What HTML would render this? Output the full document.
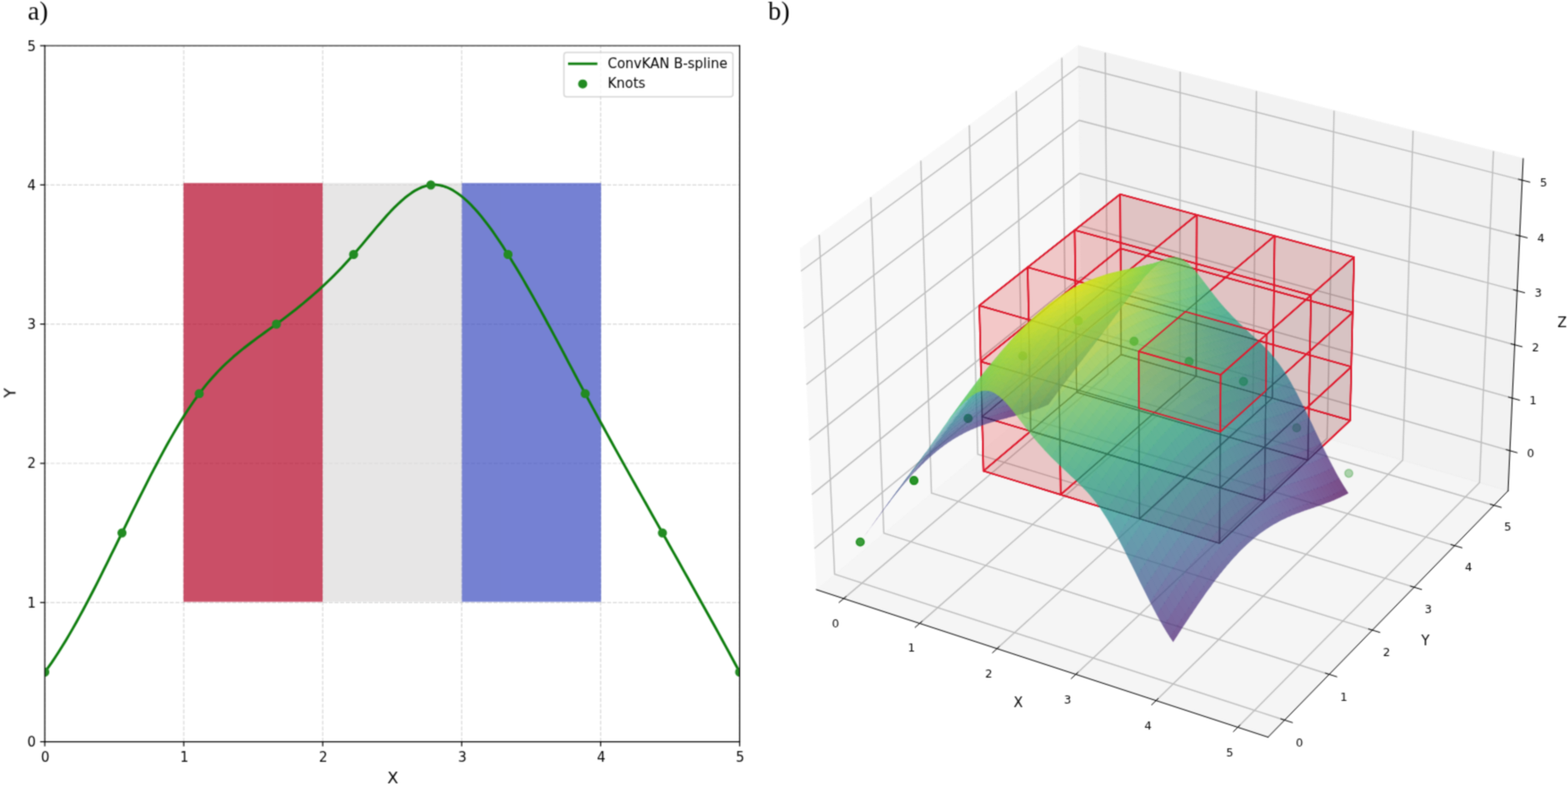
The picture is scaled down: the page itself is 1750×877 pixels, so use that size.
<!DOCTYPE html>
<html lang="en">
<head>
<meta charset="utf-8">
<title>ConvKAN B-spline</title>
<style>
html,body{margin:0;padding:0;background:#fff;}
body{width:1750px;height:877px;overflow:hidden;position:relative;font-family:"DejaVu Sans","Liberation Sans",sans-serif;}
svg{position:absolute;left:0;top:0;display:block;}
.sf path{opacity:0.7}
</style>
</head>
<body>
<svg width="1750" height="877" viewBox="0 0 1750 877">
<defs><clipPath id="c0"><rect x="50" y="51" width="775.5" height="776.6"/></clipPath><clipPath id="c1"><rect x="843.29" y="-18.34" width="897.52" height="897.52"/></clipPath><clipPath id="outs"><path clip-rule="evenodd" d="M-10 -10H1760V887H-10ZM998 552.2L960.1 604.8L976.1 582.7L992.4 560.7L1001.7 548.9L1010.4 538.5L1021.2 526.3L1029.8 517.5L1040.6 507.5L1049.2 500.4L1057.8 494.1L1066.4 488.6L1075 483.8L1085.6 478.7L1094.1 475.3L1104.6 471.7L1115.1 468.6L1134.4 463.5L1151.1 485.3L1162.2 498.2L1169.5 506.1L1176.8 513.6L1202.5 537.8L1209.9 545.2L1217.2 553.3L1220.9 557.8L1228.3 567.7L1235.7 579.1L1246.8 598.5L1257.9 619.9L1280 664.5L1291 685.7L1301.9 705L1309.3 716.3L1326.2 690.5L1338.7 671.9L1349 657.2L1359.3 643.5L1369.6 630.8L1379.7 619.4L1387.8 611.2L1397.8 602L1405.8 595.6L1413.7 590L1421.6 585.1L1431.3 579.9L1439.1 576.3L1448.7 572.4L1477 562.5L1486.4 559L1495.6 555L1504.8 550.2L1498.1 539.6L1487.9 521.4L1477.8 501.3L1454.1 452.4L1443.9 432.7L1437.1 420.7L1433.7 415.2L1426.8 405.2L1419.9 396.5L1413 388.9L1406.1 382L1381.9 359.4L1368.2 345L1357.8 332.9L1337.2 306.1L1330.3 298.2L1326.8 294.8L1323.4 291.9L1319.9 289.6L1316.5 287.9L1313 287L1309.5 286.8L1306.1 287.2L1302.7 288.2L1292.7 292L1280.9 295.5L1269.6 298.2L1267.9 298.4L1265.6 299L1263.8 299.2L1261.5 299.9L1259.7 300.1L1257.3 300.8L1251.4 301.9L1239 305.1L1225 309.3L1214.5 313.4L1206.7 316.9L1198.2 321.2L1184 329.8L1169.8 340.1L1155.6 352.1L1141.2 365.9L1129.1 378.7L1121.3 387.5L1111.3 399.3L1097 417.1L1087 430.1L1072.6 449.5L1048.2 483.4L1032.9 505.4Z"/></clipPath><filter id="soft" x="0" y="0" width="1750" height="877" filterUnits="userSpaceOnUse" color-interpolation-filters="sRGB"><feConvolveMatrix order="3" kernelMatrix="0.04 0.12 0.04 0.12 0.36 0.12 0.04 0.12 0.04" divisor="1" edgeMode="duplicate" preserveAlpha="false"/></filter></defs>
<g filter="url(#soft)">
<g>
<path d="M50 827.6L825.5 827.6L825.5 51L50 51Z" fill="#ffffff"/>
</g>
<g clip-path="url(#c0)" stroke="#b0b0b0" stroke-width="1.197" stroke-opacity="0.5" stroke-dasharray="4.43,1.91" stroke-linejoin="round">
<path d="M50 827.6L50 51" fill="none"/>
</g>
<g stroke="#000000" stroke-width="1.197" stroke-linejoin="round">
<path d="M50 827.6L50 832.8" fill="#000000"/>
</g>
<text x="45.85" y="849.57" font-family="'DejaVu Sans', 'Liberation Sans', sans-serif" font-size="14.96" fill="#000000">0</text>
<g clip-path="url(#c0)" stroke="#b0b0b0" stroke-width="1.197" stroke-opacity="0.5" stroke-dasharray="4.43,1.91" stroke-linejoin="round">
<path d="M205.1 827.6L205.1 51" fill="none"/>
</g>
<g stroke="#000000" stroke-width="1.197" stroke-linejoin="round">
<path d="M205.1 827.6L205.1 832.8" fill="#000000"/>
</g>
<text x="200.95" y="849.57" font-family="'DejaVu Sans', 'Liberation Sans', sans-serif" font-size="14.96" fill="#000000">1</text>
<g clip-path="url(#c0)" stroke="#b0b0b0" stroke-width="1.197" stroke-opacity="0.5" stroke-dasharray="4.43,1.91" stroke-linejoin="round">
<path d="M360.2 827.6L360.2 51" fill="none"/>
</g>
<g stroke="#000000" stroke-width="1.197" stroke-linejoin="round">
<path d="M360.2 827.6L360.2 832.8" fill="#000000"/>
</g>
<text x="355.99" y="849.57" font-family="'DejaVu Sans', 'Liberation Sans', sans-serif" font-size="14.96" fill="#000000">2</text>
<g clip-path="url(#c0)" stroke="#b0b0b0" stroke-width="1.197" stroke-opacity="0.5" stroke-dasharray="4.43,1.91" stroke-linejoin="round">
<path d="M515.3 827.6L515.3 51" fill="none"/>
</g>
<g stroke="#000000" stroke-width="1.197" stroke-linejoin="round">
<path d="M515.3 827.6L515.3 832.8" fill="#000000"/>
</g>
<text x="511.15" y="849.57" font-family="'DejaVu Sans', 'Liberation Sans', sans-serif" font-size="14.96" fill="#000000">3</text>
<g clip-path="url(#c0)" stroke="#b0b0b0" stroke-width="1.197" stroke-opacity="0.5" stroke-dasharray="4.43,1.91" stroke-linejoin="round">
<path d="M670.4 827.6L670.4 51" fill="none"/>
</g>
<g stroke="#000000" stroke-width="1.197" stroke-linejoin="round">
<path d="M670.4 827.6L670.4 832.8" fill="#000000"/>
</g>
<text x="666.25" y="849.57" font-family="'DejaVu Sans', 'Liberation Sans', sans-serif" font-size="14.96" fill="#000000">4</text>
<g clip-path="url(#c0)" stroke="#b0b0b0" stroke-width="1.197" stroke-opacity="0.5" stroke-dasharray="4.43,1.91" stroke-linejoin="round">
<path d="M825.5 827.6L825.5 51" fill="none"/>
</g>
<g stroke="#000000" stroke-width="1.197" stroke-linejoin="round">
<path d="M825.5 827.6L825.5 832.8" fill="#000000"/>
</g>
<text x="821.35" y="849.57" font-family="'DejaVu Sans', 'Liberation Sans', sans-serif" font-size="14.96" fill="#000000">5</text>
<text x="432.36" y="873.55" font-family="'DejaVu Sans', 'Liberation Sans', sans-serif" font-size="17.95" fill="#000000">X</text>
<g clip-path="url(#c0)" stroke="#b0b0b0" stroke-width="1.197" stroke-opacity="0.5" stroke-dasharray="4.43,1.91" stroke-linejoin="round">
<path d="M50 827.6L825.5 827.6" fill="none"/>
</g>
<g stroke="#000000" stroke-width="1.197" stroke-linejoin="round">
<path d="M50 827.6L44.8 827.6" fill="#000000"/>
</g>
<text x="30.53" y="833.1" font-family="'DejaVu Sans', 'Liberation Sans', sans-serif" font-size="14.96" fill="#000000">0</text>
<g clip-path="url(#c0)" stroke="#b0b0b0" stroke-width="1.197" stroke-opacity="0.5" stroke-dasharray="4.43,1.91" stroke-linejoin="round">
<path d="M50 672.3L825.5 672.3" fill="none"/>
</g>
<g stroke="#000000" stroke-width="1.197" stroke-linejoin="round">
<path d="M50 672.3L44.8 672.3" fill="#000000"/>
</g>
<text x="30.53" y="677.78" font-family="'DejaVu Sans', 'Liberation Sans', sans-serif" font-size="14.96" fill="#000000">1</text>
<g clip-path="url(#c0)" stroke="#b0b0b0" stroke-width="1.197" stroke-opacity="0.5" stroke-dasharray="4.43,1.91" stroke-linejoin="round">
<path d="M50 517L825.5 517" fill="none"/>
</g>
<g stroke="#000000" stroke-width="1.197" stroke-linejoin="round">
<path d="M50 517L44.8 517" fill="#000000"/>
</g>
<text x="30.4" y="522.46" font-family="'DejaVu Sans', 'Liberation Sans', sans-serif" font-size="14.96" fill="#000000">2</text>
<g clip-path="url(#c0)" stroke="#b0b0b0" stroke-width="1.197" stroke-opacity="0.5" stroke-dasharray="4.43,1.91" stroke-linejoin="round">
<path d="M50 361.6L825.5 361.6" fill="none"/>
</g>
<g stroke="#000000" stroke-width="1.197" stroke-linejoin="round">
<path d="M50 361.6L44.8 361.6" fill="#000000"/>
</g>
<text x="30.53" y="367.14" font-family="'DejaVu Sans', 'Liberation Sans', sans-serif" font-size="14.96" fill="#000000">3</text>
<g clip-path="url(#c0)" stroke="#b0b0b0" stroke-width="1.197" stroke-opacity="0.5" stroke-dasharray="4.43,1.91" stroke-linejoin="round">
<path d="M50 206.3L825.5 206.3" fill="none"/>
</g>
<g stroke="#000000" stroke-width="1.197" stroke-linejoin="round">
<path d="M50 206.3L44.8 206.3" fill="#000000"/>
</g>
<text x="30.53" y="211.82" font-family="'DejaVu Sans', 'Liberation Sans', sans-serif" font-size="14.96" fill="#000000">4</text>
<g clip-path="url(#c0)" stroke="#b0b0b0" stroke-width="1.197" stroke-opacity="0.5" stroke-dasharray="4.43,1.91" stroke-linejoin="round">
<path d="M50 51L825.5 51" fill="none"/>
</g>
<g stroke="#000000" stroke-width="1.197" stroke-linejoin="round">
<path d="M50 51L44.8 51" fill="#000000"/>
</g>
<text x="30.53" y="56.5" font-family="'DejaVu Sans', 'Liberation Sans', sans-serif" font-size="14.96" fill="#000000">5</text>
<text x="17.22" y="443.9" transform="rotate(-90 17.22 443.9)" font-family="'DejaVu Sans', 'Liberation Sans', sans-serif" font-size="17.95" fill="#000000">Y</text>
<g clip-path="url(#c0)" opacity="0.7">
<path d="M204.8 671.6L360.3 671.6L360.3 204.3L204.8 204.3Z" fill="#b40426"/>
<path d="M360.3 671.6L515.5 671.6L515.5 204.3L360.3 204.3Z" fill="#dddcdc"/>
<path d="M515.5 671.6L670.8 671.6L670.8 204.3L515.5 204.3Z" fill="#3b4cc0"/>
</g>
<g clip-path="url(#c0)" stroke="#0c7c0c" stroke-width="2.842" stroke-linejoin="round" stroke-linecap="square">
<path d="M50 749.9L53.9 744.6L57.8 739.1L61.7 733.3L65.6 727.3L69.5 721.1L73.4 714.7L77.3 708.1L81.2 701.4L85.1 694.5L89 687.4L92.9 680.2L96.8 672.9L100.7 665.5L104.6 658L108.5 650.4L112.4 642.7L116.2 634.9L120.1 627.1L124 619.2L127.9 611.4L131.8 603.4L135.7 595.5L139.6 587.6L143.5 579.6L147.4 571.7L151.3 563.9L155.2 556L159.1 548.3L163 540.6L166.9 532.9L170.8 525.4L174.7 518L178.6 510.6L182.5 503.4L186.4 496.3L190.3 489.4L194.2 482.6L198.1 476L202 469.6L205.9 463.3L209.8 457.3L213.7 451.5L217.6 445.8L221.5 440.5L225.4 435.3L229.3 430.4L233.2 425.7L237.1 421.3L241 417L244.8 412.9L248.7 409L252.6 405.3L256.5 401.7L260.4 398.2L264.3 394.9L268.2 391.7L272.1 388.5L276 385.5L279.9 382.5L283.8 379.6L287.7 376.7L291.6 373.9L295.5 371L299.4 368.2L303.3 365.4L307.2 362.6L311.1 359.7L315 356.8L318.9 353.9L322.8 350.9L326.7 347.9L330.6 344.8L334.5 341.7L338.4 338.5L342.3 335.2L346.2 331.9L350.1 328.5L354 325.1L357.9 321.6L361.8 318L365.7 314.3L369.6 310.5L373.4 306.7L377.3 302.7L381.2 298.7L385.1 294.5L389 290.3L392.9 285.9L396.8 281.5L400.7 276.9L404.6 272.3L408.5 267.7L412.4 263L416.3 258.3L420.2 253.7L424.1 249.2L428 244.7L431.9 240.3L435.8 236.1L439.7 232.1L443.6 228.2L447.5 224.6L451.4 221.2L455.3 218.1L459.2 215.3L463.1 212.8L467 210.7L470.9 208.9L474.8 207.6L478.7 206.6L482.6 206.2L486.5 206.2L490.4 206.6L494.3 207.5L498.2 208.8L502.1 210.5L505.9 212.6L509.8 215.1L513.7 217.9L517.6 221L521.5 224.5L525.4 228.3L529.3 232.4L533.2 236.8L537.1 241.4L541 246.3L544.9 251.4L548.8 256.7L552.7 262.2L556.6 268L560.5 273.8L564.4 279.9L568.3 286.1L572.2 292.4L576.1 298.8L580 305.3L583.9 311.9L587.8 318.7L591.7 325.5L595.6 332.4L599.5 339.4L603.4 346.4L607.3 353.5L611.2 360.7L615.1 367.9L619 375.1L622.9 382.4L626.8 389.7L630.7 397L634.5 404.4L638.4 411.7L642.3 419L646.2 426.3L650.1 433.6L654 440.9L657.9 448.2L661.8 455.4L665.7 462.5L669.6 469.7L673.5 476.8L677.4 483.9L681.3 491L685.2 498.1L689.1 505.1L693 512.1L696.9 519.1L700.8 526.1L704.7 533.1L708.6 540L712.5 547L716.4 553.9L720.3 560.8L724.2 567.7L728.1 574.7L732 581.6L735.9 588.5L739.8 595.4L743.7 602.3L747.6 609.2L751.5 616.1L755.4 623L759.3 630L763.1 636.9L767 643.8L770.9 650.8L774.8 657.7L778.7 664.7L782.6 671.7L786.5 678.7L790.4 685.7L794.3 692.8L798.2 699.8L802.1 706.9L806 714L809.9 721.1L813.8 728.3L817.7 735.5L821.6 742.7L825.5 749.9" fill="none"/>
</g>
<g clip-path="url(#c0)" stroke="#228b22" stroke-width="1.496" stroke-linejoin="round">
<path d="M50 754.3C51.2 754.3 52.3 753.8 53.1 753C53.9 752.2 54.3 751.1 54.3 749.9C54.3 748.8 53.9 747.7 53.1 746.9C52.3 746.1 51.2 745.6 50 745.6C48.8 745.6 47.7 746.1 46.9 746.9C46.1 747.7 45.7 748.8 45.7 749.9C45.7 751.1 46.1 752.2 46.9 753C47.7 753.8 48.8 754.3 50 754.3Z" fill="#228b22"/>
<path d="M136.2 599C137.3 599 138.4 598.5 139.2 597.7C140 596.9 140.5 595.8 140.5 594.6C140.5 593.5 140 592.4 139.2 591.6C138.4 590.7 137.3 590.3 136.2 590.3C135 590.3 133.9 590.7 133.1 591.6C132.3 592.4 131.8 593.5 131.8 594.6C131.8 595.8 132.3 596.9 133.1 597.7C133.9 598.5 135 599 136.2 599Z" fill="#228b22"/>
<path d="M222.3 443.6C223.5 443.6 224.6 443.2 225.4 442.4C226.2 441.6 226.7 440.5 226.7 439.3C226.7 438.1 226.2 437 225.4 436.2C224.6 435.4 223.5 435 222.3 435C221.2 435 220.1 435.4 219.3 436.2C218.5 437 218 438.1 218 439.3C218 440.5 218.5 441.6 219.3 442.4C220.1 443.2 221.2 443.6 222.3 443.6Z" fill="#228b22"/>
<path d="M308.5 366C309.7 366 310.8 365.5 311.6 364.7C312.4 363.9 312.8 362.8 312.8 361.6C312.8 360.5 312.4 359.4 311.6 358.6C310.8 357.8 309.7 357.3 308.5 357.3C307.3 357.3 306.2 357.8 305.4 358.6C304.6 359.4 304.2 360.5 304.2 361.6C304.2 362.8 304.6 363.9 305.4 364.7C306.2 365.5 307.3 366 308.5 366Z" fill="#228b22"/>
<path d="M394.7 288.3C395.8 288.3 396.9 287.9 397.7 287C398.5 286.2 399 285.1 399 284C399 282.8 398.5 281.7 397.7 280.9C396.9 280.1 395.8 279.6 394.7 279.6C393.5 279.6 392.4 280.1 391.6 280.9C390.8 281.7 390.3 282.8 390.3 284C390.3 285.1 390.8 286.2 391.6 287C392.4 287.9 393.5 288.3 394.7 288.3Z" fill="#228b22"/>
<path d="M480.8 210.7C482 210.7 483.1 210.2 483.9 209.4C484.7 208.6 485.2 207.5 485.2 206.3C485.2 205.2 484.7 204.1 483.9 203.3C483.1 202.4 482 202 480.8 202C479.7 202 478.6 202.4 477.8 203.3C477 204.1 476.5 205.2 476.5 206.3C476.5 207.5 477 208.6 477.8 209.4C478.6 210.2 479.7 210.7 480.8 210.7Z" fill="#228b22"/>
<path d="M567 288.3C568.2 288.3 569.3 287.9 570.1 287C570.9 286.2 571.3 285.1 571.3 284C571.3 282.8 570.9 281.7 570.1 280.9C569.3 280.1 568.2 279.6 567 279.6C565.8 279.6 564.7 280.1 563.9 280.9C563.1 281.7 562.7 282.8 562.7 284C562.7 285.1 563.1 286.2 563.9 287C564.7 287.9 565.8 288.3 567 288.3Z" fill="#228b22"/>
<path d="M653.2 443.6C654.3 443.6 655.4 443.2 656.2 442.4C657 441.6 657.5 440.5 657.5 439.3C657.5 438.1 657 437 656.2 436.2C655.4 435.4 654.3 435 653.2 435C652 435 650.9 435.4 650.1 436.2C649.3 437 648.8 438.1 648.8 439.3C648.8 440.5 649.3 441.6 650.1 442.4C650.9 443.2 652 443.6 653.2 443.6Z" fill="#228b22"/>
<path d="M739.3 599C740.5 599 741.6 598.5 742.4 597.7C743.2 596.9 743.7 595.8 743.7 594.6C743.7 593.5 743.2 592.4 742.4 591.6C741.6 590.7 740.5 590.3 739.3 590.3C738.2 590.3 737.1 590.7 736.3 591.6C735.5 592.4 735 593.5 735 594.6C735 595.8 735.5 596.9 736.3 597.7C737.1 598.5 738.2 599 739.3 599Z" fill="#228b22"/>
<path d="M825.5 754.3C826.7 754.3 827.8 753.8 828.6 753C829.4 752.2 829.8 751.1 829.8 749.9C829.8 748.8 829.4 747.7 828.6 746.9C827.8 746.1 826.7 745.6 825.5 745.6C824.3 745.6 823.2 746.1 822.4 746.9C821.6 747.7 821.2 748.8 821.2 749.9C821.2 751.1 821.6 752.2 822.4 753C823.2 753.8 824.3 754.3 825.5 754.3Z" fill="#228b22"/>
</g>
<g stroke="#000000" stroke-width="1.197" stroke-linecap="square">
<path d="M50 827.6L50 51" fill="none"/>
<path d="M825.5 827.6L825.5 51" fill="none"/>
<path d="M50 827.6L825.5 827.6" fill="none"/>
<path d="M50 51L825.5 51" fill="none"/>
</g>
<g opacity="0.8" stroke="#cccccc" stroke-width="1.496">
<path d="M632.4 107.9L815 107.9Q818 107.9 818 104.9L818 61.5Q818 58.5 815 58.5L632.4 58.5Q629.4 58.5 629.4 61.5L629.4 104.9Q629.4 107.9 632.4 107.9Z" fill="#ffffff"/>
</g>
<g stroke="#0c7c0c" stroke-width="2.842" stroke-linejoin="round" stroke-linecap="square">
<path d="M635.4 71.2L650.4 71.2L665.3 71.2" fill="none"/>
</g>
<text x="678.29" y="75.66" font-family="'DejaVu Sans', 'Liberation Sans', sans-serif" font-size="14.96" fill="#000000">ConvKAN B-spline</text>
<g stroke="#228b22" stroke-width="1.496" stroke-linejoin="round">
<path d="M650.4 98C651.5 98 652.6 97.6 653.4 96.8C654.2 96 654.7 94.9 654.7 93.7C654.7 92.6 654.2 91.5 653.4 90.6C652.6 89.8 651.5 89.4 650.4 89.4C649.2 89.4 648.1 89.8 647.3 90.6C646.5 91.5 646 92.6 646 93.7C646 94.9 646.5 96 647.3 96.8C648.1 97.6 649.2 98 650.4 98Z" fill="#228b22"/>
</g>
<text x="678.29" y="98.14" font-family="'DejaVu Sans', 'Liberation Sans', sans-serif" font-size="14.96" fill="#000000">Knots</text>
<g opacity="0.5" stroke="#f2f2f2" stroke-width="1.264">
<path d="M911.1 657.9L1207.5 409.4L1203.3 51.1L892.8 277.8" fill="#f2f2f2"/>
</g>
<g opacity="0.5" stroke="#e6e6e6" stroke-width="1.264">
<path d="M1207.5 409.4L1683.1 547.7L1700 177L1203.3 51.1" fill="#e6e6e6"/>
</g>
<g opacity="0.5" stroke="#ececec" stroke-width="1.264">
<path d="M911.1 657.9L1415.2 822.5L1683.1 547.7L1207.5 409.4" fill="#ececec"/>
</g>
<g stroke="#bcbcbc" stroke-width="1.4" stroke-linejoin="round">
<path d="M941.7 667.9L1236.4 417.9L1233.5 58.8" fill="none"/>
<path d="M1026.4 695.6L1316.7 441.2L1317.2 80" fill="none"/>
<path d="M1112.7 723.7L1398.2 464.9L1402.3 101.6" fill="none"/>
<path d="M1200.7 752.5L1481.2 489L1488.9 123.5" fill="none"/>
<path d="M1290.2 781.7L1565.5 513.5L1577.1 145.9" fill="none"/>
<path d="M1381.4 811.5L1651.3 538.5L1666.8 168.6" fill="none"/>
<path d="M914.3 262.1L931.5 640.7L1433.8 803.5" fill="none"/>
<path d="M971.9 220L986.4 594.8L1483.5 752.5" fill="none"/>
<path d="M1027.7 179.3L1039.6 550.2L1531.6 703.1" fill="none"/>
<path d="M1081.8 139.8L1091.2 506.9L1578.3 655.2" fill="none"/>
<path d="M1134.2 101.6L1141.3 464.9L1623.5 608.8" fill="none"/>
<path d="M1185.1 64.4L1190 424.1L1667.4 563.8" fill="none"/>
<path d="M1685.1 502.8L1207 366L908.9 612" fill="none"/>
<path d="M1687.8 444.2L1206.3 309.2L906 551.9" fill="none"/>
<path d="M1690.5 384.7L1205.6 251.7L903 490.9" fill="none"/>
<path d="M1693.3 324.4L1205 193.4L900 429" fill="none"/>
<path d="M1696.1 263.2L1204.3 134.3L897 366.2" fill="none"/>
<path d="M1698.9 201.1L1203.6 74.3L893.9 302.5" fill="none"/>
</g>
<g stroke="#000000" stroke-width="1" stroke-linejoin="round" stroke-linecap="square">
<path d="M911.1 657.9L1415.2 822.5" fill="none"/>
<path d="M944.2 665.7L936.5 672.2" fill="none"/>
</g>
<text x="928.47" y="699.58" font-family="'DejaVu Sans', 'Liberation Sans', sans-serif" font-size="12.64" fill="#000000">0</text>
<g stroke="#000000" stroke-width="1" stroke-linejoin="round" stroke-linecap="square">
<path d="M1029 693.3L1021.4 700" fill="none"/>
</g>
<text x="1013.27" y="727.49" font-family="'DejaVu Sans', 'Liberation Sans', sans-serif" font-size="12.64" fill="#000000">1</text>
<g stroke="#000000" stroke-width="1" stroke-linejoin="round" stroke-linecap="square">
<path d="M1115.2 721.5L1107.8 728.3" fill="none"/>
</g>
<text x="1099.62" y="755.9" font-family="'DejaVu Sans', 'Liberation Sans', sans-serif" font-size="12.64" fill="#000000">2</text>
<g stroke="#000000" stroke-width="1" stroke-linejoin="round" stroke-linecap="square">
<path d="M1203.1 750.2L1195.7 757.1" fill="none"/>
</g>
<text x="1187.57" y="784.84" font-family="'DejaVu Sans', 'Liberation Sans', sans-serif" font-size="12.64" fill="#000000">3</text>
<g stroke="#000000" stroke-width="1" stroke-linejoin="round" stroke-linecap="square">
<path d="M1292.6 779.4L1285.4 786.4" fill="none"/>
</g>
<text x="1277.16" y="814.32" font-family="'DejaVu Sans', 'Liberation Sans', sans-serif" font-size="12.64" fill="#000000">4</text>
<g stroke="#000000" stroke-width="1" stroke-linejoin="round" stroke-linecap="square">
<path d="M1383.8 809.1L1376.7 816.3" fill="none"/>
</g>
<text x="1368.44" y="844.36" font-family="'DejaVu Sans', 'Liberation Sans', sans-serif" font-size="12.64" fill="#000000">5</text>
<text x="1131.33" y="789.09" font-family="'DejaVu Sans', 'Liberation Sans', sans-serif" font-size="15.17" fill="#000000">X</text>
<g stroke="#000000" stroke-width="1" stroke-linejoin="round" stroke-linecap="square">
<path d="M1683.1 547.7L1415.2 822.5" fill="none"/>
<path d="M1429.6 802.1L1442.3 806.2" fill="none"/>
</g>
<text x="1446.27" y="832.84" font-family="'DejaVu Sans', 'Liberation Sans', sans-serif" font-size="12.64" fill="#000000">0</text>
<g stroke="#000000" stroke-width="1" stroke-linejoin="round" stroke-linecap="square">
<path d="M1479.3 751.1L1491.9 755.1" fill="none"/>
</g>
<text x="1495.72" y="781.55" font-family="'DejaVu Sans', 'Liberation Sans', sans-serif" font-size="12.64" fill="#000000">1</text>
<g stroke="#000000" stroke-width="1" stroke-linejoin="round" stroke-linecap="square">
<path d="M1527.5 701.8L1539.9 705.6" fill="none"/>
</g>
<text x="1543.62" y="731.87" font-family="'DejaVu Sans', 'Liberation Sans', sans-serif" font-size="12.64" fill="#000000">2</text>
<g stroke="#000000" stroke-width="1" stroke-linejoin="round" stroke-linecap="square">
<path d="M1574.2 654L1586.5 657.7" fill="none"/>
</g>
<text x="1590.02" y="683.74" font-family="'DejaVu Sans', 'Liberation Sans', sans-serif" font-size="12.64" fill="#000000">3</text>
<g stroke="#000000" stroke-width="1" stroke-linejoin="round" stroke-linecap="square">
<path d="M1619.4 607.6L1631.6 611.2" fill="none"/>
</g>
<text x="1635.01" y="637.08" font-family="'DejaVu Sans', 'Liberation Sans', sans-serif" font-size="12.64" fill="#000000">4</text>
<g stroke="#000000" stroke-width="1" stroke-linejoin="round" stroke-linecap="square">
<path d="M1663.3 562.6L1675.4 566.1" fill="none"/>
</g>
<text x="1678.65" y="591.82" font-family="'DejaVu Sans', 'Liberation Sans', sans-serif" font-size="12.64" fill="#000000">5</text>
<text x="1586.13" y="720.13" font-family="'DejaVu Sans', 'Liberation Sans', sans-serif" font-size="15.17" fill="#000000">Y</text>
<g stroke="#000000" stroke-width="1" stroke-linejoin="round" stroke-linecap="square">
<path d="M1683.1 547.7L1700 177" fill="none"/>
<path d="M1681.1 501.7L1693.1 505.1" fill="none"/>
</g>
<text x="1704.14" y="509.68" font-family="'DejaVu Sans', 'Liberation Sans', sans-serif" font-size="12.64" fill="#000000">0</text>
<g stroke="#000000" stroke-width="1" stroke-linejoin="round" stroke-linecap="square">
<path d="M1683.7 443.1L1695.9 446.5" fill="none"/>
</g>
<text x="1706.98" y="451.07" font-family="'DejaVu Sans', 'Liberation Sans', sans-serif" font-size="12.64" fill="#000000">1</text>
<g stroke="#000000" stroke-width="1" stroke-linejoin="round" stroke-linecap="square">
<path d="M1686.4 383.6L1698.7 386.9" fill="none"/>
</g>
<text x="1709.87" y="391.63" font-family="'DejaVu Sans', 'Liberation Sans', sans-serif" font-size="12.64" fill="#000000">2</text>
<g stroke="#000000" stroke-width="1" stroke-linejoin="round" stroke-linecap="square">
<path d="M1689.2 323.3L1701.5 326.6" fill="none"/>
</g>
<text x="1712.8" y="331.34" font-family="'DejaVu Sans', 'Liberation Sans', sans-serif" font-size="12.64" fill="#000000">3</text>
<g stroke="#000000" stroke-width="1" stroke-linejoin="round" stroke-linecap="square">
<path d="M1691.9 262.1L1704.4 265.3" fill="none"/>
</g>
<text x="1715.77" y="270.18" font-family="'DejaVu Sans', 'Liberation Sans', sans-serif" font-size="12.64" fill="#000000">4</text>
<g stroke="#000000" stroke-width="1" stroke-linejoin="round" stroke-linecap="square">
<path d="M1694.8 200L1707.3 203.2" fill="none"/>
</g>
<text x="1718.78" y="208.14" font-family="'DejaVu Sans', 'Liberation Sans', sans-serif" font-size="12.64" fill="#000000">5</text>
<text x="1738.17" y="364.95" font-family="'DejaVu Sans', 'Liberation Sans', sans-serif" font-size="15.17" fill="#000000">Z</text>
<g clip-path="url(#c1)" fill-opacity="0.1" stroke="#3a0008" stroke-width="1.1" stroke-linejoin="round">
<path d="M1251.3 395.6L1250.9 336.8L1335.2 360.5L1335 419.7Z" fill="#6a0000"/>
<path d="M1200.9 378.2L1250.9 336.8L1251.3 395.6L1201.6 437.6Z" fill="#e10000"/>
<path d="M1251.3 395.6L1335 419.7L1286.1 462.4L1201.6 437.6Z" fill="#880000"/>
<path d="M1250.9 336.8L1250.6 277.2L1335.4 300.6L1335.2 360.5Z" fill="#6a0000"/>
<path d="M1200.2 317.9L1250.6 277.2L1250.9 336.8L1200.9 378.2Z" fill="#e10000"/>
<path d="M1335.2 360.5L1335.4 300.6L1421.8 324.4L1420.9 384.7Z" fill="#6a0000"/>
<path d="M1335 419.7L1335.2 360.5L1420.9 384.7L1420.1 444.2Z" fill="#6a0000"/>
<path d="M1335 419.7L1420.1 444.2L1372.1 487.7L1286.1 462.4Z" fill="#880000"/>
<path d="M1149.3 420.9L1200.9 378.2L1201.6 437.6L1150.4 480.9Z" fill="#e10000"/>
<path d="M1201.6 437.6L1286.1 462.4L1235.8 506.5L1150.4 480.9Z" fill="#880000"/>
<path d="M1148.2 360L1200.2 317.9L1200.9 378.2L1149.3 420.9Z" fill="#e10000"/>
<path d="M1250.6 277.2L1250.2 216.7L1335.6 239.7L1335.4 300.6Z" fill="#6a0000"/>
<path d="M1199.4 256.8L1250.2 216.7L1250.6 277.2L1200.2 317.9Z" fill="#e10000"/>
<path d="M1199.4 256.8L1285.7 280.6L1335.6 239.7L1250.2 216.7Z" fill="#c30000"/>
<path d="M1286.1 462.4L1372.1 487.7L1322.7 532.5L1235.8 506.5Z" fill="#880000"/>
<path d="M1420.1 444.2L1420.9 384.7L1508.2 409.3L1506.8 469.1Z" fill="#6a0000"/>
<path d="M1420.1 444.2L1506.8 469.1L1459.7 513.4L1372.1 487.7Z" fill="#880000"/>
<path d="M1459.7 513.4L1506.8 469.1L1508.2 409.3L1460.8 452.9Z" fill="#6a0000"/>
<path d="M1335.4 300.6L1335.6 239.7L1422.6 263.2L1421.8 324.4Z" fill="#6a0000"/>
<path d="M1285.7 280.6L1373.6 304.7L1422.6 263.2L1335.6 239.7Z" fill="#c30000"/>
<path d="M1420.9 384.7L1421.8 324.4L1509.7 348.6L1508.2 409.3Z" fill="#6a0000"/>
<path d="M1460.8 452.9L1508.2 409.3L1509.7 348.6L1462 391.6Z" fill="#6a0000"/>
</g>
<g clip-path="url(#c1)" fill-opacity="0.3" stroke="#008000" stroke-width="1.264" stroke-opacity="0.3" stroke-linejoin="round">
<path d="M1505.3 532.6C1506.5 532.6 1507.7 532.1 1508.5 531.3C1509.3 530.4 1509.8 529.3 1509.8 528.1C1509.8 526.9 1509.3 525.8 1508.5 525C1507.7 524.1 1506.5 523.7 1505.3 523.7C1504.1 523.7 1503 524.1 1502.2 525C1501.3 525.8 1500.9 526.9 1500.9 528.1C1500.9 529.3 1501.3 530.4 1502.2 531.3C1503 532.1 1504.1 532.6 1505.3 532.6Z" fill="#008000"/>
</g>
<g clip-path="url(#c1)" fill-opacity="0.473" stroke="#008000" stroke-width="1.264" stroke-opacity="0.473" stroke-linejoin="round">
<path d="M1447.1 481.8C1448.3 481.8 1449.5 481.3 1450.3 480.5C1451.1 479.7 1451.6 478.5 1451.6 477.3C1451.6 476.2 1451.1 475 1450.3 474.2C1449.5 473.3 1448.3 472.9 1447.1 472.9C1446 472.9 1444.8 473.3 1444 474.2C1443.2 475 1442.7 476.2 1442.7 477.3C1442.7 478.5 1443.2 479.7 1444 480.5C1444.8 481.3 1446 481.8 1447.1 481.8Z" fill="#008000"/>
</g>
<g clip-path="url(#c1)" fill-opacity="0.649" stroke="#008000" stroke-width="1.264" stroke-opacity="0.649" stroke-linejoin="round">
<path d="M1387.8 430C1389 430 1390.1 429.5 1390.9 428.7C1391.8 427.9 1392.3 426.7 1392.3 425.5C1392.3 424.3 1391.8 423.2 1390.9 422.4C1390.1 421.5 1389 421.1 1387.8 421.1C1386.6 421.1 1385.5 421.5 1384.6 422.4C1383.8 423.2 1383.3 424.3 1383.3 425.5C1383.3 426.7 1383.8 427.9 1384.6 428.7C1385.5 429.5 1386.6 430 1387.8 430Z" fill="#008000"/>
</g>
<g clip-path="url(#c1)" fill-opacity="0.755" stroke="#008000" stroke-width="1.264" stroke-opacity="0.755" stroke-linejoin="round">
<path d="M960.1 609.2C961.3 609.2 962.4 608.8 963.3 607.9C964.1 607.1 964.6 606 964.6 604.8C964.6 603.6 964.1 602.4 963.3 601.6C962.4 600.8 961.3 600.3 960.1 600.3C958.9 600.3 957.8 600.8 956.9 601.6C956.1 602.4 955.6 603.6 955.6 604.8C955.6 606 956.1 607.1 956.9 607.9C957.8 608.8 958.9 609.2 960.1 609.2Z" fill="#008000"/>
</g>
<g clip-path="url(#c1)" fill-opacity="0.765" stroke="#008000" stroke-width="1.264" stroke-opacity="0.765" stroke-linejoin="round">
<path d="M1327.1 407.8C1328.3 407.8 1329.5 407.3 1330.3 406.5C1331.1 405.6 1331.6 404.5 1331.6 403.3C1331.6 402.1 1331.1 401 1330.3 400.1C1329.5 399.3 1328.3 398.8 1327.1 398.8C1325.9 398.8 1324.8 399.3 1324 400.1C1323.1 401 1322.7 402.1 1322.7 403.3C1322.7 404.5 1323.1 405.6 1324 406.5C1324.8 407.3 1325.9 407.8 1327.1 407.8Z" fill="#008000"/>
</g>
<g clip-path="url(#c1)" fill-opacity="0.831" stroke="#008000" stroke-width="1.264" stroke-opacity="0.831" stroke-linejoin="round">
<path d="M1020 540.6C1021.2 540.6 1022.4 540.2 1023.2 539.3C1024 538.5 1024.5 537.4 1024.5 536.2C1024.5 535 1024 533.8 1023.2 533C1022.4 532.2 1021.2 531.7 1020 531.7C1018.9 531.7 1017.7 532.2 1016.9 533C1016 533.8 1015.6 535 1015.6 536.2C1015.6 537.4 1016 538.5 1016.9 539.3C1017.7 540.2 1018.9 540.6 1020 540.6Z" fill="#008000"/>
</g>
<g clip-path="url(#c1)" fill-opacity="0.882" stroke="#008000" stroke-width="1.264" stroke-opacity="0.882" stroke-linejoin="round">
<path d="M1265.7 385.3C1266.9 385.3 1268 384.8 1268.8 383.9C1269.7 383.1 1270.1 382 1270.1 380.8C1270.1 379.6 1269.7 378.5 1268.8 377.6C1268 376.8 1266.9 376.3 1265.7 376.3C1264.5 376.3 1263.4 376.8 1262.5 377.6C1261.7 378.5 1261.2 379.6 1261.2 380.8C1261.2 382 1261.7 383.1 1262.5 383.9C1263.4 384.8 1264.5 385.3 1265.7 385.3Z" fill="#008000"/>
</g>
<g clip-path="url(#c1)" fill-opacity="0.909" stroke="#008000" stroke-width="1.264" stroke-opacity="0.909" stroke-linejoin="round">
<path d="M1080.5 471.4C1081.7 471.4 1082.8 471 1083.7 470.1C1084.5 469.3 1085 468.2 1085 467C1085 465.8 1084.5 464.6 1083.7 463.8C1082.8 463 1081.7 462.5 1080.5 462.5C1079.3 462.5 1078.2 463 1077.4 463.8C1076.5 464.6 1076 465.8 1076 467C1076 468.2 1076.5 469.3 1077.4 470.1C1078.2 471 1079.3 471.4 1080.5 471.4Z" fill="#008000"/>
</g>
<g clip-path="url(#c1)" fill-opacity="0.987" stroke="#008000" stroke-width="1.264" stroke-opacity="0.987" stroke-linejoin="round">
<path d="M1141.5 401.6C1142.7 401.6 1143.8 401.2 1144.7 400.3C1145.5 399.5 1146 398.4 1146 397.2C1146 396 1145.5 394.8 1144.7 394C1143.8 393.2 1142.7 392.7 1141.5 392.7C1140.3 392.7 1139.2 393.2 1138.3 394C1137.5 394.8 1137 396 1137 397.2C1137 398.4 1137.5 399.5 1138.3 400.3C1139.2 401.2 1140.3 401.6 1141.5 401.6Z" fill="#008000"/>
</g>
<g clip-path="url(#c1)" stroke="#008000" stroke-width="1.264" stroke-linejoin="round">
<path d="M1203.4 362.4C1204.6 362.4 1205.7 362 1206.6 361.1C1207.4 360.3 1207.9 359.2 1207.9 358C1207.9 356.8 1207.4 355.6 1206.6 354.8C1205.7 354 1204.6 353.5 1203.4 353.5C1202.2 353.5 1201.1 354 1200.2 354.8C1199.4 355.6 1198.9 356.8 1198.9 358C1198.9 359.2 1199.4 360.3 1200.2 361.1C1201.1 362 1202.2 362.4 1203.4 362.4Z" fill="#008000"/>
</g>
<g clip-path="url(#c1)" fill-opacity="0.1" stroke="#3a0008" stroke-width="1.1" stroke-linejoin="round">
<path d="M1147 298.2L1199.4 256.8L1200.2 317.9L1148.2 360Z" fill="#e10000"/>
<path d="M1147 298.2L1234.3 322.7L1285.7 280.6L1199.4 256.8Z" fill="#c30000"/>
<path d="M1096.1 464.9L1149.3 420.9L1150.4 480.9L1097.6 525.5Z" fill="#e10000"/>
<path d="M1150.4 480.9L1235.8 506.5L1183.8 551.9L1097.6 525.5Z" fill="#880000"/>
<path d="M1183.8 551.9L1182.9 490.9L1096.1 464.9L1097.6 525.5Z" fill="#e10000"/>
<path d="M1421.8 324.4L1422.6 263.2L1511.2 287L1509.7 348.6Z" fill="#6a0000"/>
<path d="M1373.6 304.7L1463.2 329.4L1511.2 287L1422.6 263.2Z" fill="#c30000"/>
<path d="M1462 391.6L1509.7 348.6L1511.2 287L1463.2 329.4Z" fill="#6a0000"/>
<path d="M1372.1 487.7L1459.7 513.4L1411.2 559.1L1322.7 532.5Z" fill="#880000"/>
<path d="M1411.2 559.1L1459.7 513.4L1460.8 452.9L1412 498Z" fill="#6a0000"/>
<path d="M1094.6 403.4L1148.2 360L1149.3 420.9L1096.1 464.9Z" fill="#e10000"/>
<path d="M1182.9 490.9L1182 429L1094.6 403.4L1096.1 464.9Z" fill="#e10000"/>
<path d="M1234.3 322.7L1323.1 347.7L1373.6 304.7L1285.7 280.6Z" fill="#c30000"/>
<path d="M1235.8 506.5L1322.7 532.5L1271.6 578.8L1183.8 551.9Z" fill="#880000"/>
<path d="M1271.6 578.8L1271.4 517.4L1182.9 490.9L1183.8 551.9Z" fill="#e10000"/>
<path d="M1412 498L1460.8 452.9L1462 391.6L1412.8 436Z" fill="#6a0000"/>
<path d="M1093 340.9L1147 298.2L1148.2 360L1094.6 403.4Z" fill="#e10000"/>
<path d="M1093 340.9L1181.1 366.2L1234.3 322.7L1147 298.2Z" fill="#c30000"/>
<path d="M1182 429L1181.1 366.2L1093 340.9L1094.6 403.4Z" fill="#e10000"/>
<path d="M1271.4 517.4L1271.2 455.2L1182 429L1182.9 490.9Z" fill="#e10000"/>
<path d="M1323.1 347.7L1413.6 373.1L1463.2 329.4L1373.6 304.7Z" fill="#c30000"/>
<path d="M1412.8 436L1462 391.6L1463.2 329.4L1413.6 373.1Z" fill="#6a0000"/>
<path d="M1322.7 532.5L1411.2 559.1L1361.1 606.2L1271.6 578.8Z" fill="#880000"/>
<path d="M1361.1 606.2L1411.2 559.1L1412 498L1361.5 544.5Z" fill="#6a0000"/>
<path d="M1361.1 606.2L1361.5 544.5L1271.4 517.4L1271.6 578.8Z" fill="#e10000"/>
<path d="M1181.1 366.2L1270.9 392L1323.1 347.7L1234.3 322.7Z" fill="#c30000"/>
<path d="M1271.2 455.2L1270.9 392L1181.1 366.2L1182 429Z" fill="#e10000"/>
<path d="M1361.5 544.5L1412 498L1412.8 436L1361.9 481.8Z" fill="#6a0000"/>
<path d="M1361.5 544.5L1361.9 481.8L1271.2 455.2L1271.4 517.4Z" fill="#e10000"/>
</g>
<g clip-path="url(#outs)" stroke="#e4182c" stroke-width="1.6" stroke-linejoin="round">
<path d="M1251.3 395.6L1250.9 336.8L1335.2 360.5L1335 419.7Z" fill="none"/>
<path d="M1200.9 378.2L1250.9 336.8L1251.3 395.6L1201.6 437.6Z" fill="none"/>
<path d="M1251.3 395.6L1335 419.7L1286.1 462.4L1201.6 437.6Z" fill="none"/>
<path d="M1250.9 336.8L1250.6 277.2L1335.4 300.6L1335.2 360.5Z" fill="none"/>
<path d="M1200.2 317.9L1250.6 277.2L1250.9 336.8L1200.9 378.2Z" fill="none"/>
<path d="M1335.2 360.5L1335.4 300.6L1421.8 324.4L1420.9 384.7Z" fill="none"/>
<path d="M1335 419.7L1335.2 360.5L1420.9 384.7L1420.1 444.2Z" fill="none"/>
<path d="M1335 419.7L1420.1 444.2L1372.1 487.7L1286.1 462.4Z" fill="none"/>
<path d="M1149.3 420.9L1200.9 378.2L1201.6 437.6L1150.4 480.9Z" fill="none"/>
<path d="M1201.6 437.6L1286.1 462.4L1235.8 506.5L1150.4 480.9Z" fill="none"/>
<path d="M1148.2 360L1200.2 317.9L1200.9 378.2L1149.3 420.9Z" fill="none"/>
<path d="M1250.6 277.2L1250.2 216.7L1335.6 239.7L1335.4 300.6Z" fill="none"/>
<path d="M1199.4 256.8L1250.2 216.7L1250.6 277.2L1200.2 317.9Z" fill="none"/>
<path d="M1199.4 256.8L1285.7 280.6L1335.6 239.7L1250.2 216.7Z" fill="none"/>
<path d="M1286.1 462.4L1372.1 487.7L1322.7 532.5L1235.8 506.5Z" fill="none"/>
<path d="M1420.1 444.2L1420.9 384.7L1508.2 409.3L1506.8 469.1Z" fill="none"/>
<path d="M1420.1 444.2L1506.8 469.1L1459.7 513.4L1372.1 487.7Z" fill="none"/>
<path d="M1459.7 513.4L1506.8 469.1L1508.2 409.3L1460.8 452.9Z" fill="none"/>
<path d="M1335.4 300.6L1335.6 239.7L1422.6 263.2L1421.8 324.4Z" fill="none"/>
<path d="M1285.7 280.6L1373.6 304.7L1422.6 263.2L1335.6 239.7Z" fill="none"/>
<path d="M1420.9 384.7L1421.8 324.4L1509.7 348.6L1508.2 409.3Z" fill="none"/>
<path d="M1460.8 452.9L1508.2 409.3L1509.7 348.6L1462 391.6Z" fill="none"/>
<path d="M1147 298.2L1199.4 256.8L1200.2 317.9L1148.2 360Z" fill="none"/>
<path d="M1147 298.2L1234.3 322.7L1285.7 280.6L1199.4 256.8Z" fill="none"/>
<path d="M1096.1 464.9L1149.3 420.9L1150.4 480.9L1097.6 525.5Z" fill="none"/>
<path d="M1150.4 480.9L1235.8 506.5L1183.8 551.9L1097.6 525.5Z" fill="none"/>
<path d="M1183.8 551.9L1182.9 490.9L1096.1 464.9L1097.6 525.5Z" fill="none"/>
<path d="M1421.8 324.4L1422.6 263.2L1511.2 287L1509.7 348.6Z" fill="none"/>
<path d="M1373.6 304.7L1463.2 329.4L1511.2 287L1422.6 263.2Z" fill="none"/>
<path d="M1462 391.6L1509.7 348.6L1511.2 287L1463.2 329.4Z" fill="none"/>
<path d="M1372.1 487.7L1459.7 513.4L1411.2 559.1L1322.7 532.5Z" fill="none"/>
<path d="M1411.2 559.1L1459.7 513.4L1460.8 452.9L1412 498Z" fill="none"/>
<path d="M1094.6 403.4L1148.2 360L1149.3 420.9L1096.1 464.9Z" fill="none"/>
<path d="M1182.9 490.9L1182 429L1094.6 403.4L1096.1 464.9Z" fill="none"/>
<path d="M1234.3 322.7L1323.1 347.7L1373.6 304.7L1285.7 280.6Z" fill="none"/>
<path d="M1235.8 506.5L1322.7 532.5L1271.6 578.8L1183.8 551.9Z" fill="none"/>
<path d="M1271.6 578.8L1271.4 517.4L1182.9 490.9L1183.8 551.9Z" fill="none"/>
<path d="M1412 498L1460.8 452.9L1462 391.6L1412.8 436Z" fill="none"/>
<path d="M1093 340.9L1147 298.2L1148.2 360L1094.6 403.4Z" fill="none"/>
<path d="M1093 340.9L1181.1 366.2L1234.3 322.7L1147 298.2Z" fill="none"/>
<path d="M1182 429L1181.1 366.2L1093 340.9L1094.6 403.4Z" fill="none"/>
<path d="M1271.4 517.4L1271.2 455.2L1182 429L1182.9 490.9Z" fill="none"/>
<path d="M1323.1 347.7L1413.6 373.1L1463.2 329.4L1373.6 304.7Z" fill="none"/>
<path d="M1412.8 436L1462 391.6L1463.2 329.4L1413.6 373.1Z" fill="none"/>
<path d="M1322.7 532.5L1411.2 559.1L1361.1 606.2L1271.6 578.8Z" fill="none"/>
<path d="M1361.1 606.2L1411.2 559.1L1412 498L1361.5 544.5Z" fill="none"/>
<path d="M1361.1 606.2L1361.5 544.5L1271.4 517.4L1271.6 578.8Z" fill="none"/>
<path d="M1181.1 366.2L1270.9 392L1323.1 347.7L1234.3 322.7Z" fill="none"/>
<path d="M1271.2 455.2L1270.9 392L1181.1 366.2L1182 429Z" fill="none"/>
<path d="M1361.5 544.5L1412 498L1412.8 436L1361.9 481.8Z" fill="none"/>
<path d="M1361.5 544.5L1361.9 481.8L1271.2 455.2L1271.4 517.4Z" fill="none"/>
</g>
<g clip-path="url(#c1)" class="sf" stroke="currentColor" stroke-width="0.3" stroke-linejoin="round" fill="currentColor">
<path d="M1168.3 452.1L1171.5 447.7L1174.7 443.4L1176.7 442.5L1173.5 446.8L1170.3 451.2Z" color="#450559"/>
<path d="M1164.3 453.8L1167.5 449.4L1170.7 445.1L1172.7 444.2L1174.7 443.4L1171.5 447.7L1168.3 452.1L1166.3 452.9Z" color="#46075a"/>
<path d="M1174.7 443.4L1177.9 439.1L1181.1 434.8L1183.1 433.9L1179.9 438.2L1176.7 442.5Z" color="#481467"/>
<path d="M1160.3 455.4L1163.4 451L1166.6 446.7L1168.7 445.9L1170.7 445.1L1167.5 449.4L1164.3 453.8L1162.3 454.6Z" color="#460a5d"/>
<path d="M1170.7 445.1L1173.9 440.8L1177.1 436.5L1179.1 435.7L1181.1 434.8L1177.9 439.1L1174.7 443.4L1172.7 444.2Z" color="#481769"/>
<path d="M1156.2 456.9L1159.4 452.5L1162.6 448.1L1164.6 447.4L1166.6 446.7L1163.4 451L1160.3 455.4L1158.2 456.1Z" color="#470d60"/>
<path d="M1181.1 434.8L1184.3 430.5L1187.5 426.3L1189.5 425.4L1186.3 429.6L1183.1 433.9Z" color="#482374"/>
<path d="M1166.6 446.7L1169.8 442.3L1173 438.1L1175.1 437.3L1177.1 436.5L1173.9 440.8L1170.7 445.1L1168.7 445.9Z" color="#48186a"/>
<path d="M1177.1 436.5L1180.3 432.2L1183.5 428L1185.5 427.2L1187.5 426.3L1184.3 430.5L1181.1 434.8L1179.1 435.7Z" color="#482475"/>
<path d="M1152.2 458.3L1155.3 453.9L1158.5 449.5L1160.6 448.8L1162.6 448.1L1159.4 452.5L1156.2 456.9L1154.2 457.6Z" color="#470e61"/>
<path d="M1162.6 448.1L1165.8 443.8L1169 439.5L1171 438.8L1173 438.1L1169.8 442.3L1166.6 446.7L1164.6 447.4Z" color="#481b6d"/>
<path d="M1187.5 426.3L1190.7 422.1L1194 417.9L1196 417L1192.7 421.2L1189.5 425.4Z" color="#472f7d"/>
<path d="M1173 438.1L1176.3 433.8L1179.5 429.5L1181.5 428.8L1183.5 428L1180.3 432.2L1177.1 436.5L1175.1 437.3Z" color="#482677"/>
<path d="M1148.1 459.6L1151.3 455.2L1154.5 450.8L1156.5 450.2L1158.5 449.5L1155.3 453.9L1152.2 458.3L1150.1 458.9Z" color="#471365"/>
<path d="M1183.5 428L1186.7 423.8L1190 419.5L1192 418.7L1194 417.9L1190.7 422.1L1187.5 426.3L1185.5 427.2Z" color="#46307e"/>
<path d="M1158.5 449.5L1161.7 445.2L1164.9 440.9L1167 440.2L1169 439.5L1165.8 443.8L1162.6 448.1L1160.6 448.8Z" color="#481d6f"/>
<path d="M1169 439.5L1172.2 435.3L1175.4 431L1177.5 430.3L1179.5 429.5L1176.3 433.8L1173 438.1L1171 438.8Z" color="#482979"/>
<path d="M1194 417.9L1197.2 413.6L1200.4 409.4L1202.4 408.6L1199.2 412.8L1196 417Z" color="#443b84"/>
<path d="M1144 460.8L1147.2 456.4L1150.4 452L1152.4 451.4L1154.5 450.8L1151.3 455.2L1148.1 459.6L1146.1 460.2Z" color="#481668"/>
<path d="M1179.5 429.5L1182.7 425.3L1185.9 421.1L1187.9 420.3L1190 419.5L1186.7 423.8L1183.5 428L1181.5 428.8Z" color="#46337f"/>
<path d="M1154.5 450.8L1157.7 446.5L1160.9 442.2L1162.9 441.5L1164.9 440.9L1161.7 445.2L1158.5 449.5L1156.5 450.2Z" color="#482071"/>
<path d="M1190 419.5L1193.2 415.3L1196.4 411.1L1198.4 410.3L1200.4 409.4L1197.2 413.6L1194 417.9L1192 418.7Z" color="#433e85"/>
<path d="M1164.9 440.9L1168.2 436.6L1171.4 432.4L1173.4 431.7L1175.4 431L1172.2 435.3L1169 439.5L1167 440.2Z" color="#472a7a"/>
<path d="M1139.9 462L1143.1 457.6L1146.3 453.2L1148.3 452.6L1150.4 452L1147.2 456.4L1144 460.8L1142 461.4Z" color="#48186a"/>
<path d="M1200.4 409.4L1203.7 405.2L1206.9 401L1208.9 400.1L1205.7 404.3L1202.4 408.6Z" color="#3f4889"/>
<path d="M1175.4 431L1178.7 426.8L1181.9 422.5L1183.9 421.8L1185.9 421.1L1182.7 425.3L1179.5 429.5L1177.5 430.3Z" color="#453581"/>
<path d="M1150.4 452L1153.6 447.7L1156.8 443.4L1158.8 442.8L1160.9 442.2L1157.7 446.5L1154.5 450.8L1152.4 451.4Z" color="#482374"/>
<path d="M1185.9 421.1L1189.2 416.9L1192.4 412.7L1194.4 411.9L1196.4 411.1L1193.2 415.3L1190 419.5L1187.9 420.3Z" color="#423f85"/>
<path d="M1160.9 442.2L1164.1 437.9L1167.3 433.6L1169.3 433L1171.4 432.4L1168.2 436.6L1164.9 440.9L1162.9 441.5Z" color="#472d7b"/>
<path d="M1196.4 411.1L1199.7 406.9L1202.9 402.7L1204.9 401.8L1206.9 401L1203.7 405.2L1200.4 409.4L1198.4 410.3Z" color="#3e4989"/>
<path d="M1135.8 463.1L1139 458.7L1142.2 454.3L1144.2 453.7L1146.3 453.2L1143.1 457.6L1139.9 462L1137.9 462.5Z" color="#481b6d"/>
<path d="M1171.4 432.4L1174.6 428.1L1177.8 423.9L1179.9 423.2L1181.9 422.5L1178.7 426.8L1175.4 431L1173.4 431.7Z" color="#453882"/>
<path d="M1146.3 453.2L1149.5 448.8L1152.7 444.5L1154.7 444L1156.8 443.4L1153.6 447.7L1150.4 452L1148.3 452.6Z" color="#482576"/>
<path d="M1206.9 401L1210.2 396.8L1213.5 392.5L1215.5 391.6L1212.2 395.9L1208.9 400.1Z" color="#3a538b"/>
<path d="M1181.9 422.5L1185.1 418.3L1188.4 414.1L1190.4 413.4L1192.4 412.7L1189.2 416.9L1185.9 421.1L1183.9 421.8Z" color="#424186"/>
<path d="M1156.8 443.4L1160 439.1L1163.2 434.8L1165.3 434.2L1167.3 433.6L1164.1 437.9L1160.9 442.2L1158.8 442.8Z" color="#46307e"/>
<path d="M1192.4 412.7L1195.7 408.4L1198.9 404.2L1200.9 403.4L1202.9 402.7L1199.7 406.9L1196.4 411.1L1194.4 411.9Z" color="#3e4a89"/>
<path d="M1131.7 464.2L1134.9 459.8L1138.1 455.4L1140.1 454.8L1142.2 454.3L1139 458.7L1135.8 463.1L1133.7 463.6Z" color="#481d6f"/>
<path d="M1167.3 433.6L1170.5 429.4L1173.8 425.1L1175.8 424.5L1177.8 423.9L1174.6 428.1L1171.4 432.4L1169.3 433Z" color="#443a83"/>
<path d="M1202.9 402.7L1206.2 398.4L1209.5 394.2L1211.5 393.4L1213.5 392.5L1210.2 396.8L1206.9 401L1204.9 401.8Z" color="#3a548c"/>
<path d="M1177.8 423.9L1181.1 419.7L1184.3 415.4L1186.3 414.8L1188.4 414.1L1185.1 418.3L1181.9 422.5L1179.9 423.2Z" color="#414487"/>
<path d="M1142.2 454.3L1145.4 450L1148.6 445.6L1150.6 445.1L1152.7 444.5L1149.5 448.8L1146.3 453.2L1144.2 453.7Z" color="#482979"/>
<path d="M1213.5 392.5L1216.7 388.2L1220 383.9L1222 383.1L1218.7 387.4L1215.5 391.6Z" color="#355e8d"/>
<path d="M1152.7 444.5L1155.9 440.2L1159.1 436L1161.2 435.4L1163.2 434.8L1160 439.1L1156.8 443.4L1154.7 444Z" color="#46337f"/>
<path d="M1188.4 414.1L1191.6 409.9L1194.9 405.6L1196.9 404.9L1198.9 404.2L1195.7 408.4L1192.4 412.7L1190.4 413.4Z" color="#3d4d8a"/>
<path d="M1163.2 434.8L1166.5 430.6L1169.7 426.3L1171.7 425.8L1173.8 425.1L1170.5 429.4L1167.3 433.6L1165.3 434.2Z" color="#433d84"/>
<path d="M1127.5 465.3L1130.7 460.8L1133.9 456.5L1136 455.9L1138.1 455.4L1134.9 459.8L1131.7 464.2L1129.6 464.7Z" color="#482173"/>
<path d="M1198.9 404.2L1202.2 400L1205.4 395.7L1207.5 395L1209.5 394.2L1206.2 398.4L1202.9 402.7L1200.9 403.4Z" color="#39568c"/>
<path d="M1173.8 425.1L1177 420.9L1180.3 416.7L1182.3 416.1L1184.3 415.4L1181.1 419.7L1177.8 423.9L1175.8 424.5Z" color="#404688"/>
<path d="M1138.1 455.4L1141.3 451L1144.5 446.7L1146.5 446.2L1148.6 445.6L1145.4 450L1142.2 454.3L1140.1 454.8Z" color="#472c7a"/>
<path d="M1209.5 394.2L1212.7 389.9L1216 385.6L1218 384.8L1220 383.9L1216.7 388.2L1213.5 392.5L1211.5 393.4Z" color="#355f8d"/>
<path d="M1184.3 415.4L1187.6 411.2L1190.8 407L1192.9 406.3L1194.9 405.6L1191.6 409.9L1188.4 414.1L1186.3 414.8Z" color="#3c4f8a"/>
<path d="M1148.6 445.6L1151.8 441.3L1155 437.1L1157.1 436.5L1159.1 436L1155.9 440.2L1152.7 444.5L1150.6 445.1Z" color="#453581"/>
<path d="M1194.9 405.6L1198.1 401.4L1201.4 397.1L1203.4 396.4L1205.4 395.7L1202.2 400L1198.9 404.2L1196.9 404.9Z" color="#38588c"/>
<path d="M1220 383.9L1223.3 379.6L1226.6 375.3L1228.6 374.4L1225.3 378.7L1222 383.1Z" color="#31688e"/>
<path d="M1159.1 436L1162.4 431.7L1165.6 427.5L1167.6 426.9L1169.7 426.3L1166.5 430.6L1163.2 434.8L1161.2 435.4Z" color="#423f85"/>
<path d="M1123.4 466.4L1126.6 461.9L1129.8 457.5L1131.9 457L1133.9 456.5L1130.7 460.8L1127.5 465.3L1125.5 465.8Z" color="#482475"/>
<path d="M1169.7 426.3L1172.9 422.1L1176.2 417.9L1178.2 417.3L1180.3 416.7L1177 420.9L1173.8 425.1L1171.7 425.8Z" color="#3f4889"/>
<path d="M1205.4 395.7L1208.7 391.4L1212 387.1L1214 386.4L1216 385.6L1212.7 389.9L1209.5 394.2L1207.5 395Z" color="#34618d"/>
<path d="M1133.9 456.5L1137.1 452.1L1140.3 447.8L1142.4 447.3L1144.5 446.7L1141.3 451L1138.1 455.4L1136 455.9Z" color="#472e7c"/>
<path d="M1180.3 416.7L1183.5 412.4L1186.8 408.2L1188.8 407.6L1190.8 407L1187.6 411.2L1184.3 415.4L1182.3 416.1Z" color="#3b518b"/>
<path d="M1144.5 446.7L1147.7 442.4L1150.9 438.1L1153 437.6L1155 437.1L1151.8 441.3L1148.6 445.6L1146.5 446.2Z" color="#453882"/>
<path d="M1216 385.6L1219.3 381.3L1222.6 376.9L1224.6 376.1L1226.6 375.3L1223.3 379.6L1220 383.9L1218 384.8Z" color="#306a8e"/>
<path d="M1190.8 407L1194.1 402.7L1197.4 398.4L1199.4 397.8L1201.4 397.1L1198.1 401.4L1194.9 405.6L1192.9 406.3Z" color="#375a8c"/>
<path d="M1155 437.1L1158.3 432.8L1161.5 428.6L1163.5 428L1165.6 427.5L1162.4 431.7L1159.1 436L1157.1 436.5Z" color="#424186"/>
<path d="M1119.2 467.5L1122.4 463L1125.6 458.6L1127.7 458.1L1129.8 457.5L1126.6 461.9L1123.4 466.4L1121.3 466.9Z" color="#482677"/>
<path d="M1201.4 397.1L1204.7 392.8L1208 388.5L1210 387.8L1212 387.1L1208.7 391.4L1205.4 395.7L1203.4 396.4Z" color="#33638d"/>
<path d="M1165.6 427.5L1168.8 423.2L1172.1 419L1174.1 418.4L1176.2 417.9L1172.9 422.1L1169.7 426.3L1167.6 426.9Z" color="#3e4a89"/>
<path d="M1226.6 375.3L1229.9 370.9L1233.2 366.4L1235.2 365.5L1231.9 370L1228.6 374.4Z" color="#2c728e"/>
<path d="M1129.8 457.5L1133 453.2L1136.2 448.8L1138.3 448.3L1140.3 447.8L1137.1 452.1L1133.9 456.5L1131.9 457Z" color="#46307e"/>
<path d="M1176.2 417.9L1179.4 413.6L1182.7 409.4L1184.7 408.8L1186.8 408.2L1183.5 412.4L1180.3 416.7L1178.2 417.3Z" color="#3a538b"/>
<path d="M1212 387.1L1215.3 382.8L1218.6 378.4L1220.6 377.7L1222.6 376.9L1219.3 381.3L1216 385.6L1214 386.4Z" color="#2f6b8e"/>
<path d="M1140.3 447.8L1143.6 443.5L1146.8 439.2L1148.8 438.7L1150.9 438.1L1147.7 442.4L1144.5 446.7L1142.4 447.3Z" color="#443b84"/>
<path d="M1186.8 408.2L1190 403.9L1193.3 399.7L1195.3 399.1L1197.4 398.4L1194.1 402.7L1190.8 407L1188.8 407.6Z" color="#365c8d"/>
<path d="M1150.9 438.1L1154.1 433.9L1157.4 429.6L1159.4 429.1L1161.5 428.6L1158.3 432.8L1155 437.1L1153 437.6Z" color="#404588"/>
<path d="M1115.1 468.6L1118.3 464.2L1121.5 459.8L1123.5 459.2L1125.6 458.6L1122.4 463L1119.2 467.5L1117.2 468Z" color="#482979"/>
<path d="M1222.6 376.9L1225.9 372.5L1229.2 368L1231.2 367.2L1233.2 366.4L1229.9 370.9L1226.6 375.3L1224.6 376.1Z" color="#2c738e"/>
<path d="M1197.4 398.4L1200.6 394.1L1203.9 389.8L1205.9 389.2L1208 388.5L1204.7 392.8L1201.4 397.1L1199.4 397.8Z" color="#32658e"/>
<path d="M1161.5 428.6L1164.7 424.3L1168 420.1L1170 419.5L1172.1 419L1168.8 423.2L1165.6 427.5L1163.5 428Z" color="#3d4e8a"/>
<path d="M1125.6 458.6L1128.8 454.3L1132 449.9L1134.1 449.4L1136.2 448.8L1133 453.2L1129.8 457.5L1127.7 458.1Z" color="#463480"/>
<path d="M1172.1 419L1175.3 414.7L1178.6 410.5L1180.6 409.9L1182.7 409.4L1179.4 413.6L1176.2 417.9L1174.1 418.4Z" color="#39568c"/>
<path d="M1208 388.5L1211.2 384.2L1214.5 379.8L1216.6 379.1L1218.6 378.4L1215.3 382.8L1212 387.1L1210 387.8Z" color="#2e6d8e"/>
<path d="M1233.2 366.4L1236.5 361.9L1239.8 357.4L1241.8 356.5L1238.5 361L1235.2 365.5Z" color="#287c8e"/>
<path d="M1136.2 448.8L1139.4 444.5L1142.6 440.2L1144.7 439.7L1146.8 439.2L1143.6 443.5L1140.3 447.8L1138.3 448.3Z" color="#433e85"/>
<path d="M1182.7 409.4L1186 405.1L1189.2 400.8L1191.3 400.3L1193.3 399.7L1190 403.9L1186.8 408.2L1184.7 408.8Z" color="#355f8d"/>
<path d="M1218.6 378.4L1221.9 374L1225.2 369.5L1227.2 368.8L1229.2 368L1225.9 372.5L1222.6 376.9L1220.6 377.7Z" color="#2b758e"/>
<path d="M1146.8 439.2L1150 434.9L1153.2 430.7L1155.3 430.1L1157.4 429.6L1154.1 433.9L1150.9 438.1L1148.8 438.7Z" color="#3f4788"/>
<path d="M1110.9 469.8L1114.1 465.3L1117.3 460.9L1119.4 460.3L1121.5 459.8L1118.3 464.2L1115.1 468.6L1113 469.2Z" color="#472d7b"/>
<path d="M1193.3 399.7L1196.6 395.4L1199.9 391.1L1201.9 390.5L1203.9 389.8L1200.6 394.1L1197.4 398.4L1195.3 399.1Z" color="#31678e"/>
<path d="M1157.4 429.6L1160.6 425.4L1163.9 421.1L1165.9 420.6L1168 420.1L1164.7 424.3L1161.5 428.6L1159.4 429.1Z" color="#3c508b"/>
<path d="M1121.5 459.8L1124.7 455.4L1127.9 451L1130 450.5L1132 449.9L1128.8 454.3L1125.6 458.6L1123.5 459.2Z" color="#453781"/>
<path d="M1229.2 368L1232.5 363.5L1235.8 359L1237.8 358.2L1239.8 357.4L1236.5 361.9L1233.2 366.4L1231.2 367.2Z" color="#287d8e"/>
<path d="M1203.9 389.8L1207.2 385.5L1210.5 381.1L1212.5 380.5L1214.5 379.8L1211.2 384.2L1208 388.5L1205.9 389.2Z" color="#2e6f8e"/>
<path d="M1168 420.1L1171.2 415.8L1174.5 411.5L1176.5 411L1178.6 410.5L1175.3 414.7L1172.1 419L1170 419.5Z" color="#38598c"/>
<path d="M1132 449.9L1135.3 445.6L1138.5 441.3L1140.6 440.8L1142.6 440.2L1139.4 444.5L1136.2 448.8L1134.1 449.4Z" color="#424086"/>
<path d="M1178.6 410.5L1181.9 406.2L1185.1 401.9L1187.2 401.4L1189.2 400.8L1186 405.1L1182.7 409.4L1180.6 409.9Z" color="#34618d"/>
<path d="M1214.5 379.8L1217.8 375.4L1221.1 370.9L1223.2 370.2L1225.2 369.5L1221.9 374L1218.6 378.4L1216.6 379.1Z" color="#2a768e"/>
<path d="M1142.6 440.2L1145.9 436L1149.1 431.7L1151.2 431.2L1153.2 430.7L1150 434.9L1146.8 439.2L1144.7 439.7Z" color="#3e4989"/>
<path d="M1239.8 357.4L1243.1 352.8L1246.5 348.1L1248.5 347.3L1245.1 351.9L1241.8 356.5Z" color="#24868e"/>
<path d="M1106.7 471L1109.9 466.6L1113.1 462.2L1115.2 461.5L1117.3 460.9L1114.1 465.3L1110.9 469.8L1108.8 470.4Z" color="#472f7d"/>
<path d="M1189.2 400.8L1192.5 396.5L1195.8 392.2L1197.8 391.6L1199.9 391.1L1196.6 395.4L1193.3 399.7L1191.3 400.3Z" color="#30698e"/>
<path d="M1153.2 430.7L1156.5 426.4L1159.7 422.1L1161.8 421.6L1163.9 421.1L1160.6 425.4L1157.4 429.6L1155.3 430.1Z" color="#3b528b"/>
<path d="M1225.2 369.5L1228.5 365L1231.8 360.5L1233.8 359.7L1235.8 359L1232.5 363.5L1229.2 368L1227.2 368.8Z" color="#277f8e"/>
<path d="M1117.3 460.9L1120.5 456.6L1123.7 452.2L1125.8 451.6L1127.9 451L1124.7 455.4L1121.5 459.8L1119.4 460.3Z" color="#443983"/>
<path d="M1199.9 391.1L1203.1 386.7L1206.4 382.3L1208.5 381.7L1210.5 381.1L1207.2 385.5L1203.9 389.8L1201.9 390.5Z" color="#2d718e"/>
<path d="M1163.9 421.1L1167.1 416.8L1170.4 412.6L1172.4 412.1L1174.5 411.5L1171.2 415.8L1168 420.1L1165.9 420.6Z" color="#375b8d"/>
<path d="M1127.9 451L1131.1 446.7L1134.3 442.4L1136.4 441.9L1138.5 441.3L1135.3 445.6L1132 449.9L1130 450.5Z" color="#414287"/>
<path d="M1235.8 359L1239.1 354.4L1242.5 349.7L1244.5 348.9L1246.5 348.1L1243.1 352.8L1239.8 357.4L1237.8 358.2Z" color="#24878e"/>
<path d="M1210.5 381.1L1213.8 376.7L1217.1 372.2L1219.1 371.6L1221.1 370.9L1217.8 375.4L1214.5 379.8L1212.5 380.5Z" color="#2a788e"/>
<path d="M1174.5 411.5L1177.8 407.3L1181 403L1183.1 402.5L1185.1 401.9L1181.9 406.2L1178.6 410.5L1176.5 411Z" color="#33638d"/>
<path d="M1138.5 441.3L1141.7 437L1145 432.8L1147 432.2L1149.1 431.7L1145.9 436L1142.6 440.2L1140.6 440.8Z" color="#3e4c8a"/>
<path d="M1102.5 472.3L1105.7 467.9L1108.9 463.5L1111 462.8L1113.1 462.2L1109.9 466.6L1106.7 471L1104.6 471.7Z" color="#46327e"/>
<path d="M1185.1 401.9L1188.4 397.6L1191.7 393.3L1193.7 392.8L1195.8 392.2L1192.5 396.5L1189.2 400.8L1187.2 401.4Z" color="#2f6b8e"/>
<path d="M1221.1 370.9L1224.5 366.4L1227.8 361.8L1229.8 361.2L1231.8 360.5L1228.5 365L1225.2 369.5L1223.2 370.2Z" color="#26818e"/>
<path d="M1149.1 431.7L1152.3 427.4L1155.6 423.2L1157.7 422.7L1159.7 422.1L1156.5 426.4L1153.2 430.7L1151.2 431.2Z" color="#3a548c"/>
<path d="M1113.1 462.2L1116.3 457.8L1119.5 453.4L1121.6 452.8L1123.7 452.2L1120.5 456.6L1117.3 460.9L1115.2 461.5Z" color="#443b84"/>
<path d="M1246.5 348.1L1249.8 343.5L1253.2 338.8L1255.2 338L1251.8 342.6L1248.5 347.3Z" color="#21918c"/>
<path d="M1195.8 392.2L1199.1 387.8L1202.4 383.5L1204.4 382.9L1206.4 382.3L1203.1 386.7L1199.9 391.1L1197.8 391.6Z" color="#2c728e"/>
<path d="M1159.7 422.1L1163 417.9L1166.3 413.6L1168.3 413.1L1170.4 412.6L1167.1 416.8L1163.9 421.1L1161.8 421.6Z" color="#365d8d"/>
<path d="M1231.8 360.5L1235.1 355.9L1238.5 351.2L1240.5 350.5L1242.5 349.7L1239.1 354.4L1235.8 359L1233.8 359.7Z" color="#23898e"/>
<path d="M1123.7 452.2L1126.9 447.9L1130.1 443.6L1132.2 443L1134.3 442.4L1131.1 446.7L1127.9 451L1125.8 451.6Z" color="#404688"/>
<path d="M1206.4 382.3L1209.7 377.9L1213 373.4L1215.1 372.8L1217.1 372.2L1213.8 376.7L1210.5 381.1L1208.5 381.7Z" color="#297a8e"/>
<path d="M1170.4 412.6L1173.7 408.3L1176.9 404L1179 403.5L1181 403L1177.8 407.3L1174.5 411.5L1172.4 412.1Z" color="#32658e"/>
<path d="M1098.3 473.8L1101.5 469.3L1104.7 464.9L1106.8 464.2L1108.9 463.5L1105.7 467.9L1102.5 472.3L1100.4 473Z" color="#463480"/>
<path d="M1134.3 442.4L1137.5 438.1L1140.8 433.9L1142.9 433.3L1145 432.8L1141.7 437L1138.5 441.3L1136.4 441.9Z" color="#3c4f8a"/>
<path d="M1242.5 349.7L1245.8 345.1L1249.2 340.4L1251.2 339.6L1253.2 338.8L1249.8 343.5L1246.5 348.1L1244.5 348.9Z" color="#20928c"/>
<path d="M1181 403L1184.3 398.7L1187.6 394.3L1189.7 393.8L1191.7 393.3L1188.4 397.6L1185.1 401.9L1183.1 402.5Z" color="#2e6d8e"/>
<path d="M1217.1 372.2L1220.4 367.7L1223.7 363.1L1225.8 362.5L1227.8 361.8L1224.5 366.4L1221.1 370.9L1219.1 371.6Z" color="#26828e"/>
<path d="M1145 432.8L1148.2 428.5L1151.4 424.2L1153.5 423.7L1155.6 423.2L1152.3 427.4L1149.1 431.7L1147 432.2Z" color="#38588c"/>
<path d="M1108.9 463.5L1112.1 459.1L1115.3 454.7L1117.4 454.1L1119.5 453.4L1116.3 457.8L1113.1 462.2L1111 462.8Z" color="#423f85"/>
<path d="M1191.7 393.3L1195 388.9L1198.3 384.5L1200.3 384L1202.4 383.5L1199.1 387.8L1195.8 392.2L1193.7 392.8Z" color="#2b748e"/>
<path d="M1155.6 423.2L1158.9 418.9L1162.1 414.6L1164.2 414.1L1166.3 413.6L1163 417.9L1159.7 422.1L1157.7 422.7Z" color="#34608d"/>
<path d="M1227.8 361.8L1231.1 357.2L1234.4 352.6L1236.4 351.9L1238.5 351.2L1235.1 355.9L1231.8 360.5L1229.8 361.2Z" color="#228b8d"/>
<path d="M1119.5 453.4L1122.7 449.1L1125.9 444.8L1128 444.2L1130.1 443.6L1126.9 447.9L1123.7 452.2L1121.6 452.8Z" color="#3f4889"/>
<path d="M1253.2 338.8L1256.5 334.2L1259.9 329.6L1261.9 328.8L1258.5 333.4L1255.2 338Z" color="#1e9b8a"/>
<path d="M1202.4 383.5L1205.7 379L1209 374.5L1211 374L1213 373.4L1209.7 377.9L1206.4 382.3L1204.4 382.9Z" color="#287d8e"/>
<path d="M1166.3 413.6L1169.5 409.3L1172.8 405L1174.9 404.5L1176.9 404L1173.7 408.3L1170.4 412.6L1168.3 413.1Z" color="#31688e"/>
<path d="M1094 475.3L1097.2 470.8L1100.4 466.4L1102.6 465.6L1104.7 464.9L1101.5 469.3L1098.3 473.8L1096.2 474.5Z" color="#453781"/>
<path d="M1130.1 443.6L1133.4 439.3L1136.6 435L1138.7 434.4L1140.8 433.9L1137.5 438.1L1134.3 442.4L1132.2 443Z" color="#3b518b"/>
<path d="M1238.5 351.2L1241.8 346.5L1245.1 341.9L1247.2 341.2L1249.2 340.4L1245.8 345.1L1242.5 349.7L1240.5 350.5Z" color="#20938c"/>
<path d="M1176.9 404L1180.2 399.7L1183.5 395.3L1185.5 394.8L1187.6 394.3L1184.3 398.7L1181 403L1179 403.5Z" color="#2e6f8e"/>
<path d="M1213 373.4L1216.4 368.9L1219.7 364.3L1221.7 363.7L1223.7 363.1L1220.4 367.7L1217.1 372.2L1215.1 372.8Z" color="#25848e"/>
<path d="M1140.8 433.9L1144 429.6L1147.3 425.3L1149.4 424.8L1151.4 424.2L1148.2 428.5L1145 432.8L1142.9 433.3Z" color="#375a8c"/>
<path d="M1104.7 464.9L1107.9 460.5L1111.1 456.1L1113.2 455.4L1115.3 454.7L1112.1 459.1L1108.9 463.5L1106.8 464.2Z" color="#424186"/>
<path d="M1249.2 340.4L1252.5 335.8L1255.9 331.2L1257.9 330.5L1259.9 329.6L1256.5 334.2L1253.2 338.8L1251.2 339.6Z" color="#1e9c89"/>
<path d="M1187.6 394.3L1190.9 390L1194.2 385.6L1196.2 385.1L1198.3 384.5L1195 388.9L1191.7 393.3L1189.7 393.8Z" color="#2a778e"/>
<path d="M1223.7 363.1L1227.1 358.5L1230.4 353.8L1232.4 353.2L1234.4 352.6L1231.1 357.2L1227.8 361.8L1225.8 362.5Z" color="#228d8d"/>
<path d="M1151.4 424.2L1154.7 419.9L1158 415.7L1160 415.1L1162.1 414.6L1158.9 418.9L1155.6 423.2L1153.5 423.7Z" color="#33628d"/>
<path d="M1115.3 454.7L1118.5 450.4L1121.7 446.1L1123.8 445.4L1125.9 444.8L1122.7 449.1L1119.5 453.4L1117.4 454.1Z" color="#3e4a89"/>
<path d="M1198.3 384.5L1201.6 380.1L1204.9 375.6L1206.9 375.1L1209 374.5L1205.7 379L1202.4 383.5L1200.3 384Z" color="#277f8e"/>
<path d="M1089.8 476.9L1093 472.4L1096.2 468L1098.3 467.2L1100.4 466.4L1097.2 470.8L1094 475.3L1091.9 476.1Z" color="#443983"/>
<path d="M1162.1 414.6L1165.4 410.3L1168.7 406L1170.7 405.5L1172.8 405L1169.5 409.3L1166.3 413.6L1164.2 414.1Z" color="#306a8e"/>
<path d="M1234.4 352.6L1237.8 347.9L1241.1 343.2L1243.1 342.6L1245.1 341.9L1241.8 346.5L1238.5 351.2L1236.4 351.9Z" color="#1f958b"/>
<path d="M1125.9 444.8L1129.2 440.5L1132.4 436.2L1134.5 435.6L1136.6 435L1133.4 439.3L1130.1 443.6L1128 444.2Z" color="#3a538b"/>
<path d="M1259.9 329.6L1263.2 325.2L1266.6 320.8L1268.6 319.9L1265.2 324.3L1261.9 328.8Z" color="#20a486"/>
<path d="M1209 374.5L1212.3 370L1215.6 365.4L1217.7 364.9L1219.7 364.3L1216.4 368.9L1213 373.4L1211 374Z" color="#24868e"/>
<path d="M1172.8 405L1176.1 400.7L1179.4 396.3L1181.4 395.9L1183.5 395.3L1180.2 399.7L1176.9 404L1174.9 404.5Z" color="#2c718e"/>
<path d="M1100.4 466.4L1103.6 462L1106.9 457.6L1109 456.9L1111.1 456.1L1107.9 460.5L1104.7 464.9L1102.6 465.6Z" color="#414487"/>
<path d="M1136.6 435L1139.9 430.7L1143.1 426.4L1145.2 425.9L1147.3 425.3L1144 429.6L1140.8 433.9L1138.7 434.4Z" color="#365c8d"/>
<path d="M1245.1 341.9L1248.5 337.3L1251.9 332.7L1253.9 332L1255.9 331.2L1252.5 335.8L1249.2 340.4L1247.2 341.2Z" color="#1e9d89"/>
<path d="M1183.5 395.3L1186.8 391L1190.1 386.6L1192.1 386.1L1194.2 385.6L1190.9 390L1187.6 394.3L1185.5 394.8Z" color="#29798e"/>
<path d="M1219.7 364.3L1223 359.7L1226.3 355L1228.4 354.4L1230.4 353.8L1227.1 358.5L1223.7 363.1L1221.7 363.7Z" color="#218f8d"/>
<path d="M1147.3 425.3L1150.5 421L1153.8 416.7L1155.9 416.2L1158 415.7L1154.7 419.9L1151.4 424.2L1149.4 424.8Z" color="#32648e"/>
<path d="M1111.1 456.1L1114.3 451.8L1117.5 447.5L1119.6 446.8L1121.7 446.1L1118.5 450.4L1115.3 454.7L1113.2 455.4Z" color="#3d4d8a"/>
<path d="M1255.9 331.2L1259.2 326.7L1262.6 322.4L1264.6 321.6L1266.6 320.8L1263.2 325.2L1259.9 329.6L1257.9 330.5Z" color="#21a585"/>
<path d="M1194.2 385.6L1197.5 381.1L1200.8 376.6L1202.9 376.1L1204.9 375.6L1201.6 380.1L1198.3 384.5L1196.2 385.1Z" color="#26818e"/>
<path d="M1085.6 478.7L1088.8 474.2L1092 469.8L1094.1 468.9L1096.2 468L1093 472.4L1089.8 476.9L1087.7 477.8Z" color="#443b84"/>
<path d="M1158 415.7L1161.2 411.4L1164.5 407.1L1166.6 406.5L1168.7 406L1165.4 410.3L1162.1 414.6L1160 415.1Z" color="#2f6c8e"/>
<path d="M1230.4 353.8L1233.7 349.2L1237.1 344.5L1239.1 343.9L1241.1 343.2L1237.8 347.9L1234.4 352.6L1232.4 353.2Z" color="#1f968b"/>
<path d="M1121.7 446.1L1125 441.8L1128.2 437.5L1130.3 436.8L1132.4 436.2L1129.2 440.5L1125.9 444.8L1123.8 445.4Z" color="#39558c"/>
<path d="M1204.9 375.6L1208.2 371.1L1211.5 366.5L1213.6 366L1215.6 365.4L1212.3 370L1209 374.5L1206.9 375.1Z" color="#23888e"/>
<path d="M1168.7 406L1171.9 401.7L1175.2 397.4L1177.3 396.8L1179.4 396.3L1176.1 400.7L1172.8 405L1170.7 405.5Z" color="#2c738e"/>
<path d="M1096.2 468L1099.4 463.6L1102.6 459.2L1104.7 458.4L1106.9 457.6L1103.6 462L1100.4 466.4L1098.3 467.2Z" color="#404588"/>
<path d="M1132.4 436.2L1135.7 431.9L1138.9 427.6L1141 427L1143.1 426.4L1139.9 430.7L1136.6 435L1134.5 435.6Z" color="#355e8d"/>
<path d="M1241.1 343.2L1244.5 338.6L1247.8 334L1249.8 333.4L1251.9 332.7L1248.5 337.3L1245.1 341.9L1243.1 342.6Z" color="#1f9f88"/>
<path d="M1266.6 320.8L1270 316.5L1273.4 312.4L1275.4 311.6L1272 315.7L1268.6 319.9Z" color="#27ad81"/>
<path d="M1179.4 396.3L1182.7 392L1186 387.6L1188 387.1L1190.1 386.6L1186.8 391L1183.5 395.3L1181.4 395.9Z" color="#297b8e"/>
<path d="M1215.6 365.4L1218.9 360.8L1222.3 356.1L1224.3 355.6L1226.3 355L1223 359.7L1219.7 364.3L1217.7 364.9Z" color="#21918c"/>
<path d="M1143.1 426.4L1146.4 422.1L1149.6 417.9L1151.7 417.3L1153.8 416.7L1150.5 421L1147.3 425.3L1145.2 425.9Z" color="#31668e"/>
<path d="M1106.9 457.6L1110.1 453.3L1113.3 448.9L1115.4 448.2L1117.5 447.5L1114.3 451.8L1111.1 456.1L1109 456.9Z" color="#3c4f8a"/>
<path d="M1251.9 332.7L1255.2 328.2L1258.6 323.8L1260.6 323.1L1262.6 322.4L1259.2 326.7L1255.9 331.2L1253.9 332Z" color="#22a785"/>
<path d="M1081.3 480.6L1084.5 476.1L1087.7 471.7L1089.8 470.7L1092 469.8L1088.8 474.2L1085.6 478.7L1083.4 479.6Z" color="#433d84"/>
<path d="M1190.1 386.6L1193.4 382.1L1196.7 377.6L1198.8 377.1L1200.8 376.6L1197.5 381.1L1194.2 385.6L1192.1 386.1Z" color="#26828e"/>
<path d="M1153.8 416.7L1157.1 412.4L1160.4 408.1L1162.4 407.6L1164.5 407.1L1161.2 411.4L1158 415.7L1155.9 416.2Z" color="#2e6e8e"/>
<path d="M1226.3 355L1229.7 350.3L1233 345.7L1235.1 345.1L1237.1 344.5L1233.7 349.2L1230.4 353.8L1228.4 354.4Z" color="#1f998a"/>
<path d="M1117.5 447.5L1120.8 443.1L1124 438.8L1126.1 438.1L1128.2 437.5L1125 441.8L1121.7 446.1L1119.6 446.8Z" color="#38588c"/>
<path d="M1262.6 322.4L1266 318.1L1269.4 314L1271.4 313.2L1273.4 312.4L1270 316.5L1266.6 320.8L1264.6 321.6Z" color="#28ae80"/>
<path d="M1200.8 376.6L1204.1 372.1L1207.4 367.5L1209.5 367L1211.5 366.5L1208.2 371.1L1204.9 375.6L1202.9 376.1Z" color="#238a8d"/>
<path d="M1092 469.8L1095.2 465.4L1098.4 461L1100.5 460.1L1102.6 459.2L1099.4 463.6L1096.2 468L1094.1 468.9Z" color="#3f4788"/>
<path d="M1164.5 407.1L1167.8 402.7L1171.1 398.4L1173.2 397.9L1175.2 397.4L1171.9 401.7L1168.7 406L1166.6 406.5Z" color="#2b758e"/>
<path d="M1128.2 437.5L1131.5 433.2L1134.7 428.9L1136.8 428.3L1138.9 427.6L1135.7 431.9L1132.4 436.2L1130.3 436.8Z" color="#34618d"/>
<path d="M1237.1 344.5L1240.4 339.9L1243.8 335.3L1245.8 334.7L1247.8 334L1244.5 338.6L1241.1 343.2L1239.1 343.9Z" color="#1fa188"/>
<path d="M1175.2 397.4L1178.5 393L1181.8 388.5L1183.9 388L1186 387.6L1182.7 392L1179.4 396.3L1177.3 396.8Z" color="#287d8e"/>
<path d="M1211.5 366.5L1214.9 361.8L1218.2 357.2L1220.2 356.7L1222.3 356.1L1218.9 360.8L1215.6 365.4L1213.6 366Z" color="#20928c"/>
<path d="M1102.6 459.2L1105.9 454.9L1109.1 450.6L1111.2 449.7L1113.3 448.9L1110.1 453.3L1106.9 457.6L1104.7 458.4Z" color="#3b518b"/>
<path d="M1273.4 312.4L1276.8 308.5L1280.2 304.7L1282.1 303.9L1278.7 307.6L1275.4 311.6Z" color="#34b679"/>
<path d="M1138.9 427.6L1142.2 423.3L1145.4 419L1147.5 418.4L1149.6 417.9L1146.4 422.1L1143.1 426.4L1141 427Z" color="#30698e"/>
<path d="M1247.8 334L1251.2 329.5L1254.6 325.1L1256.6 324.5L1258.6 323.8L1255.2 328.2L1251.9 332.7L1249.8 333.4Z" color="#23a983"/>
<path d="M1077.1 482.6L1080.3 478.2L1083.5 473.7L1085.6 472.7L1087.7 471.7L1084.5 476.1L1081.3 480.6L1079.2 481.6Z" color="#423f85"/>
<path d="M1186 387.6L1189.3 383.1L1192.6 378.6L1194.6 378.1L1196.7 377.6L1193.4 382.1L1190.1 386.6L1188 387.1Z" color="#25858e"/>
<path d="M1149.6 417.9L1152.9 413.6L1156.2 409.2L1158.3 408.7L1160.4 408.1L1157.1 412.4L1153.8 416.7L1151.7 417.3Z" color="#2d718e"/>
<path d="M1222.3 356.1L1225.6 351.4L1229 346.8L1231 346.2L1233 345.7L1229.7 350.3L1226.3 355L1224.3 355.6Z" color="#1e9b8a"/>
<path d="M1113.3 448.9L1116.5 444.6L1119.8 440.3L1121.9 439.6L1124 438.8L1120.8 443.1L1117.5 447.5L1115.4 448.2Z" color="#375a8c"/>
<path d="M1258.6 323.8L1262 319.5L1265.4 315.4L1267.4 314.7L1269.4 314L1266 318.1L1262.6 322.4L1260.6 323.1Z" color="#2ab07f"/>
<path d="M1087.7 471.7L1090.9 467.3L1094.1 462.9L1096.3 461.9L1098.4 461L1095.2 465.4L1092 469.8L1089.8 470.7Z" color="#3e4989"/>
<path d="M1196.7 377.6L1200 373.1L1203.3 368.5L1205.4 368L1207.4 367.5L1204.1 372.1L1200.8 376.6L1198.8 377.1Z" color="#228d8d"/>
<path d="M1160.4 408.1L1163.6 403.8L1166.9 399.4L1169 398.9L1171.1 398.4L1167.8 402.7L1164.5 407.1L1162.4 407.6Z" color="#2a788e"/>
<path d="M1124 438.8L1127.3 434.6L1130.5 430.3L1132.6 429.6L1134.7 428.9L1131.5 433.2L1128.2 437.5L1126.1 438.1Z" color="#33638d"/>
<path d="M1233 345.7L1236.4 341L1239.7 336.4L1241.8 335.9L1243.8 335.3L1240.4 339.9L1237.1 344.5L1235.1 345.1Z" color="#1fa287"/>
<path d="M1269.4 314L1272.8 310L1276.2 306.3L1278.2 305.5L1280.2 304.7L1276.8 308.5L1273.4 312.4L1271.4 313.2Z" color="#35b779"/>
<path d="M1098.4 461L1101.6 456.6L1104.8 452.3L1107 451.4L1109.1 450.6L1105.9 454.9L1102.6 459.2L1100.5 460.1Z" color="#3a538b"/>
<path d="M1171.1 398.4L1174.4 394L1177.7 389.6L1179.8 389L1181.8 388.5L1178.5 393L1175.2 397.4L1173.2 397.9Z" color="#27808e"/>
<path d="M1207.4 367.5L1210.8 362.8L1214.1 358.2L1216.2 357.7L1218.2 357.2L1214.9 361.8L1211.5 366.5L1209.5 367Z" color="#1f948c"/>
<path d="M1134.7 428.9L1138 424.6L1141.2 420.3L1143.3 419.7L1145.4 419L1142.2 423.3L1138.9 427.6L1136.8 428.3Z" color="#2f6b8e"/>
<path d="M1243.8 335.3L1247.2 330.8L1250.5 326.4L1252.6 325.8L1254.6 325.1L1251.2 329.5L1247.8 334L1245.8 334.7Z" color="#25ab82"/>
<path d="M1072.8 484.9L1076 480.4L1079.2 475.9L1081.3 474.8L1083.5 473.7L1080.3 478.2L1077.1 482.6L1074.9 483.7Z" color="#424086"/>
<path d="M1280.2 304.7L1283.6 301.2L1287 298L1289 297.2L1285.6 300.4L1282.1 303.9Z" color="#40bd72"/>
<path d="M1181.8 388.5L1185.1 384.1L1188.4 379.6L1190.5 379.1L1192.6 378.6L1189.3 383.1L1186 387.6L1183.9 388Z" color="#24878e"/>
<path d="M1109.1 450.6L1112.3 446.2L1115.6 441.9L1117.7 441.1L1119.8 440.3L1116.5 444.6L1113.3 448.9L1111.2 449.7Z" color="#365c8d"/>
<path d="M1145.4 419L1148.7 414.7L1152 410.4L1154.1 409.8L1156.2 409.2L1152.9 413.6L1149.6 417.9L1147.5 418.4Z" color="#2c728e"/>
<path d="M1218.2 357.2L1221.5 352.5L1224.9 347.8L1226.9 347.3L1229 346.8L1225.6 351.4L1222.3 356.1L1220.2 356.7Z" color="#1e9d89"/>
<path d="M1254.6 325.1L1257.9 320.9L1261.3 316.7L1263.3 316.1L1265.4 315.4L1262 319.5L1258.6 323.8L1256.6 324.5Z" color="#2db27d"/>
<path d="M1499.6 546.1L1503 551.2L1504.8 550.2L1501.4 545.1Z" color="#440154"/>
<path d="M1083.5 473.7L1086.7 469.3L1089.9 464.9L1092 463.9L1094.1 462.9L1090.9 467.3L1087.7 471.7L1085.6 472.7Z" color="#3e4a89"/>
<path d="M1192.6 378.6L1195.9 374L1199.2 369.4L1201.3 369L1203.3 368.5L1200 373.1L1196.7 377.6L1194.6 378.1Z" color="#218f8d"/>
<path d="M1156.2 409.2L1159.5 404.9L1162.8 400.5L1164.8 400L1166.9 399.4L1163.6 403.8L1160.4 408.1L1158.3 408.7Z" color="#297a8e"/>
<path d="M1119.8 440.3L1123 436L1126.3 431.7L1128.4 431L1130.5 430.3L1127.3 434.6L1124 438.8L1121.9 439.6Z" color="#32658e"/>
<path d="M1265.4 315.4L1268.8 311.5L1272.2 307.7L1274.2 307L1276.2 306.3L1272.8 310L1269.4 314L1267.4 314.7Z" color="#38b977"/>
<path d="M1492.8 534.8L1496.2 540.6L1499.6 546.1L1501.4 545.1L1498 539.6L1494.6 533.8Z" color="#460a5d"/>
<path d="M1229 346.8L1232.3 342.1L1235.7 337.5L1237.7 337L1239.7 336.4L1236.4 341L1233 345.7L1231 346.2Z" color="#20a486"/>
<path d="M1276.2 306.3L1279.6 302.8L1283 299.5L1285 298.8L1287 298L1283.6 301.2L1280.2 304.7L1278.2 305.5Z" color="#42be71"/>
<path d="M1094.1 462.9L1097.4 458.5L1100.6 454.2L1102.7 453.2L1104.8 452.3L1101.6 456.6L1098.4 461L1096.3 461.9Z" color="#3a548c"/>
<path d="M1166.9 399.4L1170.2 395L1173.5 390.6L1175.6 390.1L1177.7 389.6L1174.4 394L1171.1 398.4L1169 398.9Z" color="#26828e"/>
<path d="M1203.3 368.5L1206.7 363.8L1210 359.1L1212.1 358.7L1214.1 358.2L1210.8 362.8L1207.4 367.5L1205.4 368Z" color="#1f968b"/>
<path d="M1486 522.4L1489.4 528.7L1492.8 534.8L1494.6 533.8L1491.2 527.7L1487.9 521.4Z" color="#48186a"/>
<path d="M1130.5 430.3L1133.8 426L1137 421.7L1139.1 421L1141.2 420.3L1138 424.6L1134.7 428.9L1132.6 429.6Z" color="#2e6d8e"/>
<path d="M1068.5 487.3L1071.7 482.8L1074.9 478.3L1077.1 477.1L1079.2 475.9L1076 480.4L1072.8 484.9L1070.7 486Z" color="#424186"/>
<path d="M1239.7 336.4L1243.1 331.9L1246.5 327.5L1248.5 327L1250.5 326.4L1247.2 330.8L1243.8 335.3L1241.8 335.9Z" color="#26ad81"/>
<path d="M1495.9 548L1499.3 553.1L1501.1 552.2L1503 551.2L1499.6 546.1L1497.7 547.1Z" color="#440256"/>
<path d="M1104.8 452.3L1108.1 448L1111.3 443.7L1113.4 442.8L1115.6 441.9L1112.3 446.2L1109.1 450.6L1107 451.4Z" color="#355e8d"/>
<path d="M1287 298L1290.4 295.1L1293.8 292.6L1295.8 291.8L1292.4 294.3L1289 297.2Z" color="#50c46a" stroke="none"/>
<path d="M1177.7 389.6L1181 385.1L1184.3 380.6L1186.4 380.1L1188.4 379.6L1185.1 384.1L1181.8 388.5L1179.8 389Z" color="#23898e"/>
<path d="M1141.2 420.3L1144.5 416L1147.8 411.7L1149.9 411L1152 410.4L1148.7 414.7L1145.4 419L1143.3 419.7Z" color="#2b748e"/>
<path d="M1214.1 358.2L1217.5 353.5L1220.8 348.8L1222.8 348.3L1224.9 347.8L1221.5 352.5L1218.2 357.2L1216.2 357.7Z" color="#1f9f88"/>
<path d="M1250.5 326.4L1253.9 322.1L1257.3 318L1259.3 317.4L1261.3 316.7L1257.9 320.9L1254.6 325.1L1252.6 325.8Z" color="#2fb47c"/>
<path d="M1479.3 509.2L1482.6 515.9L1486 522.4L1487.9 521.4L1484.5 514.9L1481.1 508.2Z" color="#482576"/>
<path d="M1489.1 536.7L1492.5 542.5L1495.9 548L1497.7 547.1L1499.6 546.1L1496.2 540.6L1492.8 534.8L1490.9 535.8Z" color="#460b5e"/>
<path d="M1079.2 475.9L1082.4 471.5L1085.6 467.1L1087.7 466L1089.9 464.9L1086.7 469.3L1083.5 473.7L1081.3 474.8Z" color="#3d4d8a"/>
<path d="M1115.6 441.9L1118.8 437.6L1122.1 433.3L1124.2 432.5L1126.3 431.7L1123 436L1119.8 440.3L1117.7 441.1Z" color="#31668e"/>
<path d="M1188.4 379.6L1191.8 375L1195.1 370.4L1197.2 369.9L1199.2 369.4L1195.9 374L1192.6 378.6L1190.5 379.1Z" color="#21918c"/>
<path d="M1261.3 316.7L1264.7 312.8L1268.1 309L1270.1 308.4L1272.2 307.7L1268.8 311.5L1265.4 315.4L1263.3 316.1Z" color="#3aba76"/>
<path d="M1152 410.4L1155.3 406.1L1158.6 401.7L1160.7 401.1L1162.8 400.5L1159.5 404.9L1156.2 409.2L1154.1 409.8Z" color="#287c8e"/>
<path d="M1224.9 347.8L1228.2 343.1L1231.6 338.5L1233.6 338L1235.7 337.5L1232.3 342.1L1229 346.8L1226.9 347.3Z" color="#22a785"/>
<path d="M1482.3 524.3L1485.7 530.6L1489.1 536.7L1490.9 535.8L1492.8 534.8L1489.4 528.7L1486 522.4L1484.2 523.4Z" color="#481a6c"/>
<path d="M1472.5 495.4L1475.9 502.3L1479.3 509.2L1481.1 508.2L1477.7 501.4L1474.4 494.4Z" color="#46337f"/>
<path d="M1089.9 464.9L1093.1 460.5L1096.3 456.2L1098.5 455.2L1100.6 454.2L1097.4 458.5L1094.1 462.9L1092 463.9Z" color="#39568c"/>
<path d="M1272.2 307.7L1275.6 304.2L1279 301L1281 300.3L1283 299.5L1279.6 302.8L1276.2 306.3L1274.2 307Z" color="#46c06f"/>
<path d="M1064.2 489.8L1067.4 485.3L1070.6 480.9L1072.8 479.6L1074.9 478.3L1071.7 482.8L1068.5 487.3L1066.4 488.5Z" color="#414287"/>
<path d="M1162.8 400.5L1166.1 396.1L1169.4 391.7L1171.4 391.1L1173.5 390.6L1170.2 395L1166.9 399.4L1164.8 400Z" color="#25838e"/>
<path d="M1126.3 431.7L1129.6 427.4L1132.8 423.1L1134.9 422.4L1137 421.7L1133.8 426L1130.5 430.3L1128.4 431Z" color="#2e6f8e"/>
<path d="M1199.2 369.4L1202.6 364.8L1205.9 360.1L1207.9 359.6L1210 359.1L1206.7 363.8L1203.3 368.5L1201.3 369Z" color="#1f998a"/>
<path d="M1283 299.5L1286.4 296.7L1289.8 294.2L1291.8 293.4L1293.8 292.6L1290.4 295.1L1287 298L1285 298.8Z" color="#52c569"/>
<path d="M1235.7 337.5L1239.1 333L1242.4 328.6L1244.5 328.1L1246.5 327.5L1243.1 331.9L1239.7 336.4L1237.7 337Z" color="#28ae80"/>
<path d="M1475.5 511L1478.9 517.8L1482.3 524.3L1484.2 523.4L1486 522.4L1482.6 515.9L1479.3 509.2L1477.4 510.1Z" color="#482677"/>
<path d="M1492.2 549.8L1495.6 554.9L1497.4 554.1L1499.3 553.1L1495.9 548L1494 548.9Z" color="#450457"/>
<path d="M1100.6 454.2L1103.8 449.8L1107.1 445.5L1109.2 444.6L1111.3 443.7L1108.1 448L1104.8 452.3L1102.7 453.2Z" color="#34608d"/>
<path d="M1293.8 292.6L1297.2 290.6L1300.7 289.1L1302.7 288.2L1299.2 289.8L1295.8 291.8Z" color="#5cc863" stroke="none"/>
<path d="M1173.5 390.6L1176.8 386.1L1180.1 381.6L1182.2 381.1L1184.3 380.6L1181 385.1L1177.7 389.6L1175.6 390.1Z" color="#228b8d"/>
<path d="M1137 421.7L1140.3 417.3L1143.6 413L1145.7 412.3L1147.8 411.7L1144.5 416L1141.2 420.3L1139.1 421Z" color="#2a768e"/>
<path d="M1465.8 481.3L1469.1 488.4L1472.5 495.4L1474.4 494.4L1471 487.4L1467.6 480.4Z" color="#424186"/>
<path d="M1210 359.1L1213.3 354.4L1216.7 349.7L1218.8 349.3L1220.8 348.8L1217.5 353.5L1214.1 358.2L1212.1 358.7Z" color="#1fa188"/>
<path d="M1246.5 327.5L1249.9 323.2L1253.3 319.1L1255.3 318.5L1257.3 318L1253.9 322.1L1250.5 326.4L1248.5 327Z" color="#32b67a"/>
<path d="M1074.9 478.3L1078.1 473.9L1081.3 469.5L1083.5 468.3L1085.6 467.1L1082.4 471.5L1079.2 475.9L1077.1 477.1Z" color="#3d4e8a"/>
<path d="M1485.4 538.5L1488.8 544.3L1492.2 549.8L1494 548.9L1495.9 548L1492.5 542.5L1489.1 536.7L1487.2 537.6Z" color="#470e61"/>
<path d="M1468.8 497.2L1472.2 504.2L1475.5 511L1477.4 510.1L1479.3 509.2L1475.9 502.3L1472.5 495.4L1470.6 496.3Z" color="#463480"/>
<path d="M1111.3 443.7L1114.6 439.3L1117.8 435L1119.9 434.2L1122.1 433.3L1118.8 437.6L1115.6 441.9L1113.4 442.8Z" color="#31688e"/>
<path d="M1257.3 318L1260.7 314L1264.1 310.2L1266.1 309.6L1268.1 309L1264.7 312.8L1261.3 316.7L1259.3 317.4Z" color="#3dbc74"/>
<path d="M1184.3 380.6L1187.6 376L1191 371.4L1193 370.9L1195.1 370.4L1191.8 375L1188.4 379.6L1186.4 380.1Z" color="#20938c"/>
<path d="M1147.8 411.7L1151.1 407.3L1154.4 402.9L1156.5 402.3L1158.6 401.7L1155.3 406.1L1152 410.4L1149.9 411Z" color="#277e8e"/>
<path d="M1478.6 526L1482 532.4L1485.4 538.5L1487.2 537.6L1489.1 536.7L1485.7 530.6L1482.3 524.3L1480.4 525.2Z" color="#481b6d"/>
<path d="M1220.8 348.8L1224.2 344.1L1227.5 339.5L1229.6 339L1231.6 338.5L1228.2 343.1L1224.9 347.8L1222.8 348.3Z" color="#23a983"/>
<path d="M1085.6 467.1L1088.8 462.8L1092.1 458.4L1094.2 457.3L1096.3 456.2L1093.1 460.5L1089.9 464.9L1087.7 466Z" color="#38588c"/>
<path d="M1060 492.6L1063.1 488.1L1066.3 483.6L1068.5 482.2L1070.6 480.9L1067.4 485.3L1064.2 489.8L1062.1 491.2Z" color="#414487"/>
<path d="M1459 467.2L1462.4 474.2L1465.8 481.3L1467.6 480.4L1464.3 473.3L1460.9 466.3Z" color="#3d4e8a"/>
<path d="M1268.1 309L1271.5 305.5L1275 302.3L1277 301.6L1279 301L1275.6 304.2L1272.2 307.7L1270.1 308.4Z" color="#4ac16d"/>
<path d="M1122.1 433.3L1125.3 429L1128.6 424.7L1130.7 423.9L1132.8 423.1L1129.6 427.4L1126.3 431.7L1124.2 432.5Z" color="#2d718e"/>
<path d="M1279 301L1282.4 298.1L1285.8 295.6L1287.8 294.9L1289.8 294.2L1286.4 296.7L1283 299.5L1281 300.3Z" color="#56c667"/>
<path d="M1289.8 294.2L1293.3 292.1L1296.7 290.6L1298.7 289.8L1300.7 289.1L1297.2 290.6L1293.8 292.6L1291.8 293.4Z" color="#5ec962" stroke="none"/>
<path d="M1158.6 401.7L1161.9 397.3L1165.2 392.8L1167.3 392.2L1169.4 391.7L1166.1 396.1L1162.8 400.5L1160.7 401.1Z" color="#25858e"/>
<path d="M1195.1 370.4L1198.4 365.7L1201.8 361L1203.8 360.6L1205.9 360.1L1202.6 364.8L1199.2 369.4L1197.2 369.9Z" color="#1e9b8a"/>
<path d="M1231.6 338.5L1235 334L1238.4 329.6L1240.4 329.1L1242.4 328.6L1239.1 333L1235.7 337.5L1233.6 338Z" color="#2ab07f"/>
<path d="M1462 483.1L1465.4 490.2L1468.8 497.2L1470.6 496.3L1472.5 495.4L1469.1 488.4L1465.8 481.3L1463.9 482.2Z" color="#414287"/>
<path d="M1471.8 512.8L1475.2 519.5L1478.6 526L1480.4 525.2L1482.3 524.3L1478.9 517.8L1475.5 511L1473.7 511.9Z" color="#482979"/>
<path d="M1300.7 289.1L1304.1 288L1307.6 287.6L1309.5 286.8L1306.1 287.2L1302.7 288.2Z" color="#65cb5e" stroke="none"/>
<path d="M1488.5 551.5L1491.9 556.6L1493.7 555.8L1495.6 554.9L1492.2 549.8L1490.3 550.6Z" color="#46075a"/>
<path d="M1096.3 456.2L1099.6 451.9L1102.8 447.5L1104.9 446.5L1107.1 445.5L1103.8 449.8L1100.6 454.2L1098.5 455.2Z" color="#34618d"/>
<path d="M1070.6 480.9L1073.8 476.5L1077.1 472.1L1079.2 470.8L1081.3 469.5L1078.1 473.9L1074.9 478.3L1072.8 479.6Z" color="#3c4f8a"/>
<path d="M1132.8 423.1L1136.1 418.8L1139.4 414.4L1141.5 413.7L1143.6 413L1140.3 417.3L1137 421.7L1134.9 422.4Z" color="#2a788e"/>
<path d="M1452.2 453.4L1455.6 460.2L1459 467.2L1460.9 466.3L1457.5 459.3L1454.1 452.4Z" color="#375b8d"/>
<path d="M1169.4 391.7L1172.7 387.2L1176 382.7L1178.1 382.1L1180.1 381.6L1176.8 386.1L1173.5 390.6L1171.4 391.1Z" color="#218e8d"/>
<path d="M1481.7 540.1L1485.1 545.9L1488.5 551.5L1490.3 550.6L1492.2 549.8L1488.8 544.3L1485.4 538.5L1483.5 539.3Z" color="#471164"/>
<path d="M1242.4 328.6L1245.8 324.3L1249.2 320.2L1251.2 319.6L1253.3 319.1L1249.9 323.2L1246.5 327.5L1244.5 328.1Z" color="#35b779"/>
<path d="M1205.9 360.1L1209.2 355.4L1212.6 350.7L1214.6 350.2L1216.7 349.7L1213.3 354.4L1210 359.1L1207.9 359.6Z" color="#20a386"/>
<path d="M1465 499L1468.4 505.9L1471.8 512.8L1473.7 511.9L1475.5 511L1472.2 504.2L1468.8 497.2L1466.9 498.1Z" color="#453781"/>
<path d="M1455.2 469L1458.6 476.1L1462 483.1L1463.9 482.2L1465.8 481.3L1462.4 474.2L1459 467.2L1457.1 468.1Z" color="#3c508b"/>
<path d="M1107.1 445.5L1110.3 441.2L1113.6 436.9L1115.7 435.9L1117.8 435L1114.6 439.3L1111.3 443.7L1109.2 444.6Z" color="#306a8e"/>
<path d="M1253.3 319.1L1256.7 315.1L1260.1 311.4L1262.1 310.8L1264.1 310.2L1260.7 314L1257.3 318L1255.3 318.5Z" color="#40bd72"/>
<path d="M1143.6 413L1146.9 408.6L1150.2 404.2L1152.3 403.6L1154.4 402.9L1151.1 407.3L1147.8 411.7L1145.7 412.3Z" color="#27808e"/>
<path d="M1474.9 527.7L1478.3 534L1481.7 540.1L1483.5 539.3L1485.4 538.5L1482 532.4L1478.6 526L1476.7 526.9Z" color="#481d6f"/>
<path d="M1180.1 381.6L1183.5 377L1186.8 372.4L1188.9 371.9L1191 371.4L1187.6 376L1184.3 380.6L1182.2 381.1Z" color="#1f958b"/>
<path d="M1055.7 495.5L1058.9 491L1062.1 486.6L1064.2 485.1L1066.3 483.6L1063.1 488.1L1060 492.6L1057.8 494Z" color="#404588"/>
<path d="M1081.3 469.5L1084.6 465.1L1087.8 460.8L1089.9 459.6L1092.1 458.4L1088.8 462.8L1085.6 467.1L1083.5 468.3Z" color="#38598c"/>
<path d="M1216.7 349.7L1220.1 345.1L1223.4 340.5L1225.5 340L1227.5 339.5L1224.2 344.1L1220.8 348.8L1218.8 349.3Z" color="#25ab82"/>
<path d="M1307.6 287.6L1311 287.9L1314.5 288.8L1316.4 288L1313 287.1L1309.5 286.8Z" color="#69cd5b"/>
<path d="M1445.4 440L1448.8 446.6L1452.2 453.4L1454.1 452.4L1450.7 445.7L1447.3 439.1Z" color="#31668e"/>
<path d="M1296.7 290.6L1300.1 289.6L1303.6 289.2L1305.6 288.4L1307.6 287.6L1304.1 288L1300.7 289.1L1298.7 289.8Z" color="#67cc5c" stroke="none"/>
<path d="M1264.1 310.2L1267.5 306.7L1270.9 303.5L1273 302.9L1275 302.3L1271.5 305.5L1268.1 309L1266.1 309.6Z" color="#4ec36b"/>
<path d="M1117.8 435L1121.1 430.7L1124.4 426.4L1126.5 425.5L1128.6 424.7L1125.3 429L1122.1 433.3L1119.9 434.2Z" color="#2c718e"/>
<path d="M1275 302.3L1278.4 299.4L1281.8 296.9L1283.8 296.3L1285.8 295.6L1282.4 298.1L1279 301L1277 301.6Z" color="#5ac864"/>
<path d="M1285.8 295.6L1289.3 293.6L1292.7 292L1294.7 291.3L1296.7 290.6L1293.3 292.1L1289.8 294.2L1287.8 294.9Z" color="#63cb5f" stroke="none"/>
<path d="M1154.4 402.9L1157.7 398.5L1161 394.1L1163.1 393.4L1165.2 392.8L1161.9 397.3L1158.6 401.7L1156.5 402.3Z" color="#23888e"/>
<path d="M1458.3 484.8L1461.7 491.9L1465 499L1466.9 498.1L1468.8 497.2L1465.4 490.2L1462 483.1L1460.1 484Z" color="#404588"/>
<path d="M1191 371.4L1194.3 366.7L1197.6 362L1199.7 361.5L1201.8 361L1198.4 365.7L1195.1 370.4L1193 370.9Z" color="#1e9d89"/>
<path d="M1448.4 455.1L1451.8 462L1455.2 469L1457.1 468.1L1459 467.2L1455.6 460.2L1452.2 453.4L1450.3 454.3Z" color="#365c8d"/>
<path d="M1468.1 514.4L1471.5 521.1L1474.9 527.7L1476.7 526.9L1478.6 526L1475.2 519.5L1471.8 512.8L1469.9 513.6Z" color="#472c7a"/>
<path d="M1227.5 339.5L1230.9 335L1234.3 330.6L1236.3 330.1L1238.4 329.6L1235 334L1231.6 338.5L1229.6 339Z" color="#2db27d"/>
<path d="M1092.1 458.4L1095.3 454.1L1098.5 449.7L1100.7 448.6L1102.8 447.5L1099.6 451.9L1096.3 456.2L1094.2 457.3Z" color="#33628d"/>
<path d="M1484.8 553L1488.2 558.2L1490 557.4L1491.9 556.6L1488.5 551.5L1486.6 552.3Z" color="#460a5d"/>
<path d="M1314.5 288.8L1317.9 290.5L1321.4 292.8L1323.3 291.9L1319.9 289.6L1316.4 288Z" color="#67cc5c"/>
<path d="M1438.6 427.5L1442 433.7L1445.4 440L1447.3 439.1L1443.9 432.7L1440.5 426.6Z" color="#2d718e"/>
<path d="M1066.3 483.6L1069.6 479.2L1072.8 474.8L1074.9 473.4L1077.1 472.1L1073.8 476.5L1070.6 480.9L1068.5 482.2Z" color="#3c508b"/>
<path d="M1355.8 333.8L1359.3 338L1362.7 342L1364.7 341.2L1361.2 337.2L1357.8 333Z" color="#2ab07f"/>
<path d="M1362.7 342L1366.2 345.9L1369.6 349.7L1371.6 348.8L1368.1 345.1L1364.7 341.2Z" color="#25ac82"/>
<path d="M1348.9 325L1352.4 329.5L1355.8 333.8L1357.8 333L1354.3 328.6L1350.9 324.1Z" color="#34b679"/>
<path d="M1369.6 349.7L1373.1 353.3L1376.5 356.9L1378.5 356L1375 352.5L1371.6 348.8Z" color="#22a785"/>
<path d="M1128.6 424.7L1131.9 420.4L1135.2 416L1137.3 415.2L1139.4 414.4L1136.1 418.8L1132.8 423.1L1130.7 423.9Z" color="#297a8e"/>
<path d="M1376.5 356.9L1380 360.3L1383.4 363.7L1385.4 362.8L1381.9 359.5L1378.5 356Z" color="#1fa287"/>
<path d="M1342.1 315.8L1345.5 320.4L1348.9 325L1350.9 324.1L1347.5 319.6L1344 315Z" color="#3dbc74"/>
<path d="M1477.9 541.7L1481.4 547.5L1484.8 553L1486.6 552.3L1488.5 551.5L1485.1 545.9L1481.7 540.1L1479.8 540.9Z" color="#481467"/>
<path d="M1165.2 392.8L1168.5 388.3L1171.8 383.8L1173.9 383.2L1176 382.7L1172.7 387.2L1169.4 391.7L1167.3 392.2Z" color="#21908d"/>
<path d="M1238.4 329.6L1241.7 325.3L1245.1 321.2L1247.2 320.7L1249.2 320.2L1245.8 324.3L1242.4 328.6L1240.4 329.1Z" color="#38b977"/>
<path d="M1321.4 292.8L1324.8 295.6L1328.3 299L1330.2 298.2L1326.8 294.8L1323.3 291.9Z" color="#60ca60"/>
<path d="M1201.8 361L1205.1 356.3L1208.5 351.6L1210.5 351.1L1212.6 350.7L1209.2 355.4L1205.9 360.1L1203.8 360.6Z" color="#21a585"/>
<path d="M1335.2 306.9L1338.6 311.3L1342.1 315.8L1344 315L1340.6 310.4L1337.1 306.1Z" color="#4ac16d"/>
<path d="M1383.4 363.7L1386.9 367L1390.3 370.2L1392.3 369.3L1388.8 366.1L1385.4 362.8Z" color="#1f9e89"/>
<path d="M1328.3 299L1331.7 302.8L1335.2 306.9L1337.1 306.1L1333.7 302L1330.2 298.2Z" color="#56c667"/>
<path d="M1303.6 289.2L1307 289.4L1310.5 290.4L1312.5 289.6L1314.5 288.8L1311 287.9L1307.6 287.6L1305.6 288.4Z" color="#6ccd5a"/>
<path d="M1431.8 416.1L1435.2 421.7L1438.6 427.5L1440.5 426.6L1437.1 420.8L1433.7 415.2Z" color="#29798e"/>
<path d="M1441.6 441.8L1445 448.4L1448.4 455.1L1450.3 454.3L1452.2 453.4L1448.8 446.6L1445.4 440L1443.5 440.9Z" color="#31678e"/>
<path d="M1461.3 500.6L1464.7 507.5L1468.1 514.4L1469.9 513.6L1471.8 512.8L1468.4 505.9L1465 499L1463.2 499.8Z" color="#443983"/>
<path d="M1102.8 447.5L1106.1 443.2L1109.3 438.9L1111.5 437.9L1113.6 436.9L1110.3 441.2L1107.1 445.5L1104.9 446.5Z" color="#2f6b8e"/>
<path d="M1451.5 470.7L1454.9 477.7L1458.3 484.8L1460.1 484L1462 483.1L1458.6 476.1L1455.2 469L1453.4 469.9Z" color="#3b518b"/>
<path d="M1390.3 370.2L1393.8 373.4L1397.3 376.5L1399.2 375.6L1395.7 372.5L1392.3 369.3Z" color="#1f9a8a"/>
<path d="M1051.4 498.7L1054.6 494.2L1057.8 489.7L1059.9 488.1L1062.1 486.6L1058.9 491L1055.7 495.5L1053.5 497.1Z" color="#404588"/>
<path d="M1077.1 472.1L1080.3 467.7L1083.5 463.3L1085.7 462L1087.8 460.8L1084.6 465.1L1081.3 469.5L1079.2 470.8Z" color="#375a8c"/>
<path d="M1249.2 320.2L1252.6 316.2L1256 312.4L1258 311.9L1260.1 311.4L1256.7 315.1L1253.3 319.1L1251.2 319.6Z" color="#44bf70"/>
<path d="M1139.4 414.4L1142.7 410.1L1146 405.7L1148.1 405L1150.2 404.2L1146.9 408.6L1143.6 413L1141.5 413.7Z" color="#26828e"/>
<path d="M1471.1 529.2L1474.5 535.6L1477.9 541.7L1479.8 540.9L1481.7 540.1L1478.3 534L1474.9 527.7L1473 528.5Z" color="#482071"/>
<path d="M1397.3 376.5L1400.7 379.7L1404.2 383L1406.1 382.1L1402.6 378.8L1399.2 375.6Z" color="#1f968b"/>
<path d="M1176 382.7L1179.3 378.1L1182.6 373.5L1184.7 372.9L1186.8 372.4L1183.5 377L1180.1 381.6L1178.1 382.1Z" color="#1f978b"/>
<path d="M1424.9 406.1L1428.3 410.9L1431.8 416.1L1433.7 415.2L1430.2 410L1426.8 405.2Z" color="#26818e"/>
<path d="M1212.6 350.7L1215.9 346L1219.3 341.4L1221.4 340.9L1223.4 340.5L1220.1 345.1L1216.7 349.7L1214.6 350.2Z" color="#26ad81"/>
<path d="M1404.2 383L1407.6 386.3L1411.1 389.8L1413 388.9L1409.5 385.4L1406.1 382.1Z" color="#20928c"/>
<path d="M1292.7 292L1296.1 291L1299.6 290.6L1301.6 289.9L1303.6 289.2L1300.1 289.6L1296.7 290.6L1294.7 291.3Z" color="#6ccd5a" stroke="none"/>
<path d="M1418 397.5L1421.4 401.6L1424.9 406.1L1426.8 405.2L1423.3 400.7L1419.9 396.5Z" color="#23888e"/>
<path d="M1260.1 311.4L1263.5 307.8L1266.9 304.6L1268.9 304.1L1270.9 303.5L1267.5 306.7L1264.1 310.2L1262.1 310.8Z" color="#52c569"/>
<path d="M1411.1 389.8L1414.5 393.5L1418 397.5L1419.9 396.5L1416.5 392.6L1413 388.9Z" color="#228d8d"/>
<path d="M1310.5 290.4L1313.9 292L1317.4 294.3L1319.4 293.6L1321.4 292.8L1317.9 290.5L1314.5 288.8L1312.5 289.6Z" color="#6ccd5a"/>
<path d="M1434.8 429.3L1438.2 435.4L1441.6 441.8L1443.5 440.9L1445.4 440L1442 433.7L1438.6 427.5L1436.7 428.4Z" color="#2c718e"/>
<path d="M1113.6 436.9L1116.8 432.6L1120.1 428.3L1122.2 427.3L1124.4 426.4L1121.1 430.7L1117.8 435L1115.7 435.9Z" color="#2c738e"/>
<path d="M1351.9 335.4L1355.4 339.6L1358.8 343.7L1360.8 342.9L1362.7 342L1359.3 338L1355.8 333.8L1353.9 334.7Z" color="#2db27d"/>
<path d="M1358.8 343.7L1362.3 347.6L1365.7 351.3L1367.7 350.5L1369.6 349.7L1366.2 345.9L1362.7 342L1360.8 342.9Z" color="#26ad81"/>
<path d="M1281.8 296.9L1285.3 294.9L1288.7 293.3L1290.7 292.7L1292.7 292L1289.3 293.6L1285.8 295.6L1283.8 296.3Z" color="#67cc5c" stroke="none"/>
<path d="M1270.9 303.5L1274.4 300.6L1277.8 298.1L1279.8 297.5L1281.8 296.9L1278.4 299.4L1275 302.3L1273 302.9Z" color="#5cc863"/>
<path d="M1345 326.6L1348.5 331.1L1351.9 335.4L1353.9 334.7L1355.8 333.8L1352.4 329.5L1348.9 325L1347 325.8Z" color="#35b779"/>
<path d="M1365.7 351.3L1369.2 355L1372.6 358.5L1374.6 357.7L1376.5 356.9L1373.1 353.3L1369.6 349.7L1367.7 350.5Z" color="#22a884"/>
<path d="M1150.2 404.2L1153.5 399.8L1156.8 395.4L1158.9 394.7L1161 394.1L1157.7 398.5L1154.4 402.9L1152.3 403.6Z" color="#238a8d"/>
<path d="M1454.5 486.4L1457.9 493.5L1461.3 500.6L1463.2 499.8L1465 499L1461.7 491.9L1458.3 484.8L1456.4 485.6Z" color="#404688"/>
<path d="M1444.7 456.8L1448.1 463.7L1451.5 470.7L1453.4 469.9L1455.2 469L1451.8 462L1448.4 455.1L1446.6 456Z" color="#355e8d"/>
<path d="M1372.6 358.5L1376.1 362L1379.6 365.4L1381.5 364.5L1383.4 363.7L1380 360.3L1376.5 356.9L1374.6 357.7Z" color="#20a386"/>
<path d="M1338.1 317.4L1341.6 322L1345 326.6L1347 325.8L1348.9 325L1345.5 320.4L1342.1 315.8L1340.1 316.6Z" color="#40bd72"/>
<path d="M1186.8 372.4L1190.1 367.7L1193.5 363L1195.5 362.5L1197.6 362L1194.3 366.7L1191 371.4L1188.9 371.9Z" color="#1fa088"/>
<path d="M1087.8 460.8L1091 456.4L1094.3 452.1L1096.4 450.9L1098.5 449.7L1095.3 454.1L1092.1 458.4L1089.9 459.6Z" color="#33638d"/>
<path d="M1464.3 515.9L1467.7 522.7L1471.1 529.2L1473 528.5L1474.9 527.7L1471.5 521.1L1468.1 514.4L1466.2 515.2Z" color="#472e7c"/>
<path d="M1062.1 486.6L1065.3 482.1L1068.5 477.7L1070.6 476.3L1072.8 474.8L1069.6 479.2L1066.3 483.6L1064.2 485.1Z" color="#3c508b"/>
<path d="M1223.4 340.5L1226.8 335.9L1230.2 331.5L1232.2 331L1234.3 330.6L1230.9 335L1227.5 339.5L1225.5 340Z" color="#31b57b"/>
<path d="M1317.4 294.3L1320.9 297.2L1324.3 300.6L1326.3 299.8L1328.3 299L1324.8 295.6L1321.4 292.8L1319.4 293.6Z" color="#63cb5f"/>
<path d="M1331.2 308.5L1334.7 312.9L1338.1 317.4L1340.1 316.6L1342.1 315.8L1338.6 311.3L1335.2 306.9L1333.2 307.7Z" color="#4cc26c"/>
<path d="M1379.6 365.4L1383 368.6L1386.5 371.9L1388.4 371.1L1390.3 370.2L1386.9 367L1383.4 363.7L1381.5 364.5Z" color="#1fa088"/>
<path d="M1481 554.5L1484.5 559.7L1486.3 559L1488.2 558.2L1484.8 553L1482.9 553.8Z" color="#470d60"/>
<path d="M1324.3 300.6L1327.8 304.4L1331.2 308.5L1333.2 307.7L1335.2 306.9L1331.7 302.8L1328.3 299L1326.3 299.8Z" color="#5ac864"/>
<path d="M1427.9 417.9L1431.4 423.4L1434.8 429.3L1436.7 428.4L1438.6 427.5L1435.2 421.7L1431.8 416.1L1429.9 417Z" color="#297a8e"/>
<path d="M1386.5 371.9L1389.9 375L1393.4 378.2L1395.3 377.4L1397.3 376.5L1393.8 373.4L1390.3 370.2L1388.4 371.1Z" color="#1e9b8a"/>
<path d="M1124.4 426.4L1127.6 422.1L1130.9 417.7L1133 416.8L1135.2 416L1131.9 420.4L1128.6 424.7L1126.5 425.5Z" color="#287c8e"/>
<path d="M1474.2 543.2L1477.6 549L1481 554.5L1482.9 553.8L1484.8 553L1481.4 547.5L1477.9 541.7L1476.1 542.4Z" color="#481769"/>
<path d="M1161 394.1L1164.3 389.6L1167.6 385L1169.7 384.4L1171.8 383.8L1168.5 388.3L1165.2 392.8L1163.1 393.4Z" color="#20928c"/>
<path d="M1234.3 330.6L1237.7 326.3L1241.1 322.1L1243.1 321.6L1245.1 321.2L1241.7 325.3L1238.4 329.6L1236.3 330.1Z" color="#3bbb75"/>
<path d="M1393.4 378.2L1396.9 381.4L1400.3 384.7L1402.3 383.8L1404.2 383L1400.7 379.7L1397.3 376.5L1395.3 377.4Z" color="#1f978b"/>
<path d="M1197.6 362L1201 357.3L1204.3 352.6L1206.4 352.1L1208.5 351.6L1205.1 356.3L1201.8 361L1199.7 361.5Z" color="#22a785"/>
<path d="M1047.1 502L1050.3 497.5L1053.5 493.1L1055.6 491.4L1057.8 489.7L1054.6 494.2L1051.4 498.7L1049.2 500.3Z" color="#404588"/>
<path d="M1299.6 290.6L1303.1 290.8L1306.5 291.8L1308.5 291.1L1310.5 290.4L1307 289.4L1303.6 289.2L1301.6 289.9Z" color="#70cf57"/>
<path d="M1421.1 407.8L1424.5 412.7L1427.9 417.9L1429.9 417L1431.8 416.1L1428.3 410.9L1424.9 406.1L1423 407Z" color="#26828e"/>
<path d="M1098.5 449.7L1101.8 445.4L1105.1 441.1L1107.2 440L1109.3 438.9L1106.1 443.2L1102.8 447.5L1100.7 448.6Z" color="#2e6d8e"/>
<path d="M1437.8 443.4L1441.3 450L1444.7 456.8L1446.6 456L1448.4 455.1L1445 448.4L1441.6 441.8L1439.7 442.6Z" color="#30698e"/>
<path d="M1400.3 384.7L1403.8 388L1407.3 391.5L1409.2 390.7L1411.1 389.8L1407.6 386.3L1404.2 383L1402.3 383.8Z" color="#20938c"/>
<path d="M1447.7 472.2L1451.1 479.3L1454.5 486.4L1456.4 485.6L1458.3 484.8L1454.9 477.7L1451.5 470.7L1449.6 471.5Z" color="#3a538b"/>
<path d="M1457.5 502.1L1460.9 509L1464.3 515.9L1466.2 515.2L1468.1 514.4L1464.7 507.5L1461.3 500.6L1459.4 501.3Z" color="#443b84"/>
<path d="M1072.8 474.8L1076 470.4L1079.2 466.1L1081.4 464.7L1083.5 463.3L1080.3 467.7L1077.1 472.1L1074.9 473.4Z" color="#375b8d"/>
<path d="M1414.2 399.2L1417.6 403.3L1421.1 407.8L1423 407L1424.9 406.1L1421.4 401.6L1418 397.5L1416.1 398.3Z" color="#23898e"/>
<path d="M1407.3 391.5L1410.7 395.2L1414.2 399.2L1416.1 398.3L1418 397.5L1414.5 393.5L1411.1 389.8L1409.2 390.7Z" color="#218f8d"/>
<path d="M1135.2 416L1138.4 411.6L1141.7 407.2L1143.8 406.4L1146 405.7L1142.7 410.1L1139.4 414.4L1137.3 415.2Z" color="#25838e"/>
<path d="M1245.1 321.2L1248.5 317.2L1251.9 313.4L1254 312.9L1256 312.4L1252.6 316.2L1249.2 320.2L1247.2 320.7Z" color="#4ac16d"/>
<path d="M1467.4 530.7L1470.8 537L1474.2 543.2L1476.1 542.4L1477.9 541.7L1474.5 535.6L1471.1 529.2L1469.3 530Z" color="#482374"/>
<path d="M1171.8 383.8L1175.1 379.2L1178.5 374.6L1180.5 374L1182.6 373.5L1179.3 378.1L1176 382.7L1173.9 383.2Z" color="#1f998a"/>
<path d="M1288.7 293.3L1292.1 292.3L1295.6 291.9L1297.6 291.3L1299.6 290.6L1296.1 291L1292.7 292L1290.7 292.7Z" color="#70cf57" stroke="none"/>
<path d="M1208.5 351.6L1211.8 346.9L1215.2 342.3L1217.2 341.8L1219.3 341.4L1215.9 346L1212.6 350.7L1210.5 351.1Z" color="#29af7f"/>
<path d="M1256 312.4L1259.4 308.9L1262.8 305.6L1264.9 305.1L1266.9 304.6L1263.5 307.8L1260.1 311.4L1258 311.9Z" color="#56c667"/>
<path d="M1306.5 291.8L1310 293.4L1313.4 295.7L1315.4 295L1317.4 294.3L1313.9 292L1310.5 290.4L1308.5 291.1Z" color="#6ece58"/>
<path d="M1109.3 438.9L1112.6 434.6L1115.9 430.3L1118 429.2L1120.1 428.3L1116.8 432.6L1113.6 436.9L1111.5 437.9Z" color="#2b748e"/>
<path d="M1431 430.9L1434.4 437.1L1437.8 443.4L1439.7 442.6L1441.6 441.8L1438.2 435.4L1434.8 429.3L1432.9 430.1Z" color="#2c728e"/>
<path d="M1348 336.9L1351.5 341.1L1354.9 345.2L1356.9 344.4L1358.8 343.7L1355.4 339.6L1351.9 335.4L1350 336.2Z" color="#2eb37c"/>
<path d="M1354.9 345.2L1358.4 349.1L1361.8 352.8L1363.8 352.1L1365.7 351.3L1362.3 347.6L1358.8 343.7L1356.9 344.4Z" color="#28ae80"/>
<path d="M1057.8 489.7L1061 485.3L1064.2 480.9L1066.3 479.3L1068.5 477.7L1065.3 482.1L1062.1 486.6L1059.9 488.1Z" color="#3b518b"/>
<path d="M1277.8 298.1L1281.2 296.1L1284.7 294.5L1286.7 293.9L1288.7 293.3L1285.3 294.9L1281.8 296.9L1279.8 297.5Z" color="#6ccd5a" stroke="none"/>
<path d="M1341.1 328.1L1344.5 332.6L1348 336.9L1350 336.2L1351.9 335.4L1348.5 331.1L1345 326.6L1343.1 327.3Z" color="#38b977"/>
<path d="M1361.8 352.8L1365.3 356.5L1368.7 360.1L1370.7 359.3L1372.6 358.5L1369.2 355L1365.7 351.3L1363.8 352.1Z" color="#23a983"/>
<path d="M1266.9 304.6L1270.3 301.7L1273.8 299.2L1275.8 298.7L1277.8 298.1L1274.4 300.6L1270.9 303.5L1268.9 304.1Z" color="#63cb5f"/>
<path d="M1083.5 463.3L1086.8 459L1090 454.7L1092.1 453.4L1094.3 452.1L1091 456.4L1087.8 460.8L1085.7 462Z" color="#32648e"/>
<path d="M1146 405.7L1149.3 401.3L1152.6 396.8L1154.7 396.1L1156.8 395.4L1153.5 399.8L1150.2 404.2L1148.1 405Z" color="#228c8d"/>
<path d="M1440.9 458.3L1444.3 465.2L1447.7 472.2L1449.6 471.5L1451.5 470.7L1448.1 463.7L1444.7 456.8L1442.8 457.6Z" color="#34608d"/>
<path d="M1450.7 487.9L1454.1 495L1457.5 502.1L1459.4 501.3L1461.3 500.6L1457.9 493.5L1454.5 486.4L1452.6 487.2Z" color="#3f4889"/>
<path d="M1368.7 360.1L1372.2 363.5L1375.7 366.9L1377.6 366.1L1379.6 365.4L1376.1 362L1372.6 358.5L1370.7 359.3Z" color="#21a585"/>
<path d="M1334.2 318.9L1337.6 323.5L1341.1 328.1L1343.1 327.3L1345 326.6L1341.6 322L1338.1 317.4L1336.1 318.1Z" color="#42be71"/>
<path d="M1460.6 517.4L1464 524.1L1467.4 530.7L1469.3 530L1471.1 529.2L1467.7 522.7L1464.3 515.9L1462.5 516.7Z" color="#46307e"/>
<path d="M1182.6 373.5L1186 368.8L1189.3 364.1L1191.4 363.5L1193.5 363L1190.1 367.7L1186.8 372.4L1184.7 372.9Z" color="#1fa187"/>
<path d="M1313.4 295.7L1316.9 298.6L1320.3 302L1322.3 301.3L1324.3 300.6L1320.9 297.2L1317.4 294.3L1315.4 295Z" color="#67cc5c"/>
<path d="M1327.3 310L1330.7 314.3L1334.2 318.9L1336.1 318.1L1338.1 317.4L1334.7 312.9L1331.2 308.5L1329.2 309.2Z" color="#50c46a"/>
<path d="M1219.3 341.4L1222.7 336.8L1226.1 332.4L1228.1 332L1230.2 331.5L1226.8 335.9L1223.4 340.5L1221.4 340.9Z" color="#34b679"/>
<path d="M1375.7 366.9L1379.1 370.2L1382.6 373.4L1384.5 372.7L1386.5 371.9L1383 368.6L1379.6 365.4L1377.6 366.1Z" color="#1fa188"/>
<path d="M1320.3 302L1323.8 305.8L1327.3 310L1329.2 309.2L1331.2 308.5L1327.8 304.4L1324.3 300.6L1322.3 301.3Z" color="#5cc863"/>
<path d="M1477.3 555.9L1480.8 561.1L1482.6 560.4L1484.5 559.7L1481 554.5L1479.2 555.2Z" color="#471063"/>
<path d="M1424.1 419.5L1427.6 425L1431 430.9L1432.9 430.1L1434.8 429.3L1431.4 423.4L1427.9 417.9L1426 418.7Z" color="#287c8e"/>
<path d="M1382.6 373.4L1386.1 376.6L1389.5 379.8L1391.5 379L1393.4 378.2L1389.9 375L1386.5 371.9L1384.5 372.7Z" color="#1e9d89"/>
<path d="M1120.1 428.3L1123.4 423.9L1126.7 419.6L1128.8 418.6L1130.9 417.7L1127.6 422.1L1124.4 426.4L1122.2 427.3Z" color="#287d8e"/>
<path d="M1042.8 505.6L1045.9 501.1L1049.1 496.6L1051.3 494.8L1053.5 493.1L1050.3 497.5L1047.1 502L1044.9 503.8Z" color="#404688"/>
<path d="M1470.5 544.6L1473.9 550.4L1477.3 555.9L1479.2 555.2L1481 554.5L1477.6 549L1474.2 543.2L1472.3 543.9Z" color="#481a6c"/>
<path d="M1156.8 395.4L1160.1 390.9L1163.4 386.3L1165.5 385.7L1167.6 385L1164.3 389.6L1161 394.1L1158.9 394.7Z" color="#20938c"/>
<path d="M1389.5 379.8L1393 383L1396.5 386.2L1398.4 385.5L1400.3 384.7L1396.9 381.4L1393.4 378.2L1391.5 379Z" color="#1f998a"/>
<path d="M1094.3 452.1L1097.5 447.8L1100.8 443.5L1102.9 442.3L1105.1 441.1L1101.8 445.4L1098.5 449.7L1096.4 450.9Z" color="#2e6e8e"/>
<path d="M1295.6 291.9L1299.1 292.1L1302.5 293.1L1304.5 292.4L1306.5 291.8L1303.1 290.8L1299.6 290.6L1297.6 291.3Z" color="#75d054"/>
<path d="M1417.2 409.4L1420.7 414.3L1424.1 419.5L1426 418.7L1427.9 417.9L1424.5 412.7L1421.1 407.8L1419.2 408.6Z" color="#25838e"/>
<path d="M1230.2 331.5L1233.6 327.2L1237 323L1239 322.6L1241.1 322.1L1237.7 326.3L1234.3 330.6L1232.2 331Z" color="#40bd72"/>
<path d="M1068.5 477.7L1071.7 473.4L1074.9 469L1077.1 467.5L1079.2 466.1L1076 470.4L1072.8 474.8L1070.6 476.3Z" color="#365c8d"/>
<path d="M1193.5 363L1196.8 358.3L1200.2 353.6L1202.2 353.1L1204.3 352.6L1201 357.3L1197.6 362L1195.5 362.5Z" color="#23a983"/>
<path d="M1434 445L1437.5 451.6L1440.9 458.3L1442.8 457.6L1444.7 456.8L1441.3 450L1437.8 443.4L1435.9 444.2Z" color="#2f6b8e"/>
<path d="M1396.5 386.2L1399.9 389.6L1403.4 393.1L1405.3 392.3L1407.3 391.5L1403.8 388L1400.3 384.7L1398.4 385.5Z" color="#1f948c"/>
<path d="M1443.9 473.7L1447.3 480.8L1450.7 487.9L1452.6 487.2L1454.5 486.4L1451.1 479.3L1447.7 472.2L1445.8 473Z" color="#39558c"/>
<path d="M1453.8 503.5L1457.2 510.5L1460.6 517.4L1462.5 516.7L1464.3 515.9L1460.9 509L1457.5 502.1L1455.6 502.8Z" color="#433e85"/>
<path d="M1410.3 400.7L1413.8 404.9L1417.2 409.4L1419.2 408.6L1421.1 407.8L1417.6 403.3L1414.2 399.2L1412.2 400Z" color="#238a8d"/>
<path d="M1403.4 393.1L1406.9 396.8L1410.3 400.7L1412.2 400L1414.2 399.2L1410.7 395.2L1407.3 391.5L1405.3 392.3Z" color="#21908d"/>
<path d="M1130.9 417.7L1134.2 413.3L1137.5 408.9L1139.6 408.1L1141.7 407.2L1138.4 411.6L1135.2 416L1133 416.8Z" color="#25858e"/>
<path d="M1241.1 322.1L1244.5 318.1L1247.9 314.3L1249.9 313.9L1251.9 313.4L1248.5 317.2L1245.1 321.2L1243.1 321.6Z" color="#4ec36b"/>
<path d="M1463.6 532.1L1467.1 538.4L1470.5 544.6L1472.3 543.9L1474.2 543.2L1470.8 537L1467.4 530.7L1465.5 531.4Z" color="#482576"/>
<path d="M1167.6 385L1170.9 380.4L1174.3 375.8L1176.4 375.2L1178.5 374.6L1175.1 379.2L1171.8 383.8L1169.7 384.4Z" color="#1e9b8a"/>
<path d="M1284.7 294.5L1288.1 293.5L1291.6 293.1L1293.6 292.5L1295.6 291.9L1292.1 292.3L1288.7 293.3L1286.7 293.9Z" color="#75d054" stroke="none"/>
<path d="M1053.5 493.1L1056.7 488.6L1059.9 484.2L1062 482.5L1064.2 480.9L1061 485.3L1057.8 489.7L1055.6 491.4Z" color="#3b518b"/>
<path d="M1204.3 352.6L1207.7 347.9L1211 343.3L1213.1 342.8L1215.2 342.3L1211.8 346.9L1208.5 351.6L1206.4 352.1Z" color="#2cb17e"/>
<path d="M1105.1 441.1L1108.3 436.8L1111.6 432.4L1113.7 431.3L1115.9 430.3L1112.6 434.6L1109.3 438.9L1107.2 440Z" color="#2a768e"/>
<path d="M1302.5 293.1L1306 294.7L1309.4 297.1L1311.4 296.4L1313.4 295.7L1310 293.4L1306.5 291.8L1304.5 292.4Z" color="#73d056"/>
<path d="M1427.2 432.4L1430.6 438.6L1434 445L1435.9 444.2L1437.8 443.4L1434.4 437.1L1431 430.9L1429.1 431.7Z" color="#2b748e"/>
<path d="M1251.9 313.4L1255.4 309.9L1258.8 306.6L1260.8 306.1L1262.8 305.6L1259.4 308.9L1256 312.4L1254 312.9Z" color="#5ac864"/>
<path d="M1079.2 466.1L1082.5 461.7L1085.7 457.4L1087.9 456L1090 454.7L1086.8 459L1083.5 463.3L1081.4 464.7Z" color="#32658e"/>
<path d="M1344.1 338.3L1347.5 342.5L1351 346.6L1352.9 345.9L1354.9 345.2L1351.5 341.1L1348 336.9L1346 337.6Z" color="#31b57b"/>
<path d="M1351 346.6L1354.4 350.5L1357.9 354.2L1359.9 353.6L1361.8 352.8L1358.4 349.1L1354.9 345.2L1352.9 345.9Z" color="#2ab07f"/>
<path d="M1337.1 329.4L1340.6 333.9L1344.1 338.3L1346 337.6L1348 336.9L1344.5 332.6L1341.1 328.1L1339.1 328.8Z" color="#3aba76"/>
<path d="M1357.9 354.2L1361.4 357.9L1364.8 361.5L1366.8 360.8L1368.7 360.1L1365.3 356.5L1361.8 352.8L1359.9 353.6Z" color="#25ab82"/>
<path d="M1273.8 299.2L1277.2 297.2L1280.6 295.6L1282.7 295.1L1284.7 294.5L1281.2 296.1L1277.8 298.1L1275.8 298.7Z" color="#70cf57"/>
<path d="M1262.8 305.6L1266.3 302.7L1269.7 300.3L1271.7 299.7L1273.8 299.2L1270.3 301.7L1266.9 304.6L1264.9 305.1Z" color="#67cc5c"/>
<path d="M1141.7 407.2L1145 402.8L1148.3 398.4L1150.5 397.6L1152.6 396.8L1149.3 401.3L1146 405.7L1143.8 406.4Z" color="#228d8d"/>
<path d="M1437.1 459.8L1440.5 466.7L1443.9 473.7L1445.8 473L1447.7 472.2L1444.3 465.2L1440.9 458.3L1439 459.1Z" color="#33628d"/>
<path d="M1364.8 361.5L1368.3 364.9L1371.8 368.3L1373.7 367.6L1375.7 366.9L1372.2 363.5L1368.7 360.1L1366.8 360.8Z" color="#22a785"/>
<path d="M1446.9 489.3L1450.4 496.4L1453.8 503.5L1455.6 502.8L1457.5 502.1L1454.1 495L1450.7 487.9L1448.8 488.6Z" color="#3e4a89"/>
<path d="M1330.2 320.2L1333.7 324.8L1337.1 329.4L1339.1 328.8L1341.1 328.1L1337.6 323.5L1334.2 318.9L1332.2 319.5Z" color="#46c06f"/>
<path d="M1309.4 297.1L1312.9 300L1316.4 303.3L1318.4 302.7L1320.3 302L1316.9 298.6L1313.4 295.7L1311.4 296.4Z" color="#6ccd5a"/>
<path d="M1456.8 518.7L1460.2 525.5L1463.6 532.1L1465.5 531.4L1467.4 530.7L1464 524.1L1460.6 517.4L1458.7 518.1Z" color="#46337f"/>
<path d="M1038.4 509.3L1041.6 504.8L1044.8 500.3L1047 498.5L1049.1 496.6L1045.9 501.1L1042.8 505.6L1040.6 507.4Z" color="#404588"/>
<path d="M1178.5 374.6L1181.8 369.9L1185.1 365.2L1187.2 364.6L1189.3 364.1L1186 368.8L1182.6 373.5L1180.5 374Z" color="#20a386"/>
<path d="M1323.3 311.3L1326.8 315.7L1330.2 320.2L1332.2 319.5L1334.2 318.9L1330.7 314.3L1327.3 310L1325.3 310.6Z" color="#54c568"/>
<path d="M1371.8 368.3L1375.2 371.6L1378.7 374.8L1380.7 374.1L1382.6 373.4L1379.1 370.2L1375.7 366.9L1373.7 367.6Z" color="#1fa287"/>
<path d="M1316.4 303.3L1319.8 307.2L1323.3 311.3L1325.3 310.6L1327.3 310L1323.8 305.8L1320.3 302L1318.4 302.7Z" color="#60ca60"/>
<path d="M1215.2 342.3L1218.6 337.8L1221.9 333.3L1224 332.9L1226.1 332.4L1222.7 336.8L1219.3 341.4L1217.2 341.8Z" color="#37b878"/>
<path d="M1420.3 421L1423.8 426.5L1427.2 432.4L1429.1 431.7L1431 430.9L1427.6 425L1424.1 419.5L1422.2 420.2Z" color="#277e8e"/>
<path d="M1473.6 557.3L1477 562.5L1478.9 561.8L1480.8 561.1L1477.3 555.9L1475.5 556.6Z" color="#471365"/>
<path d="M1115.9 430.3L1119.1 425.9L1122.4 421.6L1124.5 420.5L1126.7 419.6L1123.4 423.9L1120.1 428.3L1118 429.2Z" color="#277f8e"/>
<path d="M1378.7 374.8L1382.2 378L1385.7 381.2L1387.6 380.5L1389.5 379.8L1386.1 376.6L1382.6 373.4L1380.7 374.1Z" color="#1f9f88"/>
<path d="M1064.2 480.9L1067.4 476.5L1070.6 472.1L1072.8 470.5L1074.9 469L1071.7 473.4L1068.5 477.7L1066.3 479.3Z" color="#365c8d"/>
<path d="M1090 454.7L1093.2 450.3L1096.5 446L1098.6 444.7L1100.8 443.5L1097.5 447.8L1094.3 452.1L1092.1 453.4Z" color="#2e6f8e"/>
<path d="M1152.6 396.8L1155.9 392.3L1159.2 387.8L1161.3 387L1163.4 386.3L1160.1 390.9L1156.8 395.4L1154.7 396.1Z" color="#1f958b"/>
<path d="M1385.7 381.2L1389.1 384.4L1392.6 387.7L1394.5 387L1396.5 386.2L1393 383L1389.5 379.8L1387.6 380.5Z" color="#1e9b8a"/>
<path d="M1466.7 545.9L1470.1 551.7L1473.6 557.3L1475.5 556.6L1477.3 555.9L1473.9 550.4L1470.5 544.6L1468.6 545.2Z" color="#481c6e"/>
<path d="M1413.4 410.9L1416.9 415.8L1420.3 421L1422.2 420.2L1424.1 419.5L1420.7 414.3L1417.2 409.4L1415.3 410.2Z" color="#25858e"/>
<path d="M1291.6 293.1L1295 293.3L1298.5 294.3L1300.5 293.7L1302.5 293.1L1299.1 292.1L1295.6 291.9L1293.6 292.5Z" color="#7ad151"/>
<path d="M1226.1 332.4L1229.5 328.1L1232.8 323.9L1234.9 323.5L1237 323L1233.6 327.2L1230.2 331.5L1228.1 332Z" color="#44bf70"/>
<path d="M1430.2 446.4L1433.7 453L1437.1 459.8L1439 459.1L1440.9 458.3L1437.5 451.6L1434 445L1432.1 445.7Z" color="#2e6d8e"/>
<path d="M1392.6 387.7L1396.1 391L1399.5 394.6L1401.5 393.8L1403.4 393.1L1399.9 389.6L1396.5 386.2L1394.5 387Z" color="#1f968b"/>
<path d="M1189.3 364.1L1192.6 359.3L1196 354.6L1198.1 354.1L1200.2 353.6L1196.8 358.3L1193.5 363L1191.4 363.5Z" color="#25ac82"/>
<path d="M1440.1 475.1L1443.5 482.2L1446.9 489.3L1448.8 488.6L1450.7 487.9L1447.3 480.8L1443.9 473.7L1442 474.4Z" color="#38588c"/>
<path d="M1406.5 402.2L1409.9 406.4L1413.4 410.9L1415.3 410.2L1417.2 409.4L1413.8 404.9L1410.3 400.7L1408.4 401.5Z" color="#228c8d"/>
<path d="M1399.5 394.6L1403 398.3L1406.5 402.2L1408.4 401.5L1410.3 400.7L1406.9 396.8L1403.4 393.1L1401.5 393.8Z" color="#20928c"/>
<path d="M1450 504.8L1453.4 511.8L1456.8 518.7L1458.7 518.1L1460.6 517.4L1457.2 510.5L1453.8 503.5L1451.9 504.2Z" color="#424086"/>
<path d="M1126.7 419.6L1130 415.2L1133.3 410.8L1135.4 409.8L1137.5 408.9L1134.2 413.3L1130.9 417.7L1128.8 418.6Z" color="#24868e"/>
<path d="M1049.1 496.6L1052.4 492.2L1055.6 487.8L1057.7 486L1059.9 484.2L1056.7 488.6L1053.5 493.1L1051.3 494.8Z" color="#3b518b"/>
<path d="M1459.9 533.4L1463.3 539.8L1466.7 545.9L1468.6 545.2L1470.5 544.6L1467.1 538.4L1463.6 532.1L1461.8 532.7Z" color="#482979"/>
<path d="M1237 323L1240.4 319L1243.8 315.2L1245.8 314.8L1247.9 314.3L1244.5 318.1L1241.1 322.1L1239 322.6Z" color="#52c569"/>
<path d="M1163.4 386.3L1166.7 381.7L1170.1 377.1L1172.2 376.4L1174.3 375.8L1170.9 380.4L1167.6 385L1165.5 385.7Z" color="#1f9e89"/>
<path d="M1100.8 443.5L1104 439.1L1107.3 434.8L1109.5 433.6L1111.6 432.4L1108.3 436.8L1105.1 441.1L1102.9 442.3Z" color="#2a778e"/>
<path d="M1074.9 469L1078.2 464.7L1081.4 460.3L1083.6 458.8L1085.7 457.4L1082.5 461.7L1079.2 466.1L1077.1 467.5Z" color="#31668e"/>
<path d="M1280.6 295.6L1284.1 294.6L1287.6 294.2L1289.6 293.7L1291.6 293.1L1288.1 293.5L1284.7 294.5L1282.7 295.1Z" color="#7ad151" stroke="none"/>
<path d="M1200.2 353.6L1203.5 348.9L1206.9 344.2L1209 343.7L1211 343.3L1207.7 347.9L1204.3 352.6L1202.2 353.1Z" color="#2eb37c"/>
<path d="M1298.5 294.3L1302 295.9L1305.4 298.3L1307.4 297.7L1309.4 297.1L1306 294.7L1302.5 293.1L1300.5 293.7Z" color="#77d153"/>
<path d="M1423.4 433.8L1426.8 440L1430.2 446.4L1432.1 445.7L1434 445L1430.6 438.6L1427.2 432.4L1425.3 433.1Z" color="#2a768e"/>
<path d="M1340.1 339.6L1343.6 343.8L1347.1 347.8L1349 347.2L1351 346.6L1347.5 342.5L1344.1 338.3L1342.1 338.9Z" color="#34b679"/>
<path d="M1347.1 347.8L1350.5 351.7L1354 355.5L1356 354.9L1357.9 354.2L1354.4 350.5L1351 346.6L1349 347.2Z" color="#2cb17e"/>
<path d="M1247.9 314.3L1251.3 310.8L1254.7 307.6L1256.7 307.1L1258.8 306.6L1255.4 309.9L1251.9 313.4L1249.9 313.9Z" color="#5ec962"/>
<path d="M1034.1 513.3L1037.3 508.8L1040.5 504.3L1042.7 502.3L1044.8 500.3L1041.6 504.8L1038.4 509.3L1036.3 511.3Z" color="#404588"/>
<path d="M1333.2 330.7L1336.7 335.2L1340.1 339.6L1342.1 338.9L1344.1 338.3L1340.6 333.9L1337.1 329.4L1335.2 330.1Z" color="#3dbc74"/>
<path d="M1354 355.5L1357.5 359.2L1360.9 362.8L1362.9 362.1L1364.8 361.5L1361.4 357.9L1357.9 354.2L1356 354.9Z" color="#26ad81"/>
<path d="M1269.7 300.3L1273.2 298.2L1276.6 296.7L1278.6 296.1L1280.6 295.6L1277.2 297.2L1273.8 299.2L1271.7 299.7Z" color="#75d054"/>
<path d="M1137.5 408.9L1140.8 404.5L1144.1 400L1146.2 399.2L1148.3 398.4L1145 402.8L1141.7 407.2L1139.6 408.1Z" color="#218f8d"/>
<path d="M1258.8 306.6L1262.2 303.7L1265.7 301.2L1267.7 300.7L1269.7 300.3L1266.3 302.7L1262.8 305.6L1260.8 306.1Z" color="#6ccd5a"/>
<path d="M1360.9 362.8L1364.4 366.2L1367.9 369.6L1369.8 369L1371.8 368.3L1368.3 364.9L1364.8 361.5L1362.9 362.1Z" color="#22a884"/>
<path d="M1433.3 461.1L1436.7 468.1L1440.1 475.1L1442 474.4L1443.9 473.7L1440.5 466.7L1437.1 459.8L1435.2 460.5Z" color="#32648e"/>
<path d="M1326.3 321.4L1329.7 326.1L1333.2 330.7L1335.2 330.1L1337.1 329.4L1333.7 324.8L1330.2 320.2L1328.2 320.8Z" color="#4ac16d"/>
<path d="M1443.2 490.6L1446.6 497.7L1450 504.8L1451.9 504.2L1453.8 503.5L1450.4 496.4L1446.9 489.3L1445.1 490Z" color="#3d4e8a"/>
<path d="M1305.4 298.3L1308.9 301.2L1312.4 304.6L1314.4 304L1316.4 303.3L1312.9 300L1309.4 297.1L1307.4 297.7Z" color="#70cf57"/>
<path d="M1453 520L1456.5 526.8L1459.9 533.4L1461.8 532.7L1463.6 532.1L1460.2 525.5L1456.8 518.7L1454.9 519.4Z" color="#453581"/>
<path d="M1319.3 312.5L1322.8 316.9L1326.3 321.4L1328.2 320.8L1330.2 320.2L1326.8 315.7L1323.3 311.3L1321.3 311.9Z" color="#58c765"/>
<path d="M1367.9 369.6L1371.3 372.9L1374.8 376.2L1376.8 375.5L1378.7 374.8L1375.2 371.6L1371.8 368.3L1369.8 369Z" color="#20a486"/>
<path d="M1174.3 375.8L1177.6 371.1L1180.9 366.4L1183 365.8L1185.1 365.2L1181.8 369.9L1178.5 374.6L1176.4 375.2Z" color="#21a585"/>
<path d="M1312.4 304.6L1315.8 308.4L1319.3 312.5L1321.3 311.9L1323.3 311.3L1319.8 307.2L1316.4 303.3L1314.4 304Z" color="#65cb5e"/>
<path d="M1111.6 432.4L1114.9 428.1L1118.2 423.7L1120.3 422.6L1122.4 421.6L1119.1 425.9L1115.9 430.3L1113.7 431.3Z" color="#27808e"/>
<path d="M1059.9 484.2L1063.1 479.8L1066.3 475.5L1068.5 473.8L1070.6 472.1L1067.4 476.5L1064.2 480.9L1062 482.5Z" color="#365c8d"/>
<path d="M1211 343.3L1214.4 338.7L1217.8 334.3L1219.9 333.8L1221.9 333.3L1218.6 337.8L1215.2 342.3L1213.1 342.8Z" color="#3aba76"/>
<path d="M1416.5 422.4L1419.9 427.9L1423.4 433.8L1425.3 433.1L1427.2 432.4L1423.8 426.5L1420.3 421L1418.4 421.7Z" color="#27808e"/>
<path d="M1469.8 558.6L1473.3 563.8L1475.2 563.2L1477 562.5L1473.6 557.3L1471.7 558Z" color="#481769"/>
<path d="M1085.7 457.4L1089 453.1L1092.2 448.7L1094.4 447.3L1096.5 446L1093.2 450.3L1090 454.7L1087.9 456Z" color="#2d708e"/>
<path d="M1374.8 376.2L1378.3 379.3L1381.8 382.5L1383.7 381.9L1385.7 381.2L1382.2 378L1378.7 374.8L1376.8 375.5Z" color="#1fa188"/>
<path d="M1148.3 398.4L1151.7 393.8L1155 389.3L1157.1 388.5L1159.2 387.8L1155.9 392.3L1152.6 396.8L1150.5 397.6Z" color="#1f978b"/>
<path d="M1381.8 382.5L1385.3 385.7L1388.7 389L1390.7 388.3L1392.6 387.7L1389.1 384.4L1385.7 381.2L1383.7 381.9Z" color="#1e9d89"/>
<path d="M1463 547.2L1466.4 553.1L1469.8 558.6L1471.7 558L1473.6 557.3L1470.1 551.7L1466.7 545.9L1464.8 546.5Z" color="#481f70"/>
<path d="M1409.6 412.3L1413 417.1L1416.5 422.4L1418.4 421.7L1420.3 421L1416.9 415.8L1413.4 410.9L1411.5 411.6Z" color="#24878e"/>
<path d="M1287.6 294.2L1291 294.4L1294.5 295.4L1296.5 294.8L1298.5 294.3L1295 293.3L1291.6 293.1L1289.6 293.7Z" color="#7fd34e"/>
<path d="M1426.4 447.7L1429.8 454.4L1433.3 461.1L1435.2 460.5L1437.1 459.8L1433.7 453L1430.2 446.4L1428.3 447.1Z" color="#2e6f8e"/>
<path d="M1044.8 500.3L1048 495.9L1051.3 491.5L1053.4 489.6L1055.6 487.8L1052.4 492.2L1049.1 496.6L1047 498.5Z" color="#3b518b"/>
<path d="M1388.7 389L1392.2 392.4L1395.7 395.9L1397.6 395.3L1399.5 394.6L1396.1 391L1392.6 387.7L1390.7 388.3Z" color="#1f988b"/>
<path d="M1221.9 333.3L1225.3 329L1228.7 324.8L1230.8 324.4L1232.8 323.9L1229.5 328.1L1226.1 332.4L1224 332.9Z" color="#48c16e"/>
<path d="M1185.1 365.2L1188.5 360.4L1191.8 355.7L1193.9 355.1L1196 354.6L1192.6 359.3L1189.3 364.1L1187.2 364.6Z" color="#27ad81"/>
<path d="M1402.6 403.6L1406.1 407.8L1409.6 412.3L1411.5 411.6L1413.4 410.9L1409.9 406.4L1406.5 402.2L1404.6 402.9Z" color="#218e8d"/>
<path d="M1395.7 395.9L1399.2 399.6L1402.6 403.6L1404.6 402.9L1406.5 402.2L1403 398.3L1399.5 394.6L1397.6 395.3Z" color="#20938c"/>
<path d="M1436.3 476.4L1439.7 483.5L1443.2 490.6L1445.1 490L1446.9 489.3L1443.5 482.2L1440.1 475.1L1438.2 475.7Z" color="#375a8c"/>
<path d="M1122.4 421.6L1125.7 417.2L1129 412.8L1131.1 411.8L1133.3 410.8L1130 415.2L1126.7 419.6L1124.5 420.5Z" color="#23888e"/>
<path d="M1446.2 506.1L1449.6 513.1L1453 520L1454.9 519.4L1456.8 518.7L1453.4 511.8L1450 504.8L1448.1 505.5Z" color="#414287"/>
<path d="M1070.6 472.1L1073.9 467.8L1077.1 463.4L1079.3 461.9L1081.4 460.3L1078.2 464.7L1074.9 469L1072.8 470.5Z" color="#31668e"/>
<path d="M1096.5 446L1099.8 441.7L1103 437.3L1105.2 436L1107.3 434.8L1104 439.1L1100.8 443.5L1098.6 444.7Z" color="#2a788e"/>
<path d="M1029.8 517.4L1033 512.9L1036.2 508.4L1038.4 506.3L1040.5 504.3L1037.3 508.8L1034.1 513.3L1032 515.3Z" color="#404588"/>
<path d="M1456.1 534.7L1459.5 541L1463 547.2L1464.8 546.5L1466.7 545.9L1463.3 539.8L1459.9 533.4L1458 534Z" color="#472c7a"/>
<path d="M1232.8 323.9L1236.3 319.9L1239.7 316.1L1241.7 315.7L1243.8 315.2L1240.4 319L1237 323L1234.9 323.5Z" color="#56c667"/>
<path d="M1159.2 387.8L1162.5 383.2L1165.8 378.5L1168 377.8L1170.1 377.1L1166.7 381.7L1163.4 386.3L1161.3 387Z" color="#1fa088"/>
<path d="M1276.6 296.7L1280.1 295.6L1283.5 295.2L1285.5 294.7L1287.6 294.2L1284.1 294.6L1280.6 295.6L1278.6 296.1Z" color="#7fd34e" stroke="none"/>
<path d="M1294.5 295.4L1298 297L1301.4 299.4L1303.4 298.8L1305.4 298.3L1302 295.9L1298.5 294.3L1296.5 294.8Z" color="#7cd250"/>
<path d="M1196 354.6L1199.4 349.9L1202.7 345.3L1204.8 344.7L1206.9 344.2L1203.5 348.9L1200.2 353.6L1198.1 354.1Z" color="#31b57b"/>
<path d="M1419.5 435.1L1423 441.3L1426.4 447.7L1428.3 447.1L1430.2 446.4L1426.8 440L1423.4 433.8L1421.5 434.5Z" color="#2a788e"/>
<path d="M1336.2 340.7L1339.6 345L1343.1 349L1345.1 348.4L1347.1 347.8L1343.6 343.8L1340.1 339.6L1338.1 340.2Z" color="#37b878"/>
<path d="M1343.1 349L1346.6 352.9L1350.1 356.7L1352 356.1L1354 355.5L1350.5 351.7L1347.1 347.8L1345.1 348.4Z" color="#2eb37c"/>
<path d="M1243.8 315.2L1247.2 311.7L1250.6 308.5L1252.7 308L1254.7 307.6L1251.3 310.8L1247.9 314.3L1245.8 314.8Z" color="#65cb5e"/>
<path d="M1329.2 331.8L1332.7 336.4L1336.2 340.7L1338.1 340.2L1340.1 339.6L1336.7 335.2L1333.2 330.7L1331.2 331.3Z" color="#40bd72"/>
<path d="M1350.1 356.7L1353.5 360.4L1357 364L1359 363.4L1360.9 362.8L1357.5 359.2L1354 355.5L1352 356.1Z" color="#28ae80"/>
<path d="M1133.3 410.8L1136.6 406.3L1139.9 401.9L1142 400.9L1144.1 400L1140.8 404.5L1137.5 408.9L1135.4 409.8Z" color="#21918c"/>
<path d="M1265.7 301.2L1269.1 299.2L1272.6 297.6L1274.6 297.1L1276.6 296.7L1273.2 298.2L1269.7 300.3L1267.7 300.7Z" color="#7ad151"/>
<path d="M1055.6 487.8L1058.8 483.4L1062 479L1064.2 477.2L1066.3 475.5L1063.1 479.8L1059.9 484.2L1057.7 486Z" color="#365d8d"/>
<path d="M1254.7 307.6L1258.1 304.7L1261.6 302.2L1263.6 301.7L1265.7 301.2L1262.2 303.7L1258.8 306.6L1256.7 307.1Z" color="#70cf57"/>
<path d="M1357 364L1360.5 367.4L1364 370.8L1365.9 370.2L1367.9 369.6L1364.4 366.2L1360.9 362.8L1359 363.4Z" color="#24aa83"/>
<path d="M1322.3 322.6L1325.7 327.2L1329.2 331.8L1331.2 331.3L1333.2 330.7L1329.7 326.1L1326.3 321.4L1324.3 322Z" color="#4ec36b"/>
<path d="M1429.5 462.4L1432.9 469.4L1436.3 476.4L1438.2 475.7L1440.1 475.1L1436.7 468.1L1433.3 461.1L1431.4 461.8Z" color="#31668e"/>
<path d="M1439.4 491.9L1442.8 499L1446.2 506.1L1448.1 505.5L1450 504.8L1446.6 497.7L1443.2 490.6L1441.3 491.3Z" color="#3c508b"/>
<path d="M1301.4 299.4L1304.9 302.3L1308.4 305.7L1310.4 305.1L1312.4 304.6L1308.9 301.2L1305.4 298.3L1303.4 298.8Z" color="#75d054"/>
<path d="M1107.3 434.8L1110.6 430.4L1113.9 426.1L1116 424.9L1118.2 423.7L1114.9 428.1L1111.6 432.4L1109.5 433.6Z" color="#26818e"/>
<path d="M1315.3 313.7L1318.8 318L1322.3 322.6L1324.3 322L1326.3 321.4L1322.8 316.9L1319.3 312.5L1317.3 313.1Z" color="#5cc863"/>
<path d="M1364 370.8L1367.4 374.1L1370.9 377.4L1372.9 376.8L1374.8 376.2L1371.3 372.9L1367.9 369.6L1365.9 370.2Z" color="#21a685"/>
<path d="M1081.4 460.3L1084.7 456L1087.9 451.6L1090.1 450.2L1092.2 448.7L1089 453.1L1085.7 457.4L1083.6 458.8Z" color="#2d708e"/>
<path d="M1449.2 521.3L1452.7 528.1L1456.1 534.7L1458 534L1459.9 533.4L1456.5 526.8L1453 520L1451.1 520.7Z" color="#453882"/>
<path d="M1170.1 377.1L1173.4 372.4L1176.7 367.7L1178.8 367L1180.9 366.4L1177.6 371.1L1174.3 375.8L1172.2 376.4Z" color="#22a785"/>
<path d="M1308.4 305.7L1311.9 309.5L1315.3 313.7L1317.3 313.1L1319.3 312.5L1315.8 308.4L1312.4 304.6L1310.4 305.1Z" color="#69cd5b"/>
<path d="M1412.6 423.7L1416.1 429.3L1419.5 435.1L1421.5 434.5L1423.4 433.8L1419.9 427.9L1416.5 422.4L1414.6 423Z" color="#26828e"/>
<path d="M1206.9 344.2L1210.3 339.7L1213.7 335.2L1215.7 334.7L1217.8 334.3L1214.4 338.7L1211 343.3L1209 343.7Z" color="#3fbc73"/>
<path d="M1466.1 559.9L1469.5 565.1L1471.4 564.5L1473.3 563.8L1469.8 558.6L1468 559.3Z" color="#481a6c"/>
<path d="M1370.9 377.4L1374.4 380.6L1377.9 383.8L1379.8 383.2L1381.8 382.5L1378.3 379.3L1374.8 376.2L1372.9 376.8Z" color="#1fa287"/>
<path d="M1040.5 504.3L1043.7 499.9L1046.9 495.4L1049.1 493.4L1051.3 491.5L1048 495.9L1044.8 500.3L1042.7 502.3Z" color="#3b518b"/>
<path d="M1144.1 400L1147.4 395.5L1150.7 391L1152.9 390.1L1155 389.3L1151.7 393.8L1148.3 398.4L1146.2 399.2Z" color="#1f998a"/>
<path d="M1377.9 383.8L1381.4 387L1384.8 390.3L1386.8 389.6L1388.7 389L1385.3 385.7L1381.8 382.5L1379.8 383.2Z" color="#1f9f88"/>
<path d="M1405.7 413.6L1409.2 418.4L1412.6 423.7L1414.6 423L1416.5 422.4L1413 417.1L1409.6 412.3L1407.6 412.9Z" color="#23898e"/>
<path d="M1459.2 548.5L1462.6 554.3L1466.1 559.9L1468 559.3L1469.8 558.6L1466.4 553.1L1463 547.2L1461.1 547.8Z" color="#482173"/>
<path d="M1283.5 295.2L1287 295.5L1290.5 296.4L1292.5 295.9L1294.5 295.4L1291 294.4L1287.6 294.2L1285.5 294.7Z" color="#84d44b"/>
<path d="M1384.8 390.3L1388.3 393.6L1391.8 397.2L1393.7 396.6L1395.7 395.9L1392.2 392.4L1388.7 389L1386.8 389.6Z" color="#1f9a8a"/>
<path d="M1422.6 449L1426 455.6L1429.5 462.4L1431.4 461.8L1433.3 461.1L1429.8 454.4L1426.4 447.7L1424.5 448.4Z" color="#2d718e"/>
<path d="M1025.5 521.8L1028.7 517.3L1031.9 512.8L1034 510.6L1036.2 508.4L1033 512.9L1029.8 517.4L1027.6 519.6Z" color="#414487"/>
<path d="M1118.2 423.7L1121.4 419.3L1124.7 414.9L1126.9 413.8L1129 412.8L1125.7 417.2L1122.4 421.6L1120.3 422.6Z" color="#23898e"/>
<path d="M1217.8 334.3L1221.2 329.9L1224.6 325.8L1226.7 325.3L1228.7 324.8L1225.3 329L1221.9 333.3L1219.9 333.8Z" color="#4cc26c"/>
<path d="M1180.9 366.4L1184.3 361.6L1187.6 356.9L1189.7 356.3L1191.8 355.7L1188.5 360.4L1185.1 365.2L1183 365.8Z" color="#29af7f"/>
<path d="M1066.3 475.5L1069.6 471.1L1072.8 466.8L1075 465.1L1077.1 463.4L1073.9 467.8L1070.6 472.1L1068.5 473.8Z" color="#31678e"/>
<path d="M1398.8 404.8L1402.2 409.1L1405.7 413.6L1407.6 412.9L1409.6 412.3L1406.1 407.8L1402.6 403.6L1400.7 404.2Z" color="#21908d"/>
<path d="M1391.8 397.2L1395.3 400.9L1398.8 404.8L1400.7 404.2L1402.6 403.6L1399.2 399.6L1395.7 395.9L1393.7 396.6Z" color="#1f958b"/>
<path d="M1432.5 477.6L1435.9 484.7L1439.4 491.9L1441.3 491.3L1443.2 490.6L1439.7 483.5L1436.3 476.4L1434.4 477Z" color="#365c8d"/>
<path d="M1092.2 448.7L1095.5 444.4L1098.8 440L1100.9 438.7L1103 437.3L1099.8 441.7L1096.5 446L1094.4 447.3Z" color="#29798e"/>
<path d="M1442.4 507.3L1445.8 514.4L1449.2 521.3L1451.1 520.7L1453 520L1449.6 513.1L1446.2 506.1L1444.3 506.7Z" color="#404588"/>
<path d="M1155 389.3L1158.3 384.7L1161.6 380L1163.7 379.3L1165.8 378.5L1162.5 383.2L1159.2 387.8L1157.1 388.5Z" color="#1fa188"/>
<path d="M1452.3 535.9L1455.8 542.3L1459.2 548.5L1461.1 547.8L1463 547.2L1459.5 541L1456.1 534.7L1454.2 535.3Z" color="#472e7c"/>
<path d="M1228.7 324.8L1232.1 320.8L1235.5 317L1237.6 316.6L1239.7 316.1L1236.3 319.9L1232.8 323.9L1230.8 324.4Z" color="#5cc863"/>
<path d="M1272.6 297.6L1276 296.6L1279.5 296.2L1281.5 295.7L1283.5 295.2L1280.1 295.6L1276.6 296.7L1274.6 297.1Z" color="#84d44b" stroke="none"/>
<path d="M1051.3 491.5L1054.5 487.1L1057.7 482.7L1059.9 480.8L1062 479L1058.8 483.4L1055.6 487.8L1053.4 489.6Z" color="#365c8d"/>
<path d="M1290.5 296.4L1293.9 298.1L1297.4 300.4L1299.4 299.9L1301.4 299.4L1298 297L1294.5 295.4L1292.5 295.9Z" color="#81d34d"/>
<path d="M1191.8 355.7L1195.2 351L1198.6 346.4L1200.6 345.8L1202.7 345.3L1199.4 349.9L1196 354.6L1193.9 355.1Z" color="#35b779"/>
<path d="M1415.7 436.4L1419.1 442.6L1422.6 449L1424.5 448.4L1426.4 447.7L1423 441.3L1419.5 435.1L1417.6 435.8Z" color="#297a8e"/>
<path d="M1332.2 341.8L1335.7 346.1L1339.1 350.1L1341.1 349.6L1343.1 349L1339.6 345L1336.2 340.7L1334.2 341.3Z" color="#3aba76"/>
<path d="M1339.1 350.1L1342.6 354.1L1346.1 357.9L1348.1 357.3L1350.1 356.7L1346.6 352.9L1343.1 349L1341.1 349.6Z" color="#32b67a"/>
<path d="M1129 412.8L1132.3 408.3L1135.6 403.8L1137.7 402.8L1139.9 401.9L1136.6 406.3L1133.3 410.8L1131.1 411.8Z" color="#20928c"/>
<path d="M1239.7 316.1L1243.1 312.6L1246.5 309.3L1248.6 308.9L1250.6 308.5L1247.2 311.7L1243.8 315.2L1241.7 315.7Z" color="#69cd5b"/>
<path d="M1325.2 332.9L1328.7 337.5L1332.2 341.8L1334.2 341.3L1336.2 340.7L1332.7 336.4L1329.2 331.8L1327.2 332.4Z" color="#46c06f"/>
<path d="M1346.1 357.9L1349.6 361.5L1353.1 365.1L1355 364.6L1357 364L1353.5 360.4L1350.1 356.7L1348.1 357.3Z" color="#2ab07f"/>
<path d="M1077.1 463.4L1080.4 459.1L1083.6 454.8L1085.8 453.2L1087.9 451.6L1084.7 456L1081.4 460.3L1079.3 461.9Z" color="#2d718e"/>
<path d="M1261.6 302.2L1265 300.1L1268.5 298.5L1270.5 298.1L1272.6 297.6L1269.1 299.2L1265.7 301.2L1263.6 301.7Z" color="#7fd34e"/>
<path d="M1103 437.3L1106.3 433L1109.6 428.6L1111.7 427.3L1113.9 426.1L1110.6 430.4L1107.3 434.8L1105.2 436Z" color="#26828e"/>
<path d="M1353.1 365.1L1356.5 368.6L1360 372L1362 371.4L1364 370.8L1360.5 367.4L1357 364L1355 364.6Z" color="#26ad81"/>
<path d="M1318.3 323.7L1321.8 328.3L1325.2 332.9L1327.2 332.4L1329.2 331.8L1325.7 327.2L1322.3 322.6L1320.3 323.1Z" color="#52c569"/>
<path d="M1250.6 308.5L1254.1 305.6L1257.5 303L1259.5 302.6L1261.6 302.2L1258.1 304.7L1254.7 307.6L1252.7 308Z" color="#75d054"/>
<path d="M1425.6 463.6L1429.1 470.6L1432.5 477.6L1434.4 477L1436.3 476.4L1432.9 469.4L1429.5 462.4L1427.5 463Z" color="#31688e"/>
<path d="M1435.5 493.1L1439 500.2L1442.4 507.3L1444.3 506.7L1446.2 506.1L1442.8 499L1439.4 491.9L1437.4 492.5Z" color="#3b528b"/>
<path d="M1036.2 508.4L1039.4 504L1042.6 499.6L1044.8 497.5L1046.9 495.4L1043.7 499.9L1040.5 504.3L1038.4 506.3Z" color="#3c508b"/>
<path d="M1297.4 300.4L1300.9 303.3L1304.4 306.7L1306.4 306.2L1308.4 305.7L1304.9 302.3L1301.4 299.4L1299.4 299.9Z" color="#7ad151"/>
<path d="M1311.3 314.7L1314.8 319.1L1318.3 323.7L1320.3 323.1L1322.3 322.6L1318.8 318L1315.3 313.7L1313.3 314.2Z" color="#60ca60"/>
<path d="M1165.8 378.5L1169.2 373.8L1172.5 369.1L1174.6 368.3L1176.7 367.7L1173.4 372.4L1170.1 377.1L1168 377.8Z" color="#23a983"/>
<path d="M1360 372L1363.5 375.3L1367 378.5L1369 378L1370.9 377.4L1367.4 374.1L1364 370.8L1362 371.4Z" color="#22a884"/>
<path d="M1445.5 522.5L1448.9 529.3L1452.3 535.9L1454.2 535.3L1456.1 534.7L1452.7 528.1L1449.2 521.3L1447.4 521.9Z" color="#443a83"/>
<path d="M1304.4 306.7L1307.8 310.6L1311.3 314.7L1313.3 314.2L1315.3 313.7L1311.9 309.5L1308.4 305.7L1306.4 306.2Z" color="#6ece58"/>
<path d="M1408.8 424.9L1412.2 430.5L1415.7 436.4L1417.6 435.8L1419.5 435.1L1416.1 429.3L1412.6 423.7L1410.7 424.3Z" color="#25838e"/>
<path d="M1202.7 345.3L1206.1 340.7L1209.5 336.2L1211.6 335.7L1213.7 335.2L1210.3 339.7L1206.9 344.2L1204.8 344.7Z" color="#42be71"/>
<path d="M1021.2 526.3L1024.3 521.8L1027.5 517.3L1029.7 515L1031.9 512.8L1028.7 517.3L1025.5 521.8L1023.3 524Z" color="#414287"/>
<path d="M1367 378.5L1370.5 381.7L1374 384.9L1375.9 384.4L1377.9 383.8L1374.4 380.6L1370.9 377.4L1369 378Z" color="#20a486"/>
<path d="M1462.3 561.2L1465.8 566.4L1467.6 565.7L1469.5 565.1L1466.1 559.9L1464.2 560.5Z" color="#481c6e"/>
<path d="M1139.9 401.9L1143.2 397.3L1146.5 392.8L1148.6 391.9L1150.7 391L1147.4 395.5L1144.1 400L1142 400.9Z" color="#1f9a8a"/>
<path d="M1062 479L1065.3 474.6L1068.5 470.3L1070.7 468.5L1072.8 466.8L1069.6 471.1L1066.3 475.5L1064.2 477.2Z" color="#31678e"/>
<path d="M1374 384.9L1377.5 388.2L1380.9 391.4L1382.9 390.9L1384.8 390.3L1381.4 387L1377.9 383.8L1375.9 384.4Z" color="#1fa188"/>
<path d="M1401.8 414.8L1405.3 419.7L1408.8 424.9L1410.7 424.3L1412.6 423.7L1409.2 418.4L1405.7 413.6L1403.8 414.2Z" color="#228b8d"/>
<path d="M1113.9 426.1L1117.2 421.7L1120.5 417.3L1122.6 416.1L1124.7 414.9L1121.4 419.3L1118.2 423.7L1116 424.9Z" color="#238a8d"/>
<path d="M1455.4 549.7L1458.9 555.6L1462.3 561.2L1464.2 560.5L1466.1 559.9L1462.6 554.3L1459.2 548.5L1457.3 549.1Z" color="#482576"/>
<path d="M1279.5 296.2L1282.9 296.4L1286.4 297.4L1288.4 296.9L1290.5 296.4L1287 295.5L1283.5 295.2L1281.5 295.7Z" color="#89d548"/>
<path d="M1087.9 451.6L1091.2 447.3L1094.5 443L1096.6 441.5L1098.8 440L1095.5 444.4L1092.2 448.7L1090.1 450.2Z" color="#29798e"/>
<path d="M1380.9 391.4L1384.4 394.8L1387.9 398.4L1389.9 397.8L1391.8 397.2L1388.3 393.6L1384.8 390.3L1382.9 390.9Z" color="#1e9c89"/>
<path d="M1418.7 450.2L1422.2 456.8L1425.6 463.6L1427.5 463L1429.5 462.4L1426 455.6L1422.6 449L1420.7 449.6Z" color="#2c728e"/>
<path d="M1176.7 367.7L1180.1 362.9L1183.4 358.2L1185.5 357.5L1187.6 356.9L1184.3 361.6L1180.9 366.4L1178.8 367Z" color="#2cb17e"/>
<path d="M1213.7 335.2L1217 330.9L1220.4 326.7L1222.5 326.2L1224.6 325.8L1221.2 329.9L1217.8 334.3L1215.7 334.7Z" color="#52c569"/>
<path d="M1394.9 406L1398.4 410.3L1401.8 414.8L1403.8 414.2L1405.7 413.6L1402.2 409.1L1398.8 404.8L1396.8 405.5Z" color="#20928c"/>
<path d="M1387.9 398.4L1391.4 402.1L1394.9 406L1396.8 405.5L1398.8 404.8L1395.3 400.9L1391.8 397.2L1389.9 397.8Z" color="#1f978b"/>
<path d="M1428.7 478.8L1432.1 485.9L1435.5 493.1L1437.4 492.5L1439.4 491.9L1435.9 484.7L1432.5 477.6L1430.6 478.2Z" color="#355f8d"/>
<path d="M1438.6 508.5L1442 515.6L1445.5 522.5L1447.4 521.9L1449.2 521.3L1445.8 514.4L1442.4 507.3L1440.5 507.9Z" color="#3f4889"/>
<path d="M1046.9 495.4L1050.2 491.1L1053.4 486.7L1055.5 484.7L1057.7 482.7L1054.5 487.1L1051.3 491.5L1049.1 493.4Z" color="#365c8d"/>
<path d="M1150.7 391L1154.1 386.4L1157.4 381.7L1159.5 380.9L1161.6 380L1158.3 384.7L1155 389.3L1152.9 390.1Z" color="#1fa287"/>
<path d="M1448.5 537.1L1452 543.6L1455.4 549.7L1457.3 549.1L1459.2 548.5L1455.8 542.3L1452.3 535.9L1450.4 536.5Z" color="#46307e"/>
<path d="M1224.6 325.8L1228 321.8L1231.4 318L1233.5 317.5L1235.5 317L1232.1 320.8L1228.7 324.8L1226.7 325.3Z" color="#60ca60"/>
<path d="M1268.5 298.5L1271.9 297.5L1275.4 297.1L1277.4 296.7L1279.5 296.2L1276 296.6L1272.6 297.6L1270.5 298.1Z" color="#89d548" stroke="none"/>
<path d="M1124.7 414.9L1128 410.5L1131.3 406L1133.5 404.9L1135.6 403.8L1132.3 408.3L1129 412.8L1126.9 413.8Z" color="#20938c"/>
<path d="M1072.8 466.8L1076.1 462.4L1079.3 458.1L1081.5 456.4L1083.6 454.8L1080.4 459.1L1077.1 463.4L1075 465.1Z" color="#2d718e"/>
<path d="M1031.9 512.8L1035.1 508.3L1038.3 503.9L1040.5 501.7L1042.6 499.6L1039.4 504L1036.2 508.4L1034 510.6Z" color="#3c508b"/>
<path d="M1286.4 297.4L1289.9 299.1L1293.4 301.4L1295.4 300.9L1297.4 300.4L1293.9 298.1L1290.5 296.4L1288.4 296.9Z" color="#86d549"/>
<path d="M1187.6 356.9L1191 352.2L1194.4 347.5L1196.5 346.9L1198.6 346.4L1195.2 351L1191.8 355.7L1189.7 356.3Z" color="#38b977"/>
<path d="M1411.8 437.6L1415.3 443.8L1418.7 450.2L1420.7 449.6L1422.6 449L1419.1 442.6L1415.7 436.4L1413.8 437Z" color="#287d8e"/>
<path d="M1098.8 440L1102 435.7L1105.3 431.3L1107.5 429.9L1109.6 428.6L1106.3 433L1103 437.3L1100.9 438.7Z" color="#26828e"/>
<path d="M1328.2 342.9L1331.7 347.1L1335.2 351.2L1337.2 350.7L1339.1 350.1L1335.7 346.1L1332.2 341.8L1330.2 342.4Z" color="#3dbc74"/>
<path d="M1335.2 351.2L1338.7 355.1L1342.1 358.9L1344.1 358.4L1346.1 357.9L1342.6 354.1L1339.1 350.1L1337.2 350.7Z" color="#35b779"/>
<path d="M1321.2 334L1324.7 338.5L1328.2 342.9L1330.2 342.4L1332.2 341.8L1328.7 337.5L1325.2 332.9L1323.2 333.4Z" color="#4ac16d"/>
<path d="M1342.1 358.9L1345.6 362.6L1349.1 366.2L1351.1 365.7L1353.1 365.1L1349.6 361.5L1346.1 357.9L1344.1 358.4Z" color="#2eb37c"/>
<path d="M1235.5 317L1239 313.5L1242.4 310.2L1244.5 309.8L1246.5 309.3L1243.1 312.6L1239.7 316.1L1237.6 316.6Z" color="#6ece58"/>
<path d="M1016.8 531L1020 526.5L1023.2 522L1025.4 519.7L1027.5 517.3L1024.3 521.8L1021.2 526.3L1019 528.6Z" color="#424186" stroke="none"/>
<path d="M1257.5 303L1260.9 301L1264.4 299.4L1266.4 299L1268.5 298.5L1265 300.1L1261.6 302.2L1259.5 302.6Z" color="#84d44b"/>
<path d="M1349.1 366.2L1352.6 369.7L1356.1 373.1L1358.1 372.5L1360 372L1356.5 368.6L1353.1 365.1L1351.1 365.7Z" color="#28ae80"/>
<path d="M1314.3 324.7L1317.8 329.3L1321.2 334L1323.2 333.4L1325.2 332.9L1321.8 328.3L1318.3 323.7L1316.3 324.2Z" color="#56c667"/>
<path d="M1246.5 309.3L1250 306.4L1253.4 303.9L1255.4 303.5L1257.5 303L1254.1 305.6L1250.6 308.5L1248.6 308.9Z" color="#7cd250"/>
<path d="M1421.8 464.8L1425.2 471.8L1428.7 478.8L1430.6 478.2L1432.5 477.6L1429.1 470.6L1425.6 463.6L1423.7 464.2Z" color="#306a8e"/>
<path d="M1431.7 494.3L1435.2 501.4L1438.6 508.5L1440.5 507.9L1442.4 507.3L1439 500.2L1435.5 493.1L1433.6 493.7Z" color="#3a548c"/>
<path d="M1293.4 301.4L1296.9 304.3L1300.3 307.7L1302.4 307.2L1304.4 306.7L1300.9 303.3L1297.4 300.4L1295.4 300.9Z" color="#7fd34e"/>
<path d="M1161.6 380L1165 375.3L1168.3 370.6L1170.4 369.8L1172.5 369.1L1169.2 373.8L1165.8 378.5L1163.7 379.3Z" color="#25ab82"/>
<path d="M1307.3 315.7L1310.8 320.1L1314.3 324.7L1316.3 324.2L1318.3 323.7L1314.8 319.1L1311.3 314.7L1309.3 315.2Z" color="#65cb5e"/>
<path d="M1356.1 373.1L1359.6 376.4L1363.1 379.6L1365 379.1L1367 378.5L1363.5 375.3L1360 372L1358.1 372.5Z" color="#24aa83"/>
<path d="M1300.3 307.7L1303.8 311.6L1307.3 315.7L1309.3 315.2L1311.3 314.7L1307.8 310.6L1304.4 306.7L1302.4 307.2Z" color="#73d056"/>
<path d="M1441.6 523.7L1445.1 530.5L1448.5 537.1L1450.4 536.5L1452.3 535.9L1448.9 529.3L1445.5 522.5L1443.5 523.1Z" color="#433e85"/>
<path d="M1057.7 482.7L1060.9 478.4L1064.2 474L1066.3 472.1L1068.5 470.3L1065.3 474.6L1062 479L1059.9 480.8Z" color="#31678e"/>
<path d="M1404.9 426.1L1408.4 431.7L1411.8 437.6L1413.8 437L1415.7 436.4L1412.2 430.5L1408.8 424.9L1406.8 425.5Z" color="#25858e"/>
<path d="M1198.6 346.4L1201.9 341.8L1205.3 337.3L1207.4 336.8L1209.5 336.2L1206.1 340.7L1202.7 345.3L1200.6 345.8Z" color="#46c06f"/>
<path d="M1135.6 403.8L1138.9 399.3L1142.2 394.8L1144.4 393.8L1146.5 392.8L1143.2 397.3L1139.9 401.9L1137.7 402.8Z" color="#1e9c89"/>
<path d="M1363.1 379.6L1366.6 382.8L1370.1 386L1372 385.5L1374 384.9L1370.5 381.7L1367 378.5L1365 379.1Z" color="#21a685"/>
<path d="M1458.5 562.4L1462 567.7L1463.9 567L1465.8 566.4L1462.3 561.2L1460.4 561.8Z" color="#482071"/>
<path d="M1083.6 454.8L1086.9 450.4L1090.2 446.1L1092.3 444.5L1094.5 443L1091.2 447.3L1087.9 451.6L1085.8 453.2Z" color="#297a8e"/>
<path d="M1109.6 428.6L1112.9 424.2L1116.2 419.8L1118.3 418.5L1120.5 417.3L1117.2 421.7L1113.9 426.1L1111.7 427.3Z" color="#228b8d"/>
<path d="M1370.1 386L1373.5 389.3L1377 392.6L1379 392L1380.9 391.4L1377.5 388.2L1374 384.9L1372 385.5Z" color="#1fa287"/>
<path d="M1042.6 499.6L1045.8 495.2L1049.1 490.8L1051.2 488.7L1053.4 486.7L1050.2 491.1L1046.9 495.4L1044.8 497.5Z" color="#365c8d"/>
<path d="M1398 415.9L1401.4 420.8L1404.9 426.1L1406.8 425.5L1408.8 424.9L1405.3 419.7L1401.8 414.8L1399.9 415.4Z" color="#228d8d"/>
<path d="M1275.4 297.1L1278.9 297.4L1282.4 298.3L1284.4 297.9L1286.4 297.4L1282.9 296.4L1279.5 296.2L1277.4 296.7Z" color="#8ed645"/>
<path d="M1451.6 551L1455.1 556.9L1458.5 562.4L1460.4 561.8L1462.3 561.2L1458.9 555.6L1455.4 549.7L1453.5 550.3Z" color="#482878"/>
<path d="M1377 392.6L1380.5 395.9L1384 399.5L1386 398.9L1387.9 398.4L1384.4 394.8L1380.9 391.4L1379 392Z" color="#1f9e89"/>
<path d="M1172.5 369.1L1175.9 364.3L1179.2 359.6L1181.3 358.8L1183.4 358.2L1180.1 362.9L1176.7 367.7L1174.6 368.3Z" color="#2eb37c"/>
<path d="M1414.9 451.4L1418.3 458L1421.8 464.8L1423.7 464.2L1425.6 463.6L1422.2 456.8L1418.7 450.2L1416.8 450.8Z" color="#2b748e"/>
<path d="M1391 407.2L1394.5 411.4L1398 415.9L1399.9 415.4L1401.8 414.8L1398.4 410.3L1394.9 406L1392.9 406.6Z" color="#20938c"/>
<path d="M1209.5 336.2L1212.9 331.9L1216.3 327.7L1218.4 327.2L1220.4 326.7L1217 330.9L1213.7 335.2L1211.6 335.7Z" color="#56c667"/>
<path d="M1384 399.5L1387.5 403.2L1391 407.2L1392.9 406.6L1394.9 406L1391.4 402.1L1387.9 398.4L1386 398.9Z" color="#1f998a"/>
<path d="M1424.8 480L1428.3 487.1L1431.7 494.3L1433.6 493.7L1435.5 493.1L1432.1 485.9L1428.7 478.8L1426.8 479.4Z" color="#34618d"/>
<path d="M1027.5 517.3L1030.7 512.9L1034 508.5L1036.1 506.2L1038.3 503.9L1035.1 508.3L1031.9 512.8L1029.7 515Z" color="#3c4f8a" stroke="none"/>
<path d="M1434.8 509.7L1438.2 516.8L1441.6 523.7L1443.5 523.1L1445.5 522.5L1442 515.6L1438.6 508.5L1436.7 509.1Z" color="#3e4a89"/>
<path d="M1146.5 392.8L1149.8 388.2L1153.2 383.5L1155.3 382.6L1157.4 381.7L1154.1 386.4L1150.7 391L1148.6 391.9Z" color="#20a486"/>
<path d="M1068.5 470.3L1071.8 466L1075 461.6L1077.2 459.8L1079.3 458.1L1076.1 462.4L1072.8 466.8L1070.7 468.5Z" color="#2d718e"/>
<path d="M1012.5 535.9L1015.7 531.4L1018.9 526.9L1021 524.5L1023.2 522L1020 526.5L1016.8 531L1014.7 533.4Z" color="#424086" stroke="none"/>
<path d="M1120.5 417.3L1123.8 412.8L1127.1 408.3L1129.2 407.1L1131.3 406L1128 410.5L1124.7 414.9L1122.6 416.1Z" color="#1f948c"/>
<path d="M1444.7 538.4L1448.2 544.8L1451.6 551L1453.5 550.3L1455.4 549.7L1452 543.6L1448.5 537.1L1446.6 537.8Z" color="#463480"/>
<path d="M1094.5 443L1097.7 438.6L1101 434.2L1103.2 432.7L1105.3 431.3L1102 435.7L1098.8 440L1096.6 441.5Z" color="#25838e"/>
<path d="M1220.4 326.7L1223.9 322.7L1227.3 318.9L1229.3 318.4L1231.4 318L1228 321.8L1224.6 325.8L1222.5 326.2Z" color="#65cb5e"/>
<path d="M1264.4 299.4L1267.9 298.4L1271.3 298L1273.4 297.6L1275.4 297.1L1271.9 297.5L1268.5 298.5L1266.4 299Z" color="#8ed645" stroke="none"/>
<path d="M1183.4 358.2L1186.8 353.5L1190.2 348.8L1192.3 348.1L1194.4 347.5L1191 352.2L1187.6 356.9L1185.5 357.5Z" color="#3bbb75"/>
<path d="M1282.4 298.3L1285.8 300L1289.3 302.3L1291.4 301.9L1293.4 301.4L1289.9 299.1L1286.4 297.4L1284.4 297.9Z" color="#8ed645"/>
<path d="M1408 438.7L1411.4 444.9L1414.9 451.4L1416.8 450.8L1418.7 450.2L1415.3 443.8L1411.8 437.6L1409.9 438.1Z" color="#277f8e"/>
<path d="M1324.2 343.9L1327.7 348.1L1331.2 352.2L1333.2 351.7L1335.2 351.2L1331.7 347.1L1328.2 342.9L1326.2 343.4Z" color="#42be71"/>
<path d="M1331.2 352.2L1334.7 356.1L1338.2 359.9L1340.2 359.4L1342.1 358.9L1338.7 355.1L1335.2 351.2L1333.2 351.7Z" color="#38b977"/>
<path d="M1317.2 334.9L1320.7 339.5L1324.2 343.9L1326.2 343.4L1328.2 342.9L1324.7 338.5L1321.2 334L1319.2 334.4Z" color="#4ec36b"/>
<path d="M1338.2 359.9L1341.7 363.6L1345.2 367.2L1347.1 366.7L1349.1 366.2L1345.6 362.6L1342.1 358.9L1340.2 359.4Z" color="#31b57b"/>
<path d="M1053.4 486.7L1056.6 482.3L1059.9 478L1062 476L1064.2 474L1060.9 478.4L1057.7 482.7L1055.5 484.7Z" color="#31668e"/>
<path d="M1231.4 318L1234.8 314.4L1238.3 311.1L1240.3 310.7L1242.4 310.2L1239 313.5L1235.5 317L1233.5 317.5Z" color="#75d054"/>
<path d="M1253.4 303.9L1256.9 301.9L1260.3 300.3L1262.4 299.9L1264.4 299.4L1260.9 301L1257.5 303L1255.4 303.5Z" color="#8bd646"/>
<path d="M1345.2 367.2L1348.7 370.7L1352.1 374.1L1354.1 373.6L1356.1 373.1L1352.6 369.7L1349.1 366.2L1347.1 366.7Z" color="#2ab07f"/>
<path d="M1310.3 325.6L1313.8 330.3L1317.2 334.9L1319.2 334.4L1321.2 334L1317.8 329.3L1314.3 324.7L1312.3 325.2Z" color="#5cc863"/>
<path d="M1417.9 466L1421.4 472.9L1424.8 480L1426.8 479.4L1428.7 478.8L1425.2 471.8L1421.8 464.8L1419.9 465.4Z" color="#2f6c8e"/>
<path d="M1242.4 310.2L1245.8 307.3L1249.3 304.8L1251.3 304.4L1253.4 303.9L1250 306.4L1246.5 309.3L1244.5 309.8Z" color="#81d34d"/>
<path d="M1157.4 381.7L1160.7 377L1164.1 372.2L1166.2 371.4L1168.3 370.6L1165 375.3L1161.6 380L1159.5 380.9Z" color="#26ad81"/>
<path d="M1427.9 495.5L1431.3 502.6L1434.8 509.7L1436.7 509.1L1438.6 508.5L1435.2 501.4L1431.7 494.3L1429.8 494.9Z" color="#39568c"/>
<path d="M1289.3 302.3L1292.8 305.2L1296.3 308.7L1298.3 308.2L1300.3 307.7L1296.9 304.3L1293.4 301.4L1291.4 301.9Z" color="#84d44b"/>
<path d="M1303.3 316.7L1306.8 321.1L1310.3 325.6L1312.3 325.2L1314.3 324.7L1310.8 320.1L1307.3 315.7L1305.3 316.2Z" color="#69cd5b"/>
<path d="M1352.1 374.1L1355.6 377.4L1359.1 380.7L1361.1 380.2L1363.1 379.6L1359.6 376.4L1356.1 373.1L1354.1 373.6Z" color="#26ad81"/>
<path d="M1079.3 458.1L1082.6 453.7L1085.9 449.4L1088 447.7L1090.2 446.1L1086.9 450.4L1083.6 454.8L1081.5 456.4Z" color="#297a8e"/>
<path d="M1296.3 308.7L1299.8 312.5L1303.3 316.7L1305.3 316.2L1307.3 315.7L1303.8 311.6L1300.3 307.7L1298.3 308.2Z" color="#7ad151"/>
<path d="M1437.8 525L1441.3 531.8L1444.7 538.4L1446.6 537.8L1448.5 537.1L1445.1 530.5L1441.6 523.7L1439.7 524.3Z" color="#424086"/>
<path d="M1131.3 406L1134.7 401.5L1138 396.9L1140.1 395.8L1142.2 394.8L1138.9 399.3L1135.6 403.8L1133.5 404.9Z" color="#1e9d89"/>
<path d="M1038.3 503.9L1041.5 499.5L1044.7 495.2L1046.9 493L1049.1 490.8L1045.8 495.2L1042.6 499.6L1040.5 501.7Z" color="#375b8d"/>
<path d="M1401 427.2L1404.5 432.8L1408 438.7L1409.9 438.1L1411.8 437.6L1408.4 431.7L1404.9 426.1L1403 426.6Z" color="#24878e"/>
<path d="M1105.3 431.3L1108.6 426.9L1111.9 422.5L1114 421.1L1116.2 419.8L1112.9 424.2L1109.6 428.6L1107.5 429.9Z" color="#228c8d"/>
<path d="M1194.4 347.5L1197.8 343L1201.1 338.5L1203.2 337.9L1205.3 337.3L1201.9 341.8L1198.6 346.4L1196.5 346.9Z" color="#4ac16d"/>
<path d="M1359.1 380.7L1362.6 383.9L1366.1 387.1L1368.1 386.6L1370.1 386L1366.6 382.8L1363.1 379.6L1361.1 380.2Z" color="#22a884"/>
<path d="M1454.7 563.7L1458.2 569L1460.1 568.3L1462 567.7L1458.5 562.4L1456.6 563.1Z" color="#482374"/>
<path d="M1023.2 522L1026.4 517.6L1029.6 513.2L1031.8 510.8L1034 508.5L1030.7 512.9L1027.5 517.3L1025.4 519.7Z" color="#3d4e8a" stroke="none"/>
<path d="M1366.1 387.1L1369.6 390.3L1373.1 393.6L1375.1 393.1L1377 392.6L1373.5 389.3L1370.1 386L1368.1 386.6Z" color="#20a486"/>
<path d="M1394.1 417L1397.6 421.9L1401 427.2L1403 426.6L1404.9 426.1L1401.4 420.8L1398 415.9L1396 416.5Z" color="#21908d"/>
<path d="M1008.2 541L1011.3 536.5L1014.5 532L1016.7 529.5L1018.9 526.9L1015.7 531.4L1012.5 535.9L1010.3 538.4Z" color="#423f85" stroke="none"/>
<path d="M1271.3 298L1274.8 298.3L1278.3 299.2L1280.3 298.8L1282.4 298.3L1278.9 297.4L1275.4 297.1L1273.4 297.6Z" color="#93d741"/>
<path d="M1168.3 370.6L1171.7 365.8L1175 361.1L1177.1 360.3L1179.2 359.6L1175.9 364.3L1172.5 369.1L1170.4 369.8Z" color="#31b57b"/>
<path d="M1447.8 552.2L1451.3 558.1L1454.7 563.7L1456.6 563.1L1458.5 562.4L1455.1 556.9L1451.6 551L1449.7 551.6Z" color="#472a7a"/>
<path d="M1064.2 474L1067.4 469.7L1070.7 465.4L1072.9 463.5L1075 461.6L1071.8 466L1068.5 470.3L1066.3 472.1Z" color="#2d718e"/>
<path d="M1373.1 393.6L1376.6 397L1380.1 400.6L1382.1 400L1384 399.5L1380.5 395.9L1377 392.6L1375.1 393.1Z" color="#1fa188"/>
<path d="M1411 452.5L1414.5 459.1L1417.9 466L1419.9 465.4L1421.8 464.8L1418.3 458L1414.9 451.4L1413 451.9Z" color="#2a778e"/>
<path d="M1205.3 337.3L1208.7 333L1212.1 328.8L1214.2 328.2L1216.3 327.7L1212.9 331.9L1209.5 336.2L1207.4 336.8Z" color="#5ac864"/>
<path d="M1387.1 408.3L1390.6 412.5L1394.1 417L1396 416.5L1398 415.9L1394.5 411.4L1391 407.2L1389 407.7Z" color="#1f968b"/>
<path d="M1380.1 400.6L1383.6 404.3L1387.1 408.3L1389 407.7L1391 407.2L1387.5 403.2L1384 399.5L1382.1 400Z" color="#1e9c89"/>
<path d="M1421 481.2L1424.4 488.3L1427.9 495.5L1429.8 494.9L1431.7 494.3L1428.3 487.1L1424.8 480L1422.9 480.6Z" color="#33638d"/>
<path d="M1142.2 394.8L1145.6 390.1L1148.9 385.5L1151 384.5L1153.2 383.5L1149.8 388.2L1146.5 392.8L1144.4 393.8Z" color="#21a585"/>
<path d="M1430.9 510.9L1434.4 518L1437.8 525L1439.7 524.3L1441.6 523.7L1438.2 516.8L1434.8 509.7L1432.8 510.3Z" color="#3d4d8a"/>
<path d="M1090.2 446.1L1093.4 441.7L1096.7 437.3L1098.9 435.8L1101 434.2L1097.7 438.6L1094.5 443L1092.3 444.5Z" color="#25838e"/>
<path d="M1116.2 419.8L1119.5 415.3L1122.8 410.8L1124.9 409.6L1127.1 408.3L1123.8 412.8L1120.5 417.3L1118.3 418.5Z" color="#1f958b"/>
<path d="M1049.1 490.8L1052.3 486.5L1055.5 482.1L1057.7 480L1059.9 478L1056.6 482.3L1053.4 486.7L1051.2 488.7Z" color="#31668e"/>
<path d="M1440.9 539.6L1444.3 546.1L1447.8 552.2L1449.7 551.6L1451.6 551L1448.2 544.8L1444.7 538.4L1442.8 539Z" color="#453781"/>
<path d="M1216.3 327.7L1219.7 323.7L1223.1 319.9L1225.2 319.4L1227.3 318.9L1223.9 322.7L1220.4 326.7L1218.4 327.2Z" color="#69cd5b"/>
<path d="M1260.3 300.3L1263.8 299.3L1267.3 298.9L1269.3 298.5L1271.3 298L1267.9 298.4L1264.4 299.4L1262.4 299.9Z" color="#95d840" stroke="none"/>
<path d="M1179.2 359.6L1182.6 354.8L1186 350.2L1188.1 349.5L1190.2 348.8L1186.8 353.5L1183.4 358.2L1181.3 358.8Z" color="#3fbc73"/>
<path d="M1278.3 299.2L1281.8 300.9L1285.3 303.2L1287.3 302.8L1289.3 302.3L1285.8 300L1282.4 298.3L1280.3 298.8Z" color="#93d741"/>
<path d="M1404.1 439.8L1407.6 446L1411 452.5L1413 451.9L1414.9 451.4L1411.4 444.9L1408 438.7L1406 439.3Z" color="#26818e"/>
<path d="M1320.2 344.8L1323.7 349.1L1327.2 353.2L1329.2 352.7L1331.2 352.2L1327.7 348.1L1324.2 343.9L1322.2 344.4Z" color="#46c06f"/>
<path d="M1327.2 353.2L1330.7 357.1L1334.2 360.9L1336.2 360.4L1338.2 359.9L1334.7 356.1L1331.2 352.2L1329.2 352.7Z" color="#3bbb75"/>
<path d="M1034 508.5L1037.2 504.1L1040.4 499.7L1042.6 497.4L1044.7 495.2L1041.5 499.5L1038.3 503.9L1036.1 506.2Z" color="#375a8c" stroke="none"/>
<path d="M1313.2 335.9L1316.7 340.4L1320.2 344.8L1322.2 344.4L1324.2 343.9L1320.7 339.5L1317.2 334.9L1315.2 335.4Z" color="#52c569"/>
<path d="M1334.2 360.9L1337.7 364.6L1341.2 368.2L1343.2 367.7L1345.2 367.2L1341.7 363.6L1338.2 359.9L1336.2 360.4Z" color="#34b679"/>
<path d="M1227.3 318.9L1230.7 315.3L1234.1 312.1L1236.2 311.6L1238.3 311.1L1234.8 314.4L1231.4 318L1229.3 318.4Z" color="#7ad151"/>
<path d="M1075 461.6L1078.3 457.3L1081.5 452.9L1083.7 451.1L1085.9 449.4L1082.6 453.7L1079.3 458.1L1077.2 459.8Z" color="#297a8e"/>
<path d="M1153.2 383.5L1156.5 378.8L1159.8 374L1162 373.1L1164.1 372.2L1160.7 377L1157.4 381.7L1155.3 382.6Z" color="#27ad81"/>
<path d="M1249.3 304.8L1252.7 302.7L1256.2 301.2L1258.3 300.7L1260.3 300.3L1256.9 301.9L1253.4 303.9L1251.3 304.4Z" color="#90d743"/>
<path d="M1341.2 368.2L1344.7 371.7L1348.2 375.1L1350.2 374.6L1352.1 374.1L1348.7 370.7L1345.2 367.2L1343.2 367.7Z" color="#2db27d"/>
<path d="M1306.2 326.6L1309.7 331.2L1313.2 335.9L1315.2 335.4L1317.2 334.9L1313.8 330.3L1310.3 325.6L1308.3 326.1Z" color="#60ca60"/>
<path d="M1018.9 526.9L1022.1 522.5L1025.3 518.1L1027.5 515.6L1029.6 513.2L1026.4 517.6L1023.2 522L1021 524.5Z" color="#3d4d8a" stroke="none"/>
<path d="M1414.1 467.1L1417.5 474.1L1421 481.2L1422.9 480.6L1424.8 480L1421.4 472.9L1417.9 466L1416 466.5Z" color="#2e6f8e"/>
<path d="M1238.3 311.1L1241.7 308.2L1245.2 305.7L1247.2 305.3L1249.3 304.8L1245.8 307.3L1242.4 310.2L1240.3 310.7Z" color="#86d549"/>
<path d="M1127.1 408.3L1130.4 403.8L1133.7 399.2L1135.8 398L1138 396.9L1134.7 401.5L1131.3 406L1129.2 407.1Z" color="#1f9e89"/>
<path d="M1101 434.2L1104.3 429.8L1107.6 425.4L1109.8 423.9L1111.9 422.5L1108.6 426.9L1105.3 431.3L1103.2 432.7Z" color="#228d8d"/>
<path d="M1424 496.6L1427.5 503.8L1430.9 510.9L1432.8 510.3L1434.8 509.7L1431.3 502.6L1427.9 495.5L1426 496Z" color="#375a8c"/>
<path d="M1285.3 303.2L1288.8 306.1L1292.3 309.6L1294.3 309.1L1296.3 308.7L1292.8 305.2L1289.3 302.3L1287.3 302.8Z" color="#8bd646"/>
<path d="M1003.8 546.2L1007 541.7L1010.2 537.2L1012.4 534.6L1014.5 532L1011.3 536.5L1008.2 541L1006 543.6Z" color="#433d84" stroke="none"/>
<path d="M1299.3 317.6L1302.7 322L1306.2 326.6L1308.3 326.1L1310.3 325.6L1306.8 321.1L1303.3 316.7L1301.3 317.1Z" color="#70cf57"/>
<path d="M1348.2 375.1L1351.7 378.4L1355.2 381.7L1357.2 381.2L1359.1 380.7L1355.6 377.4L1352.1 374.1L1350.2 374.6Z" color="#28ae80"/>
<path d="M1292.3 309.6L1295.8 313.4L1299.3 317.6L1301.3 317.1L1303.3 316.7L1299.8 312.5L1296.3 308.7L1294.3 309.1Z" color="#7fd34e"/>
<path d="M1434 526.2L1437.4 533L1440.9 539.6L1442.8 539L1444.7 538.4L1441.3 531.8L1437.8 525L1435.9 525.6Z" color="#414287"/>
<path d="M1190.2 348.8L1193.6 344.2L1196.9 339.7L1199 339.1L1201.1 338.5L1197.8 343L1194.4 347.5L1192.3 348.1Z" color="#4ec36b"/>
<path d="M1397.1 428.3L1400.6 433.9L1404.1 439.8L1406 439.3L1408 438.7L1404.5 432.8L1401 427.2L1399.1 427.7Z" color="#238a8d"/>
<path d="M1355.2 381.7L1358.7 384.9L1362.2 388.1L1364.2 387.6L1366.1 387.1L1362.6 383.9L1359.1 380.7L1357.2 381.2Z" color="#25ab82"/>
<path d="M1059.9 478L1063.1 473.6L1066.4 469.3L1068.5 467.3L1070.7 465.4L1067.4 469.7L1064.2 474L1062 476Z" color="#2d718e"/>
<path d="M1450.9 565L1454.4 570.3L1456.3 569.6L1458.2 569L1454.7 563.7L1452.8 564.4Z" color="#482576"/>
<path d="M1362.2 388.1L1365.7 391.4L1369.2 394.7L1371.2 394.1L1373.1 393.6L1369.6 390.3L1366.1 387.1L1364.2 387.6Z" color="#21a685"/>
<path d="M1164.1 372.2L1167.4 367.5L1170.8 362.7L1172.9 361.9L1175 361.1L1171.7 365.8L1168.3 370.6L1166.2 371.4Z" color="#34b679"/>
<path d="M1390.2 418.1L1393.7 423L1397.1 428.3L1399.1 427.7L1401 427.2L1397.6 421.9L1394.1 417L1392.1 417.6Z" color="#20928c"/>
<path d="M1267.3 298.9L1270.7 299.1L1274.2 300.1L1276.3 299.6L1278.3 299.2L1274.8 298.3L1271.3 298L1269.3 298.5Z" color="#9bd93c"/>
<path d="M1444 553.5L1447.5 559.5L1450.9 565L1452.8 564.4L1454.7 563.7L1451.3 558.1L1447.8 552.2L1445.9 552.9Z" color="#472e7c"/>
<path d="M1085.9 449.4L1089.1 445L1092.4 440.7L1094.6 439L1096.7 437.3L1093.4 441.7L1090.2 446.1L1088 447.7Z" color="#25838e"/>
<path d="M1369.2 394.7L1372.7 398.1L1376.2 401.6L1378.2 401.1L1380.1 400.6L1376.6 397L1373.1 393.6L1371.2 394.1Z" color="#1fa287"/>
<path d="M1044.7 495.2L1048 490.8L1051.2 486.5L1053.4 484.3L1055.5 482.1L1052.3 486.5L1049.1 490.8L1046.9 493Z" color="#32658e"/>
<path d="M1407.2 453.6L1410.6 460.3L1414.1 467.1L1416 466.5L1417.9 466L1414.5 459.1L1411 452.5L1409.1 453Z" color="#29798e"/>
<path d="M1138 396.9L1141.3 392.3L1144.6 387.6L1146.8 386.5L1148.9 385.5L1145.6 390.1L1142.2 394.8L1140.1 395.8Z" color="#21a685"/>
<path d="M1201.1 338.5L1204.5 334.1L1207.9 329.9L1210 329.4L1212.1 328.8L1208.7 333L1205.3 337.3L1203.2 337.9Z" color="#5ec962"/>
<path d="M1383.2 409.3L1386.7 413.6L1390.2 418.1L1392.1 417.6L1394.1 417L1390.6 412.5L1387.1 408.3L1385.1 408.8Z" color="#1f988b"/>
<path d="M1111.9 422.5L1115.2 418L1118.5 413.5L1120.7 412.2L1122.8 410.8L1119.5 415.3L1116.2 419.8L1114 421.1Z" color="#1f968b"/>
<path d="M1376.2 401.6L1379.7 405.4L1383.2 409.3L1385.1 408.8L1387.1 408.3L1383.6 404.3L1380.1 400.6L1378.2 401.1Z" color="#1f9e89"/>
<path d="M1417.1 482.3L1420.6 489.5L1424 496.6L1426 496L1427.9 495.5L1424.4 488.3L1421 481.2L1419.1 481.7Z" color="#32658e"/>
<path d="M1427.1 512.2L1430.5 519.2L1434 526.2L1435.9 525.6L1437.8 525L1434.4 518L1430.9 510.9L1429 511.5Z" color="#3c508b"/>
<path d="M1029.6 513.2L1032.8 508.8L1036.1 504.4L1038.2 502L1040.4 499.7L1037.2 504.1L1034 508.5L1031.8 510.8Z" color="#38598c" stroke="none"/>
<path d="M1014.5 532L1017.7 527.6L1020.9 523.2L1023.1 520.6L1025.3 518.1L1022.1 522.5L1018.9 526.9L1016.7 529.5Z" color="#3e4a89" stroke="none"/>
<path d="M1437.1 540.9L1440.5 547.4L1444 553.5L1445.9 552.9L1447.8 552.2L1444.3 546.1L1440.9 539.6L1439 540.3Z" color="#443983"/>
<path d="M1212.1 328.8L1215.5 324.8L1219 321L1221 320.4L1223.1 319.9L1219.7 323.7L1216.3 327.7L1214.2 328.2Z" color="#70cf57"/>
<path d="M1070.7 465.4L1074 461L1077.2 456.7L1079.4 454.8L1081.5 452.9L1078.3 457.3L1075 461.6L1072.9 463.5Z" color="#297a8e"/>
<path d="M999.5 551.6L1002.6 547.1L1005.8 542.6L1008 539.9L1010.2 537.2L1007 541.7L1003.8 546.2L1001.6 548.9Z" color="#443b84" stroke="none"/>
<path d="M1175 361.1L1178.4 356.3L1181.8 351.7L1183.9 350.9L1186 350.2L1182.6 354.8L1179.2 359.6L1177.1 360.3Z" color="#42be71"/>
<path d="M1256.2 301.2L1259.7 300.2L1263.2 299.8L1265.2 299.3L1267.3 298.9L1263.8 299.3L1260.3 300.3L1258.3 300.7Z" color="#9bd93c" stroke="none"/>
<path d="M1274.2 300.1L1277.7 301.8L1281.2 304.1L1283.2 303.7L1285.3 303.2L1281.8 300.9L1278.3 299.2L1276.3 299.6Z" color="#98d83e"/>
<path d="M1400.2 440.9L1403.7 447.1L1407.2 453.6L1409.1 453L1411 452.5L1407.6 446L1404.1 439.8L1402.2 440.4Z" color="#26828e"/>
<path d="M1316.2 345.8L1319.7 350L1323.2 354.1L1325.2 353.6L1327.2 353.2L1323.7 349.1L1320.2 344.8L1318.2 345.3Z" color="#4ac16d"/>
<path d="M1323.2 354.1L1326.7 358.1L1330.2 361.9L1332.2 361.4L1334.2 360.9L1330.7 357.1L1327.2 353.2L1325.2 353.6Z" color="#40bd72"/>
<path d="M1148.9 385.5L1152.2 380.8L1155.6 376L1157.7 375L1159.8 374L1156.5 378.8L1153.2 383.5L1151 384.5Z" color="#29af7f"/>
<path d="M1096.7 437.3L1100 432.9L1103.3 428.5L1105.5 426.9L1107.6 425.4L1104.3 429.8L1101 434.2L1098.9 435.8Z" color="#228d8d"/>
<path d="M1309.2 336.8L1312.7 341.4L1316.2 345.8L1318.2 345.3L1320.2 344.8L1316.7 340.4L1313.2 335.9L1311.2 336.3Z" color="#58c765"/>
<path d="M1330.2 361.9L1333.7 365.6L1337.2 369.2L1339.2 368.7L1341.2 368.2L1337.7 364.6L1334.2 360.9L1332.2 361.4Z" color="#37b878"/>
<path d="M1223.1 319.9L1226.5 316.3L1230 313.1L1232.1 312.6L1234.1 312.1L1230.7 315.3L1227.3 318.9L1225.2 319.4Z" color="#7fd34e"/>
<path d="M1122.8 410.8L1126.1 406.3L1129.4 401.7L1131.6 400.5L1133.7 399.2L1130.4 403.8L1127.1 408.3L1124.9 409.6Z" color="#1f9f88"/>
<path d="M1245.2 305.7L1248.6 303.6L1252.1 302.1L1254.1 301.6L1256.2 301.2L1252.7 302.7L1249.3 304.8L1247.2 305.3Z" color="#95d840"/>
<path d="M1337.2 369.2L1340.7 372.7L1344.2 376.1L1346.2 375.6L1348.2 375.1L1344.7 371.7L1341.2 368.2L1339.2 368.7Z" color="#31b57b"/>
<path d="M1302.2 327.5L1305.7 332.2L1309.2 336.8L1311.2 336.3L1313.2 335.9L1309.7 331.2L1306.2 326.6L1304.2 327Z" color="#65cb5e"/>
<path d="M1055.5 482.1L1058.8 477.8L1062 473.4L1064.2 471.3L1066.4 469.3L1063.1 473.6L1059.9 478L1057.7 480Z" color="#2d708e"/>
<path d="M1234.1 312.1L1237.6 309.2L1241 306.6L1243.1 306.2L1245.2 305.7L1241.7 308.2L1238.3 311.1L1236.2 311.6Z" color="#8bd646"/>
<path d="M1410.2 468.2L1413.7 475.2L1417.1 482.3L1419.1 481.7L1421 481.2L1417.5 474.1L1414.1 467.1L1412.1 467.7Z" color="#2d718e"/>
<path d="M1420.2 497.8L1423.6 505L1427.1 512.2L1429 511.5L1430.9 510.9L1427.5 503.8L1424 496.6L1422.1 497.2Z" color="#365c8d"/>
<path d="M1281.2 304.1L1284.7 307L1288.2 310.5L1290.2 310L1292.3 309.6L1288.8 306.1L1285.3 303.2L1283.2 303.7Z" color="#90d743"/>
<path d="M1295.2 318.5L1298.7 322.9L1302.2 327.5L1304.2 327L1306.2 326.6L1302.7 322L1299.3 317.6L1297.2 318Z" color="#75d054"/>
<path d="M1344.2 376.1L1347.7 379.4L1351.2 382.7L1353.2 382.2L1355.2 381.7L1351.7 378.4L1348.2 375.1L1346.2 375.6Z" color="#2ab07f"/>
<path d="M1288.2 310.5L1291.7 314.3L1295.2 318.5L1297.2 318L1299.3 317.6L1295.8 313.4L1292.3 309.6L1290.2 310Z" color="#84d44b"/>
<path d="M1430.1 527.5L1433.6 534.3L1437.1 540.9L1439 540.3L1440.9 539.6L1437.4 533L1434 526.2L1432.1 526.8Z" color="#404688"/>
<path d="M1186 350.2L1189.4 345.6L1192.7 341.1L1194.8 340.4L1196.9 339.7L1193.6 344.2L1190.2 348.8L1188.1 349.5Z" color="#52c569"/>
<path d="M1393.2 429.4L1396.7 435L1400.2 440.9L1402.2 440.4L1404.1 439.8L1400.6 433.9L1397.1 428.3L1395.2 428.8Z" color="#228c8d"/>
<path d="M1040.4 499.7L1043.6 495.3L1046.9 491L1049 488.7L1051.2 486.5L1048 490.8L1044.7 495.2L1042.6 497.4Z" color="#32658e" stroke="none"/>
<path d="M1351.2 382.7L1354.7 385.9L1358.2 389.1L1360.2 388.6L1362.2 388.1L1358.7 384.9L1355.2 381.7L1353.2 382.2Z" color="#26ad81"/>
<path d="M1447.1 566.4L1450.6 571.7L1452.5 571L1454.4 570.3L1450.9 565L1449 565.7Z" color="#482878"/>
<path d="M1081.5 452.9L1084.8 448.6L1088.1 444.2L1090.3 442.4L1092.4 440.7L1089.1 445L1085.9 449.4L1083.7 451.1Z" color="#25838e"/>
<path d="M1159.8 374L1163.2 369.3L1166.5 364.5L1168.7 363.6L1170.8 362.7L1167.4 367.5L1164.1 372.2L1162 373.1Z" color="#35b779"/>
<path d="M1025.3 518.1L1028.5 513.7L1031.7 509.3L1033.9 506.8L1036.1 504.4L1032.8 508.8L1029.6 513.2L1027.5 515.6Z" color="#38588c" stroke="none"/>
<path d="M1358.2 389.1L1361.7 392.4L1365.2 395.7L1367.2 395.2L1369.2 394.7L1365.7 391.4L1362.2 388.1L1360.2 388.6Z" color="#23a983"/>
<path d="M1107.6 425.4L1110.9 420.9L1114.2 416.4L1116.4 415L1118.5 413.5L1115.2 418L1111.9 422.5L1109.8 423.9Z" color="#1f968b"/>
<path d="M1133.7 399.2L1137 394.6L1140.4 389.9L1142.5 388.7L1144.6 387.6L1141.3 392.3L1138 396.9L1135.8 398Z" color="#22a884"/>
<path d="M1386.3 419.2L1389.8 424.1L1393.2 429.4L1395.2 428.8L1397.1 428.3L1393.7 423L1390.2 418.1L1388.2 418.6Z" color="#20938c"/>
<path d="M1010.2 537.2L1013.4 532.8L1016.6 528.4L1018.8 525.7L1020.9 523.2L1017.7 527.6L1014.5 532L1012.4 534.6Z" color="#3e4989" stroke="none"/>
<path d="M1263.2 299.8L1266.6 300L1270.1 301L1272.2 300.5L1274.2 300.1L1270.7 299.1L1267.3 298.9L1265.2 299.3Z" color="#a0da39"/>
<path d="M1440.2 554.9L1443.6 560.8L1447.1 566.4L1449 565.7L1450.9 565L1447.5 559.5L1444 553.5L1442.1 554.2Z" color="#46307e"/>
<path d="M995.1 557.1L998.3 552.6L1001.5 548.1L1003.7 545.4L1005.8 542.6L1002.6 547.1L999.5 551.6L997.3 554.3Z" color="#443983" stroke="none"/>
<path d="M1365.2 395.7L1368.7 399.1L1372.3 402.7L1374.2 402.1L1376.2 401.6L1372.7 398.1L1369.2 394.7L1367.2 395.2Z" color="#20a486"/>
<path d="M1196.9 339.7L1200.3 335.4L1203.7 331.2L1205.8 330.5L1207.9 329.9L1204.5 334.1L1201.1 338.5L1199 339.1Z" color="#63cb5f"/>
<path d="M1403.3 454.7L1406.7 461.4L1410.2 468.2L1412.1 467.7L1414.1 467.1L1410.6 460.3L1407.2 453.6L1405.2 454.1Z" color="#297b8e"/>
<path d="M1379.3 410.4L1382.8 414.6L1386.3 419.2L1388.2 418.6L1390.2 418.1L1386.7 413.6L1383.2 409.3L1381.2 409.9Z" color="#1f9a8a"/>
<path d="M1372.3 402.7L1375.8 406.4L1379.3 410.4L1381.2 409.9L1383.2 409.3L1379.7 405.4L1376.2 401.6L1374.2 402.1Z" color="#1fa088"/>
<path d="M1066.4 469.3L1069.6 464.9L1072.9 460.6L1075.1 458.6L1077.2 456.7L1074 461L1070.7 465.4L1068.5 467.3Z" color="#297a8e"/>
<path d="M1413.3 483.5L1416.7 490.6L1420.2 497.8L1422.1 497.2L1424 496.6L1420.6 489.5L1417.1 482.3L1415.2 482.9Z" color="#31688e"/>
<path d="M1423.2 513.4L1426.7 520.5L1430.1 527.5L1432.1 526.8L1434 526.2L1430.5 519.2L1427.1 512.2L1425.2 512.8Z" color="#3b528b"/>
<path d="M1207.9 329.9L1211.4 325.9L1214.8 322.1L1216.9 321.5L1219 321L1215.5 324.8L1212.1 328.8L1210 329.4Z" color="#75d054"/>
<path d="M1170.8 362.7L1174.1 358L1177.5 353.3L1179.6 352.5L1181.8 351.7L1178.4 356.3L1175 361.1L1172.9 361.9Z" color="#44bf70"/>
<path d="M1433.2 542.3L1436.7 548.7L1440.2 554.9L1442.1 554.2L1444 553.5L1440.5 547.4L1437.1 540.9L1435.1 541.6Z" color="#443b84"/>
<path d="M1092.4 440.7L1095.7 436.2L1099 431.8L1101.2 430.1L1103.3 428.5L1100 432.9L1096.7 437.3L1094.6 439Z" color="#218e8d"/>
<path d="M1051.2 486.5L1054.5 482.1L1057.7 477.8L1059.9 475.6L1062 473.4L1058.8 477.8L1055.5 482.1L1053.4 484.3Z" color="#2d708e"/>
<path d="M1252.1 302.1L1255.6 301.1L1259 300.7L1261.1 300.2L1263.2 299.8L1259.7 300.2L1256.2 301.2L1254.1 301.6Z" color="#a0da39" stroke="none"/>
<path d="M1144.6 387.6L1148 382.9L1151.3 378.1L1153.5 377L1155.6 376L1152.2 380.8L1148.9 385.5L1146.8 386.5Z" color="#2ab07f"/>
<path d="M1118.5 413.5L1121.8 409L1125.1 404.4L1127.3 403.1L1129.4 401.7L1126.1 406.3L1122.8 410.8L1120.7 412.2Z" color="#1fa088"/>
<path d="M1270.1 301L1273.6 302.6L1277.1 305L1279.2 304.5L1281.2 304.1L1277.7 301.8L1274.2 300.1L1272.2 300.5Z" color="#9dd93b"/>
<path d="M1396.3 442L1399.8 448.2L1403.3 454.7L1405.2 454.1L1407.2 453.6L1403.7 447.1L1400.2 440.9L1398.3 441.5Z" color="#25858e"/>
<path d="M1312.2 346.7L1315.7 351L1319.2 355.1L1321.2 354.6L1323.2 354.1L1319.7 350L1316.2 345.8L1314.2 346.3Z" color="#50c46a"/>
<path d="M1319.2 355.1L1322.7 359L1326.2 362.9L1328.2 362.4L1330.2 361.9L1326.7 358.1L1323.2 354.1L1321.2 354.6Z" color="#44bf70"/>
<path d="M1219 321L1222.4 317.4L1225.8 314.1L1227.9 313.6L1230 313.1L1226.5 316.3L1223.1 319.9L1221 320.4Z" color="#84d44b"/>
<path d="M1305.2 337.7L1308.7 342.3L1312.2 346.7L1314.2 346.3L1316.2 345.8L1312.7 341.4L1309.2 336.8L1307.2 337.3Z" color="#5cc863"/>
<path d="M1326.2 362.9L1329.7 366.6L1333.2 370.2L1335.2 369.7L1337.2 369.2L1333.7 365.6L1330.2 361.9L1328.2 362.4Z" color="#3bbb75"/>
<path d="M1036.1 504.4L1039.3 500.1L1042.5 495.7L1044.7 493.3L1046.9 491L1043.6 495.3L1040.4 499.7L1038.2 502Z" color="#32648e" stroke="none"/>
<path d="M1241 306.6L1244.5 304.6L1248 303L1250 302.5L1252.1 302.1L1248.6 303.6L1245.2 305.7L1243.1 306.2Z" color="#9dd93b"/>
<path d="M1333.2 370.2L1336.7 373.7L1340.2 377.1L1342.2 376.6L1344.2 376.1L1340.7 372.7L1337.2 369.2L1335.2 369.7Z" color="#34b679"/>
<path d="M1298.2 328.4L1301.7 333.1L1305.2 337.7L1307.2 337.3L1309.2 336.8L1305.7 332.2L1302.2 327.5L1300.2 328Z" color="#6ccd5a"/>
<path d="M1230 313.1L1233.4 310.1L1236.9 307.6L1239 307.1L1241 306.6L1237.6 309.2L1234.1 312.1L1232.1 312.6Z" color="#93d741"/>
<path d="M1406.3 469.4L1409.8 476.4L1413.3 483.5L1415.2 482.9L1417.1 482.3L1413.7 475.2L1410.2 468.2L1408.3 468.8Z" color="#2c728e"/>
<path d="M1020.9 523.2L1024.2 518.8L1027.4 514.4L1029.6 511.8L1031.7 509.3L1028.5 513.7L1025.3 518.1L1023.1 520.6Z" color="#39568c" stroke="none"/>
<path d="M1416.3 499.1L1419.8 506.2L1423.2 513.4L1425.2 512.8L1427.1 512.2L1423.6 505L1420.2 497.8L1418.2 498.4Z" color="#355e8d"/>
<path d="M1077.2 456.7L1080.5 452.3L1083.8 447.9L1085.9 446L1088.1 444.2L1084.8 448.6L1081.5 452.9L1079.4 454.8Z" color="#25838e"/>
<path d="M1277.1 305L1280.6 307.9L1284.1 311.4L1286.2 310.9L1288.2 310.5L1284.7 307L1281.2 304.1L1279.2 304.5Z" color="#95d840"/>
<path d="M1291.1 319.4L1294.6 323.8L1298.2 328.4L1300.2 328L1302.2 327.5L1298.7 322.9L1295.2 318.5L1293.2 318.9Z" color="#7ad151"/>
<path d="M990.8 562.8L993.9 558.3L997.1 553.8L999.3 551L1001.5 548.1L998.3 552.6L995.1 557.1L992.9 559.9Z" color="#453781" stroke="none"/>
<path d="M1005.8 542.6L1009 538.2L1012.2 533.8L1014.4 531.1L1016.6 528.4L1013.4 532.8L1010.2 537.2L1008 539.9Z" color="#3f4788" stroke="none"/>
<path d="M1340.2 377.1L1343.7 380.4L1347.2 383.7L1349.2 383.2L1351.2 382.7L1347.7 379.4L1344.2 376.1L1342.2 376.6Z" color="#2db27d"/>
<path d="M1181.8 351.7L1185.1 347.1L1188.5 342.6L1190.6 341.8L1192.7 341.1L1189.4 345.6L1186 350.2L1183.9 350.9Z" color="#56c667"/>
<path d="M1284.1 311.4L1287.6 315.2L1291.1 319.4L1293.2 318.9L1295.2 318.5L1291.7 314.3L1288.2 310.5L1286.2 310.9Z" color="#89d548"/>
<path d="M1426.3 528.8L1429.8 535.6L1433.2 542.3L1435.1 541.6L1437.1 540.9L1433.6 534.3L1430.1 527.5L1428.2 528.1Z" color="#3f4889"/>
<path d="M1389.3 430.4L1392.8 436.1L1396.3 442L1398.3 441.5L1400.2 440.9L1396.7 435L1393.2 429.4L1391.3 429.9Z" color="#218e8d"/>
<path d="M1103.3 428.5L1106.6 424L1109.9 419.5L1112.1 418L1114.2 416.4L1110.9 420.9L1107.6 425.4L1105.5 426.9Z" color="#1f978b"/>
<path d="M1347.2 383.7L1350.8 386.9L1354.3 390.2L1356.2 389.7L1358.2 389.1L1354.7 385.9L1351.2 382.7L1349.2 383.2Z" color="#28ae80"/>
<path d="M1443.3 567.9L1446.8 573.1L1448.7 572.4L1450.6 571.7L1447.1 566.4L1445.2 567.1Z" color="#472c7a"/>
<path d="M1155.6 376L1158.9 371.2L1162.3 366.4L1164.4 365.4L1166.5 364.5L1163.2 369.3L1159.8 374L1157.7 375Z" color="#38b977"/>
<path d="M1129.4 401.7L1132.8 397.1L1136.1 392.4L1138.2 391.1L1140.4 389.9L1137 394.6L1133.7 399.2L1131.6 400.5Z" color="#23a983"/>
<path d="M1062 473.4L1065.3 469.1L1068.6 464.7L1070.7 462.6L1072.9 460.6L1069.6 464.9L1066.4 469.3L1064.2 471.3Z" color="#29798e"/>
<path d="M1354.3 390.2L1357.8 393.4L1361.3 396.7L1363.3 396.2L1365.2 395.7L1361.7 392.4L1358.2 389.1L1356.2 389.7Z" color="#25ab82"/>
<path d="M1382.3 420.2L1385.8 425.1L1389.3 430.4L1391.3 429.9L1393.2 429.4L1389.8 424.1L1386.3 419.2L1384.3 419.7Z" color="#1f968b"/>
<path d="M1436.3 556.3L1439.8 562.2L1443.3 567.9L1445.2 567.1L1447.1 566.4L1443.6 560.8L1440.2 554.9L1438.2 555.6Z" color="#46337f"/>
<path d="M1259 300.7L1262.5 300.9L1266 301.9L1268.1 301.4L1270.1 301L1266.6 300L1263.2 299.8L1261.1 300.2Z" color="#a5db36"/>
<path d="M1192.7 341.1L1196.1 336.7L1199.5 332.5L1201.6 331.8L1203.7 331.2L1200.3 335.4L1196.9 339.7L1194.8 340.4Z" color="#67cc5c"/>
<path d="M1361.3 396.7L1364.8 400.1L1368.3 403.7L1370.3 403.2L1372.3 402.7L1368.7 399.1L1365.2 395.7L1363.3 396.2Z" color="#21a685"/>
<path d="M1399.4 455.8L1402.8 462.5L1406.3 469.4L1408.3 468.8L1410.2 468.2L1406.7 461.4L1403.3 454.7L1401.3 455.3Z" color="#287d8e"/>
<path d="M1375.3 411.4L1378.8 415.7L1382.3 420.2L1384.3 419.7L1386.3 419.2L1382.8 414.6L1379.3 410.4L1377.3 410.9Z" color="#1e9d89"/>
<path d="M1368.3 403.7L1371.8 407.4L1375.3 411.4L1377.3 410.9L1379.3 410.4L1375.8 406.4L1372.3 402.7L1370.3 403.2Z" color="#1fa187"/>
<path d="M1046.9 491L1050.1 486.6L1053.4 482.3L1055.5 480L1057.7 477.8L1054.5 482.1L1051.2 486.5L1049 488.7Z" color="#2e6f8e" stroke="none"/>
<path d="M1409.4 484.7L1412.8 491.9L1416.3 499.1L1418.2 498.4L1420.2 497.8L1416.7 490.6L1413.3 483.5L1411.3 484.1Z" color="#306a8e"/>
<path d="M1088.1 444.2L1091.4 439.8L1094.7 435.3L1096.8 433.5L1099 431.8L1095.7 436.2L1092.4 440.7L1090.3 442.4Z" color="#218e8d"/>
<path d="M1419.4 514.7L1422.8 521.8L1426.3 528.8L1428.2 528.1L1430.1 527.5L1426.7 520.5L1423.2 513.4L1421.3 514Z" color="#3a548c"/>
<path d="M1031.7 509.3L1035 505L1038.2 500.6L1040.4 498.1L1042.5 495.7L1039.3 500.1L1036.1 504.4L1033.9 506.8Z" color="#33628d" stroke="none"/>
<path d="M1166.5 364.5L1169.9 359.8L1173.3 355.1L1175.4 354.2L1177.5 353.3L1174.1 358L1170.8 362.7L1168.7 363.6Z" color="#48c16e"/>
<path d="M1114.2 416.4L1117.5 411.9L1120.9 407.3L1123 405.9L1125.1 404.4L1121.8 409L1118.5 413.5L1116.4 415Z" color="#1fa188"/>
<path d="M1203.7 331.2L1207.2 327.2L1210.6 323.3L1212.7 322.7L1214.8 322.1L1211.4 325.9L1207.9 329.9L1205.8 330.5Z" color="#7ad151"/>
<path d="M1429.4 543.7L1432.8 550.1L1436.3 556.3L1438.2 555.6L1440.2 554.9L1436.7 548.7L1433.2 542.3L1431.3 543Z" color="#423f85"/>
<path d="M1140.4 389.9L1143.7 385.2L1147.1 380.4L1149.2 379.2L1151.3 378.1L1148 382.9L1144.6 387.6L1142.5 388.7Z" color="#2cb17e"/>
<path d="M1016.6 528.4L1019.8 524L1023 519.6L1025.2 517L1027.4 514.4L1024.2 518.8L1020.9 523.2L1018.8 525.7Z" color="#3a548c" stroke="none"/>
<path d="M986.4 568.5L989.6 564L992.8 559.6L994.9 556.7L997.1 553.8L993.9 558.3L990.8 562.8L988.6 565.6Z" color="#463480" stroke="none"/>
<path d="M1001.5 548.1L1004.7 543.7L1007.9 539.3L1010.1 536.5L1012.2 533.8L1009 538.2L1005.8 542.6L1003.7 545.4Z" color="#404688" stroke="none"/>
<path d="M1248 303L1251.4 302L1254.9 301.6L1257 301.1L1259 300.7L1255.6 301.1L1252.1 302.1L1250 302.5Z" color="#a8db34" stroke="none"/>
<path d="M1266 301.9L1269.5 303.5L1273 305.9L1275.1 305.4L1277.1 305L1273.6 302.6L1270.1 301L1268.1 301.4Z" color="#a5db36"/>
<path d="M1072.9 460.6L1076.2 456.2L1079.5 451.8L1081.6 449.8L1083.8 447.9L1080.5 452.3L1077.2 456.7L1075.1 458.6Z" color="#25838e"/>
<path d="M1392.4 443.1L1395.9 449.4L1399.4 455.8L1401.3 455.3L1403.3 454.7L1399.8 448.2L1396.3 442L1394.4 442.6Z" color="#24878e"/>
<path d="M1308.1 347.7L1311.6 352L1315.2 356.1L1317.2 355.6L1319.2 355.1L1315.7 351L1312.2 346.7L1310.2 347.2Z" color="#54c568"/>
<path d="M1315.2 356.1L1318.7 360L1322.2 363.9L1324.2 363.4L1326.2 362.9L1322.7 359L1319.2 355.1L1317.2 355.6Z" color="#48c16e"/>
<path d="M1214.8 322.1L1218.2 318.5L1221.6 315.2L1223.7 314.7L1225.8 314.1L1222.4 317.4L1219 321L1216.9 321.5Z" color="#89d548"/>
<path d="M1301.1 338.7L1304.6 343.3L1308.1 347.7L1310.2 347.2L1312.2 346.7L1308.7 342.3L1305.2 337.7L1303.1 338.2Z" color="#60ca60"/>
<path d="M1322.2 363.9L1325.7 367.6L1329.2 371.2L1331.2 370.7L1333.2 370.2L1329.7 366.6L1326.2 362.9L1324.2 363.4Z" color="#3fbc73"/>
<path d="M1236.9 307.6L1240.3 305.5L1243.8 304L1245.9 303.5L1248 303L1244.5 304.6L1241 306.6L1239 307.1Z" color="#a2da37"/>
<path d="M1329.2 371.2L1332.7 374.7L1336.2 378.1L1338.2 377.6L1340.2 377.1L1336.7 373.7L1333.2 370.2L1331.2 370.7Z" color="#37b878"/>
<path d="M1294.1 329.4L1297.6 334L1301.1 338.7L1303.1 338.2L1305.2 337.7L1301.7 333.1L1298.2 328.4L1296.1 328.9Z" color="#70cf57"/>
<path d="M1225.8 314.1L1229.3 311.2L1232.7 308.7L1234.8 308.1L1236.9 307.6L1233.4 310.1L1230 313.1L1227.9 313.6Z" color="#98d83e"/>
<path d="M1402.4 470.6L1405.9 477.6L1409.4 484.7L1411.3 484.1L1413.3 483.5L1409.8 476.4L1406.3 469.4L1404.4 470Z" color="#2b758e"/>
<path d="M1412.4 500.3L1415.9 507.5L1419.4 514.7L1421.3 514L1423.2 513.4L1419.8 506.2L1416.3 499.1L1414.4 499.7Z" color="#34618d"/>
<path d="M1099 431.8L1102.3 427.4L1105.6 422.8L1107.8 421.2L1109.9 419.5L1106.6 424L1103.3 428.5L1101.2 430.1Z" color="#1f978b"/>
<path d="M1177.5 353.3L1180.9 348.7L1184.3 344.2L1186.4 343.4L1188.5 342.6L1185.1 347.1L1181.8 351.7L1179.6 352.5Z" color="#5ac864"/>
<path d="M1273 305.9L1276.5 308.8L1280 312.3L1282.1 311.8L1284.1 311.4L1280.6 307.9L1277.1 305L1275.1 305.4Z" color="#9dd93b"/>
<path d="M1057.7 477.8L1061 473.4L1064.2 469.1L1066.4 466.9L1068.6 464.7L1065.3 469.1L1062 473.4L1059.9 475.6Z" color="#29798e"/>
<path d="M1287.1 320.3L1290.6 324.8L1294.1 329.4L1296.1 328.9L1298.2 328.4L1294.6 323.8L1291.1 319.4L1289.1 319.9Z" color="#81d34d"/>
<path d="M1336.2 378.1L1339.7 381.5L1343.3 384.7L1345.2 384.2L1347.2 383.7L1343.7 380.4L1340.2 377.1L1338.2 377.6Z" color="#31b57b"/>
<path d="M1422.4 530.2L1425.9 537L1429.4 543.7L1431.3 543L1433.2 542.3L1429.8 535.6L1426.3 528.8L1424.4 529.5Z" color="#3e4a89"/>
<path d="M1280 312.3L1283.6 316.1L1287.1 320.3L1289.1 319.9L1291.1 319.4L1287.6 315.2L1284.1 311.4L1282.1 311.8Z" color="#90d743"/>
<path d="M1125.1 404.4L1128.5 399.8L1131.8 395.1L1134 393.7L1136.1 392.4L1132.8 397.1L1129.4 401.7L1127.3 403.1Z" color="#23a983"/>
<path d="M1385.4 431.5L1388.9 437.2L1392.4 443.1L1394.4 442.6L1396.3 442L1392.8 436.1L1389.3 430.4L1387.4 431Z" color="#21908d"/>
<path d="M1151.3 378.1L1154.7 373.3L1158 368.6L1160.2 367.5L1162.3 366.4L1158.9 371.2L1155.6 376L1153.5 377Z" color="#3aba76"/>
<path d="M1343.3 384.7L1346.8 388L1350.3 391.2L1352.3 390.7L1354.3 390.2L1350.8 386.9L1347.2 383.7L1345.2 384.2Z" color="#2ab07f"/>
<path d="M1439.4 569.4L1442.9 574.6L1444.8 573.9L1446.8 573.1L1443.3 567.9L1441.4 568.6Z" color="#472e7c"/>
<path d="M1042.5 495.7L1045.8 491.4L1049 487L1051.2 484.6L1053.4 482.3L1050.1 486.6L1046.9 491L1044.7 493.3Z" color="#2e6e8e" stroke="none"/>
<path d="M1350.3 391.2L1353.8 394.4L1357.3 397.8L1359.3 397.2L1361.3 396.7L1357.8 393.4L1354.3 390.2L1352.3 390.7Z" color="#26ad81"/>
<path d="M1027.4 514.4L1030.6 510L1033.9 505.7L1036 503.1L1038.2 500.6L1035 505L1031.7 509.3L1029.6 511.8Z" color="#34618d" stroke="none"/>
<path d="M1083.8 447.9L1087.1 443.5L1090.4 439.1L1092.5 437.2L1094.7 435.3L1091.4 439.8L1088.1 444.2L1085.9 446Z" color="#218e8d"/>
<path d="M1378.4 421.3L1381.9 426.2L1385.4 431.5L1387.4 431L1389.3 430.4L1385.8 425.1L1382.3 420.2L1380.4 420.8Z" color="#1f988b"/>
<path d="M982 574.4L985.2 569.9L988.4 565.4L990.6 562.5L992.8 559.6L989.6 564L986.4 568.5L984.2 571.5Z" color="#46327e" stroke="none"/>
<path d="M1188.5 342.6L1191.9 338.2L1195.3 334L1197.4 333.3L1199.5 332.5L1196.1 336.7L1192.7 341.1L1190.6 341.8Z" color="#6ccd5a"/>
<path d="M1432.5 557.8L1435.9 563.8L1439.4 569.4L1441.4 568.6L1443.3 567.9L1439.8 562.2L1436.3 556.3L1434.4 557.1Z" color="#453581"/>
<path d="M1254.9 301.6L1258.4 301.8L1261.9 302.8L1264 302.3L1266 301.9L1262.5 300.9L1259 300.7L1257 301.1Z" color="#addc30"/>
<path d="M1012.2 533.8L1015.5 529.4L1018.7 525L1020.9 522.3L1023 519.6L1019.8 524L1016.6 528.4L1014.4 531.1Z" color="#3a538b" stroke="none"/>
<path d="M997.1 553.8L1000.3 549.4L1003.5 545L1005.7 542.1L1007.9 539.3L1004.7 543.7L1001.5 548.1L999.3 551Z" color="#414487" stroke="none"/>
<path d="M1357.3 397.8L1360.8 401.2L1364.4 404.7L1366.3 404.2L1368.3 403.7L1364.8 400.1L1361.3 396.7L1359.3 397.2Z" color="#23a983"/>
<path d="M1395.5 457L1398.9 463.7L1402.4 470.6L1404.4 470L1406.3 469.4L1402.8 462.5L1399.4 455.8L1397.4 456.4Z" color="#27808e"/>
<path d="M1371.4 412.5L1374.9 416.8L1378.4 421.3L1380.4 420.8L1382.3 420.2L1378.8 415.7L1375.3 411.4L1373.4 412Z" color="#1f9f88"/>
<path d="M1364.4 404.7L1367.9 408.5L1371.4 412.5L1373.4 412L1375.3 411.4L1371.8 407.4L1368.3 403.7L1366.3 404.2Z" color="#20a486"/>
<path d="M1405.5 485.9L1408.9 493.1L1412.4 500.3L1414.4 499.7L1416.3 499.1L1412.8 491.9L1409.4 484.7L1407.4 485.3Z" color="#2f6c8e"/>
<path d="M1109.9 419.5L1113.2 415L1116.6 410.4L1118.7 408.8L1120.9 407.3L1117.5 411.9L1114.2 416.4L1112.1 418Z" color="#1fa188"/>
<path d="M1415.5 516.1L1418.9 523.2L1422.4 530.2L1424.4 529.5L1426.3 528.8L1422.8 521.8L1419.4 514.7L1417.4 515.4Z" color="#39568c"/>
<path d="M1162.3 366.4L1165.7 361.7L1169 357L1171.2 356L1173.3 355.1L1169.9 359.8L1166.5 364.5L1164.4 365.4Z" color="#4ac16d"/>
<path d="M1068.6 464.7L1071.9 460.4L1075.1 456L1077.3 453.9L1079.5 451.8L1076.2 456.2L1072.9 460.6L1070.7 462.6Z" color="#25838e"/>
<path d="M1136.1 392.4L1139.4 387.7L1142.8 382.9L1144.9 381.6L1147.1 380.4L1143.7 385.2L1140.4 389.9L1138.2 391.1Z" color="#2db27d"/>
<path d="M1199.5 332.5L1203 328.5L1206.4 324.7L1208.5 324L1210.6 323.3L1207.2 327.2L1203.7 331.2L1201.6 331.8Z" color="#7fd34e"/>
<path d="M1425.5 545.1L1429 551.6L1432.5 557.8L1434.4 557.1L1436.3 556.3L1432.8 550.1L1429.4 543.7L1427.4 544.4Z" color="#424186"/>
<path d="M1243.8 304L1247.3 303L1250.8 302.6L1252.9 302.1L1254.9 301.6L1251.4 302L1248 303L1245.9 303.5Z" color="#addc30" stroke="none"/>
<path d="M1053.4 482.3L1056.6 477.9L1059.9 473.6L1062.1 471.3L1064.2 469.1L1061 473.4L1057.7 477.8L1055.5 480Z" color="#2a788e" stroke="none"/>
<path d="M1261.9 302.8L1265.4 304.5L1268.9 306.8L1271 306.3L1273 305.9L1269.5 303.5L1266 301.9L1264 302.3Z" color="#aadc32"/>
<path d="M1388.5 444.3L1392 450.5L1395.5 457L1397.4 456.4L1399.4 455.8L1395.9 449.4L1392.4 443.1L1390.4 443.7Z" color="#23898e"/>
<path d="M1094.7 435.3L1098 430.9L1101.3 426.4L1103.5 424.6L1105.6 422.8L1102.3 427.4L1099 431.8L1096.8 433.5Z" color="#1f978b"/>
<path d="M1304.1 348.7L1307.6 353L1311.1 357.1L1313.1 356.6L1315.2 356.1L1311.6 352L1308.1 347.7L1306.1 348.2Z" color="#58c765"/>
<path d="M1311.1 357.1L1314.6 361L1318.1 364.9L1320.2 364.4L1322.2 363.9L1318.7 360L1315.2 356.1L1313.1 356.6Z" color="#4cc26c"/>
<path d="M1210.6 323.3L1214 319.7L1217.5 316.5L1219.6 315.8L1221.6 315.2L1218.2 318.5L1214.8 322.1L1212.7 322.7Z" color="#90d743"/>
<path d="M1297 339.7L1300.6 344.3L1304.1 348.7L1306.1 348.2L1308.1 347.7L1304.6 343.3L1301.1 338.7L1299.1 339.2Z" color="#65cb5e"/>
<path d="M1318.1 364.9L1321.7 368.6L1325.2 372.2L1327.2 371.7L1329.2 371.2L1325.7 367.6L1322.2 363.9L1320.2 364.4Z" color="#42be71"/>
<path d="M1038.2 500.6L1041.4 496.3L1044.7 491.9L1046.9 489.4L1049 487L1045.8 491.4L1042.5 495.7L1040.4 498.1Z" color="#2e6d8e" stroke="none"/>
<path d="M1232.7 308.7L1236.2 306.6L1239.7 305L1241.7 304.5L1243.8 304L1240.3 305.5L1236.9 307.6L1234.8 308.1Z" color="#a8db34"/>
<path d="M1221.6 315.2L1225.1 312.3L1228.5 309.8L1230.6 309.2L1232.7 308.7L1229.3 311.2L1225.8 314.1L1223.7 314.7Z" color="#9dd93b"/>
<path d="M1325.2 372.2L1328.7 375.7L1332.2 379.2L1334.2 378.6L1336.2 378.1L1332.7 374.7L1329.2 371.2L1327.2 371.7Z" color="#3aba76"/>
<path d="M1173.3 355.1L1176.7 350.5L1180.1 346L1182.2 345.1L1184.3 344.2L1180.9 348.7L1177.5 353.3L1175.4 354.2Z" color="#5cc863"/>
<path d="M1290 330.3L1293.5 335L1297 339.7L1299.1 339.2L1301.1 338.7L1297.6 334L1294.1 329.4L1292.1 329.8Z" color="#75d054"/>
<path d="M1398.5 471.8L1402 478.8L1405.5 485.9L1407.4 485.3L1409.4 484.7L1405.9 477.6L1402.4 470.6L1400.5 471.2Z" color="#2a778e"/>
<path d="M1120.9 407.3L1124.2 402.7L1127.5 398L1129.7 396.5L1131.8 395.1L1128.5 399.8L1125.1 404.4L1123 405.9Z" color="#24aa83"/>
<path d="M977.7 580.4L980.8 575.9L984 571.4L986.2 568.4L988.4 565.4L985.2 569.9L982 574.4L979.8 577.4Z" color="#472f7d" stroke="none"/>
<path d="M1408.5 501.7L1412 508.9L1415.5 516.1L1417.4 515.4L1419.4 514.7L1415.9 507.5L1412.4 500.3L1410.5 501Z" color="#33638d"/>
<path d="M1023 519.6L1026.3 515.3L1029.5 510.9L1031.7 508.3L1033.9 505.7L1030.6 510L1027.4 514.4L1025.2 517Z" color="#34608d" stroke="none"/>
<path d="M1268.9 306.8L1272.4 309.8L1275.9 313.2L1278 312.7L1280 312.3L1276.5 308.8L1273 305.9L1271 306.3Z" color="#a2da37"/>
<path d="M1147.1 380.4L1150.4 375.6L1153.8 370.8L1155.9 369.7L1158 368.6L1154.7 373.3L1151.3 378.1L1149.2 379.2Z" color="#3bbb75"/>
<path d="M992.8 559.6L996 555.1L999.2 550.7L1001.3 547.8L1003.5 545L1000.3 549.4L997.1 553.8L994.9 556.7Z" color="#424186" stroke="none"/>
<path d="M1283 321.3L1286.5 325.7L1290 330.3L1292.1 329.8L1294.1 329.4L1290.6 324.8L1287.1 320.3L1285 320.8Z" color="#86d549"/>
<path d="M1007.9 539.3L1011.1 534.9L1014.3 530.5L1016.5 527.8L1018.7 525L1015.5 529.4L1012.2 533.8L1010.1 536.5Z" color="#3b518b" stroke="none"/>
<path d="M1332.2 379.2L1335.7 382.5L1339.3 385.8L1341.3 385.3L1343.3 384.7L1339.7 381.5L1336.2 378.1L1334.2 378.6Z" color="#34b679"/>
<path d="M1418.5 531.6L1422 538.5L1425.5 545.1L1427.4 544.4L1429.4 543.7L1425.9 537L1422.4 530.2L1420.5 530.9Z" color="#3d4d8a"/>
<path d="M1275.9 313.2L1279.5 317.1L1283 321.3L1285 320.8L1287.1 320.3L1283.6 316.1L1280 312.3L1278 312.7Z" color="#95d840"/>
<path d="M1079.5 451.8L1082.8 447.4L1086.1 443L1088.2 441L1090.4 439.1L1087.1 443.5L1083.8 447.9L1081.6 449.8Z" color="#228d8d"/>
<path d="M1381.5 432.7L1385 438.3L1388.5 444.3L1390.4 443.7L1392.4 443.1L1388.9 437.2L1385.4 431.5L1383.4 432.1Z" color="#20928c"/>
<path d="M1435.6 571L1439.1 576.3L1441 575.4L1442.9 574.6L1439.4 569.4L1437.5 570.2Z" color="#46307e"/>
<path d="M1339.3 385.8L1342.8 389L1346.3 392.3L1348.3 391.7L1350.3 391.2L1346.8 388L1343.3 384.7L1341.3 385.3Z" color="#2eb37c"/>
<path d="M1346.3 392.3L1349.8 395.5L1353.3 398.8L1355.3 398.3L1357.3 397.8L1353.8 394.4L1350.3 391.2L1348.3 391.7Z" color="#29af7f"/>
<path d="M1184.3 344.2L1187.7 339.8L1191.1 335.6L1193.2 334.8L1195.3 334L1191.9 338.2L1188.5 342.6L1186.4 343.4Z" color="#70cf57"/>
<path d="M1105.6 422.8L1108.9 418.3L1112.2 413.7L1114.4 412L1116.6 410.4L1113.2 415L1109.9 419.5L1107.8 421.2Z" color="#1fa188"/>
<path d="M1064.2 469.1L1067.5 464.7L1070.8 460.3L1073 458.1L1075.1 456L1071.9 460.4L1068.6 464.7L1066.4 466.9Z" color="#26828e"/>
<path d="M1428.6 559.4L1432.1 565.4L1435.6 571L1437.5 570.2L1439.4 569.4L1435.9 563.8L1432.5 557.8L1430.5 558.6Z" color="#453882"/>
<path d="M1374.5 422.4L1378 427.4L1381.5 432.7L1383.4 432.1L1385.4 431.5L1381.9 426.2L1378.4 421.3L1376.4 421.9Z" color="#1f9a8a"/>
<path d="M1250.8 302.6L1254.3 302.8L1257.8 303.8L1259.8 303.3L1261.9 302.8L1258.4 301.8L1254.9 301.6L1252.9 302.1Z" color="#b2dd2d"/>
<path d="M1353.3 398.8L1356.9 402.3L1360.4 405.8L1362.4 405.3L1364.4 404.7L1360.8 401.2L1357.3 397.8L1355.3 398.3Z" color="#25ab82"/>
<path d="M1391.5 458.2L1395 464.9L1398.5 471.8L1400.5 471.2L1402.4 470.6L1398.9 463.7L1395.5 457L1393.5 457.6Z" color="#26828e"/>
<path d="M1367.4 413.6L1370.9 417.9L1374.5 422.4L1376.4 421.9L1378.4 421.3L1374.9 416.8L1371.4 412.5L1369.4 413Z" color="#1fa188"/>
<path d="M1131.8 395.1L1135.1 390.4L1138.5 385.6L1140.6 384.2L1142.8 382.9L1139.4 387.7L1136.1 392.4L1134 393.7Z" color="#2eb37c"/>
<path d="M1360.4 405.8L1363.9 409.6L1367.4 413.6L1369.4 413L1371.4 412.5L1367.9 408.5L1364.4 404.7L1362.4 405.3Z" color="#21a685"/>
<path d="M1158 368.6L1161.4 363.8L1164.8 359.1L1166.9 358L1169 357L1165.7 361.7L1162.3 366.4L1160.2 367.5Z" color="#4ec36b"/>
<path d="M1401.6 487.3L1405 494.4L1408.5 501.7L1410.5 501L1412.4 500.3L1408.9 493.1L1405.5 485.9L1403.5 486.6Z" color="#2e6e8e"/>
<path d="M1411.6 517.5L1415.1 524.6L1418.5 531.6L1420.5 530.9L1422.4 530.2L1418.9 523.2L1415.5 516.1L1413.5 516.8Z" color="#38598c"/>
<path d="M1049 487L1052.3 482.7L1055.6 478.3L1057.7 475.9L1059.9 473.6L1056.6 477.9L1053.4 482.3L1051.2 484.6Z" color="#2a778e" stroke="none"/>
<path d="M1195.3 334L1198.7 330L1202.2 326.1L1204.3 325.4L1206.4 324.7L1203 328.5L1199.5 332.5L1197.4 333.3Z" color="#84d44b"/>
<path d="M973.3 586.4L976.5 581.9L979.6 577.4L981.8 574.4L984 571.4L980.8 575.9L977.7 580.4L975.5 583.4Z" color="#472d7b" stroke="none"/>
<path d="M1033.9 505.7L1037.1 501.3L1040.3 497L1042.5 494.4L1044.7 491.9L1041.4 496.3L1038.2 500.6L1036 503.1Z" color="#2f6b8e" stroke="none"/>
<path d="M1090.4 439.1L1093.7 434.6L1097 430.1L1099.1 428.2L1101.3 426.4L1098 430.9L1094.7 435.3L1092.5 437.2Z" color="#1f978b"/>
<path d="M1421.6 546.7L1425.1 553.2L1428.6 559.4L1430.5 558.6L1432.5 557.8L1429 551.6L1425.5 545.1L1423.6 545.9Z" color="#414487"/>
<path d="M988.4 565.4L991.6 561L994.8 556.6L997 553.6L999.2 550.7L996 555.1L992.8 559.6L990.6 562.5Z" color="#423f85" stroke="none"/>
<path d="M1018.7 525L1021.9 520.7L1025.1 516.3L1027.3 513.6L1029.5 510.9L1026.3 515.3L1023 519.6L1020.9 522.3Z" color="#355e8d" stroke="none"/>
<path d="M1003.5 545L1006.7 540.6L1010 536.2L1012.1 533.4L1014.3 530.5L1011.1 534.9L1007.9 539.3L1005.7 542.1Z" color="#3c4f8a" stroke="none"/>
<path d="M1239.7 305L1243.1 304L1246.6 303.6L1248.7 303.1L1250.8 302.6L1247.3 303L1243.8 304L1241.7 304.5Z" color="#b2dd2d" stroke="none"/>
<path d="M1257.8 303.8L1261.3 305.4L1264.8 307.8L1266.9 307.3L1268.9 306.8L1265.4 304.5L1261.9 302.8L1259.8 303.3Z" color="#b0dd2f"/>
<path d="M1384.5 445.5L1388 451.7L1391.5 458.2L1393.5 457.6L1395.5 457L1392 450.5L1388.5 444.3L1386.5 444.9Z" color="#228b8d"/>
<path d="M1206.4 324.7L1209.8 321.1L1213.3 317.8L1215.4 317.1L1217.5 316.5L1214 319.7L1210.6 323.3L1208.5 324Z" color="#93d741"/>
<path d="M1116.6 410.4L1119.9 405.8L1123.2 401.1L1125.4 399.5L1127.5 398L1124.2 402.7L1120.9 407.3L1118.7 408.8Z" color="#25ab82"/>
<path d="M1300 349.7L1303.5 354L1307.1 358.1L1309.1 357.6L1311.1 357.1L1307.6 353L1304.1 348.7L1302 349.2Z" color="#5cc863"/>
<path d="M1307.1 358.1L1310.6 362.1L1314.1 366L1316.1 365.4L1318.1 364.9L1314.6 361L1311.1 357.1L1309.1 357.6Z" color="#52c569"/>
<path d="M1293 340.7L1296.5 345.3L1300 349.7L1302 349.2L1304.1 348.7L1300.6 344.3L1297 339.7L1295 340.2Z" color="#6ccd5a"/>
<path d="M1314.1 366L1317.6 369.7L1321.1 373.3L1323.2 372.8L1325.2 372.2L1321.7 368.6L1318.1 364.9L1316.1 365.4Z" color="#46c06f"/>
<path d="M1075.1 456L1078.4 451.6L1081.7 447.1L1083.9 445L1086.1 443L1082.8 447.4L1079.5 451.8L1077.3 453.9Z" color="#228d8d"/>
<path d="M1169 357L1172.4 352.4L1175.8 347.9L1177.9 346.9L1180.1 346L1176.7 350.5L1173.3 355.1L1171.2 356Z" color="#60ca60"/>
<path d="M1228.5 309.8L1232 307.7L1235.5 306.1L1237.6 305.6L1239.7 305L1236.2 306.6L1232.7 308.7L1230.6 309.2Z" color="#addc30"/>
<path d="M1217.5 316.5L1220.9 313.5L1224.4 311L1226.5 310.4L1228.5 309.8L1225.1 312.3L1221.6 315.2L1219.6 315.8Z" color="#a2da37"/>
<path d="M1142.8 382.9L1146.1 378.1L1149.5 373.3L1151.6 372.1L1153.8 370.8L1150.4 375.6L1147.1 380.4L1144.9 381.6Z" color="#3dbc74"/>
<path d="M1321.1 373.3L1324.7 376.8L1328.2 380.3L1330.2 379.7L1332.2 379.2L1328.7 375.7L1325.2 372.2L1323.2 372.8Z" color="#3fbc73"/>
<path d="M1285.9 331.3L1289.4 336L1293 340.7L1295 340.2L1297 339.7L1293.5 335L1290 330.3L1288 330.8Z" color="#7ad151"/>
<path d="M1394.6 473.1L1398.1 480.1L1401.6 487.3L1403.5 486.6L1405.5 485.9L1402 478.8L1398.5 471.8L1396.5 472.4Z" color="#29798e"/>
<path d="M1404.6 503.1L1408.1 510.3L1411.6 517.5L1413.5 516.8L1415.5 516.1L1412 508.9L1408.5 501.7L1406.6 502.4Z" color="#32658e"/>
<path d="M1264.8 307.8L1268.3 310.8L1271.8 314.2L1273.9 313.7L1275.9 313.2L1272.4 309.8L1268.9 306.8L1266.9 307.3Z" color="#a8db34"/>
<path d="M1278.9 322.3L1282.4 326.7L1285.9 331.3L1288 330.8L1290 330.3L1286.5 325.7L1283 321.3L1280.9 321.8Z" color="#8bd646"/>
<path d="M1414.6 533.2L1418.1 540L1421.6 546.7L1423.6 545.9L1425.5 545.1L1422 538.5L1418.5 531.6L1416.6 532.4Z" color="#3c4f8a"/>
<path d="M1328.2 380.3L1331.7 383.6L1335.2 386.9L1337.2 386.3L1339.3 385.8L1335.7 382.5L1332.2 379.2L1330.2 379.7Z" color="#37b878"/>
<path d="M1271.8 314.2L1275.4 318.1L1278.9 322.3L1280.9 321.8L1283 321.3L1279.5 317.1L1275.9 313.2L1273.9 313.7Z" color="#9bd93c"/>
<path d="M1059.9 473.6L1063.2 469.2L1066.5 464.8L1068.6 462.5L1070.8 460.3L1067.5 464.7L1064.2 469.1L1062.1 471.3Z" color="#26828e" stroke="none"/>
<path d="M1377.5 433.8L1381 439.5L1384.5 445.5L1386.5 444.9L1388.5 444.3L1385 438.3L1381.5 432.7L1379.5 433.2Z" color="#1f948c"/>
<path d="M1431.7 572.7L1435.2 578L1437.1 577.1L1439.1 576.3L1435.6 571L1433.6 571.8Z" color="#46337f"/>
<path d="M1101.3 426.4L1104.6 421.8L1107.9 417.2L1110.1 415.4L1112.2 413.7L1108.9 418.3L1105.6 422.8L1103.5 424.6Z" color="#1fa188"/>
<path d="M1335.2 386.9L1338.8 390.1L1342.3 393.4L1344.3 392.8L1346.3 392.3L1342.8 389L1339.3 385.8L1337.2 386.3Z" color="#31b57b"/>
<path d="M1044.7 491.9L1048 487.6L1051.2 483.2L1053.4 480.7L1055.6 478.3L1052.3 482.7L1049 487L1046.9 489.4Z" color="#2a768e" stroke="none"/>
<path d="M1180.1 346L1183.5 341.6L1186.9 337.4L1189 336.5L1191.1 335.6L1187.7 339.8L1184.3 344.2L1182.2 345.1Z" color="#75d054"/>
<path d="M968.9 592.5L972.1 588L975.3 583.5L977.4 580.5L979.6 577.4L976.5 581.9L973.3 586.4L971.1 589.4Z" color="#472a7a" stroke="none"/>
<path d="M1342.3 393.4L1345.8 396.6L1349.3 400L1351.3 399.4L1353.3 398.8L1349.8 395.5L1346.3 392.3L1344.3 392.8Z" color="#2cb17e"/>
<path d="M1424.7 561.1L1428.2 567.1L1431.7 572.7L1433.6 571.8L1435.6 571L1432.1 565.4L1428.6 559.4L1426.6 560.3Z" color="#443a83"/>
<path d="M1029.5 510.9L1032.7 506.6L1036 502.2L1038.2 499.6L1040.3 497L1037.1 501.3L1033.9 505.7L1031.7 508.3Z" color="#306a8e" stroke="none"/>
<path d="M984 571.4L987.2 567L990.4 562.6L992.6 559.6L994.8 556.6L991.6 561L988.4 565.4L986.2 568.4Z" color="#433d84" stroke="none"/>
<path d="M1127.5 398L1130.9 393.3L1134.2 388.5L1136.3 387L1138.5 385.6L1135.1 390.4L1131.8 395.1L1129.7 396.5Z" color="#2fb47c"/>
<path d="M1370.5 423.6L1374 428.5L1377.5 433.8L1379.5 433.2L1381.5 432.7L1378 427.4L1374.5 422.4L1372.5 423Z" color="#1e9c89"/>
<path d="M999.2 550.7L1002.4 546.3L1005.6 542L1007.8 539.1L1010 536.2L1006.7 540.6L1003.5 545L1001.3 547.8Z" color="#3d4d8a" stroke="none"/>
<path d="M1014.3 530.5L1017.5 526.2L1020.8 521.8L1023 519.1L1025.1 516.3L1021.9 520.7L1018.7 525L1016.5 527.8Z" color="#365c8d" stroke="none"/>
<path d="M1246.6 303.6L1250.1 303.8L1253.6 304.8L1255.7 304.3L1257.8 303.8L1254.3 302.8L1250.8 302.6L1248.7 303.1Z" color="#b8de29"/>
<path d="M1153.8 370.8L1157.1 366.1L1160.5 361.4L1162.6 360.2L1164.8 359.1L1161.4 363.8L1158 368.6L1155.9 369.7Z" color="#50c46a"/>
<path d="M1349.3 400L1352.9 403.4L1356.4 407L1358.4 406.4L1360.4 405.8L1356.9 402.3L1353.3 398.8L1351.3 399.4Z" color="#26ad81"/>
<path d="M1387.6 459.5L1391.1 466.2L1394.6 473.1L1396.5 472.4L1398.5 471.8L1395 464.9L1391.5 458.2L1389.6 458.8Z" color="#25838e"/>
<path d="M1086.1 443L1089.4 438.5L1092.7 434L1094.8 432L1097 430.1L1093.7 434.6L1090.4 439.1L1088.2 441Z" color="#1f978b"/>
<path d="M1363.5 414.7L1367 419L1370.5 423.6L1372.5 423L1374.5 422.4L1370.9 417.9L1367.4 413.6L1365.4 414.2Z" color="#1fa287"/>
<path d="M1356.4 407L1359.9 410.7L1363.5 414.7L1365.4 414.2L1367.4 413.6L1363.9 409.6L1360.4 405.8L1358.4 406.4Z" color="#22a884"/>
<path d="M1397.6 488.7L1401.1 495.9L1404.6 503.1L1406.6 502.4L1408.5 501.7L1405 494.4L1401.6 487.3L1399.6 487.9Z" color="#2d718e"/>
<path d="M1407.7 519L1411.2 526.2L1414.6 533.2L1416.6 532.4L1418.5 531.6L1415.1 524.6L1411.6 517.5L1409.6 518.3Z" color="#375b8d"/>
<path d="M1191.1 335.6L1194.5 331.6L1197.9 327.7L1200.1 326.9L1202.2 326.1L1198.7 330L1195.3 334L1193.2 334.8Z" color="#86d549"/>
<path d="M1417.7 548.4L1421.2 554.9L1424.7 561.1L1426.6 560.3L1428.6 559.4L1425.1 553.2L1421.6 546.7L1419.7 547.5Z" color="#404688"/>
<path d="M1070.8 460.3L1074.1 455.9L1077.4 451.4L1079.6 449.3L1081.7 447.1L1078.4 451.6L1075.1 456L1073 458.1Z" color="#228c8d"/>
<path d="M1112.2 413.7L1115.6 409.1L1118.9 404.4L1121.1 402.7L1123.2 401.1L1119.9 405.8L1116.6 410.4L1114.4 412Z" color="#25ab82"/>
<path d="M1235.5 306.1L1239 305.1L1242.5 304.7L1244.6 304.1L1246.6 303.6L1243.1 304L1239.7 305L1237.6 305.6Z" color="#b8de29" stroke="none"/>
<path d="M1202.2 326.1L1205.6 322.5L1209 319.3L1211.2 318.5L1213.3 317.8L1209.8 321.1L1206.4 324.7L1204.3 325.4Z" color="#98d83e"/>
<path d="M1253.6 304.8L1257.1 306.5L1260.7 308.9L1262.7 308.3L1264.8 307.8L1261.3 305.4L1257.8 303.8L1255.7 304.3Z" color="#b5de2b"/>
<path d="M1380.6 446.7L1384.1 453L1387.6 459.5L1389.6 458.8L1391.5 458.2L1388 451.7L1384.5 445.5L1382.6 446.1Z" color="#218e8d"/>
<path d="M1164.8 359.1L1168.2 354.5L1171.5 350L1173.7 348.9L1175.8 347.9L1172.4 352.4L1169 357L1166.9 358Z" color="#63cb5f"/>
<path d="M1138.5 385.6L1141.8 380.8L1145.2 376L1147.3 374.6L1149.5 373.3L1146.1 378.1L1142.8 382.9L1140.6 384.2Z" color="#3fbc73"/>
<path d="M1055.6 478.3L1058.8 473.9L1062.1 469.5L1064.3 467.2L1066.5 464.8L1063.2 469.2L1059.9 473.6L1057.7 475.9Z" color="#26818e" stroke="none"/>
<path d="M1295.9 350.9L1299.5 355.1L1303 359.3L1305 358.7L1307.1 358.1L1303.5 354L1300 349.7L1298 350.3Z" color="#63cb5f"/>
<path d="M1303 359.3L1306.5 363.2L1310 367.1L1312.1 366.5L1314.1 366L1310.6 362.1L1307.1 358.1L1305 358.7Z" color="#56c667"/>
<path d="M1288.9 341.8L1292.4 346.4L1295.9 350.9L1298 350.3L1300 349.7L1296.5 345.3L1293 340.7L1290.9 341.3Z" color="#70cf57"/>
<path d="M1310 367.1L1313.6 370.8L1317.1 374.4L1319.1 373.9L1321.1 373.3L1317.6 369.7L1314.1 366L1312.1 366.5Z" color="#4cc26c"/>
<path d="M964.5 598.6L967.7 594.1L970.9 589.7L973.1 586.6L975.3 583.5L972.1 588L968.9 592.5L966.7 595.5Z" color="#482677" stroke="none"/>
<path d="M1224.4 311L1227.8 308.9L1231.3 307.4L1233.4 306.7L1235.5 306.1L1232 307.7L1228.5 309.8L1226.5 310.4Z" color="#b2dd2d"/>
<path d="M1213.3 317.8L1216.7 314.9L1220.2 312.3L1222.3 311.7L1224.4 311L1220.9 313.5L1217.5 316.5L1215.4 317.1Z" color="#a8db34"/>
<path d="M1040.3 497L1043.6 492.6L1046.9 488.3L1049.1 485.7L1051.2 483.2L1048 487.6L1044.7 491.9L1042.5 494.4Z" color="#2b758e" stroke="none"/>
<path d="M1317.1 374.4L1320.6 378L1324.2 381.4L1326.2 380.8L1328.2 380.3L1324.7 376.8L1321.1 373.3L1319.1 373.9Z" color="#42be71"/>
<path d="M1281.8 332.4L1285.4 337.1L1288.9 341.8L1290.9 341.3L1293 340.7L1289.4 336L1285.9 331.3L1283.9 331.9Z" color="#81d34d"/>
<path d="M1390.7 474.5L1394.1 481.5L1397.6 488.7L1399.6 487.9L1401.6 487.3L1398.1 480.1L1394.6 473.1L1392.6 473.8Z" color="#297b8e"/>
<path d="M1097 430.1L1100.3 425.5L1103.6 420.9L1105.8 419.1L1107.9 417.2L1104.6 421.8L1101.3 426.4L1099.1 428.2Z" color="#1fa188"/>
<path d="M979.6 577.4L982.8 573L986 568.6L988.2 565.6L990.4 562.6L987.2 567L984 571.4L981.8 574.4Z" color="#443a83" stroke="none"/>
<path d="M1400.7 504.6L1404.2 511.8L1407.7 519L1409.6 518.3L1411.6 517.5L1408.1 510.3L1404.6 503.1L1402.7 503.8Z" color="#31678e"/>
<path d="M1260.7 308.9L1264.2 311.8L1267.7 315.3L1269.8 314.7L1271.8 314.2L1268.3 310.8L1264.8 307.8L1262.7 308.3Z" color="#addc30"/>
<path d="M1025.1 516.3L1028.4 512L1031.6 507.6L1033.8 504.9L1036 502.2L1032.7 506.6L1029.5 510.9L1027.3 513.6Z" color="#31688e" stroke="none"/>
<path d="M994.8 556.6L998 552.2L1001.2 547.8L1003.4 544.9L1005.6 542L1002.4 546.3L999.2 550.7L997 553.6Z" color="#3e4a89" stroke="none"/>
<path d="M1410.7 534.8L1414.2 541.7L1417.7 548.4L1419.7 547.5L1421.6 546.7L1418.1 540L1414.6 533.2L1412.7 534Z" color="#3b518b"/>
<path d="M1010 536.2L1013.2 531.8L1016.4 527.5L1018.6 524.6L1020.8 521.8L1017.5 526.2L1014.3 530.5L1012.1 533.4Z" color="#375b8d" stroke="none"/>
<path d="M1274.8 323.4L1278.3 327.8L1281.8 332.4L1283.9 331.9L1285.9 331.3L1282.4 326.7L1278.9 322.3L1276.8 322.8Z" color="#90d743"/>
<path d="M1324.2 381.4L1327.7 384.8L1331.2 388.1L1333.2 387.5L1335.2 386.9L1331.7 383.6L1328.2 380.3L1326.2 380.8Z" color="#3aba76"/>
<path d="M1267.7 315.3L1271.2 319.1L1274.8 323.4L1276.8 322.8L1278.9 322.3L1275.4 318.1L1271.8 314.2L1269.8 314.7Z" color="#a0da39"/>
<path d="M1427.8 574.5L1431.3 579.8L1433.3 578.9L1435.2 578L1431.7 572.7L1429.8 573.6Z" color="#453581"/>
<path d="M1373.6 435.1L1377.1 440.7L1380.6 446.7L1382.6 446.1L1384.5 445.5L1381 439.5L1377.5 433.8L1375.5 434.4Z" color="#1f968b"/>
<path d="M1331.2 388.1L1334.7 391.3L1338.3 394.6L1340.3 394L1342.3 393.4L1338.8 390.1L1335.2 386.9L1333.2 387.5Z" color="#34b679"/>
<path d="M1123.2 401.1L1126.6 396.3L1129.9 391.6L1132 390L1134.2 388.5L1130.9 393.3L1127.5 398L1125.4 399.5Z" color="#2fb47c"/>
<path d="M1175.8 347.9L1179.2 343.5L1182.6 339.3L1184.7 338.3L1186.9 337.4L1183.5 341.6L1180.1 346L1177.9 346.9Z" color="#77d153"/>
<path d="M1081.7 447.1L1085 442.6L1088.3 438.1L1090.5 436L1092.7 434L1089.4 438.5L1086.1 443L1083.9 445Z" color="#1f968b"/>
<path d="M1420.8 562.9L1424.3 568.9L1427.8 574.5L1429.8 573.6L1431.7 572.7L1428.2 567.1L1424.7 561.1L1422.8 562Z" color="#433d84"/>
<path d="M1149.5 373.3L1152.9 368.6L1156.2 363.9L1158.4 362.6L1160.5 361.4L1157.1 366.1L1153.8 370.8L1151.6 372.1Z" color="#52c569"/>
<path d="M1338.3 394.6L1341.8 397.8L1345.3 401.1L1347.3 400.5L1349.3 400L1345.8 396.6L1342.3 393.4L1340.3 394Z" color="#2eb37c"/>
<path d="M1366.5 424.8L1370 429.8L1373.6 435.1L1375.5 434.4L1377.5 433.8L1374 428.5L1370.5 423.6L1368.5 424.2Z" color="#1f9f88"/>
<path d="M1242.5 304.7L1246 305L1249.5 305.9L1251.6 305.3L1253.6 304.8L1250.1 303.8L1246.6 303.6L1244.6 304.1Z" color="#bddf26"/>
<path d="M1066.5 464.8L1069.8 460.4L1073 456L1075.2 453.7L1077.4 451.4L1074.1 455.9L1070.8 460.3L1068.6 462.5Z" color="#228b8d" stroke="none"/>
<path d="M1345.3 401.1L1348.9 404.6L1352.4 408.2L1354.4 407.6L1356.4 407L1352.9 403.4L1349.3 400L1347.3 400.5Z" color="#28ae80"/>
<path d="M1383.6 460.9L1387.1 467.6L1390.7 474.5L1392.6 473.8L1394.6 473.1L1391.1 466.2L1387.6 459.5L1385.6 460.2Z" color="#25858e"/>
<path d="M1359.5 416L1363 420.2L1366.5 424.8L1368.5 424.2L1370.5 423.6L1367 419L1363.5 414.7L1361.5 415.3Z" color="#21a585"/>
<path d="M1352.4 408.2L1355.9 412L1359.5 416L1361.5 415.3L1363.5 414.7L1359.9 410.7L1356.4 407L1354.4 407.6Z" color="#24aa83"/>
<path d="M1393.7 490.1L1397.2 497.4L1400.7 504.6L1402.7 503.8L1404.6 503.1L1401.1 495.9L1397.6 488.7L1395.7 489.4Z" color="#2c728e"/>
<path d="M1403.7 520.7L1407.2 527.8L1410.7 534.8L1412.7 534L1414.6 533.2L1411.2 526.2L1407.7 519L1405.7 519.8Z" color="#365d8d"/>
<path d="M1107.9 417.2L1111.3 412.6L1114.6 407.9L1116.8 406.1L1118.9 404.4L1115.6 409.1L1112.2 413.7L1110.1 415.4Z" color="#25ab82"/>
<path d="M1186.9 337.4L1190.3 333.3L1193.7 329.5L1195.8 328.6L1197.9 327.7L1194.5 331.6L1191.1 335.6L1189 336.5Z" color="#8bd646"/>
<path d="M960.1 604.8L963.3 600.3L966.5 595.8L968.7 592.7L970.9 589.7L967.7 594.1L964.5 598.6L962.3 601.7Z" color="#482475" stroke="none"/>
<path d="M1051.2 483.2L1054.5 478.8L1057.8 474.4L1060 472L1062.1 469.5L1058.8 473.9L1055.6 478.3L1053.4 480.7Z" color="#27808e" stroke="none"/>
<path d="M975.3 583.5L978.4 579.1L981.6 574.7L983.8 571.6L986 568.6L982.8 573L979.6 577.4L977.4 580.5Z" color="#453781" stroke="none"/>
<path d="M1413.8 550.2L1417.3 556.7L1420.8 562.9L1422.8 562L1424.7 561.1L1421.2 554.9L1417.7 548.4L1415.8 549.3Z" color="#3f4889"/>
<path d="M1036 502.2L1039.3 497.9L1042.5 493.5L1044.7 490.9L1046.9 488.3L1043.6 492.6L1040.3 497L1038.2 499.6Z" color="#2c738e" stroke="none"/>
<path d="M990.4 562.6L993.6 558.2L996.8 553.8L999 550.8L1001.2 547.8L998 552.2L994.8 556.6L992.6 559.6Z" color="#3f4889" stroke="none"/>
<path d="M1020.8 521.8L1024 517.5L1027.3 513.1L1029.5 510.4L1031.6 507.6L1028.4 512L1025.1 516.3L1023 519.1Z" color="#31678e" stroke="none"/>
<path d="M1005.6 542L1008.8 537.6L1012 533.3L1014.2 530.4L1016.4 527.5L1013.2 531.8L1010 536.2L1007.8 539.1Z" color="#38598c" stroke="none"/>
<path d="M1134.2 388.5L1137.6 383.7L1140.9 378.9L1143.1 377.4L1145.2 376L1141.8 380.8L1138.5 385.6L1136.3 387Z" color="#40bd72"/>
<path d="M1231.3 307.4L1234.8 306.3L1238.3 305.9L1240.4 305.3L1242.5 304.7L1239 305.1L1235.5 306.1L1233.4 306.7Z" color="#bddf26" stroke="none"/>
<path d="M1160.5 361.4L1163.9 356.8L1167.3 352.3L1169.4 351.1L1171.5 350L1168.2 354.5L1164.8 359.1L1162.6 360.2Z" color="#65cb5e"/>
<path d="M1197.9 327.7L1201.4 324.1L1204.8 320.9L1206.9 320L1209 319.3L1205.6 322.5L1202.2 326.1L1200.1 326.9Z" color="#9dd93b"/>
<path d="M1092.7 434L1096 429.5L1099.3 424.9L1101.5 422.9L1103.6 420.9L1100.3 425.5L1097 430.1L1094.8 432Z" color="#1fa188"/>
<path d="M1249.5 305.9L1253 307.6L1256.5 310L1258.6 309.4L1260.7 308.9L1257.1 306.5L1253.6 304.8L1251.6 305.3Z" color="#bddf26"/>
<path d="M1376.6 448.1L1380.1 454.3L1383.6 460.9L1385.6 460.2L1387.6 459.5L1384.1 453L1380.6 446.7L1378.6 447.4Z" color="#21908d"/>
<path d="M1291.8 352.1L1295.4 356.3L1298.9 360.5L1300.9 359.9L1303 359.3L1299.5 355.1L1295.9 350.9L1293.9 351.4Z" color="#67cc5c"/>
<path d="M1298.9 360.5L1302.4 364.5L1306 368.3L1308 367.7L1310 367.1L1306.5 363.2L1303 359.3L1300.9 359.9Z" color="#5ac864"/>
<path d="M1284.8 343L1288.3 347.6L1291.8 352.1L1293.9 351.4L1295.9 350.9L1292.4 346.4L1288.9 341.8L1286.8 342.4Z" color="#75d054"/>
<path d="M1306 368.3L1309.5 372L1313 375.7L1315.1 375.1L1317.1 374.4L1313.6 370.8L1310 367.1L1308 367.7Z" color="#50c46a"/>
<path d="M1220.2 312.3L1223.6 310.3L1227.1 308.7L1229.2 308L1231.3 307.4L1227.8 308.9L1224.4 311L1222.3 311.7Z" color="#b8de29" stroke="none"/>
<path d="M1209 319.3L1212.5 316.3L1216 313.8L1218.1 313L1220.2 312.3L1216.7 314.9L1213.3 317.8L1211.2 318.5Z" color="#addc30"/>
<path d="M1313 375.7L1316.6 379.2L1320.1 382.7L1322.1 382L1324.2 381.4L1320.6 378L1317.1 374.4L1315.1 375.1Z" color="#46c06f"/>
<path d="M1386.7 476L1390.2 483L1393.7 490.1L1395.7 489.4L1397.6 488.7L1394.1 481.5L1390.7 474.5L1388.7 475.2Z" color="#287d8e"/>
<path d="M1277.7 333.6L1281.2 338.3L1284.8 343L1286.8 342.4L1288.9 341.8L1285.4 337.1L1281.8 332.4L1279.8 333Z" color="#86d549"/>
<path d="M1396.8 506.2L1400.3 513.5L1403.7 520.7L1405.7 519.8L1407.7 519L1404.2 511.8L1400.7 504.6L1398.7 505.4Z" color="#30698e"/>
<path d="M1077.4 451.4L1080.7 447L1084 442.5L1086.2 440.3L1088.3 438.1L1085 442.6L1081.7 447.1L1079.6 449.3Z" color="#1f968b"/>
<path d="M1406.8 536.6L1410.3 543.5L1413.8 550.2L1415.8 549.3L1417.7 548.4L1414.2 541.7L1410.7 534.8L1408.8 535.7Z" color="#3a538b"/>
<path d="M1256.5 310L1260 312.9L1263.6 316.4L1265.6 315.8L1267.7 315.3L1264.2 311.8L1260.7 308.9L1258.6 309.4Z" color="#b2dd2d"/>
<path d="M1118.9 404.4L1122.2 399.6L1125.6 394.8L1127.7 393.2L1129.9 391.6L1126.6 396.3L1123.2 401.1L1121.1 402.7Z" color="#31b57b"/>
<path d="M1270.6 324.5L1274.2 329L1277.7 333.6L1279.8 333L1281.8 332.4L1278.3 327.8L1274.8 323.4L1272.7 323.9Z" color="#95d840"/>
<path d="M1320.1 382.7L1323.6 386L1327.2 389.3L1329.2 388.7L1331.2 388.1L1327.7 384.8L1324.2 381.4L1322.1 382Z" color="#3fbc73"/>
<path d="M1423.9 576.5L1427.4 581.8L1429.4 580.8L1431.3 579.8L1427.8 574.5L1425.9 575.5Z" color="#453781"/>
<path d="M1263.6 316.4L1267.1 320.3L1270.6 324.5L1272.7 323.9L1274.8 323.4L1271.2 319.1L1267.7 315.3L1265.6 315.8Z" color="#a8db34"/>
<path d="M1369.6 436.4L1373.1 442.1L1376.6 448.1L1378.6 447.4L1380.6 446.7L1377.1 440.7L1373.6 435.1L1371.6 435.7Z" color="#1f988b"/>
<path d="M1171.5 350L1175 345.6L1178.4 341.4L1180.5 340.3L1182.6 339.3L1179.2 343.5L1175.8 347.9L1173.7 348.9Z" color="#7ad151"/>
<path d="M1062.1 469.5L1065.4 465.1L1068.7 460.7L1070.9 458.3L1073 456L1069.8 460.4L1066.5 464.8L1064.3 467.2Z" color="#228b8d" stroke="none"/>
<path d="M1327.2 389.3L1330.7 392.6L1334.2 395.8L1336.3 395.2L1338.3 394.6L1334.7 391.3L1331.2 388.1L1329.2 388.7Z" color="#37b878"/>
<path d="M1145.2 376L1148.6 371.3L1151.9 366.6L1154.1 365.2L1156.2 363.9L1152.9 368.6L1149.5 373.3L1147.3 374.6Z" color="#54c568"/>
<path d="M970.9 589.7L974 585.2L977.2 580.8L979.4 577.8L981.6 574.7L978.4 579.1L975.3 583.5L973.1 586.6Z" color="#463480" stroke="none"/>
<path d="M1416.9 564.9L1420.4 570.9L1423.9 576.5L1425.9 575.5L1427.8 574.5L1424.3 568.9L1420.8 562.9L1418.9 563.9Z" color="#423f85"/>
<path d="M1046.9 488.3L1050.1 483.9L1053.4 479.5L1055.6 477L1057.8 474.4L1054.5 478.8L1051.2 483.2L1049.1 485.7Z" color="#277f8e" stroke="none"/>
<path d="M1334.2 395.8L1337.8 399.1L1341.3 402.4L1343.3 401.8L1345.3 401.1L1341.8 397.8L1338.3 394.6L1336.3 395.2Z" color="#31b57b"/>
<path d="M986 568.6L989.2 564.2L992.5 559.9L994.6 556.8L996.8 553.8L993.6 558.2L990.4 562.6L988.2 565.6Z" color="#404688" stroke="none"/>
<path d="M1103.6 420.9L1106.9 416.3L1110.3 411.6L1112.4 409.7L1114.6 407.9L1111.3 412.6L1107.9 417.2L1105.8 419.1Z" color="#25ab82"/>
<path d="M1031.6 507.6L1034.9 503.3L1038.2 498.9L1040.3 496.2L1042.5 493.5L1039.3 497.9L1036 502.2L1033.8 504.9Z" color="#2c728e" stroke="none"/>
<path d="M1362.5 426.1L1366.1 431.1L1369.6 436.4L1371.6 435.7L1373.6 435.1L1370 429.8L1366.5 424.8L1364.5 425.5Z" color="#1fa188"/>
<path d="M1001.2 547.8L1004.4 543.5L1007.7 539.2L1009.9 536.2L1012 533.3L1008.8 537.6L1005.6 542L1003.4 544.9Z" color="#39568c" stroke="none"/>
<path d="M1238.3 305.9L1241.8 306.2L1245.3 307.1L1247.4 306.5L1249.5 305.9L1246 305L1242.5 304.7L1240.4 305.3Z" color="#c2df23"/>
<path d="M1016.4 527.5L1019.7 523.2L1022.9 518.8L1025.1 516L1027.3 513.1L1024 517.5L1020.8 521.8L1018.6 524.6Z" color="#32658e" stroke="none"/>
<path d="M1379.7 462.3L1383.2 469L1386.7 476L1388.7 475.2L1390.7 474.5L1387.1 467.6L1383.6 460.9L1381.7 461.6Z" color="#24878e"/>
<path d="M1341.3 402.4L1344.9 405.9L1348.4 409.5L1350.4 408.8L1352.4 408.2L1348.9 404.6L1345.3 401.1L1343.3 401.8Z" color="#2cb17e"/>
<path d="M1399.8 522.4L1403.3 529.6L1406.8 536.6L1408.8 535.7L1410.7 534.8L1407.2 527.8L1403.7 520.7L1401.8 521.5Z" color="#355f8d"/>
<path d="M1355.5 417.3L1359 421.5L1362.5 426.1L1364.5 425.5L1366.5 424.8L1363 420.2L1359.5 416L1357.5 416.6Z" color="#22a785"/>
<path d="M1389.8 491.8L1393.3 499L1396.8 506.2L1398.7 505.4L1400.7 504.6L1397.2 497.4L1393.7 490.1L1391.7 490.9Z" color="#2b748e"/>
<path d="M1182.6 339.3L1186 335.3L1189.5 331.4L1191.6 330.4L1193.7 329.5L1190.3 333.3L1186.9 337.4L1184.7 338.3Z" color="#8ed645"/>
<path d="M1348.4 409.5L1351.9 413.2L1355.5 417.3L1357.5 416.6L1359.5 416L1355.9 412L1352.4 408.2L1350.4 408.8Z" color="#26ad81"/>
<path d="M1088.3 438.1L1091.6 433.6L1095 429L1097.1 426.9L1099.3 424.9L1096 429.5L1092.7 434L1090.5 436Z" color="#1fa188"/>
<path d="M1129.9 391.6L1133.2 386.8L1136.6 382L1138.8 380.4L1140.9 378.9L1137.6 383.7L1134.2 388.5L1132 390Z" color="#40bd72"/>
<path d="M1409.9 552.1L1413.4 558.6L1416.9 564.9L1418.9 563.9L1420.8 562.9L1417.3 556.7L1413.8 550.2L1411.8 551.2Z" color="#3e4989"/>
<path d="M1156.2 363.9L1159.6 359.3L1163 354.8L1165.1 353.5L1167.3 352.3L1163.9 356.8L1160.5 361.4L1158.4 362.6Z" color="#67cc5c"/>
<path d="M1227.1 308.7L1230.6 307.7L1234.1 307.3L1236.2 306.6L1238.3 305.9L1234.8 306.3L1231.3 307.4L1229.2 308Z" color="#c2df23" stroke="none"/>
<path d="M1193.7 329.5L1197.1 325.9L1200.6 322.6L1202.7 321.7L1204.8 320.9L1201.4 324.1L1197.9 327.7L1195.8 328.6Z" color="#a2da37"/>
<path d="M1073 456L1076.3 451.5L1079.7 447L1081.8 444.7L1084 442.5L1080.7 447L1077.4 451.4L1075.2 453.7Z" color="#1f958b" stroke="none"/>
<path d="M1245.3 307.1L1248.8 308.8L1252.4 311.2L1254.4 310.6L1256.5 310L1253 307.6L1249.5 305.9L1247.4 306.5Z" color="#c2df23"/>
<path d="M1372.6 449.5L1376.2 455.8L1379.7 462.3L1381.7 461.6L1383.6 460.9L1380.1 454.3L1376.6 448.1L1374.6 448.8Z" color="#20928c"/>
<path d="M1287.7 353.3L1291.3 357.6L1294.8 361.8L1296.9 361.1L1298.9 360.5L1295.4 356.3L1291.8 352.1L1289.8 352.7Z" color="#6ccd5a"/>
<path d="M1294.8 361.8L1298.4 365.8L1301.9 369.6L1303.9 369L1306 368.3L1302.4 364.5L1298.9 360.5L1296.9 361.1Z" color="#5ec962"/>
<path d="M1204.8 320.9L1208.3 317.9L1211.7 315.4L1213.9 314.6L1216 313.8L1212.5 316.3L1209 319.3L1206.9 320Z" color="#b2dd2d"/>
<path d="M1216 313.8L1219.4 311.7L1222.9 310.1L1225 309.4L1227.1 308.7L1223.6 310.3L1220.2 312.3L1218.1 313Z" color="#bddf26" stroke="none"/>
<path d="M1280.7 344.3L1284.2 348.9L1287.7 353.3L1289.8 352.7L1291.8 352.1L1288.3 347.6L1284.8 343L1282.7 343.6Z" color="#7ad151"/>
<path d="M1301.9 369.6L1305.4 373.4L1309 377L1311 376.3L1313 375.7L1309.5 372L1306 368.3L1303.9 369Z" color="#54c568"/>
<path d="M1114.6 407.9L1117.9 403.1L1121.3 398.3L1123.4 396.6L1125.6 394.8L1122.2 399.6L1118.9 404.4L1116.8 406.1Z" color="#31b57b"/>
<path d="M966.5 595.8L969.6 591.4L972.8 587L975 583.9L977.2 580.8L974 585.2L970.9 589.7L968.7 592.7Z" color="#46327e" stroke="none"/>
<path d="M1057.8 474.4L1061.1 470L1064.4 465.6L1066.5 463.1L1068.7 460.7L1065.4 465.1L1062.1 469.5L1060 472Z" color="#23898e" stroke="none"/>
<path d="M1392.8 508L1396.3 515.2L1399.8 522.4L1401.8 521.5L1403.7 520.7L1400.3 513.5L1396.8 506.2L1394.8 507.1Z" color="#2f6b8e"/>
<path d="M1382.7 477.5L1386.2 484.6L1389.8 491.8L1391.7 490.9L1393.7 490.1L1390.2 483L1386.7 476L1384.7 476.7Z" color="#277f8e"/>
<path d="M1309 377L1312.5 380.5L1316 384L1318.1 383.3L1320.1 382.7L1316.6 379.2L1313 375.7L1311 376.3Z" color="#4ac16d"/>
<path d="M981.6 574.7L984.8 570.3L988.1 566L990.3 562.9L992.5 559.9L989.2 564.2L986 568.6L983.8 571.6Z" color="#414487" stroke="none"/>
<path d="M1273.6 334.9L1277.1 339.6L1280.7 344.3L1282.7 343.6L1284.8 343L1281.2 338.3L1277.7 333.6L1275.6 334.2Z" color="#8bd646"/>
<path d="M1042.5 493.5L1045.8 489.2L1049.1 484.8L1051.2 482.1L1053.4 479.5L1050.1 483.9L1046.9 488.3L1044.7 490.9Z" color="#287d8e" stroke="none"/>
<path d="M1402.9 538.5L1406.4 545.4L1409.9 552.1L1411.8 551.2L1413.8 550.2L1410.3 543.5L1406.8 536.6L1404.8 537.6Z" color="#39558c"/>
<path d="M996.8 553.8L1000.1 549.5L1003.3 545.1L1005.5 542.1L1007.7 539.2L1004.4 543.5L1001.2 547.8L999 550.8Z" color="#3a538b" stroke="none"/>
<path d="M1252.4 311.2L1255.9 314.2L1259.4 317.6L1261.5 317L1263.6 316.4L1260 312.9L1256.5 310L1254.4 310.6Z" color="#bade28"/>
<path d="M1027.3 513.1L1030.5 508.8L1033.8 504.4L1036 501.7L1038.2 498.9L1034.9 503.3L1031.6 507.6L1029.5 510.4Z" color="#2d718e" stroke="none"/>
<path d="M1012 533.3L1015.3 528.9L1018.5 524.6L1020.7 521.7L1022.9 518.8L1019.7 523.2L1016.4 527.5L1014.2 530.4Z" color="#33638d" stroke="none"/>
<path d="M1420 578.6L1423.5 583.9L1425.5 582.9L1427.4 581.8L1423.9 576.5L1422 577.6Z" color="#443983"/>
<path d="M1266.5 325.7L1270 330.2L1273.6 334.9L1275.6 334.2L1277.7 333.6L1274.2 329L1270.6 324.5L1268.6 325.1Z" color="#9bd93c"/>
<path d="M1316 384L1319.6 387.4L1323.1 390.7L1325.1 390L1327.2 389.3L1323.6 386L1320.1 382.7L1318.1 383.3Z" color="#42be71"/>
<path d="M1167.3 352.3L1170.7 347.9L1174.1 343.7L1176.2 342.5L1178.4 341.4L1175 345.6L1171.5 350L1169.4 351.1Z" color="#7cd250"/>
<path d="M1140.9 378.9L1144.3 374.1L1147.7 369.4L1149.8 368L1151.9 366.6L1148.6 371.3L1145.2 376L1143.1 377.4Z" color="#54c568"/>
<path d="M1259.4 317.6L1263 321.5L1266.5 325.7L1268.6 325.1L1270.6 324.5L1267.1 320.3L1263.6 316.4L1261.5 317Z" color="#addc30"/>
<path d="M1365.6 437.8L1369.1 443.5L1372.6 449.5L1374.6 448.8L1376.6 448.1L1373.1 442.1L1369.6 436.4L1367.6 437.1Z" color="#1f9a8a"/>
<path d="M1099.3 424.9L1102.6 420.2L1105.9 415.5L1108.1 413.5L1110.3 411.6L1106.9 416.3L1103.6 420.9L1101.5 422.9Z" color="#25ab82"/>
<path d="M1323.1 390.7L1326.7 393.9L1330.2 397.2L1332.2 396.5L1334.2 395.8L1330.7 392.6L1327.2 389.3L1325.1 390Z" color="#3aba76"/>
<path d="M1413 567L1416.5 573L1420 578.6L1422 577.6L1423.9 576.5L1420.4 570.9L1416.9 564.9L1414.9 565.9Z" color="#424086"/>
<path d="M1330.2 397.2L1333.7 400.4L1337.3 403.8L1339.3 403.1L1341.3 402.4L1337.8 399.1L1334.2 395.8L1332.2 396.5Z" color="#34b679"/>
<path d="M1084 442.5L1087.3 437.9L1090.6 433.3L1092.8 431.1L1095 429L1091.6 433.6L1088.3 438.1L1086.2 440.3Z" color="#1fa088"/>
<path d="M1358.5 427.5L1362.1 432.5L1365.6 437.8L1367.6 437.1L1369.6 436.4L1366.1 431.1L1362.5 426.1L1360.5 426.8Z" color="#1fa287"/>
<path d="M1234.1 307.3L1237.6 307.5L1241.1 308.5L1243.2 307.8L1245.3 307.1L1241.8 306.2L1238.3 305.9L1236.2 306.6Z" color="#c8e020"/>
<path d="M1375.7 463.9L1379.2 470.6L1382.7 477.5L1384.7 476.7L1386.7 476L1383.2 469L1379.7 462.3L1377.7 463.1Z" color="#23898e"/>
<path d="M1178.4 341.4L1181.8 337.3L1185.2 333.5L1187.3 332.4L1189.5 331.4L1186 335.3L1182.6 339.3L1180.5 340.3Z" color="#93d741"/>
<path d="M1337.3 403.8L1340.8 407.2L1344.4 410.8L1346.4 410.1L1348.4 409.5L1344.9 405.9L1341.3 402.4L1339.3 403.1Z" color="#2eb37c"/>
<path d="M1125.6 394.8L1128.9 390L1132.3 385.2L1134.5 383.6L1136.6 382L1133.2 386.8L1129.9 391.6L1127.7 393.2Z" color="#40bd72"/>
<path d="M1395.9 524.3L1399.4 531.5L1402.9 538.5L1404.8 537.6L1406.8 536.6L1403.3 529.6L1399.8 522.4L1397.8 523.4Z" color="#34618d"/>
<path d="M1385.8 493.5L1389.3 500.7L1392.8 508L1394.8 507.1L1396.8 506.2L1393.3 499L1389.8 491.8L1387.8 492.6Z" color="#2b758e"/>
<path d="M1351.5 418.6L1355 422.9L1358.5 427.5L1360.5 426.8L1362.5 426.1L1359 421.5L1355.5 417.3L1353.5 417.9Z" color="#23a983"/>
<path d="M1344.4 410.8L1347.9 414.6L1351.5 418.6L1353.5 417.9L1355.5 417.3L1351.9 413.2L1348.4 409.5L1346.4 410.1Z" color="#28ae80"/>
<path d="M1068.7 460.7L1072 456.2L1075.3 451.7L1077.5 449.3L1079.7 447L1076.3 451.5L1073 456L1070.9 458.3Z" color="#1f948c" stroke="none"/>
<path d="M1406 554.2L1409.5 560.7L1413 567L1414.9 565.9L1416.9 564.9L1413.4 558.6L1409.9 552.1L1407.9 553.2Z" color="#3e4c8a"/>
<path d="M1151.9 366.6L1155.3 361.9L1158.7 357.4L1160.9 356.1L1163 354.8L1159.6 359.3L1156.2 363.9L1154.1 365.2Z" color="#69cd5b"/>
<path d="M977.2 580.8L980.4 576.5L983.7 572.1L985.9 569L988.1 566L984.8 570.3L981.6 574.7L979.4 577.8Z" color="#424086" stroke="none"/>
<path d="M1053.4 479.5L1056.7 475.1L1060 470.7L1062.2 468.1L1064.4 465.6L1061.1 470L1057.8 474.4L1055.6 477Z" color="#23888e" stroke="none"/>
<path d="M992.5 559.9L995.7 555.5L998.9 551.2L1001.1 548.1L1003.3 545.1L1000.1 549.5L996.8 553.8L994.6 556.8Z" color="#3b518b" stroke="none"/>
<path d="M1189.5 331.4L1192.9 327.8L1196.3 324.5L1198.5 323.5L1200.6 322.6L1197.1 325.9L1193.7 329.5L1191.6 330.4Z" color="#a5db36"/>
<path d="M1038.2 498.9L1041.4 494.5L1044.7 490.2L1046.9 487.4L1049.1 484.8L1045.8 489.2L1042.5 493.5L1040.3 496.2Z" color="#287c8e" stroke="none"/>
<path d="M1007.7 539.2L1010.9 534.8L1014.2 530.5L1016.3 527.5L1018.5 524.6L1015.3 528.9L1012 533.3L1009.9 536.2Z" color="#34618d" stroke="none"/>
<path d="M1110.3 411.6L1113.6 406.8L1117 402L1119.1 400.2L1121.3 398.3L1117.9 403.1L1114.6 407.9L1112.4 409.7Z" color="#31b57b"/>
<path d="M1022.9 518.8L1026.2 514.5L1029.4 510.1L1031.6 507.3L1033.8 504.4L1030.5 508.8L1027.3 513.1L1025.1 516Z" color="#2e6f8e" stroke="none"/>
<path d="M1222.9 310.1L1226.4 309.1L1229.9 308.7L1232 308L1234.1 307.3L1230.6 307.7L1227.1 308.7L1225 309.4Z" color="#c8e020" stroke="none"/>
<path d="M1241.1 308.5L1244.7 310.2L1248.2 312.5L1250.3 311.9L1252.4 311.2L1248.8 308.8L1245.3 307.1L1243.2 307.8Z" color="#c8e020"/>
<path d="M1368.7 451L1372.2 457.3L1375.7 463.9L1377.7 463.1L1379.7 462.3L1376.2 455.8L1372.6 449.5L1370.7 450.3Z" color="#20938c"/>
<path d="M1283.6 354.7L1287.2 359L1290.7 363.2L1292.8 362.5L1294.8 361.8L1291.3 357.6L1287.7 353.3L1285.7 354Z" color="#70cf57"/>
<path d="M1290.7 363.2L1294.3 367.2L1297.8 371L1299.8 370.3L1301.9 369.6L1298.4 365.8L1294.8 361.8L1292.8 362.5Z" color="#63cb5f"/>
<path d="M1200.6 322.6L1204 319.7L1207.5 317.1L1209.6 316.2L1211.7 315.4L1208.3 317.9L1204.8 320.9L1202.7 321.7Z" color="#b5de2b"/>
<path d="M1211.7 315.4L1215.2 313.3L1218.7 311.7L1220.8 310.9L1222.9 310.1L1219.4 311.7L1216 313.8L1213.9 314.6Z" color="#c2df23" stroke="none"/>
<path d="M1276.5 345.7L1280.1 350.3L1283.6 354.7L1285.7 354L1287.7 353.3L1284.2 348.9L1280.7 344.3L1278.6 344.9Z" color="#7fd34e"/>
<path d="M1297.8 371L1301.3 374.8L1304.9 378.4L1306.9 377.7L1309 377L1305.4 373.4L1301.9 369.6L1299.8 370.3Z" color="#58c765"/>
<path d="M1388.8 509.9L1392.4 517.1L1395.9 524.3L1397.8 523.4L1399.8 522.4L1396.3 515.2L1392.8 508L1390.8 508.9Z" color="#2e6d8e"/>
<path d="M1095 429L1098.3 424.3L1101.6 419.6L1103.8 417.6L1105.9 415.5L1102.6 420.2L1099.3 424.9L1097.1 426.9Z" color="#24aa83"/>
<path d="M1378.8 479.2L1382.3 486.3L1385.8 493.5L1387.8 492.6L1389.8 491.8L1386.2 484.6L1382.7 477.5L1380.8 478.4Z" color="#26818e"/>
<path d="M1398.9 540.6L1402.4 547.5L1406 554.2L1407.9 553.2L1409.9 552.1L1406.4 545.4L1402.9 538.5L1400.9 539.6Z" color="#39568c"/>
<path d="M1136.6 382L1140 377.2L1143.4 372.5L1145.5 370.9L1147.7 369.4L1144.3 374.1L1140.9 378.9L1138.8 380.4Z" color="#56c667"/>
<path d="M1304.9 378.4L1308.4 382L1312 385.4L1314 384.7L1316 384L1312.5 380.5L1309 377L1306.9 377.7Z" color="#4ec36b"/>
<path d="M1269.4 336.2L1273 340.9L1276.5 345.7L1278.6 344.9L1280.7 344.3L1277.1 339.6L1273.6 334.9L1271.5 335.5Z" color="#90d743"/>
<path d="M1163 354.8L1166.4 350.4L1169.8 346.1L1172 344.9L1174.1 343.7L1170.7 347.9L1167.3 352.3L1165.1 353.5Z" color="#7fd34e"/>
<path d="M1416.1 580.9L1419.6 586.2L1421.6 585.1L1423.5 583.9L1420 578.6L1418 579.7Z" color="#443a83"/>
<path d="M1248.2 312.5L1251.7 315.5L1255.3 319L1257.3 318.3L1259.4 317.6L1255.9 314.2L1252.4 311.2L1250.3 311.9Z" color="#bddf26"/>
<path d="M1262.4 327.1L1265.9 331.6L1269.4 336.2L1271.5 335.5L1273.6 334.9L1270 330.2L1266.5 325.7L1264.4 326.4Z" color="#a0da39"/>
<path d="M1312 385.4L1315.5 388.8L1319.1 392.1L1321.1 391.4L1323.1 390.7L1319.6 387.4L1316 384L1314 384.7Z" color="#46c06f"/>
<path d="M1255.3 319L1258.8 322.9L1262.4 327.1L1264.4 326.4L1266.5 325.7L1263 321.5L1259.4 317.6L1257.3 318.3Z" color="#b2dd2d"/>
<path d="M1079.7 447L1083 442.4L1086.3 437.8L1088.5 435.6L1090.6 433.3L1087.3 437.9L1084 442.5L1081.8 444.7Z" color="#1f9f88"/>
<path d="M1361.6 439.3L1365.1 445L1368.7 451L1370.7 450.3L1372.6 449.5L1369.1 443.5L1365.6 437.8L1363.6 438.6Z" color="#1e9c89"/>
<path d="M1319.1 392.1L1322.6 395.4L1326.1 398.6L1328.2 397.9L1330.2 397.2L1326.7 393.9L1323.1 390.7L1321.1 391.4Z" color="#3dbc74"/>
<path d="M1409 569.3L1412.6 575.2L1416.1 580.9L1418 579.7L1420 578.6L1416.5 573L1413 567L1411 568.1Z" color="#414287"/>
<path d="M1064.4 465.6L1067.7 461.1L1071 456.6L1073.1 454.1L1075.3 451.7L1072 456.2L1068.7 460.7L1066.5 463.1Z" color="#20938c" stroke="none"/>
<path d="M972.8 587L976 582.6L979.3 578.3L981.5 575.2L983.7 572.1L980.4 576.5L977.2 580.8L975 583.9Z" color="#433e85" stroke="none"/>
<path d="M1121.3 398.3L1124.6 393.5L1128 388.7L1130.1 387L1132.3 385.2L1128.9 390L1125.6 394.8L1123.4 396.6Z" color="#42be71"/>
<path d="M988.1 566L991.3 561.6L994.5 557.3L996.7 554.2L998.9 551.2L995.7 555.5L992.5 559.9L990.3 562.9Z" color="#3c4f8a" stroke="none"/>
<path d="M1326.1 398.6L1329.7 401.9L1333.2 405.3L1335.3 404.5L1337.3 403.8L1333.7 400.4L1330.2 397.2L1328.2 397.9Z" color="#37b878"/>
<path d="M1049.1 484.8L1052.4 480.4L1055.6 475.9L1057.8 473.3L1060 470.7L1056.7 475.1L1053.4 479.5L1051.2 482.1Z" color="#24878e" stroke="none"/>
<path d="M1174.1 343.7L1177.5 339.6L1180.9 335.8L1183.1 334.6L1185.2 333.5L1181.8 337.3L1178.4 341.4L1176.2 342.5Z" color="#95d840"/>
<path d="M1229.9 308.7L1233.4 309L1236.9 309.9L1239 309.2L1241.1 308.5L1237.6 307.5L1234.1 307.3L1232 308Z" color="#cde11d"/>
<path d="M1354.5 429L1358.1 434L1361.6 439.3L1363.6 438.6L1365.6 437.8L1362.1 432.5L1358.5 427.5L1356.5 428.3Z" color="#20a486"/>
<path d="M1003.3 545.1L1006.5 540.8L1009.8 536.5L1012 533.5L1014.2 530.5L1010.9 534.8L1007.7 539.2L1005.5 542.1Z" color="#355f8d" stroke="none"/>
<path d="M1033.8 504.4L1037.1 500.1L1040.3 495.7L1042.5 492.9L1044.7 490.2L1041.4 494.5L1038.2 498.9L1036 501.7Z" color="#297a8e" stroke="none"/>
<path d="M1018.5 524.6L1021.8 520.3L1025.1 515.9L1027.2 513L1029.4 510.1L1026.2 514.5L1022.9 518.8L1020.7 521.7Z" color="#2e6d8e" stroke="none"/>
<path d="M1371.7 465.6L1375.2 472.3L1378.8 479.2L1380.8 478.4L1382.7 477.5L1379.2 470.6L1375.7 463.9L1373.7 464.7Z" color="#228b8d"/>
<path d="M1391.9 526.4L1395.4 533.6L1398.9 540.6L1400.9 539.6L1402.9 538.5L1399.4 531.5L1395.9 524.3L1393.9 525.4Z" color="#33638d"/>
<path d="M1333.2 405.3L1336.8 408.7L1340.3 412.3L1342.4 411.6L1344.4 410.8L1340.8 407.2L1337.3 403.8L1335.3 404.5Z" color="#31b57b"/>
<path d="M1381.8 495.3L1385.3 502.6L1388.8 509.9L1390.8 508.9L1392.8 508L1389.3 500.7L1385.8 493.5L1383.8 494.4Z" color="#2a778e"/>
<path d="M1147.7 369.4L1151 364.8L1154.4 360.3L1156.6 358.8L1158.7 357.4L1155.3 361.9L1151.9 366.6L1149.8 368Z" color="#6ccd5a"/>
<path d="M1347.4 420.1L1351 424.4L1354.5 429L1356.5 428.3L1358.5 427.5L1355 422.9L1351.5 418.6L1349.4 419.4Z" color="#25ab82"/>
<path d="M1340.3 412.3L1343.9 416.1L1347.4 420.1L1349.4 419.4L1351.5 418.6L1347.9 414.6L1344.4 410.8L1342.4 411.6Z" color="#2ab07f"/>
<path d="M1402 556.5L1405.5 563L1409 569.3L1411 568.1L1413 567L1409.5 560.7L1406 554.2L1404 555.3Z" color="#3d4d8a"/>
<path d="M1105.9 415.5L1109.3 410.8L1112.6 406L1114.8 404L1117 402L1113.6 406.8L1110.3 411.6L1108.1 413.5Z" color="#2fb47c"/>
<path d="M1185.2 333.5L1188.6 329.9L1192.1 326.6L1194.2 325.5L1196.3 324.5L1192.9 327.8L1189.5 331.4L1187.3 332.4Z" color="#a8db34"/>
<path d="M1218.7 311.7L1222.2 310.7L1225.7 310.3L1227.8 309.5L1229.9 308.7L1226.4 309.1L1222.9 310.1L1220.8 310.9Z" color="#cde11d" stroke="none"/>
<path d="M1090.6 433.3L1093.9 428.7L1097.3 424L1099.4 421.8L1101.6 419.6L1098.3 424.3L1095 429L1092.8 431.1Z" color="#24aa83"/>
<path d="M1236.9 309.9L1240.5 311.6L1244 314L1246.1 313.3L1248.2 312.5L1244.7 310.2L1241.1 308.5L1239 309.2Z" color="#cae11f"/>
<path d="M1196.3 324.5L1199.8 321.6L1203.3 319L1205.4 318L1207.5 317.1L1204 319.7L1200.6 322.6L1198.5 323.5Z" color="#bade28"/>
<path d="M1364.7 452.7L1368.2 459L1371.7 465.6L1373.7 464.7L1375.7 463.9L1372.2 457.3L1368.7 451L1366.7 451.9Z" color="#1f958b"/>
<path d="M1132.3 385.2L1135.7 380.5L1139 375.8L1141.2 374.1L1143.4 372.5L1140 377.2L1136.6 382L1134.5 383.6Z" color="#56c667"/>
<path d="M1279.5 356.3L1283 360.6L1286.6 364.7L1288.7 363.9L1290.7 363.2L1287.2 359L1283.6 354.7L1281.6 355.5Z" color="#75d054"/>
<path d="M1286.6 364.7L1290.1 368.7L1293.7 372.6L1295.7 371.8L1297.8 371L1294.3 367.2L1290.7 363.2L1288.7 363.9Z" color="#67cc5c"/>
<path d="M1207.5 317.1L1211 315L1214.5 313.5L1216.6 312.6L1218.7 311.7L1215.2 313.3L1211.7 315.4L1209.6 316.2Z" color="#c5e021" stroke="none"/>
<path d="M1075.3 451.7L1078.6 447.2L1081.9 442.6L1084.1 440.2L1086.3 437.8L1083 442.4L1079.7 447L1077.5 449.3Z" color="#1f9e89" stroke="none"/>
<path d="M1272.4 347.2L1275.9 351.8L1279.5 356.3L1281.6 355.5L1283.6 354.7L1280.1 350.3L1276.5 345.7L1274.5 346.4Z" color="#84d44b"/>
<path d="M1293.7 372.6L1297.2 376.4L1300.8 380L1302.8 379.2L1304.9 378.4L1301.3 374.8L1297.8 371L1295.7 371.8Z" color="#5cc863"/>
<path d="M1158.7 357.4L1162.1 353L1165.5 348.8L1167.7 347.4L1169.8 346.1L1166.4 350.4L1163 354.8L1160.9 356.1Z" color="#81d34d"/>
<path d="M1384.9 511.9L1388.4 519.2L1391.9 526.4L1393.9 525.4L1395.9 524.3L1392.4 517.1L1388.8 509.9L1386.9 510.8Z" color="#2e6e8e"/>
<path d="M1395 542.8L1398.5 549.7L1402 556.5L1404 555.3L1406 554.2L1402.4 547.5L1398.9 540.6L1397 541.7Z" color="#38598c"/>
<path d="M1374.8 481.1L1378.3 488.2L1381.8 495.3L1383.8 494.4L1385.8 493.5L1382.3 486.3L1378.8 479.2L1376.8 480.1Z" color="#26828e"/>
<path d="M1300.8 380L1304.3 383.5L1307.9 387L1309.9 386.2L1312 385.4L1308.4 382L1304.9 378.4L1302.8 379.2Z" color="#52c569"/>
<path d="M1412.1 583.3L1415.7 588.7L1417.6 587.4L1419.6 586.2L1416.1 580.9L1414.1 582.1Z" color="#433d84"/>
<path d="M983.7 572.1L986.9 567.8L990.1 563.4L992.3 560.3L994.5 557.3L991.3 561.6L988.1 566L985.9 569Z" color="#3d4d8a" stroke="none"/>
<path d="M1265.3 337.7L1268.8 342.4L1272.4 347.2L1274.5 346.4L1276.5 345.7L1273 340.9L1269.4 336.2L1267.4 337Z" color="#95d840"/>
<path d="M1060 470.7L1063.3 466.2L1066.6 461.7L1068.8 459.1L1071 456.6L1067.7 461.1L1064.4 465.6L1062.2 468.1Z" color="#20928c" stroke="none"/>
<path d="M1244 314L1247.6 317L1251.1 320.5L1253.2 319.7L1255.3 319L1251.7 315.5L1248.2 312.5L1246.1 313.3Z" color="#c2df23"/>
<path d="M998.9 551.2L1002.1 546.8L1005.4 542.5L1007.6 539.5L1009.8 536.5L1006.5 540.8L1003.3 545.1L1001.1 548.1Z" color="#365d8d" stroke="none"/>
<path d="M1044.7 490.2L1048 485.7L1051.3 481.3L1053.5 478.6L1055.6 475.9L1052.4 480.4L1049.1 484.8L1046.9 487.4Z" color="#25858e" stroke="none"/>
<path d="M1258.2 328.6L1261.7 333.1L1265.3 337.7L1267.4 337L1269.4 336.2L1265.9 331.6L1262.4 327.1L1260.3 327.8Z" color="#a5db36"/>
<path d="M1014.2 530.5L1017.4 526.1L1020.7 521.8L1022.9 518.8L1025.1 515.9L1021.8 520.3L1018.5 524.6L1016.3 527.5Z" color="#2f6b8e" stroke="none"/>
<path d="M1029.4 510.1L1032.7 505.7L1036 501.4L1038.2 498.5L1040.3 495.7L1037.1 500.1L1033.8 504.4L1031.6 507.3Z" color="#2a788e" stroke="none"/>
<path d="M1307.9 387L1311.4 390.4L1315 393.7L1317 392.9L1319.1 392.1L1315.5 388.8L1312 385.4L1309.9 386.2Z" color="#48c16e"/>
<path d="M1251.1 320.5L1254.6 324.4L1258.2 328.6L1260.3 327.8L1262.4 327.1L1258.8 322.9L1255.3 319L1253.2 319.7Z" color="#b5de2b"/>
<path d="M1117 402L1120.3 397.2L1123.7 392.4L1125.8 390.6L1128 388.7L1124.6 393.5L1121.3 398.3L1119.1 400.2Z" color="#40bd72"/>
<path d="M1357.6 441L1361.1 446.7L1364.7 452.7L1366.7 451.9L1368.7 451L1365.1 445L1361.6 439.3L1359.6 440.1Z" color="#1f9e89"/>
<path d="M1405.1 571.7L1408.6 577.7L1412.1 583.3L1414.1 582.1L1416.1 580.9L1412.6 575.2L1409 569.3L1407.1 570.4Z" color="#414487"/>
<path d="M1315 393.7L1318.5 397L1322.1 400.2L1324.1 399.4L1326.1 398.6L1322.6 395.4L1319.1 392.1L1317 392.9Z" color="#40bd72"/>
<path d="M1169.8 346.1L1173.2 342.1L1176.7 338.2L1178.8 337L1180.9 335.8L1177.5 339.6L1174.1 343.7L1172 344.9Z" color="#98d83e"/>
<path d="M1322.1 400.2L1325.6 403.5L1329.2 406.9L1331.2 406L1333.2 405.3L1329.7 401.9L1326.1 398.6L1324.1 399.4Z" color="#3aba76"/>
<path d="M1101.6 419.6L1105 414.9L1108.3 410.1L1110.5 408L1112.6 406L1109.3 410.8L1105.9 415.5L1103.8 417.6Z" color="#2fb47c"/>
<path d="M1143.4 372.5L1146.7 367.9L1150.1 363.3L1152.3 361.8L1154.4 360.3L1151 364.8L1147.7 369.4L1145.5 370.9Z" color="#6ccd5a"/>
<path d="M1225.7 310.3L1229.2 310.5L1232.7 311.5L1234.8 310.7L1236.9 309.9L1233.4 309L1229.9 308.7L1227.8 309.5Z" color="#d2e21b"/>
<path d="M1350.5 430.7L1354 435.6L1357.6 441L1359.6 440.1L1361.6 439.3L1358.1 434L1354.5 429L1352.5 429.8Z" color="#21a685"/>
<path d="M1387.9 528.6L1391.5 535.8L1395 542.8L1397 541.7L1398.9 540.6L1395.4 533.6L1391.9 526.4L1389.9 527.5Z" color="#32648e"/>
<path d="M1367.7 467.4L1371.2 474.1L1374.8 481.1L1376.8 480.1L1378.8 479.2L1375.2 472.3L1371.7 465.6L1369.7 466.4Z" color="#228d8d"/>
<path d="M1377.8 497.3L1381.4 504.6L1384.9 511.9L1386.9 510.8L1388.8 509.9L1385.3 502.6L1381.8 495.3L1379.8 496.3Z" color="#29798e"/>
<path d="M1329.2 406.9L1332.7 410.3L1336.3 413.9L1338.3 413.1L1340.3 412.3L1336.8 408.7L1333.2 405.3L1331.2 406Z" color="#32b67a"/>
<path d="M1398 558.9L1401.6 565.4L1405.1 571.7L1407.1 570.4L1409 569.3L1405.5 563L1402 556.5L1400 557.7Z" color="#3c4f8a"/>
<path d="M1343.4 421.8L1346.9 426.1L1350.5 430.7L1352.5 429.8L1354.5 429L1351 424.4L1347.4 420.1L1345.4 420.9Z" color="#26ad81"/>
<path d="M1336.3 413.9L1339.8 417.7L1343.4 421.8L1345.4 420.9L1347.4 420.1L1343.9 416.1L1340.3 412.3L1338.3 413.1Z" color="#2cb17e"/>
<path d="M1086.3 437.8L1089.6 433.2L1092.9 428.5L1095.1 426.2L1097.3 424L1093.9 428.7L1090.6 433.3L1088.5 435.6Z" color="#23a983"/>
<path d="M1180.9 335.8L1184.4 332.1L1187.8 328.8L1190 327.7L1192.1 326.6L1188.6 329.9L1185.2 333.5L1183.1 334.6Z" color="#addc30"/>
<path d="M979.3 578.3L982.5 573.9L985.7 569.6L987.9 566.5L990.1 563.4L986.9 567.8L983.7 572.1L981.5 575.2Z" color="#3e4989" stroke="none"/>
<path d="M1071 456.6L1074.3 452.1L1077.6 447.5L1079.8 445L1081.9 442.6L1078.6 447.2L1075.3 451.7L1073.1 454.1Z" color="#1e9d89" stroke="none"/>
<path d="M994.5 557.3L997.7 552.9L1001 548.6L1003.2 545.5L1005.4 542.5L1002.1 546.8L998.9 551.2L996.7 554.2Z" color="#375a8c" stroke="none"/>
<path d="M1128 388.7L1131.4 384L1134.7 379.3L1136.9 377.5L1139 375.8L1135.7 380.5L1132.3 385.2L1130.1 387Z" color="#56c667"/>
<path d="M1214.5 313.5L1218 312.4L1221.5 312L1223.6 311.1L1225.7 310.3L1222.2 310.7L1218.7 311.7L1216.6 312.6Z" color="#d0e11c" stroke="none"/>
<path d="M1055.6 475.9L1058.9 471.4L1062.2 466.9L1064.4 464.3L1066.6 461.7L1063.3 466.2L1060 470.7L1057.8 473.3Z" color="#21918c" stroke="none"/>
<path d="M1009.8 536.5L1013 532.1L1016.3 527.8L1018.5 524.8L1020.7 521.8L1017.4 526.1L1014.2 530.5L1012 533.5Z" color="#30698e" stroke="none"/>
<path d="M1040.3 495.7L1043.6 491.3L1046.9 486.8L1049.1 484.1L1051.3 481.3L1048 485.7L1044.7 490.2L1042.5 492.9Z" color="#25838e" stroke="none"/>
<path d="M1025.1 515.9L1028.3 511.5L1031.6 507.1L1033.8 504.2L1036 501.4L1032.7 505.7L1029.4 510.1L1027.2 513Z" color="#2a768e" stroke="none"/>
<path d="M1192.1 326.6L1195.6 323.6L1199 321.1L1201.2 320L1203.3 319L1199.8 321.6L1196.3 324.5L1194.2 325.5Z" color="#bddf26"/>
<path d="M1232.7 311.5L1236.3 313.2L1239.8 315.6L1241.9 314.8L1244 314L1240.5 311.6L1236.9 309.9L1234.8 310.7Z" color="#d0e11c"/>
<path d="M1154.4 360.3L1157.8 355.9L1161.2 351.6L1163.4 350.2L1165.5 348.8L1162.1 353L1158.7 357.4L1156.6 358.8Z" color="#84d44b"/>
<path d="M1360.6 454.5L1364.2 460.8L1367.7 467.4L1369.7 466.4L1371.7 465.6L1368.2 459L1364.7 452.7L1362.7 453.6Z" color="#1f968b"/>
<path d="M1203.3 319L1206.8 316.9L1210.2 315.4L1212.4 314.4L1214.5 313.5L1211 315L1207.5 317.1L1205.4 318Z" color="#cae11f" stroke="none"/>
<path d="M1275.4 357.9L1278.9 362.2L1282.5 366.4L1284.5 365.5L1286.6 364.7L1283 360.6L1279.5 356.3L1277.4 357.1Z" color="#77d153"/>
<path d="M1282.5 366.4L1286 370.4L1289.6 374.3L1291.6 373.4L1293.7 372.6L1290.1 368.7L1286.6 364.7L1284.5 365.5Z" color="#6ccd5a"/>
<path d="M1268.2 348.8L1271.8 353.4L1275.4 357.9L1277.4 357.1L1279.5 356.3L1275.9 351.8L1272.4 347.2L1270.3 348Z" color="#89d548"/>
<path d="M1289.6 374.3L1293.1 378L1296.7 381.7L1298.7 380.8L1300.8 380L1297.2 376.4L1293.7 372.6L1291.6 373.4Z" color="#5ec962"/>
<path d="M1391 545.2L1394.5 552.1L1398 558.9L1400 557.7L1402 556.5L1398.5 549.7L1395 542.8L1393 544Z" color="#375a8c"/>
<path d="M1380.9 514.1L1384.4 521.4L1387.9 528.6L1389.9 527.5L1391.9 526.4L1388.4 519.2L1384.9 511.9L1382.9 513Z" color="#2d708e"/>
<path d="M1408.2 586L1411.7 591.3L1413.7 590L1415.7 588.7L1412.1 583.3L1410.2 584.6Z" color="#433e85"/>
<path d="M1370.8 483.1L1374.3 490.2L1377.8 497.3L1379.8 496.3L1381.8 495.3L1378.3 488.2L1374.8 481.1L1372.8 482.1Z" color="#25838e"/>
<path d="M1112.6 406L1116 401.2L1119.3 396.4L1121.5 394.4L1123.7 392.4L1120.3 397.2L1117 402L1114.8 404Z" color="#40bd72"/>
<path d="M1296.7 381.7L1300.2 385.2L1303.8 388.7L1305.8 387.8L1307.9 387L1304.3 383.5L1300.8 380L1298.7 380.8Z" color="#56c667"/>
<path d="M1261.1 339.4L1264.7 344.1L1268.2 348.8L1270.3 348L1272.4 347.2L1268.8 342.4L1265.3 337.7L1263.2 338.5Z" color="#98d83e"/>
<path d="M1239.8 315.6L1243.4 318.6L1246.9 322.1L1249 321.2L1251.1 320.5L1247.6 317L1244 314L1241.9 314.8Z" color="#c8e020"/>
<path d="M1254 330.2L1257.6 334.7L1261.1 339.4L1263.2 338.5L1265.3 337.7L1261.7 333.1L1258.2 328.6L1256.1 329.4Z" color="#aadc32"/>
<path d="M1303.8 388.7L1307.3 392.1L1310.9 395.4L1312.9 394.5L1315 393.7L1311.4 390.4L1307.9 387L1305.8 387.8Z" color="#4cc26c"/>
<path d="M1246.9 322.1L1250.5 326L1254 330.2L1256.1 329.4L1258.2 328.6L1254.6 324.4L1251.1 320.5L1249 321.2Z" color="#bade28"/>
<path d="M1401.1 574.3L1404.7 580.3L1408.2 586L1410.2 584.6L1412.1 583.3L1408.6 577.7L1405.1 571.7L1403.1 573Z" color="#404588"/>
<path d="M1097.3 424L1100.6 419.2L1104 414.4L1106.1 412.2L1108.3 410.1L1105 414.9L1101.6 419.6L1099.4 421.8Z" color="#2eb37c"/>
<path d="M1353.6 442.8L1357.1 448.5L1360.6 454.5L1362.7 453.6L1364.7 452.7L1361.1 446.7L1357.6 441L1355.6 441.9Z" color="#1fa088"/>
<path d="M1310.9 395.4L1314.4 398.7L1318 402L1320 401.1L1322.1 400.2L1318.5 397L1315 393.7L1312.9 394.5Z" color="#44bf70"/>
<path d="M1165.5 348.8L1169 344.7L1172.4 340.9L1174.5 339.5L1176.7 338.2L1173.2 342.1L1169.8 346.1L1167.7 347.4Z" color="#9bd93c"/>
<path d="M1139 375.8L1142.4 371.1L1145.8 366.6L1148 365L1150.1 363.3L1146.7 367.9L1143.4 372.5L1141.2 374.1Z" color="#6ece58"/>
<path d="M1081.9 442.6L1085.3 437.9L1088.6 433.2L1090.8 430.8L1092.9 428.5L1089.6 433.2L1086.3 437.8L1084.1 440.2Z" color="#22a884" stroke="none"/>
<path d="M1318 402L1321.6 405.2L1325.1 408.6L1327.2 407.7L1329.2 406.9L1325.6 403.5L1322.1 400.2L1320 401.1Z" color="#3dbc74"/>
<path d="M990.1 563.4L993.3 559.1L996.6 554.8L998.8 551.7L1001 548.6L997.7 552.9L994.5 557.3L992.3 560.3Z" color="#38588c" stroke="none"/>
<path d="M1221.5 312L1225 312.3L1228.5 313.2L1230.6 312.4L1232.7 311.5L1229.2 310.5L1225.7 310.3L1223.6 311.1Z" color="#d5e21a"/>
<path d="M1383.9 531L1387.5 538.2L1391 545.2L1393 544L1395 542.8L1391.5 535.8L1387.9 528.6L1385.9 529.8Z" color="#32658e"/>
<path d="M1066.6 461.7L1069.9 457.1L1073.2 452.5L1075.4 450L1077.6 447.5L1074.3 452.1L1071 456.6L1068.8 459.1Z" color="#1e9c89" stroke="none"/>
<path d="M1346.5 432.4L1350 437.4L1353.6 442.8L1355.6 441.9L1357.6 441L1354 435.6L1350.5 430.7L1348.5 431.5Z" color="#22a785"/>
<path d="M1005.4 542.5L1008.6 538.2L1011.9 533.8L1014.1 530.8L1016.3 527.8L1013 532.1L1009.8 536.5L1007.6 539.5Z" color="#31678e" stroke="none"/>
<path d="M1363.7 469.3L1367.2 476.1L1370.8 483.1L1372.8 482.1L1374.8 481.1L1371.2 474.1L1367.7 467.4L1365.7 468.3Z" color="#218f8d"/>
<path d="M1373.8 499.5L1377.4 506.8L1380.9 514.1L1382.9 513L1384.9 511.9L1381.4 504.6L1377.8 497.3L1375.8 498.4Z" color="#297a8e"/>
<path d="M1051.3 481.3L1054.6 476.8L1057.9 472.3L1060.1 469.6L1062.2 466.9L1058.9 471.4L1055.6 475.9L1053.5 478.6Z" color="#218f8d" stroke="none"/>
<path d="M1020.7 521.8L1023.9 517.4L1027.2 513L1029.4 510.1L1031.6 507.1L1028.3 511.5L1025.1 515.9L1022.9 518.8Z" color="#2b748e" stroke="none"/>
<path d="M1394.1 561.5L1397.6 568L1401.1 574.3L1403.1 573L1405.1 571.7L1401.6 565.4L1398 558.9L1396.1 560.2Z" color="#3c508b"/>
<path d="M1325.1 408.6L1328.7 412.1L1332.2 415.7L1334.3 414.8L1336.3 413.9L1332.7 410.3L1329.2 406.9L1327.2 407.7Z" color="#35b779"/>
<path d="M1036 501.4L1039.3 497L1042.5 492.5L1044.7 489.7L1046.9 486.8L1043.6 491.3L1040.3 495.7L1038.2 498.5Z" color="#26828e" stroke="none"/>
<path d="M1339.3 423.5L1342.9 427.8L1346.5 432.4L1348.5 431.5L1350.5 430.7L1346.9 426.1L1343.4 421.8L1341.4 422.6Z" color="#27ad81"/>
<path d="M1332.2 415.7L1335.8 419.5L1339.3 423.5L1341.4 422.6L1343.4 421.8L1339.8 417.7L1336.3 413.9L1334.3 414.8Z" color="#2eb37c"/>
<path d="M1176.7 338.2L1180.1 334.6L1183.6 331.3L1185.7 330L1187.8 328.8L1184.4 332.1L1180.9 335.8L1178.8 337Z" color="#b0dd2f"/>
<path d="M1123.7 392.4L1127 387.7L1130.4 383L1132.6 381.1L1134.7 379.3L1131.4 384L1128 388.7L1125.8 390.6Z" color="#56c667"/>
<path d="M1210.2 315.4L1213.7 314.3L1217.3 313.9L1219.4 313L1221.5 312L1218 312.4L1214.5 313.5L1212.4 314.4Z" color="#d5e21a"/>
<path d="M1150.1 363.3L1153.5 358.9L1156.9 354.7L1159.1 353.1L1161.2 351.6L1157.8 355.9L1154.4 360.3L1152.3 361.8Z" color="#84d44b"/>
<path d="M1187.8 328.8L1191.3 325.9L1194.8 323.3L1196.9 322.2L1199 321.1L1195.6 323.6L1192.1 326.6L1190 327.7Z" color="#c0df25"/>
<path d="M1108.3 410.1L1111.6 405.3L1115 400.5L1117.2 398.4L1119.3 396.4L1116 401.2L1112.6 406L1110.5 408Z" color="#40bd72"/>
<path d="M1199 321.1L1202.5 319L1206 317.4L1208.1 316.4L1210.2 315.4L1206.8 316.9L1203.3 319L1201.2 320Z" color="#cde11d" stroke="none"/>
<path d="M1228.5 313.2L1232.1 315L1235.6 317.3L1237.7 316.5L1239.8 315.6L1236.3 313.2L1232.7 311.5L1230.6 312.4Z" color="#d5e21a"/>
<path d="M1356.6 456.5L1360.2 462.8L1363.7 469.3L1365.7 468.3L1367.7 467.4L1364.2 460.8L1360.6 454.5L1358.6 455.5Z" color="#1f988b"/>
<path d="M1271.2 359.7L1274.8 364L1278.3 368.2L1280.4 367.3L1282.5 366.4L1278.9 362.2L1275.4 357.9L1273.3 358.8Z" color="#7cd250"/>
<path d="M1278.3 368.2L1281.9 372.2L1285.4 376.1L1287.5 375.2L1289.6 374.3L1286 370.4L1282.5 366.4L1280.4 367.3Z" color="#6ece58"/>
<path d="M1387 547.8L1390.5 554.7L1394.1 561.5L1396.1 560.2L1398 558.9L1394.5 552.1L1391 545.2L1389 546.5Z" color="#375b8d"/>
<path d="M1404.2 588.8L1407.8 594.1L1409.8 592.7L1411.7 591.3L1408.2 586L1406.2 587.3Z" color="#423f85"/>
<path d="M1376.9 516.4L1380.4 523.7L1383.9 531L1385.9 529.8L1387.9 528.6L1384.4 521.4L1380.9 514.1L1378.9 515.2Z" color="#2d718e"/>
<path d="M1264.1 350.6L1267.6 355.3L1271.2 359.7L1273.3 358.8L1275.4 357.9L1271.8 353.4L1268.2 348.8L1266.2 349.7Z" color="#8bd646"/>
<path d="M1285.4 376.1L1289 379.9L1292.6 383.5L1294.6 382.6L1296.7 381.7L1293.1 378L1289.6 374.3L1287.5 375.2Z" color="#63cb5f"/>
<path d="M1366.8 485.2L1370.3 492.3L1373.8 499.5L1375.8 498.4L1377.8 497.3L1374.3 490.2L1370.8 483.1L1368.8 484.1Z" color="#25858e"/>
<path d="M1092.9 428.5L1096.3 423.7L1099.6 418.9L1101.8 416.6L1104 414.4L1100.6 419.2L1097.3 424L1095.1 426.2Z" color="#2db27d"/>
<path d="M1292.6 383.5L1296.1 387.1L1299.7 390.6L1301.7 389.6L1303.8 388.7L1300.2 385.2L1296.7 381.7L1294.6 382.6Z" color="#58c765"/>
<path d="M1257 341.1L1260.5 345.9L1264.1 350.6L1266.2 349.7L1268.2 348.8L1264.7 344.1L1261.1 339.4L1259.1 340.2Z" color="#9dd93b"/>
<path d="M985.7 569.6L988.9 565.3L992.2 560.9L994.4 557.8L996.6 554.8L993.3 559.1L990.1 563.4L987.9 566.5Z" color="#39558c" stroke="none"/>
<path d="M1235.6 317.3L1239.2 320.3L1242.7 323.8L1244.8 322.9L1246.9 322.1L1243.4 318.6L1239.8 315.6L1237.7 316.5Z" color="#cde11d"/>
<path d="M1077.6 447.5L1080.9 442.8L1084.2 438.1L1086.4 435.6L1088.6 433.2L1085.3 437.9L1081.9 442.6L1079.8 445Z" color="#22a785" stroke="none"/>
<path d="M1397.1 577.1L1400.7 583.1L1404.2 588.8L1406.2 587.3L1408.2 586L1404.7 580.3L1401.1 574.3L1399.1 575.7Z" color="#404688"/>
<path d="M1249.8 332L1253.4 336.5L1257 341.1L1259.1 340.2L1261.1 339.4L1257.6 334.7L1254 330.2L1251.9 331.1Z" color="#b0dd2f"/>
<path d="M1001 548.6L1004.2 544.3L1007.5 539.9L1009.7 536.9L1011.9 533.8L1008.6 538.2L1005.4 542.5L1003.2 545.5Z" color="#32648e" stroke="none"/>
<path d="M1299.7 390.6L1303.2 394L1306.8 397.3L1308.8 396.3L1310.9 395.4L1307.3 392.1L1303.8 388.7L1301.7 389.6Z" color="#50c46a"/>
<path d="M1134.7 379.3L1138.1 374.6L1141.5 370.1L1143.7 368.3L1145.8 366.6L1142.4 371.1L1139 375.8L1136.9 377.5Z" color="#6ece58"/>
<path d="M1242.7 323.8L1246.3 327.7L1249.8 332L1251.9 331.1L1254 330.2L1250.5 326L1246.9 322.1L1244.8 322.9Z" color="#c0df25"/>
<path d="M1062.2 466.9L1065.6 462.4L1068.9 457.8L1071 455.1L1073.2 452.5L1069.9 457.1L1066.6 461.7L1064.4 464.3Z" color="#1f9a8a" stroke="none"/>
<path d="M1016.3 527.8L1019.5 523.4L1022.8 519L1025 516L1027.2 513L1023.9 517.4L1020.7 521.8L1018.5 524.8Z" color="#2c728e" stroke="none"/>
<path d="M1161.2 351.6L1164.7 347.6L1168.1 343.7L1170.2 342.3L1172.4 340.9L1169 344.7L1165.5 348.8L1163.4 350.2Z" color="#9bd93c"/>
<path d="M1031.6 507.1L1034.9 502.7L1038.2 498.3L1040.3 495.4L1042.5 492.5L1039.3 497L1036 501.4L1033.8 504.2Z" color="#26818e" stroke="none"/>
<path d="M1046.9 486.8L1050.2 482.4L1053.5 477.9L1055.7 475.1L1057.9 472.3L1054.6 476.8L1051.3 481.3L1049.1 484.1Z" color="#218e8d" stroke="none"/>
<path d="M1349.5 444.7L1353.1 450.4L1356.6 456.5L1358.6 455.5L1360.6 454.5L1357.1 448.5L1353.6 442.8L1351.5 443.7Z" color="#1fa187"/>
<path d="M1306.8 397.3L1310.4 400.6L1313.9 403.8L1316 402.9L1318 402L1314.4 398.7L1310.9 395.4L1308.8 396.3Z" color="#46c06f"/>
<path d="M1379.9 533.5L1383.5 540.7L1387 547.8L1389 546.5L1391 545.2L1387.5 538.2L1383.9 531L1381.9 532.2Z" color="#31678e"/>
<path d="M1313.9 403.8L1317.5 407.1L1321 410.5L1323.1 409.5L1325.1 408.6L1321.6 405.2L1318 402L1316 402.9Z" color="#3fbc73"/>
<path d="M1217.3 313.9L1220.8 314.2L1224.3 315.2L1226.4 314.2L1228.5 313.2L1225 312.3L1221.5 312L1219.4 313Z" color="#dae319"/>
<path d="M1342.4 434.4L1346 439.3L1349.5 444.7L1351.5 443.7L1353.6 442.8L1350 437.4L1346.5 432.4L1344.4 433.4Z" color="#23a983"/>
<path d="M1119.3 396.4L1122.7 391.6L1126.1 386.9L1128.2 384.9L1130.4 383L1127 387.7L1123.7 392.4L1121.5 394.4Z" color="#56c667"/>
<path d="M1390.1 564.2L1393.6 570.8L1397.1 577.1L1399.1 575.7L1401.1 574.3L1397.6 568L1394.1 561.5L1392.1 562.8Z" color="#3b518b"/>
<path d="M1369.8 501.8L1373.4 509.1L1376.9 516.4L1378.9 515.2L1380.9 514.1L1377.4 506.8L1373.8 499.5L1371.8 500.7Z" color="#287c8e"/>
<path d="M1359.7 471.5L1363.2 478.3L1366.8 485.2L1368.8 484.1L1370.8 483.1L1367.2 476.1L1363.7 469.3L1361.7 470.4Z" color="#21908d"/>
<path d="M1321 410.5L1324.6 414L1328.2 417.6L1330.2 416.6L1332.2 415.7L1328.7 412.1L1325.1 408.6L1323.1 409.5Z" color="#38b977"/>
<path d="M1172.4 340.9L1175.8 337.2L1179.3 333.9L1181.4 332.6L1183.6 331.3L1180.1 334.6L1176.7 338.2L1174.5 339.5Z" color="#b0dd2f"/>
<path d="M1335.3 425.4L1338.8 429.7L1342.4 434.4L1344.4 433.4L1346.5 432.4L1342.9 427.8L1339.3 423.5L1337.3 424.5Z" color="#29af7f"/>
<path d="M1328.2 417.6L1331.7 421.4L1335.3 425.4L1337.3 424.5L1339.3 423.5L1335.8 419.5L1332.2 415.7L1330.2 416.6Z" color="#31b57b"/>
<path d="M1104 414.4L1107.3 409.6L1110.7 404.8L1112.8 402.6L1115 400.5L1111.6 405.3L1108.3 410.1L1106.1 412.2Z" color="#3fbc73"/>
<path d="M1145.8 366.6L1149.2 362.2L1152.6 358L1154.8 356.3L1156.9 354.7L1153.5 358.9L1150.1 363.3L1148 365Z" color="#86d549"/>
<path d="M1206 317.4L1209.5 316.4L1213 316L1215.1 314.9L1217.3 313.9L1213.7 314.3L1210.2 315.4L1208.1 316.4Z" color="#d8e219"/>
<path d="M1183.6 331.3L1187 328.3L1190.5 325.8L1192.6 324.5L1194.8 323.3L1191.3 325.9L1187.8 328.8L1185.7 330Z" color="#c2df23" stroke="none"/>
<path d="M1088.6 433.2L1091.9 428.5L1095.3 423.7L1097.4 421.3L1099.6 418.9L1096.3 423.7L1092.9 428.5L1090.8 430.8Z" color="#2db27d"/>
<path d="M996.6 554.8L999.8 550.4L1003.1 546.1L1005.3 543L1007.5 539.9L1004.2 544.3L1001 548.6L998.8 551.7Z" color="#33628d" stroke="none"/>
<path d="M1194.8 323.3L1198.2 321.3L1201.7 319.7L1203.9 318.5L1206 317.4L1202.5 319L1199 321.1L1196.9 322.2Z" color="#d0e11c" stroke="none"/>
<path d="M1011.9 533.8L1015.2 529.5L1018.4 525.1L1020.6 522L1022.8 519L1019.5 523.4L1016.3 527.8L1014.1 530.8Z" color="#2d718e" stroke="none"/>
<path d="M1224.3 315.2L1227.9 316.9L1231.4 319.3L1233.5 318.3L1235.6 317.3L1232.1 315L1228.5 313.2L1226.4 314.2Z" color="#d8e219"/>
<path d="M1073.2 452.5L1076.5 447.9L1079.9 443.2L1082.1 440.6L1084.2 438.1L1080.9 442.8L1077.6 447.5L1075.4 450Z" color="#21a585" stroke="none"/>
<path d="M1400.2 591.8L1403.8 597.1L1405.8 595.6L1407.8 594.1L1404.2 588.8L1402.2 590.2Z" color="#424086"/>
<path d="M1383 550.5L1386.5 557.5L1390.1 564.2L1392.1 562.8L1394.1 561.5L1390.5 554.7L1387 547.8L1385 549.1Z" color="#365c8d"/>
<path d="M1352.6 458.6L1356.1 464.9L1359.7 471.5L1361.7 470.4L1363.7 469.3L1360.2 462.8L1356.6 456.5L1354.6 457.5Z" color="#1f998a"/>
<path d="M1027.2 513L1030.5 508.6L1033.8 504.2L1036 501.2L1038.2 498.3L1034.9 502.7L1031.6 507.1L1029.4 510.1Z" color="#277e8e" stroke="none"/>
<path d="M1267 361.7L1270.6 366L1274.2 370.2L1276.3 369.2L1278.3 368.2L1274.8 364L1271.2 359.7L1269.1 360.7Z" color="#7fd34e"/>
<path d="M1274.2 370.2L1277.7 374.2L1281.3 378.1L1283.4 377.1L1285.4 376.1L1281.9 372.2L1278.3 368.2L1276.3 369.2Z" color="#73d056"/>
<path d="M1057.9 472.3L1061.2 467.8L1064.5 463.2L1066.7 460.5L1068.9 457.8L1065.6 462.4L1062.2 466.9L1060.1 469.6Z" color="#1f998a" stroke="none"/>
<path d="M1372.9 519L1376.4 526.3L1379.9 533.5L1381.9 532.2L1383.9 531L1380.4 523.7L1376.9 516.4L1374.9 517.7Z" color="#2c718e"/>
<path d="M1042.5 492.5L1045.8 488.1L1049.1 483.5L1051.3 480.7L1053.5 477.9L1050.2 482.4L1046.9 486.8L1044.7 489.7Z" color="#228c8d" stroke="none"/>
<path d="M1259.9 352.6L1263.5 357.2L1267 361.7L1269.1 360.7L1271.2 359.7L1267.6 355.3L1264.1 350.6L1262 351.6Z" color="#90d743"/>
<path d="M1281.3 378.1L1284.9 381.9L1288.4 385.5L1290.5 384.5L1292.6 383.5L1289 379.9L1285.4 376.1L1283.4 377.1Z" color="#65cb5e"/>
<path d="M1362.7 487.5L1366.3 494.6L1369.8 501.8L1371.8 500.7L1373.8 499.5L1370.3 492.3L1366.8 485.2L1364.7 486.4Z" color="#24868e"/>
<path d="M1130.4 383L1133.8 378.3L1137.2 373.8L1139.3 371.9L1141.5 370.1L1138.1 374.6L1134.7 379.3L1132.6 381.1Z" color="#6ece58"/>
<path d="M1288.4 385.5L1292 389.1L1295.6 392.6L1297.6 391.5L1299.7 390.6L1296.1 387.1L1292.6 383.5L1290.5 384.5Z" color="#5cc863"/>
<path d="M1252.8 343.1L1256.3 347.8L1259.9 352.6L1262 351.6L1264.1 350.6L1260.5 345.9L1257 341.1L1254.9 342.1Z" color="#a0da39"/>
<path d="M1393.2 580.1L1396.7 586.1L1400.2 591.8L1402.2 590.2L1404.2 588.8L1400.7 583.1L1397.1 577.1L1395.2 578.5Z" color="#3f4788"/>
<path d="M1231.4 319.3L1235 322.2L1238.5 325.7L1240.6 324.8L1242.7 323.8L1239.2 320.3L1235.6 317.3L1233.5 318.3Z" color="#d0e11c"/>
<path d="M1156.9 354.7L1160.4 350.6L1163.8 346.8L1165.9 345.2L1168.1 343.7L1164.7 347.6L1161.2 351.6L1159.1 353.1Z" color="#9dd93b"/>
<path d="M1245.6 333.9L1249.2 338.4L1252.8 343.1L1254.9 342.1L1257 341.1L1253.4 336.5L1249.8 332L1247.7 332.9Z" color="#b2dd2d"/>
<path d="M1295.6 392.6L1299.1 396L1302.7 399.3L1304.7 398.3L1306.8 397.3L1303.2 394L1299.7 390.6L1297.6 391.5Z" color="#52c569"/>
<path d="M1238.5 325.7L1242.1 329.7L1245.6 333.9L1247.7 332.9L1249.8 332L1246.3 327.7L1242.7 323.8L1240.6 324.8Z" color="#c2df23"/>
<path d="M1345.5 446.8L1349 452.5L1352.6 458.6L1354.6 457.5L1356.6 456.5L1353.1 450.4L1349.5 444.7L1347.5 445.7Z" color="#1fa287"/>
<path d="M1302.7 399.3L1306.2 402.6L1309.8 405.9L1311.9 404.8L1313.9 403.8L1310.4 400.6L1306.8 397.3L1304.7 398.3Z" color="#4ac16d"/>
<path d="M1115 400.5L1118.4 395.7L1121.7 391L1123.9 388.9L1126.1 386.9L1122.7 391.6L1119.3 396.4L1117.2 398.4Z" color="#54c568"/>
<path d="M1375.9 536.3L1379.5 543.5L1383 550.5L1385 549.1L1387 547.8L1383.5 540.7L1379.9 533.5L1377.9 534.9Z" color="#31688e"/>
<path d="M1213 316L1216.5 316.3L1220.1 317.2L1222.2 316.2L1224.3 315.2L1220.8 314.2L1217.3 313.9L1215.1 314.9Z" color="#dde318"/>
<path d="M1386.1 567.2L1389.6 573.8L1393.2 580.1L1395.2 578.5L1397.1 577.1L1393.6 570.8L1390.1 564.2L1388.1 565.7Z" color="#3b528b"/>
<path d="M1309.8 405.9L1313.4 409.2L1316.9 412.5L1319 411.5L1321 410.5L1317.5 407.1L1313.9 403.8L1311.9 404.8Z" color="#42be71"/>
<path d="M1365.8 504.4L1369.3 511.6L1372.9 519L1374.9 517.7L1376.9 516.4L1373.4 509.1L1369.8 501.8L1367.8 503.1Z" color="#287d8e"/>
<path d="M1338.3 436.4L1341.9 441.4L1345.5 446.8L1347.5 445.7L1349.5 444.7L1346 439.3L1342.4 434.4L1340.4 435.4Z" color="#24aa83"/>
<path d="M1355.6 473.8L1359.2 480.6L1362.7 487.5L1364.7 486.4L1366.8 485.2L1363.2 478.3L1359.7 471.5L1357.7 472.6Z" color="#21918c"/>
<path d="M1099.6 418.9L1103 414.1L1106.3 409.3L1108.5 407L1110.7 404.8L1107.3 409.6L1104 414.4L1101.8 416.6Z" color="#3dbc74"/>
<path d="M1168.1 343.7L1171.5 340.1L1175 336.8L1177.1 335.3L1179.3 333.9L1175.8 337.2L1172.4 340.9L1170.2 342.3Z" color="#b2dd2d"/>
<path d="M992.2 560.9L995.4 556.6L998.7 552.3L1000.9 549.2L1003.1 546.1L999.8 550.4L996.6 554.8L994.4 557.8Z" color="#34608d" stroke="none"/>
<path d="M1316.9 412.5L1320.5 416L1324.1 419.6L1326.1 418.6L1328.2 417.6L1324.6 414L1321 410.5L1319 411.5Z" color="#3aba76"/>
<path d="M1007.5 539.9L1010.8 535.6L1014 531.2L1016.2 528.1L1018.4 525.1L1015.2 529.5L1011.9 533.8L1009.7 536.9Z" color="#2e6f8e" stroke="none"/>
<path d="M1084.2 438.1L1087.6 433.4L1090.9 428.6L1093.1 426.1L1095.3 423.7L1091.9 428.5L1088.6 433.2L1086.4 435.6Z" color="#2ab07f" stroke="none"/>
<path d="M1141.5 370.1L1144.9 365.7L1148.3 361.4L1150.5 359.7L1152.6 358L1149.2 362.2L1145.8 366.6L1143.7 368.3Z" color="#86d549"/>
<path d="M1331.2 427.5L1334.8 431.8L1338.3 436.4L1340.4 435.4L1342.4 434.4L1338.8 429.7L1335.3 425.4L1333.3 426.4Z" color="#2ab07f"/>
<path d="M1324.1 419.6L1327.6 423.4L1331.2 427.5L1333.3 426.4L1335.3 425.4L1331.7 421.4L1328.2 417.6L1326.1 418.6Z" color="#32b67a"/>
<path d="M1022.8 519L1026.1 514.6L1029.4 510.2L1031.6 507.2L1033.8 504.2L1030.5 508.6L1027.2 513L1025 516Z" color="#287c8e" stroke="none"/>
<path d="M1068.9 457.8L1072.2 453.1L1075.5 448.4L1077.7 445.8L1079.9 443.2L1076.5 447.9L1073.2 452.5L1071 455.1Z" color="#20a486" stroke="none"/>
<path d="M1038.2 498.3L1041.4 493.8L1044.7 489.3L1046.9 486.4L1049.1 483.5L1045.8 488.1L1042.5 492.5L1040.3 495.4Z" color="#238a8d" stroke="none"/>
<path d="M1053.5 477.9L1056.8 473.3L1060.1 468.7L1062.3 465.9L1064.5 463.2L1061.2 467.8L1057.9 472.3L1055.7 475.1Z" color="#1f978b" stroke="none"/>
<path d="M1201.7 319.7L1205.3 318.7L1208.8 318.3L1210.9 317.1L1213 316L1209.5 316.4L1206 317.4L1203.9 318.5Z" color="#dae319"/>
<path d="M1179.3 333.9L1182.7 331L1186.2 328.4L1188.4 327.1L1190.5 325.8L1187 328.3L1183.6 331.3L1181.4 332.6Z" color="#c5e021" stroke="none"/>
<path d="M1190.5 325.8L1194 323.7L1197.5 322.1L1199.6 320.9L1201.7 319.7L1198.2 321.3L1194.8 323.3L1192.6 324.5Z" color="#d2e21b" stroke="none"/>
<path d="M1396.3 595L1399.8 600.3L1401.8 598.7L1403.8 597.1L1400.2 591.8L1398.3 593.3Z" color="#424086"/>
<path d="M1379 553.5L1382.5 560.4L1386.1 567.2L1388.1 565.7L1390.1 564.2L1386.5 557.5L1383 550.5L1381 552Z" color="#365d8d"/>
<path d="M1220.1 317.2L1223.6 318.9L1227.2 321.3L1229.3 320.3L1231.4 319.3L1227.9 316.9L1224.3 315.2L1222.2 316.2Z" color="#dde318"/>
<path d="M1368.8 521.7L1372.4 529L1375.9 536.3L1377.9 534.9L1379.9 533.5L1376.4 526.3L1372.9 519L1370.9 520.3Z" color="#2c728e"/>
<path d="M1348.5 460.9L1352.1 467.2L1355.6 473.8L1357.7 472.6L1359.7 471.5L1356.1 464.9L1352.6 458.6L1350.6 459.7Z" color="#1e9b8a"/>
<path d="M1126.1 386.9L1129.5 382.2L1132.9 377.7L1135 375.7L1137.2 373.8L1133.8 378.3L1130.4 383L1128.2 384.9Z" color="#6ccd5a"/>
<path d="M1262.9 363.8L1266.4 368.2L1270 372.3L1272.1 371.2L1274.2 370.2L1270.6 366L1267 361.7L1265 362.8Z" color="#84d44b"/>
<path d="M1270 372.3L1273.6 376.4L1277.1 380.3L1279.2 379.2L1281.3 378.1L1277.7 374.2L1274.2 370.2L1272.1 371.2Z" color="#75d054"/>
<path d="M1255.7 354.7L1259.3 359.4L1262.9 363.8L1265 362.8L1267 361.7L1263.5 357.2L1259.9 352.6L1257.8 353.6Z" color="#93d741"/>
<path d="M1277.1 380.3L1280.7 384.1L1284.3 387.7L1286.4 386.6L1288.4 385.5L1284.9 381.9L1281.3 378.1L1279.2 379.2Z" color="#69cd5b"/>
<path d="M1358.7 490L1362.2 497.1L1365.8 504.4L1367.8 503.1L1369.8 501.8L1366.3 494.6L1362.7 487.5L1360.7 488.8Z" color="#24878e"/>
<path d="M1389.2 583.2L1392.7 589.3L1396.3 595L1398.3 593.3L1400.2 591.8L1396.7 586.1L1393.2 580.1L1391.2 581.6Z" color="#3f4889"/>
<path d="M1152.6 358L1156.1 353.9L1159.5 350L1161.6 348.4L1163.8 346.8L1160.4 350.6L1156.9 354.7L1154.8 356.3Z" color="#9dd93b"/>
<path d="M1284.3 387.7L1287.8 391.3L1291.4 394.8L1293.5 393.7L1295.6 392.6L1292 389.1L1288.4 385.5L1286.4 386.6Z" color="#5ec962"/>
<path d="M1248.6 345.2L1252.2 349.9L1255.7 354.7L1257.8 353.6L1259.9 352.6L1256.3 347.8L1252.8 343.1L1250.7 344.1Z" color="#a5db36"/>
<path d="M1227.2 321.3L1230.7 324.3L1234.3 327.8L1236.4 326.8L1238.5 325.7L1235 322.2L1231.4 319.3L1229.3 320.3Z" color="#d2e21b"/>
<path d="M1110.7 404.8L1114 400L1117.4 395.3L1119.6 393.1L1121.7 391L1118.4 395.7L1115 400.5L1112.8 402.6Z" color="#54c568"/>
<path d="M1241.4 336L1245 340.5L1248.6 345.2L1250.7 344.1L1252.8 343.1L1249.2 338.4L1245.6 333.9L1243.5 334.9Z" color="#b5de2b"/>
<path d="M1291.4 394.8L1295 398.2L1298.6 401.5L1300.6 400.4L1302.7 399.3L1299.1 396L1295.6 392.6L1293.5 393.7Z" color="#56c667"/>
<path d="M1234.3 327.8L1237.9 331.8L1241.4 336L1243.5 334.9L1245.6 333.9L1242.1 329.7L1238.5 325.7L1236.4 326.8Z" color="#c8e020"/>
<path d="M1341.4 449.1L1345 454.8L1348.5 460.9L1350.6 459.7L1352.6 458.6L1349 452.5L1345.5 446.8L1343.4 447.9Z" color="#20a386"/>
<path d="M1003.1 546.1L1006.3 541.7L1009.6 537.3L1011.8 534.3L1014 531.2L1010.8 535.6L1007.5 539.9L1005.3 543Z" color="#2f6c8e" stroke="none"/>
<path d="M1095.3 423.7L1098.6 418.8L1102 414L1104.1 411.6L1106.3 409.3L1103 414.1L1099.6 418.9L1097.4 421.3Z" color="#3bbb75"/>
<path d="M1298.6 401.5L1302.1 404.8L1305.7 408.1L1307.8 406.9L1309.8 405.9L1306.2 402.6L1302.7 399.3L1300.6 400.4Z" color="#4cc26c"/>
<path d="M1018.4 525.1L1021.7 520.7L1025 516.2L1027.2 513.2L1029.4 510.2L1026.1 514.6L1022.8 519L1020.6 522Z" color="#297a8e" stroke="none"/>
<path d="M1371.9 539.2L1375.4 546.4L1379 553.5L1381 552L1383 550.5L1379.5 543.5L1375.9 536.3L1373.9 537.7Z" color="#31688e"/>
<path d="M1079.9 443.2L1083.2 438.4L1086.5 433.6L1088.7 431.1L1090.9 428.6L1087.6 433.4L1084.2 438.1L1082.1 440.6Z" color="#29af7f" stroke="none"/>
<path d="M1033.8 504.2L1037.1 499.7L1040.4 495.2L1042.6 492.3L1044.7 489.3L1041.4 493.8L1038.2 498.3L1036 501.2Z" color="#23888e" stroke="none"/>
<path d="M1382.1 570.4L1385.6 576.9L1389.2 583.2L1391.2 581.6L1393.2 580.1L1389.6 573.8L1386.1 567.2L1384.1 568.8Z" color="#3b528b"/>
<path d="M1049.1 483.5L1052.4 479L1055.7 474.4L1057.9 471.6L1060.1 468.7L1056.8 473.3L1053.5 477.9L1051.3 480.7Z" color="#1f958b" stroke="none"/>
<path d="M1064.5 463.2L1067.8 458.5L1071.1 453.8L1073.3 451.1L1075.5 448.4L1072.2 453.1L1068.9 457.8L1066.7 460.5Z" color="#1fa287" stroke="none"/>
<path d="M1208.8 318.3L1212.3 318.5L1215.8 319.5L1218 318.3L1220.1 317.2L1216.5 316.3L1213 316L1210.9 317.1Z" color="#dfe318"/>
<path d="M1163.8 346.8L1167.2 343.1L1170.7 339.8L1172.8 338.3L1175 336.8L1171.5 340.1L1168.1 343.7L1165.9 345.2Z" color="#b5de2b"/>
<path d="M1305.7 408.1L1309.3 411.4L1312.8 414.7L1314.9 413.6L1316.9 412.5L1313.4 409.2L1309.8 405.9L1307.8 406.9Z" color="#44bf70"/>
<path d="M1361.7 507.1L1365.3 514.4L1368.8 521.7L1370.9 520.3L1372.9 519L1369.3 511.6L1365.8 504.4L1363.8 505.7Z" color="#277e8e"/>
<path d="M1137.2 373.8L1140.6 369.4L1144 365.1L1146.2 363.3L1148.3 361.4L1144.9 365.7L1141.5 370.1L1139.3 371.9Z" color="#86d549"/>
<path d="M1351.6 476.3L1355.1 483.1L1358.7 490L1360.7 488.8L1362.7 487.5L1359.2 480.6L1355.6 473.8L1353.6 475Z" color="#20928c"/>
<path d="M1334.3 438.7L1337.8 443.7L1341.4 449.1L1343.4 447.9L1345.5 446.8L1341.9 441.4L1338.3 436.4L1336.3 437.6Z" color="#25ac82"/>
<path d="M1312.8 414.7L1316.4 418.2L1320 421.9L1322 420.7L1324.1 419.6L1320.5 416L1316.9 412.5L1314.9 413.6Z" color="#3dbc74"/>
<path d="M1327.1 429.7L1330.7 434.1L1334.3 438.7L1336.3 437.6L1338.3 436.4L1334.8 431.8L1331.2 427.5L1329.2 428.6Z" color="#2db27d"/>
<path d="M1320 421.9L1323.6 425.7L1327.1 429.7L1329.2 428.6L1331.2 427.5L1327.6 423.4L1324.1 419.6L1322 420.7Z" color="#35b779"/>
<path d="M1175 336.8L1178.5 333.8L1181.9 331.3L1184.1 329.8L1186.2 328.4L1182.7 331L1179.3 333.9L1177.1 335.3Z" color="#c8e020" stroke="none"/>
<path d="M1197.5 322.1L1201 321.1L1204.5 320.7L1206.6 319.4L1208.8 318.3L1205.3 318.7L1201.7 319.7L1199.6 320.9Z" color="#dde318"/>
<path d="M1121.7 391L1125.1 386.3L1128.5 381.8L1130.7 379.7L1132.9 377.7L1129.5 382.2L1126.1 386.9L1123.9 388.9Z" color="#6ccd5a"/>
<path d="M1392.3 598.4L1395.8 603.7L1397.8 602L1399.8 600.3L1396.3 595L1394.3 596.6Z" color="#424186"/>
<path d="M1186.2 328.4L1189.7 326.3L1193.2 324.8L1195.3 323.4L1197.5 322.1L1194 323.7L1190.5 325.8L1188.4 327.1Z" color="#d5e21a" stroke="none"/>
<path d="M1375 556.6L1378.5 563.6L1382.1 570.4L1384.1 568.8L1386.1 567.2L1382.5 560.4L1379 553.5L1377 555Z" color="#355e8d"/>
<path d="M1364.8 524.6L1368.4 531.9L1371.9 539.2L1373.9 537.7L1375.9 536.3L1372.4 529L1368.8 521.7L1366.8 523.1Z" color="#2c738e"/>
<path d="M1215.8 319.5L1219.4 321.2L1222.9 323.6L1225.1 322.4L1227.2 321.3L1223.6 318.9L1220.1 317.2L1218 318.3Z" color="#dfe318"/>
<path d="M1344.5 463.3L1348 469.7L1351.6 476.3L1353.6 475L1355.6 473.8L1352.1 467.2L1348.5 460.9L1346.5 462.1Z" color="#1e9c89"/>
<path d="M1258.7 366.2L1262.3 370.5L1265.8 374.7L1267.9 373.5L1270 372.3L1266.4 368.2L1262.9 363.8L1260.8 365Z" color="#86d549"/>
<path d="M1265.8 374.7L1269.4 378.7L1273 382.6L1275.1 381.4L1277.1 380.3L1273.6 376.4L1270 372.3L1267.9 373.5Z" color="#77d153"/>
<path d="M998.7 552.3L1001.9 547.9L1005.2 543.5L1007.4 540.4L1009.6 537.3L1006.3 541.7L1003.1 546.1L1000.9 549.2Z" color="#306a8e" stroke="none"/>
<path d="M1148.3 361.4L1151.7 357.4L1155.2 353.5L1157.3 351.7L1159.5 350L1156.1 353.9L1152.6 358L1150.5 359.7Z" color="#9dd93b"/>
<path d="M1106.3 409.3L1109.7 404.5L1113.1 399.8L1115.2 397.5L1117.4 395.3L1114 400L1110.7 404.8L1108.5 407Z" color="#52c569"/>
<path d="M1354.6 492.7L1358.2 499.8L1361.7 507.1L1363.8 505.7L1365.8 504.4L1362.2 497.1L1358.7 490L1356.7 491.3Z" color="#23888e"/>
<path d="M1385.1 586.6L1388.7 592.6L1392.3 598.4L1394.3 596.6L1396.3 595L1392.7 589.3L1389.2 583.2L1387.2 584.9Z" color="#3f4889"/>
<path d="M1251.5 357L1255.1 361.7L1258.7 366.2L1260.8 365L1262.9 363.8L1259.3 359.4L1255.7 354.7L1253.6 355.8Z" color="#95d840"/>
<path d="M1273 382.6L1276.6 386.4L1280.1 390.1L1282.2 388.9L1284.3 387.7L1280.7 384.1L1277.1 380.3L1275.1 381.4Z" color="#6ccd5a"/>
<path d="M1014 531.2L1017.3 526.8L1020.6 522.4L1022.8 519.3L1025 516.2L1021.7 520.7L1018.4 525.1L1016.2 528.1Z" color="#2a788e" stroke="none"/>
<path d="M1280.1 390.1L1283.7 393.6L1287.3 397.1L1289.3 395.9L1291.4 394.8L1287.8 391.3L1284.3 387.7L1282.2 388.9Z" color="#60ca60"/>
<path d="M1029.4 510.2L1032.7 505.7L1036 501.2L1038.2 498.2L1040.4 495.2L1037.1 499.7L1033.8 504.2L1031.6 507.2Z" color="#24868e" stroke="none"/>
<path d="M1244.4 347.5L1248 352.3L1251.5 357L1253.6 355.8L1255.7 354.7L1252.2 349.9L1248.6 345.2L1246.5 346.3Z" color="#a8db34"/>
<path d="M1090.9 428.6L1094.3 423.7L1097.6 418.9L1099.8 416.5L1102 414L1098.6 418.8L1095.3 423.7L1093.1 426.1Z" color="#3aba76" stroke="none"/>
<path d="M1044.7 489.3L1048.1 484.8L1051.4 480.2L1053.6 477.3L1055.7 474.4L1052.4 479L1049.1 483.5L1046.9 486.4Z" color="#20938c" stroke="none"/>
<path d="M1075.5 448.4L1078.8 443.7L1082.2 438.9L1084.4 436.2L1086.5 433.6L1083.2 438.4L1079.9 443.2L1077.7 445.8Z" color="#28ae80" stroke="none"/>
<path d="M1222.9 323.6L1226.5 326.6L1230.1 330.1L1232.2 328.9L1234.3 327.8L1230.7 324.3L1227.2 321.3L1225.1 322.4Z" color="#d8e219"/>
<path d="M1060.1 468.7L1063.4 464.1L1066.8 459.4L1069 456.6L1071.1 453.8L1067.8 458.5L1064.5 463.2L1062.3 465.9Z" color="#1fa187" stroke="none"/>
<path d="M1237.2 338.3L1240.8 342.8L1244.4 347.5L1246.5 346.3L1248.6 345.2L1245 340.5L1241.4 336L1239.3 337.1Z" color="#bade28"/>
<path d="M1287.3 397.1L1290.8 400.5L1294.4 403.9L1296.5 402.7L1298.6 401.5L1295 398.2L1291.4 394.8L1289.3 395.9Z" color="#58c765"/>
<path d="M1230.1 330.1L1233.6 334L1237.2 338.3L1239.3 337.1L1241.4 336L1237.9 331.8L1234.3 327.8L1232.2 328.9Z" color="#cae11f"/>
<path d="M1337.3 451.5L1340.9 457.3L1344.5 463.3L1346.5 462.1L1348.5 460.9L1345 454.8L1341.4 449.1L1339.4 450.3Z" color="#20a486"/>
<path d="M1367.9 542.3L1371.4 549.5L1375 556.6L1377 555L1379 553.5L1375.4 546.4L1371.9 539.2L1369.9 540.7Z" color="#30698e"/>
<path d="M1294.4 403.9L1298 407.2L1301.6 410.5L1303.6 409.2L1305.7 408.1L1302.1 404.8L1298.6 401.5L1296.5 402.7Z" color="#4ec36b"/>
<path d="M1378 573.7L1381.6 580.3L1385.1 586.6L1387.2 584.9L1389.2 583.2L1385.6 576.9L1382.1 570.4L1380.1 572Z" color="#3a538b"/>
<path d="M1132.9 377.7L1136.3 373.3L1139.7 369L1141.8 367.1L1144 365.1L1140.6 369.4L1137.2 373.8L1135 375.7Z" color="#84d44b"/>
<path d="M1159.5 350L1162.9 346.4L1166.4 343.1L1168.5 341.4L1170.7 339.8L1167.2 343.1L1163.8 346.8L1161.6 348.4Z" color="#b5de2b" stroke="none"/>
<path d="M1204.5 320.7L1208 321L1211.6 321.9L1213.7 320.7L1215.8 319.5L1212.3 318.5L1208.8 318.3L1206.6 319.4Z" color="#e2e418"/>
<path d="M1357.7 510L1361.3 517.3L1364.8 524.6L1366.8 523.1L1368.8 521.7L1365.3 514.4L1361.7 507.1L1359.7 508.5Z" color="#277f8e"/>
<path d="M1301.6 410.5L1305.1 413.8L1308.7 417.1L1310.8 415.9L1312.8 414.7L1309.3 411.4L1305.7 408.1L1303.6 409.2Z" color="#46c06f"/>
<path d="M1347.5 478.9L1351.1 485.7L1354.6 492.7L1356.7 491.3L1358.7 490L1355.1 483.1L1351.6 476.3L1349.6 477.6Z" color="#20928c"/>
<path d="M1330.2 441.1L1333.8 446.1L1337.3 451.5L1339.4 450.3L1341.4 449.1L1337.8 443.7L1334.3 438.7L1332.2 439.9Z" color="#26ad81"/>
<path d="M1308.7 417.1L1312.3 420.6L1315.9 424.3L1317.9 423L1320 421.9L1316.4 418.2L1312.8 414.7L1310.8 415.9Z" color="#3fbc73"/>
<path d="M1117.4 395.3L1120.8 390.7L1124.2 386.1L1126.3 383.9L1128.5 381.8L1125.1 386.3L1121.7 391L1119.6 393.1Z" color="#69cd5b"/>
<path d="M1323 432.2L1326.6 436.5L1330.2 441.1L1332.2 439.9L1334.3 438.7L1330.7 434.1L1327.1 429.7L1325.1 430.9Z" color="#2eb37c"/>
<path d="M1315.9 424.3L1319.5 428.1L1323 432.2L1325.1 430.9L1327.1 429.7L1323.6 425.7L1320 421.9L1317.9 423Z" color="#37b878"/>
<path d="M1170.7 339.8L1174.2 336.9L1177.6 334.3L1179.8 332.8L1181.9 331.3L1178.5 333.8L1175 336.8L1172.8 338.3Z" color="#c8e020" stroke="none"/>
<path d="M1193.2 324.8L1196.7 323.7L1200.2 323.3L1202.4 322L1204.5 320.7L1201 321.1L1197.5 322.1L1195.3 323.4Z" color="#dfe318"/>
<path d="M1009.6 537.3L1012.9 533L1016.2 528.5L1018.4 525.4L1020.6 522.4L1017.3 526.8L1014 531.2L1011.8 534.3Z" color="#2a768e" stroke="none"/>
<path d="M1388.2 602L1391.8 607.3L1393.8 605.5L1395.8 603.7L1392.3 598.4L1390.2 600.1Z" color="#424186"/>
<path d="M1370.9 560L1374.5 567L1378 573.7L1380.1 572L1382.1 570.4L1378.5 563.6L1375 556.6L1372.9 558.3Z" color="#355e8d"/>
<path d="M1181.9 331.3L1185.4 329.2L1188.9 327.6L1191.1 326.2L1193.2 324.8L1189.7 326.3L1186.2 328.4L1184.1 329.8Z" color="#d8e219" stroke="none"/>
<path d="M1025 516.2L1028.3 511.8L1031.6 507.3L1033.8 504.2L1036 501.2L1032.7 505.7L1029.4 510.2L1027.2 513.2Z" color="#25838e" stroke="none"/>
<path d="M1102 414L1105.3 409.3L1108.7 404.5L1110.9 402.2L1113.1 399.8L1109.7 404.5L1106.3 409.3L1104.1 411.6Z" color="#50c46a" stroke="none"/>
<path d="M1040.4 495.2L1043.7 490.7L1047 486.1L1049.2 483.1L1051.4 480.2L1048.1 484.8L1044.7 489.3L1042.6 492.3Z" color="#20928c" stroke="none"/>
<path d="M1360.8 527.7L1364.3 535L1367.9 542.3L1369.9 540.7L1371.9 539.2L1368.4 531.9L1364.8 524.6L1362.8 526.1Z" color="#2b748e"/>
<path d="M1144 365.1L1147.4 361.1L1150.9 357.2L1153 355.3L1155.2 353.5L1151.7 357.4L1148.3 361.4L1146.2 363.3Z" color="#9dd93b"/>
<path d="M1086.5 433.6L1089.9 428.8L1093.2 424L1095.4 421.4L1097.6 418.9L1094.3 423.7L1090.9 428.6L1088.7 431.1Z" color="#38b977" stroke="none"/>
<path d="M1055.7 474.4L1059.1 469.8L1062.4 465.1L1064.6 462.2L1066.8 459.4L1063.4 464.1L1060.1 468.7L1057.9 471.6Z" color="#1fa088" stroke="none"/>
<path d="M1211.6 321.9L1215.1 323.7L1218.7 326.1L1220.8 324.8L1222.9 323.6L1219.4 321.2L1215.8 319.5L1213.7 320.7Z" color="#e2e418"/>
<path d="M1071.1 453.8L1074.5 449.1L1077.8 444.3L1080 441.6L1082.2 438.9L1078.8 443.7L1075.5 448.4L1073.3 451.1Z" color="#26ad81" stroke="none"/>
<path d="M1340.4 466L1344 472.3L1347.5 478.9L1349.6 477.6L1351.6 476.3L1348 469.7L1344.5 463.3L1342.4 464.6Z" color="#1e9d89"/>
<path d="M1381.1 590.2L1384.7 596.2L1388.2 602L1390.2 600.1L1392.3 598.4L1388.7 592.6L1385.1 586.6L1383.1 588.4Z" color="#3e4989"/>
<path d="M1254.5 368.7L1258.1 373L1261.6 377.2L1263.7 375.9L1265.8 374.7L1262.3 370.5L1258.7 366.2L1256.6 367.4Z" color="#89d548"/>
<path d="M1261.6 377.2L1265.2 381.2L1268.8 385.2L1270.9 383.9L1273 382.6L1269.4 378.7L1265.8 374.7L1263.7 375.9Z" color="#7ad151"/>
<path d="M1350.6 495.6L1354.1 502.7L1357.7 510L1359.7 508.5L1361.7 507.1L1358.2 499.8L1354.6 492.7L1352.6 494.1Z" color="#23898e"/>
<path d="M1247.3 359.5L1250.9 364.2L1254.5 368.7L1256.6 367.4L1258.7 366.2L1255.1 361.7L1251.5 357L1249.4 358.2Z" color="#98d83e"/>
<path d="M1268.8 385.2L1272.4 388.9L1276 392.6L1278 391.3L1280.1 390.1L1276.6 386.4L1273 382.6L1270.9 383.9Z" color="#6ece58"/>
<path d="M1276 392.6L1279.5 396.2L1283.1 399.7L1285.2 398.4L1287.3 397.1L1283.7 393.6L1280.1 390.1L1278 391.3Z" color="#63cb5f"/>
<path d="M1240.2 350L1243.7 354.7L1247.3 359.5L1249.4 358.2L1251.5 357L1248 352.3L1244.4 347.5L1242.3 348.7Z" color="#aadc32"/>
<path d="M1218.7 326.1L1222.3 329.1L1225.8 332.6L1228 331.3L1230.1 330.1L1226.5 326.6L1222.9 323.6L1220.8 324.8Z" color="#dae319"/>
<path d="M1233 340.8L1236.6 345.3L1240.2 350L1242.3 348.7L1244.4 347.5L1240.8 342.8L1237.2 338.3L1235.1 339.5Z" color="#bddf26"/>
<path d="M1283.1 399.7L1286.7 403.1L1290.3 406.5L1292.3 405.1L1294.4 403.9L1290.8 400.5L1287.3 397.1L1285.2 398.4Z" color="#5ac864"/>
<path d="M1225.8 332.6L1229.4 336.5L1233 340.8L1235.1 339.5L1237.2 338.3L1233.6 334L1230.1 330.1L1228 331.3Z" color="#cde11d"/>
<path d="M1128.5 381.8L1131.9 377.4L1135.3 373.2L1137.5 371.1L1139.7 369L1136.3 373.3L1132.9 377.7L1130.7 379.7Z" color="#84d44b"/>
<path d="M1333.2 454.1L1336.8 459.9L1340.4 466L1342.4 464.6L1344.5 463.3L1340.9 457.3L1337.3 451.5L1335.3 452.8Z" color="#21a585"/>
<path d="M1363.8 545.7L1367.4 552.9L1370.9 560L1372.9 558.3L1375 556.6L1371.4 549.5L1367.9 542.3L1365.8 544Z" color="#30698e"/>
<path d="M1374 577.3L1377.6 583.9L1381.1 590.2L1383.1 588.4L1385.1 586.6L1381.6 580.3L1378 573.7L1376 575.5Z" color="#3a538b"/>
<path d="M1155.2 353.5L1158.6 349.9L1162.1 346.6L1164.2 344.8L1166.4 343.1L1162.9 346.4L1159.5 350L1157.3 351.7Z" color="#b5de2b" stroke="none"/>
<path d="M1290.3 406.5L1293.9 409.7L1297.4 413L1299.5 411.7L1301.6 410.5L1298 407.2L1294.4 403.9L1292.3 405.1Z" color="#50c46a"/>
<path d="M1353.6 513L1357.2 520.4L1360.8 527.7L1362.8 526.1L1364.8 524.6L1361.3 517.3L1357.7 510L1355.7 511.5Z" color="#277f8e"/>
<path d="M1200.2 323.3L1203.8 323.6L1207.3 324.6L1209.4 323.2L1211.6 321.9L1208 321L1204.5 320.7L1202.4 322Z" color="#e5e419"/>
<path d="M1005.2 543.5L1008.5 539.1L1011.7 534.7L1014 531.6L1016.2 528.5L1012.9 533L1009.6 537.3L1007.4 540.4Z" color="#2c738e" stroke="none"/>
<path d="M1113.1 399.8L1116.4 395.2L1119.8 390.7L1122 388.4L1124.2 386.1L1120.8 390.7L1117.4 395.3L1115.2 397.5Z" color="#69cd5b" stroke="none"/>
<path d="M1297.4 413L1301 416.3L1304.6 419.7L1306.7 418.4L1308.7 417.1L1305.1 413.8L1301.6 410.5L1299.5 411.7Z" color="#48c16e"/>
<path d="M1343.4 481.8L1347 488.6L1350.6 495.6L1352.6 494.1L1354.6 492.7L1351.1 485.7L1347.5 478.9L1345.5 480.3Z" color="#20938c"/>
<path d="M1020.6 522.4L1023.9 517.9L1027.2 513.4L1029.4 510.3L1031.6 507.3L1028.3 511.8L1025 516.2L1022.8 519.3Z" color="#26828e" stroke="none"/>
<path d="M1326.1 443.8L1329.7 448.8L1333.2 454.1L1335.3 452.8L1337.3 451.5L1333.8 446.1L1330.2 441.1L1328.1 442.4Z" color="#27ad81"/>
<path d="M1036 501.2L1039.3 496.7L1042.6 492.1L1044.8 489.1L1047 486.1L1043.7 490.7L1040.4 495.2L1038.2 498.2Z" color="#21908d" stroke="none"/>
<path d="M1304.6 419.7L1308.2 423.2L1311.8 426.9L1313.8 425.5L1315.9 424.3L1312.3 420.6L1308.7 417.1L1306.7 418.4Z" color="#40bd72"/>
<path d="M1166.4 343.1L1169.9 340.1L1173.3 337.6L1175.5 335.9L1177.6 334.3L1174.2 336.9L1170.7 339.8L1168.5 341.4Z" color="#c8e020" stroke="none"/>
<path d="M1097.6 418.9L1101 414.2L1104.3 409.4L1106.5 407L1108.7 404.5L1105.3 409.3L1102 414L1099.8 416.5Z" color="#4ec36b" stroke="none"/>
<path d="M1051.4 480.2L1054.7 475.6L1058 470.9L1060.2 467.9L1062.4 465.1L1059.1 469.8L1055.7 474.4L1053.6 477.3Z" color="#1f9e89" stroke="none"/>
<path d="M1318.9 434.8L1322.5 439.1L1326.1 443.8L1328.1 442.4L1330.2 441.1L1326.6 436.5L1323 432.2L1321 433.4Z" color="#2fb47c"/>
<path d="M1384.2 605.8L1387.8 611.1L1389.8 609.2L1391.8 607.3L1388.2 602L1386.2 603.8Z" color="#424186"/>
<path d="M1311.8 426.9L1315.3 430.7L1318.9 434.8L1321 433.4L1323 432.2L1319.5 428.1L1315.9 424.3L1313.8 425.5Z" color="#38b977"/>
<path d="M1066.8 459.4L1070.1 454.6L1073.4 449.8L1075.6 447L1077.8 444.3L1074.5 449.1L1071.1 453.8L1069 456.6Z" color="#25ab82" stroke="none"/>
<path d="M1082.2 438.9L1085.5 434.1L1088.9 429.3L1091.1 426.6L1093.2 424L1089.9 428.8L1086.5 433.6L1084.4 436.2Z" color="#35b779" stroke="none"/>
<path d="M1188.9 327.6L1192.4 326.6L1196 326.2L1198.1 324.7L1200.2 323.3L1196.7 323.7L1193.2 324.8L1191.1 326.2Z" color="#e2e418"/>
<path d="M1366.9 563.5L1370.4 570.5L1374 577.3L1376 575.5L1378 573.7L1374.5 567L1370.9 560L1368.9 561.7Z" color="#355f8d"/>
<path d="M1177.6 334.3L1181.1 332.2L1184.6 330.6L1186.8 329.1L1188.9 327.6L1185.4 329.2L1181.9 331.3L1179.8 332.8Z" color="#d8e219" stroke="none"/>
<path d="M1139.7 369L1143.1 365L1146.5 361.1L1148.7 359.1L1150.9 357.2L1147.4 361.1L1144 365.1L1141.8 367.1Z" color="#9dd93b" stroke="none"/>
<path d="M1356.7 531L1360.3 538.4L1363.8 545.7L1365.8 544L1367.9 542.3L1364.3 535L1360.8 527.7L1358.7 529.3Z" color="#2b748e"/>
<path d="M1377.1 594L1380.6 600L1384.2 605.8L1386.2 603.8L1388.2 602L1384.7 596.2L1381.1 590.2L1379.1 592.1Z" color="#3e4989"/>
<path d="M1207.3 324.6L1210.9 326.3L1214.4 328.7L1216.6 327.4L1218.7 326.1L1215.1 323.7L1211.6 321.9L1209.4 323.2Z" color="#e5e419"/>
<path d="M1336.3 468.8L1339.9 475.2L1343.4 481.8L1345.5 480.3L1347.5 478.9L1344 472.3L1340.4 466L1338.3 467.4Z" color="#1f9e89"/>
<path d="M1250.3 371.4L1253.9 375.7L1257.5 379.9L1259.6 378.5L1261.6 377.2L1258.1 373L1254.5 368.7L1252.4 370Z" color="#8bd646"/>
<path d="M1257.5 379.9L1261 384L1264.6 387.9L1266.7 386.5L1268.8 385.2L1265.2 381.2L1261.6 377.2L1259.6 378.5Z" color="#7cd250"/>
<path d="M1346.5 498.7L1350.1 505.8L1353.6 513L1355.7 511.5L1357.7 510L1354.1 502.7L1350.6 495.6L1348.5 497.1Z" color="#238a8d"/>
<path d="M1243.1 362.2L1246.7 366.9L1250.3 371.4L1252.4 370L1254.5 368.7L1250.9 364.2L1247.3 359.5L1245.2 360.8Z" color="#9bd93c"/>
<path d="M1264.6 387.9L1268.2 391.7L1271.8 395.4L1273.9 394L1276 392.6L1272.4 388.9L1268.8 385.2L1266.7 386.5Z" color="#70cf57"/>
<path d="M1271.8 395.4L1275.4 398.9L1278.9 402.4L1281 401L1283.1 399.7L1279.5 396.2L1276 392.6L1273.9 394Z" color="#65cb5e"/>
<path d="M1235.9 352.7L1239.5 357.4L1243.1 362.2L1245.2 360.8L1247.3 359.5L1243.7 354.7L1240.2 350L1238 351.3Z" color="#addc30"/>
<path d="M1124.2 386.1L1127.6 381.7L1131 377.5L1133.2 375.3L1135.3 373.2L1131.9 377.4L1128.5 381.8L1126.3 383.9Z" color="#81d34d" stroke="none"/>
<path d="M1214.4 328.7L1218 331.7L1221.6 335.2L1223.7 333.9L1225.8 332.6L1222.3 329.1L1218.7 326.1L1216.6 327.4Z" color="#dae319"/>
<path d="M1228.8 343.4L1232.3 348L1235.9 352.7L1238 351.3L1240.2 350L1236.6 345.3L1233 340.8L1230.9 342.1Z" color="#bddf26"/>
<path d="M1278.9 402.4L1282.5 405.9L1286.1 409.2L1288.2 407.8L1290.3 406.5L1286.7 403.1L1283.1 399.7L1281 401Z" color="#5ac864"/>
<path d="M1150.9 357.2L1154.3 353.6L1157.8 350.3L1159.9 348.4L1162.1 346.6L1158.6 349.9L1155.2 353.5L1153 355.3Z" color="#b5de2b" stroke="none"/>
<path d="M1016.2 528.5L1019.4 524.1L1022.7 519.6L1024.9 516.5L1027.2 513.4L1023.9 517.9L1020.6 522.4L1018.4 525.4Z" color="#27808e" stroke="none"/>
<path d="M1369.9 581.1L1373.5 587.7L1377.1 594L1379.1 592.1L1381.1 590.2L1377.6 583.9L1374 577.3L1372 579.2Z" color="#3a538b"/>
<path d="M1221.6 335.2L1225.2 339.2L1228.8 343.4L1230.9 342.1L1233 340.8L1229.4 336.5L1225.8 332.6L1223.7 333.9Z" color="#d0e11c"/>
<path d="M1359.8 549.2L1363.3 556.4L1366.9 563.5L1368.9 561.7L1370.9 560L1367.4 552.9L1363.8 545.7L1361.8 547.4Z" color="#306a8e"/>
<path d="M1329.1 457L1332.7 462.7L1336.3 468.8L1338.3 467.4L1340.4 466L1336.8 459.9L1333.2 454.1L1331.2 455.5Z" color="#21a685"/>
<path d="M1031.6 507.3L1034.9 502.7L1038.2 498.2L1040.4 495.1L1042.6 492.1L1039.3 496.7L1036 501.2L1033.8 504.2Z" color="#218e8d" stroke="none"/>
<path d="M1108.7 404.5L1112.1 399.9L1115.5 395.4L1117.6 393L1119.8 390.7L1116.4 395.2L1113.1 399.8L1110.9 402.2Z" color="#67cc5c" stroke="none"/>
<path d="M1286.1 409.2L1289.7 412.5L1293.3 415.8L1295.4 414.4L1297.4 413L1293.9 409.7L1290.3 406.5L1288.2 407.8Z" color="#52c569"/>
<path d="M1047 486.1L1050.3 481.5L1053.6 476.8L1055.8 473.8L1058 470.9L1054.7 475.6L1051.4 480.2L1049.2 483.1Z" color="#1e9c89" stroke="none"/>
<path d="M1349.6 516.3L1353.1 523.7L1356.7 531L1358.7 529.3L1360.8 527.7L1357.2 520.4L1353.6 513L1351.6 514.7Z" color="#27808e"/>
<path d="M1196 326.2L1199.5 326.4L1203 327.4L1205.2 326L1207.3 324.6L1203.8 323.6L1200.2 323.3L1198.1 324.7Z" color="#e7e419"/>
<path d="M1093.2 424L1096.6 419.2L1100 414.5L1102.2 412L1104.3 409.4L1101 414.2L1097.6 418.9L1095.4 421.4Z" color="#4cc26c" stroke="none"/>
<path d="M1062.4 465.1L1065.7 460.3L1069 455.5L1071.2 452.6L1073.4 449.8L1070.1 454.6L1066.8 459.4L1064.6 462.2Z" color="#23a983" stroke="none"/>
<path d="M1077.8 444.3L1081.1 439.5L1084.5 434.7L1086.7 431.9L1088.9 429.3L1085.5 434.1L1082.2 438.9L1080 441.6Z" color="#34b679" stroke="none"/>
<path d="M1339.4 484.8L1342.9 491.7L1346.5 498.7L1348.5 497.1L1350.6 495.6L1347 488.6L1343.4 481.8L1341.4 483.3Z" color="#1f948c"/>
<path d="M1293.3 415.8L1296.9 419.1L1300.5 422.5L1302.5 421.1L1304.6 419.7L1301 416.3L1297.4 413L1295.4 414.4Z" color="#4ac16d"/>
<path d="M1322 446.6L1325.6 451.6L1329.1 457L1331.2 455.5L1333.2 454.1L1329.7 448.8L1326.1 443.8L1324 445.1Z" color="#28ae80"/>
<path d="M1162.1 346.6L1165.5 343.6L1169 341.1L1171.2 339.3L1173.3 337.6L1169.9 340.1L1166.4 343.1L1164.2 344.8Z" color="#cae11f" stroke="none"/>
<path d="M1380.2 609.8L1383.7 615.1L1385.8 613.1L1387.8 611.1L1384.2 605.8L1382.2 607.7Z" color="#424186"/>
<path d="M1300.5 422.5L1304 426L1307.6 429.7L1309.7 428.2L1311.8 426.9L1308.2 423.2L1304.6 419.7L1302.5 421.1Z" color="#42be71"/>
<path d="M1314.8 437.6L1318.4 441.9L1322 446.6L1324 445.1L1326.1 443.8L1322.5 439.1L1318.9 434.8L1316.9 436.1Z" color="#31b57b"/>
<path d="M1135.3 373.2L1138.8 369.1L1142.2 365.2L1144.4 363.1L1146.5 361.1L1143.1 365L1139.7 369L1137.5 371.1Z" color="#9dd93b" stroke="none"/>
<path d="M1362.8 567.3L1366.4 574.3L1369.9 581.1L1372 579.2L1374 577.3L1370.4 570.5L1366.9 563.5L1364.8 565.4Z" color="#355f8d"/>
<path d="M1307.6 429.7L1311.2 433.5L1314.8 437.6L1316.9 436.1L1318.9 434.8L1315.3 430.7L1311.8 426.9L1309.7 428.2Z" color="#3aba76"/>
<path d="M1184.6 330.6L1188.1 329.6L1191.7 329.2L1193.8 327.7L1196 326.2L1192.4 326.6L1188.9 327.6L1186.8 329.1Z" color="#e2e418"/>
<path d="M1173.3 337.6L1176.8 335.5L1180.3 333.9L1182.5 332.3L1184.6 330.6L1181.1 332.2L1177.6 334.3L1175.5 335.9Z" color="#d8e219" stroke="none"/>
<path d="M1373 598L1376.6 604L1380.2 609.8L1382.2 607.7L1384.2 605.8L1380.6 600L1377.1 594L1375.1 596Z" color="#3e4989"/>
<path d="M1352.6 534.5L1356.2 541.9L1359.8 549.2L1361.8 547.4L1363.8 545.7L1360.3 538.4L1356.7 531L1354.7 532.7Z" color="#2b748e"/>
<path d="M1203 327.4L1206.6 329.1L1210.2 331.6L1212.3 330.1L1214.4 328.7L1210.9 326.3L1207.3 324.6L1205.2 326Z" color="#e5e419"/>
<path d="M1332.2 471.9L1335.8 478.2L1339.4 484.8L1341.4 483.3L1343.4 481.8L1339.9 475.2L1336.3 468.8L1334.2 470.3Z" color="#1f9e89"/>
<path d="M1011.7 534.7L1015 530.3L1018.3 525.8L1020.5 522.7L1022.7 519.6L1019.4 524.1L1016.2 528.5L1014 531.6Z" color="#277e8e" stroke="none"/>
<path d="M1342.4 501.9L1346 509.1L1349.6 516.3L1351.6 514.7L1353.6 513L1350.1 505.8L1346.5 498.7L1344.5 500.3Z" color="#238a8d"/>
<path d="M1246.1 374.3L1249.7 378.7L1253.2 382.8L1255.4 381.4L1257.5 379.9L1253.9 375.7L1250.3 371.4L1248.2 372.8Z" color="#8bd646"/>
<path d="M1253.2 382.8L1256.8 386.9L1260.4 390.8L1262.5 389.3L1264.6 387.9L1261 384L1257.5 379.9L1255.4 381.4Z" color="#7fd34e"/>
<path d="M1119.8 390.7L1123.2 386.2L1126.6 382L1128.8 379.7L1131 377.5L1127.6 381.7L1124.2 386.1L1122 388.4Z" color="#81d34d" stroke="none"/>
<path d="M1238.9 365.1L1242.5 369.8L1246.1 374.3L1248.2 372.8L1250.3 371.4L1246.7 366.9L1243.1 362.2L1241 363.6Z" color="#9dd93b"/>
<path d="M1260.4 390.8L1264 394.6L1267.6 398.3L1269.7 396.8L1271.8 395.4L1268.2 391.7L1264.6 387.9L1262.5 389.3Z" color="#70cf57"/>
<path d="M1027.2 513.4L1030.5 508.9L1033.8 504.3L1036 501.2L1038.2 498.2L1034.9 502.7L1031.6 507.3L1029.4 510.3Z" color="#228c8d" stroke="none"/>
<path d="M1267.6 398.3L1271.2 401.9L1274.8 405.4L1276.9 403.9L1278.9 402.4L1275.4 398.9L1271.8 395.4L1269.7 396.8Z" color="#67cc5c"/>
<path d="M1231.7 355.6L1235.3 360.3L1238.9 365.1L1241 363.6L1243.1 362.2L1239.5 357.4L1235.9 352.7L1233.8 354.1Z" color="#addc30"/>
<path d="M1042.6 492.1L1045.9 487.5L1049.2 482.8L1051.4 479.7L1053.6 476.8L1050.3 481.5L1047 486.1L1044.8 489.1Z" color="#1f9a8a" stroke="none"/>
<path d="M1146.5 361.1L1150 357.5L1153.4 354.2L1155.6 352.2L1157.8 350.3L1154.3 353.6L1150.9 357.2L1148.7 359.1Z" color="#b5de2b" stroke="none"/>
<path d="M1104.3 409.4L1107.7 404.8L1111.1 400.3L1113.3 397.8L1115.5 395.4L1112.1 399.9L1108.7 404.5L1106.5 407Z" color="#63cb5f" stroke="none"/>
<path d="M1365.9 585.1L1369.5 591.7L1373 598L1375.1 596L1377.1 594L1373.5 587.7L1369.9 581.1L1367.9 583Z" color="#3a538b"/>
<path d="M1210.2 331.6L1213.7 334.6L1217.3 338.1L1219.5 336.6L1221.6 335.2L1218 331.7L1214.4 328.7L1212.3 330.1Z" color="#dde318"/>
<path d="M1058 470.9L1061.3 466.1L1064.7 461.3L1066.9 458.4L1069 455.5L1065.7 460.3L1062.4 465.1L1060.2 467.9Z" color="#22a884" stroke="none"/>
<path d="M1355.7 552.9L1359.2 560.2L1362.8 567.3L1364.8 565.4L1366.9 563.5L1363.3 556.4L1359.8 549.2L1357.7 551Z" color="#306a8e"/>
<path d="M1224.5 346.3L1228.1 350.9L1231.7 355.6L1233.8 354.1L1235.9 352.7L1232.3 348L1228.8 343.4L1226.6 344.9Z" color="#c0df25"/>
<path d="M1274.8 405.4L1278.4 408.8L1281.9 412.2L1284 410.7L1286.1 409.2L1282.5 405.9L1278.9 402.4L1276.9 403.9Z" color="#5cc863"/>
<path d="M1088.9 429.3L1092.2 424.5L1095.6 419.8L1097.8 417.1L1100 414.5L1096.6 419.2L1093.2 424L1091.1 426.6Z" color="#48c16e" stroke="none"/>
<path d="M1073.4 449.8L1076.8 445L1080.1 440.2L1082.3 437.4L1084.5 434.7L1081.1 439.5L1077.8 444.3L1075.6 447Z" color="#31b57b" stroke="none"/>
<path d="M1217.3 338.1L1220.9 342L1224.5 346.3L1226.6 344.9L1228.8 343.4L1225.2 339.2L1221.6 335.2L1219.5 336.6Z" color="#d0e11c"/>
<path d="M1325 460L1328.6 465.8L1332.2 471.9L1334.2 470.3L1336.3 468.8L1332.7 462.7L1329.1 457L1327.1 458.5Z" color="#22a785"/>
<path d="M1281.9 412.2L1285.5 415.5L1289.1 418.8L1291.2 417.3L1293.3 415.8L1289.7 412.5L1286.1 409.2L1284 410.7Z" color="#54c568"/>
<path d="M1345.5 519.9L1349 527.2L1352.6 534.5L1354.7 532.7L1356.7 531L1353.1 523.7L1349.6 516.3L1347.5 518.1Z" color="#27808e"/>
<path d="M1191.7 329.2L1195.2 329.5L1198.8 330.5L1200.9 328.9L1203 327.4L1199.5 326.4L1196 326.2L1193.8 327.7Z" color="#e7e419"/>
<path d="M1335.3 488.1L1338.8 494.9L1342.4 501.9L1344.5 500.3L1346.5 498.7L1342.9 491.7L1339.4 484.8L1337.3 486.4Z" color="#1f948c"/>
<path d="M1157.8 350.3L1161.2 347.3L1164.7 344.7L1166.9 342.9L1169 341.1L1165.5 343.6L1162.1 346.6L1159.9 348.4Z" color="#c8e020" stroke="none"/>
<path d="M1289.1 418.8L1292.7 422.1L1296.3 425.5L1298.4 424L1300.5 422.5L1296.9 419.1L1293.3 415.8L1291.2 417.3Z" color="#4cc26c"/>
<path d="M1376.1 614L1379.7 619.4L1381.7 617.2L1383.7 615.1L1380.2 609.8L1378.1 611.9Z" color="#424186"/>
<path d="M1317.8 449.6L1321.4 454.6L1325 460L1327.1 458.5L1329.1 457L1325.6 451.6L1322 446.6L1319.9 448Z" color="#28ae80"/>
<path d="M1131 377.5L1134.4 373.4L1137.8 369.5L1140 367.3L1142.2 365.2L1138.8 369.1L1135.3 373.2L1133.2 375.3Z" color="#9bd93c" stroke="none"/>
<path d="M1358.7 571.3L1362.3 578.3L1365.9 585.1L1367.9 583L1369.9 581.1L1366.4 574.3L1362.8 567.3L1360.8 569.3Z" color="#355f8d"/>
<path d="M1296.3 425.5L1299.9 429L1303.5 432.6L1305.6 431.1L1307.6 429.7L1304 426L1300.5 422.5L1298.4 424Z" color="#42be71"/>
<path d="M1180.3 333.9L1183.8 332.9L1187.4 332.5L1189.5 330.8L1191.7 329.2L1188.1 329.6L1184.6 330.6L1182.5 332.3Z" color="#e5e419"/>
<path d="M1169 341.1L1172.5 339L1176 337.4L1178.2 335.6L1180.3 333.9L1176.8 335.5L1173.3 337.6L1171.2 339.3Z" color="#dae319"/>
<path d="M1310.7 440.6L1314.3 444.9L1317.8 449.6L1319.9 448L1322 446.6L1318.4 441.9L1314.8 437.6L1312.7 439Z" color="#31b57b"/>
<path d="M1303.5 432.6L1307.1 436.5L1310.7 440.6L1312.7 439L1314.8 437.6L1311.2 433.5L1307.6 429.7L1305.6 431.1Z" color="#3aba76"/>
<path d="M1369 602.2L1372.5 608.3L1376.1 614L1378.1 611.9L1380.2 609.8L1376.6 604L1373 598L1371 600.1Z" color="#3f4889"/>
<path d="M1348.5 538.3L1352.1 545.6L1355.7 552.9L1357.7 551L1359.8 549.2L1356.2 541.9L1352.6 534.5L1350.6 536.4Z" color="#2b748e"/>
<path d="M1022.7 519.6L1026 515L1029.3 510.5L1031.6 507.4L1033.8 504.3L1030.5 508.9L1027.2 513.4L1024.9 516.5Z" color="#23898e" stroke="none"/>
<path d="M1115.5 395.4L1118.9 391L1122.3 386.7L1124.5 384.3L1126.6 382L1123.2 386.2L1119.8 390.7L1117.6 393Z" color="#7fd34e" stroke="none"/>
<path d="M1038.2 498.2L1041.5 493.5L1044.8 488.8L1047 485.8L1049.2 482.8L1045.9 487.5L1042.6 492.1L1040.4 495.1Z" color="#1f978b" stroke="none"/>
<path d="M1198.8 330.5L1202.3 332.2L1205.9 334.6L1208 333.1L1210.2 331.6L1206.6 329.1L1203 327.4L1200.9 328.9Z" color="#e7e419"/>
<path d="M1328.1 475.1L1331.7 481.5L1335.3 488.1L1337.3 486.4L1339.4 484.8L1335.8 478.2L1332.2 471.9L1330.1 473.5Z" color="#1f9f88"/>
<path d="M1338.3 505.4L1341.9 512.6L1345.5 519.9L1347.5 518.1L1349.6 516.3L1346 509.1L1342.4 501.9L1340.4 503.7Z" color="#228b8d"/>
<path d="M1053.6 476.8L1056.9 472L1060.3 467.2L1062.5 464.2L1064.7 461.3L1061.3 466.1L1058 470.9L1055.8 473.8Z" color="#21a585" stroke="none"/>
<path d="M1241.8 377.4L1245.4 381.8L1249 386L1251.1 384.4L1253.2 382.8L1249.7 378.7L1246.1 374.3L1244 375.8Z" color="#8ed645"/>
<path d="M1249 386L1252.6 390L1256.2 394L1258.3 392.4L1260.4 390.8L1256.8 386.9L1253.2 382.8L1251.1 384.4Z" color="#7fd34e"/>
<path d="M1100 414.5L1103.4 409.9L1106.7 405.3L1108.9 402.8L1111.1 400.3L1107.7 404.8L1104.3 409.4L1102.2 412Z" color="#60ca60" stroke="none"/>
<path d="M1234.6 368.2L1238.2 372.9L1241.8 377.4L1244 375.8L1246.1 374.3L1242.5 369.8L1238.9 365.1L1236.8 366.6Z" color="#9dd93b"/>
<path d="M1256.2 394L1259.8 397.8L1263.4 401.5L1265.5 399.9L1267.6 398.3L1264 394.6L1260.4 390.8L1258.3 392.4Z" color="#73d056"/>
<path d="M1069 455.5L1072.4 450.7L1075.7 445.9L1077.9 443L1080.1 440.2L1076.8 445L1073.4 449.8L1071.2 452.6Z" color="#2eb37c" stroke="none"/>
<path d="M1084.5 434.7L1087.9 429.9L1091.2 425.2L1093.4 422.4L1095.6 419.8L1092.2 424.5L1088.9 429.3L1086.7 431.9Z" color="#46c06f" stroke="none"/>
<path d="M1142.2 365.2L1145.6 361.6L1149.1 358.3L1151.3 356.2L1153.4 354.2L1150 357.5L1146.5 361.1L1144.4 363.1Z" color="#b2dd2d" stroke="none"/>
<path d="M1361.8 589.3L1365.4 595.9L1369 602.2L1371 600.1L1373 598L1369.5 591.7L1365.9 585.1L1363.8 587.1Z" color="#3a538b"/>
<path d="M1263.4 401.5L1267 405.1L1270.6 408.6L1272.7 407L1274.8 405.4L1271.2 401.9L1267.6 398.3L1265.5 399.9Z" color="#67cc5c"/>
<path d="M1227.4 358.6L1231 363.4L1234.6 368.2L1236.8 366.6L1238.9 365.1L1235.3 360.3L1231.7 355.6L1229.6 357.1Z" color="#b0dd2f"/>
<path d="M1351.6 556.9L1355.2 564.1L1358.7 571.3L1360.8 569.3L1362.8 567.3L1359.2 560.2L1355.7 552.9L1353.6 554.9Z" color="#306a8e"/>
<path d="M1205.9 334.6L1209.5 337.6L1213.1 341.2L1215.2 339.6L1217.3 338.1L1213.7 334.6L1210.2 331.6L1208 333.1Z" color="#dfe318"/>
<path d="M1220.3 349.4L1223.9 353.9L1227.4 358.6L1229.6 357.1L1231.7 355.6L1228.1 350.9L1224.5 346.3L1222.4 347.8Z" color="#c2df23"/>
<path d="M1270.6 408.6L1274.2 412L1277.8 415.3L1279.9 413.7L1281.9 412.2L1278.4 408.8L1274.8 405.4L1272.7 407Z" color="#5ec962"/>
<path d="M1213.1 341.2L1216.7 345.1L1220.3 349.4L1222.4 347.8L1224.5 346.3L1220.9 342L1217.3 338.1L1215.2 339.6Z" color="#d2e21b"/>
<path d="M1320.9 463.2L1324.5 469L1328.1 475.1L1330.1 473.5L1332.2 471.9L1328.6 465.8L1325 460L1323 461.6Z" color="#22a785"/>
<path d="M1341.4 523.6L1345 530.9L1348.5 538.3L1350.6 536.4L1352.6 534.5L1349 527.2L1345.5 519.9L1343.4 521.7Z" color="#27808e"/>
<path d="M1277.8 415.3L1281.4 418.7L1284.9 422L1287 420.3L1289.1 418.8L1285.5 415.5L1281.9 412.2L1279.9 413.7Z" color="#54c568"/>
<path d="M1187.4 332.5L1190.9 332.8L1194.5 333.7L1196.6 332.1L1198.8 330.5L1195.2 329.5L1191.7 329.2L1189.5 330.8Z" color="#eae51a"/>
<path d="M1153.4 354.2L1156.9 351.2L1160.4 348.6L1162.5 346.7L1164.7 344.7L1161.2 347.3L1157.8 350.3L1155.6 352.2Z" color="#c8e020" stroke="none"/>
<path d="M1372.1 618.4L1375.6 623.8L1377.7 621.6L1379.7 619.4L1376.1 614L1374.1 616.2Z" color="#424086"/>
<path d="M1126.6 382L1130.1 377.9L1133.5 374L1135.7 371.8L1137.8 369.5L1134.4 373.4L1131 377.5L1128.8 379.7Z" color="#98d83e" stroke="none"/>
<path d="M1331.1 491.6L1334.7 498.4L1338.3 505.4L1340.4 503.7L1342.4 501.9L1338.8 494.9L1335.3 488.1L1333.2 489.8Z" color="#1f958b"/>
<path d="M1018.3 525.8L1021.6 521.2L1024.9 516.7L1027.1 513.6L1029.3 510.5L1026 515L1022.7 519.6L1020.5 522.7Z" color="#24878e" stroke="none"/>
<path d="M1284.9 422L1288.5 425.3L1292.1 428.7L1294.2 427.1L1296.3 425.5L1292.7 422.1L1289.1 418.8L1287 420.3Z" color="#4cc26c"/>
<path d="M1354.7 575.5L1358.2 582.4L1361.8 589.3L1363.8 587.1L1365.9 585.1L1362.3 578.3L1358.7 571.3L1356.7 573.3Z" color="#355e8d"/>
<path d="M1313.7 452.8L1317.3 457.8L1320.9 463.2L1323 461.6L1325 460L1321.4 454.6L1317.8 449.6L1315.8 451.2Z" color="#29af7f"/>
<path d="M1033.8 504.3L1037.1 499.6L1040.4 495L1042.6 491.9L1044.8 488.8L1041.5 493.5L1038.2 498.2L1036 501.2Z" color="#1f958b" stroke="none"/>
<path d="M1164.7 344.7L1168.2 342.7L1171.7 341.1L1173.9 339.2L1176 337.4L1172.5 339L1169 341.1L1166.9 342.9Z" color="#d8e219"/>
<path d="M1292.1 428.7L1295.7 432.2L1299.3 435.8L1301.4 434.2L1303.5 432.6L1299.9 429L1296.3 425.5L1294.2 427.1Z" color="#44bf70"/>
<path d="M1176 337.4L1179.5 336.4L1183.1 336L1185.2 334.2L1187.4 332.5L1183.8 332.9L1180.3 333.9L1178.2 335.6Z" color="#e5e419"/>
<path d="M1364.9 606.6L1368.5 612.7L1372.1 618.4L1374.1 616.2L1376.1 614L1372.5 608.3L1369 602.2L1366.9 604.4Z" color="#3f4889"/>
<path d="M1111.1 400.3L1114.5 395.9L1117.9 391.6L1120.1 389.1L1122.3 386.7L1118.9 391L1115.5 395.4L1113.3 397.8Z" color="#7ad151" stroke="none"/>
<path d="M1306.5 443.8L1310.1 448.1L1313.7 452.8L1315.8 451.2L1317.8 449.6L1314.3 444.9L1310.7 440.6L1308.6 442.1Z" color="#32b67a"/>
<path d="M1299.3 435.8L1302.9 439.7L1306.5 443.8L1308.6 442.1L1310.7 440.6L1307.1 436.5L1303.5 432.6L1301.4 434.2Z" color="#3bbb75"/>
<path d="M1049.2 482.8L1052.5 478L1055.9 473.2L1058.1 470.2L1060.3 467.2L1056.9 472L1053.6 476.8L1051.4 479.7Z" color="#20a386" stroke="none"/>
<path d="M1344.4 542.2L1348 549.6L1351.6 556.9L1353.6 554.9L1355.7 552.9L1352.1 545.6L1348.5 538.3L1346.5 540.2Z" color="#2b748e"/>
<path d="M1064.7 461.3L1068 456.5L1071.3 451.7L1073.5 448.8L1075.7 445.9L1072.4 450.7L1069 455.5L1066.9 458.4Z" color="#2cb17e" stroke="none"/>
<path d="M1095.6 419.8L1099 415.1L1102.4 410.6L1104.6 407.9L1106.7 405.3L1103.4 409.9L1100 414.5L1097.8 417.1Z" color="#5ec962" stroke="none"/>
<path d="M1080.1 440.2L1083.5 435.4L1086.8 430.7L1089 427.9L1091.2 425.2L1087.9 429.9L1084.5 434.7L1082.3 437.4Z" color="#42be71" stroke="none"/>
<path d="M1194.5 333.7L1198 335.5L1201.6 337.9L1203.8 336.2L1205.9 334.6L1202.3 332.2L1198.8 330.5L1196.6 332.1Z" color="#e7e419"/>
<path d="M1334.2 509.1L1337.8 516.3L1341.4 523.6L1343.4 521.7L1345.5 519.9L1341.9 512.6L1338.3 505.4L1336.3 507.3Z" color="#228b8d"/>
<path d="M1324 478.6L1327.6 484.9L1331.1 491.6L1333.2 489.8L1335.3 488.1L1331.7 481.5L1328.1 475.1L1326 476.8Z" color="#1f9f88"/>
<path d="M1237.6 380.7L1241.2 385.1L1244.8 389.3L1246.9 387.6L1249 386L1245.4 381.8L1241.8 377.4L1239.7 379.1Z" color="#8ed645"/>
<path d="M1244.8 389.3L1248.4 393.4L1252 397.3L1254.1 395.6L1256.2 394L1252.6 390L1249 386L1246.9 387.6Z" color="#7fd34e"/>
<path d="M1137.8 369.5L1141.3 365.9L1144.7 362.6L1146.9 360.4L1149.1 358.3L1145.6 361.6L1142.2 365.2L1140 367.3Z" color="#b2dd2d" stroke="none"/>
<path d="M1230.4 371.5L1234 376.2L1237.6 380.7L1239.7 379.1L1241.8 377.4L1238.2 372.9L1234.6 368.2L1232.5 369.8Z" color="#9dd93b"/>
<path d="M1252 397.3L1255.6 401.1L1259.2 404.8L1261.3 403.1L1263.4 401.5L1259.8 397.8L1256.2 394L1254.1 395.6Z" color="#73d056"/>
<path d="M1357.7 593.7L1361.3 600.3L1364.9 606.6L1366.9 604.4L1369 602.2L1365.4 595.9L1361.8 589.3L1359.8 591.4Z" color="#3b528b"/>
<path d="M1347.5 561.1L1351.1 568.3L1354.7 575.5L1356.7 573.3L1358.7 571.3L1355.2 564.1L1351.6 556.9L1349.5 558.9Z" color="#306a8e"/>
<path d="M1259.2 404.8L1262.8 408.4L1266.4 411.9L1268.5 410.2L1270.6 408.6L1267 405.1L1263.4 401.5L1261.3 403.1Z" color="#67cc5c"/>
<path d="M1223.2 362L1226.8 366.7L1230.4 371.5L1232.5 369.8L1234.6 368.2L1231 363.4L1227.4 358.6L1225.3 360.3Z" color="#b0dd2f"/>
<path d="M1201.6 337.9L1205.2 340.9L1208.8 344.4L1210.9 342.8L1213.1 341.2L1209.5 337.6L1205.9 334.6L1203.8 336.2Z" color="#dfe318"/>
<path d="M1216 352.7L1219.6 357.2L1223.2 362L1225.3 360.3L1227.4 358.6L1223.9 353.9L1220.3 349.4L1218.1 351Z" color="#c2df23"/>
<path d="M1266.4 411.9L1270 415.4L1273.6 418.7L1275.7 417L1277.8 415.3L1274.2 412L1270.6 408.6L1268.5 410.2Z" color="#5ec962"/>
<path d="M1208.8 344.4L1212.4 348.4L1216 352.7L1218.1 351L1220.3 349.4L1216.7 345.1L1213.1 341.2L1210.9 342.8Z" color="#d2e21b"/>
<path d="M1337.3 527.5L1340.8 534.8L1344.4 542.2L1346.5 540.2L1348.5 538.3L1345 530.9L1341.4 523.6L1339.3 525.5Z" color="#27808e"/>
<path d="M1316.8 466.7L1320.4 472.5L1324 478.6L1326 476.8L1328.1 475.1L1324.5 469L1320.9 463.2L1318.8 464.9Z" color="#22a884"/>
<path d="M1122.3 386.7L1125.7 382.6L1129.1 378.7L1131.3 376.4L1133.5 374L1130.1 377.9L1126.6 382L1124.5 384.3Z" color="#95d840" stroke="none"/>
<path d="M1368 623L1371.6 628.4L1373.6 626.1L1375.6 623.8L1372.1 618.4L1370 620.7Z" color="#424086"/>
<path d="M1149.1 358.3L1152.6 355.3L1156 352.8L1158.2 350.7L1160.4 348.6L1156.9 351.2L1153.4 354.2L1151.3 356.2Z" color="#c8e020" stroke="none"/>
<path d="M1029.3 510.5L1032.6 505.8L1036 501.1L1038.2 498L1040.4 495L1037.1 499.6L1033.8 504.3L1031.6 507.4Z" color="#20938c" stroke="none"/>
<path d="M1273.6 418.7L1277.2 422L1280.8 425.3L1282.9 423.6L1284.9 422L1281.4 418.7L1277.8 415.3L1275.7 417Z" color="#56c667"/>
<path d="M1183.1 336L1186.6 336.2L1190.2 337.2L1192.3 335.5L1194.5 333.7L1190.9 332.8L1187.4 332.5L1185.2 334.2Z" color="#eae51a"/>
<path d="M1327 495.3L1330.6 502.1L1334.2 509.1L1336.3 507.3L1338.3 505.4L1334.7 498.4L1331.1 491.6L1329.1 493.4Z" color="#1f958b"/>
<path d="M1044.8 488.8L1048.1 484.1L1051.4 479.3L1053.7 476.2L1055.9 473.2L1052.5 478L1049.2 482.8L1047 485.8Z" color="#1fa187" stroke="none"/>
<path d="M1350.6 579.8L1354.1 586.8L1357.7 593.7L1359.8 591.4L1361.8 589.3L1358.2 582.4L1354.7 575.5L1352.6 577.6Z" color="#355e8d"/>
<path d="M1280.8 425.3L1284.4 428.7L1288 432.1L1290.1 430.4L1292.1 428.7L1288.5 425.3L1284.9 422L1282.9 423.6Z" color="#4cc26c"/>
<path d="M1106.7 405.3L1110.1 400.9L1113.6 396.7L1115.7 394.1L1117.9 391.6L1114.5 395.9L1111.1 400.3L1108.9 402.8Z" color="#77d153" stroke="none"/>
<path d="M1360.8 611.2L1364.4 617.3L1368 623L1370 620.7L1372.1 618.4L1368.5 612.7L1364.9 606.6L1362.8 608.9Z" color="#3f4788"/>
<path d="M1309.6 456.2L1313.2 461.3L1316.8 466.7L1318.8 464.9L1320.9 463.2L1317.3 457.8L1313.7 452.8L1311.6 454.5Z" color="#29af7f"/>
<path d="M1060.3 467.2L1063.6 462.4L1066.9 457.6L1069.1 454.6L1071.3 451.7L1068 456.5L1064.7 461.3L1062.5 464.2Z" color="#29af7f" stroke="none"/>
<path d="M1160.4 348.6L1163.9 346.6L1167.4 345L1169.5 343L1171.7 341.1L1168.2 342.7L1164.7 344.7L1162.5 346.7Z" color="#d8e219"/>
<path d="M1171.7 341.1L1175.2 340.1L1178.8 339.7L1180.9 337.8L1183.1 336L1179.5 336.4L1176 337.4L1173.9 339.2Z" color="#e5e419"/>
<path d="M1091.2 425.2L1094.6 420.5L1098 416L1100.2 413.3L1102.4 410.6L1099 415.1L1095.6 419.8L1093.4 422.4Z" color="#5ac864" stroke="none"/>
<path d="M1075.7 445.9L1079.1 441.1L1082.5 436.4L1084.7 433.5L1086.8 430.7L1083.5 435.4L1080.1 440.2L1077.9 443Z" color="#3fbc73" stroke="none"/>
<path d="M1288 432.1L1291.6 435.6L1295.2 439.3L1297.2 437.5L1299.3 435.8L1295.7 432.2L1292.1 428.7L1290.1 430.4Z" color="#44bf70"/>
<path d="M1340.3 546.4L1343.9 553.7L1347.5 561.1L1349.5 558.9L1351.6 556.9L1348 549.6L1344.4 542.2L1342.4 544.3Z" color="#2b748e"/>
<path d="M1302.4 447.2L1306 451.6L1309.6 456.2L1311.6 454.5L1313.7 452.8L1310.1 448.1L1306.5 443.8L1304.4 445.5Z" color="#32b67a"/>
<path d="M1295.2 439.3L1298.8 443.1L1302.4 447.2L1304.4 445.5L1306.5 443.8L1302.9 439.7L1299.3 435.8L1297.2 437.5Z" color="#3bbb75"/>
<path d="M1133.5 374L1136.9 370.4L1140.4 367.1L1142.6 364.8L1144.7 362.6L1141.3 365.9L1137.8 369.5L1135.7 371.8Z" color="#b0dd2f" stroke="none"/>
<path d="M1330.1 513L1333.7 520.2L1337.3 527.5L1339.3 525.5L1341.4 523.6L1337.8 516.3L1334.2 509.1L1332.1 511.1Z" color="#228b8d"/>
<path d="M1190.2 337.2L1193.7 339L1197.3 341.4L1199.5 339.6L1201.6 337.9L1198 335.5L1194.5 333.7L1192.3 335.5Z" color="#e7e419"/>
<path d="M1319.8 482.2L1323.4 488.6L1327 495.3L1329.1 493.4L1331.1 491.6L1327.6 484.9L1324 478.6L1321.9 480.4Z" color="#1f9f88"/>
<path d="M1353.6 598.3L1357.2 604.9L1360.8 611.2L1362.8 608.9L1364.9 606.6L1361.3 600.3L1357.7 593.7L1355.7 595.9Z" color="#3b528b"/>
<path d="M1233.4 384.3L1237 388.7L1240.6 392.9L1242.7 391.1L1244.8 389.3L1241.2 385.1L1237.6 380.7L1235.5 382.5Z" color="#8ed645"/>
<path d="M1240.6 392.9L1244.2 396.9L1247.8 400.9L1249.9 399.1L1252 397.3L1248.4 393.4L1244.8 389.3L1242.7 391.1Z" color="#7fd34e"/>
<path d="M1226.1 375.1L1229.8 379.8L1233.4 384.3L1235.5 382.5L1237.6 380.7L1234 376.2L1230.4 371.5L1228.3 373.3Z" color="#9dd93b"/>
<path d="M1247.8 400.9L1251.4 404.7L1255 408.4L1257.1 406.6L1259.2 404.8L1255.6 401.1L1252 397.3L1249.9 399.1Z" color="#73d056"/>
<path d="M1343.4 565.4L1347 572.7L1350.6 579.8L1352.6 577.6L1354.7 575.5L1351.1 568.3L1347.5 561.1L1345.4 563.2Z" color="#30698e"/>
<path d="M1255 408.4L1258.6 412L1262.2 415.5L1264.3 413.7L1266.4 411.9L1262.8 408.4L1259.2 404.8L1257.1 406.6Z" color="#67cc5c"/>
<path d="M1218.9 365.5L1222.5 370.3L1226.1 375.1L1228.3 373.3L1230.4 371.5L1226.8 366.7L1223.2 362L1221.1 363.7Z" color="#b0dd2f"/>
<path d="M1024.9 516.7L1028.2 512L1031.5 507.3L1033.7 504.2L1036 501.1L1032.6 505.8L1029.3 510.5L1027.1 513.6Z" color="#20928c" stroke="none"/>
<path d="M1197.3 341.4L1200.9 344.4L1204.5 347.9L1206.6 346.2L1208.8 344.4L1205.2 340.9L1201.6 337.9L1199.5 339.6Z" color="#dfe318"/>
<path d="M1117.9 391.6L1121.3 387.5L1124.8 383.7L1127 381.2L1129.1 378.7L1125.7 382.6L1122.3 386.7L1120.1 389.1Z" color="#93d741" stroke="none"/>
<path d="M1211.7 356.2L1215.3 360.8L1218.9 365.5L1221.1 363.7L1223.2 362L1219.6 357.2L1216 352.7L1213.8 354.4Z" color="#c2df23"/>
<path d="M1262.2 415.5L1265.8 418.9L1269.4 422.3L1271.5 420.5L1273.6 418.7L1270 415.4L1266.4 411.9L1264.3 413.7Z" color="#5ec962"/>
<path d="M1040.4 495L1043.7 490.2L1047 485.4L1049.2 482.3L1051.4 479.3L1048.1 484.1L1044.8 488.8L1042.6 491.9Z" color="#1fa088" stroke="none"/>
<path d="M1204.5 347.9L1208.1 351.9L1211.7 356.2L1213.8 354.4L1216 352.7L1212.4 348.4L1208.8 344.4L1206.6 346.2Z" color="#d2e21b"/>
<path d="M1363.9 627.9L1367.5 633.3L1369.5 630.8L1371.6 628.4L1368 623L1365.9 625.4Z" color="#423f85"/>
<path d="M1333.1 531.6L1336.7 539L1340.3 546.4L1342.4 544.3L1344.4 542.2L1340.8 534.8L1337.3 527.5L1335.2 529.5Z" color="#27808e"/>
<path d="M1144.7 362.6L1148.2 359.6L1151.7 357.1L1153.9 354.9L1156 352.8L1152.6 355.3L1149.1 358.3L1146.9 360.4Z" color="#c5e021" stroke="none"/>
<path d="M1312.6 470.3L1316.2 476.1L1319.8 482.2L1321.9 480.4L1324 478.6L1320.4 472.5L1316.8 466.7L1314.7 468.5Z" color="#22a884"/>
<path d="M1055.9 473.2L1059.2 468.4L1062.5 463.6L1064.7 460.6L1066.9 457.6L1063.6 462.4L1060.3 467.2L1058.1 470.2Z" color="#27ad81" stroke="none"/>
<path d="M1269.4 422.3L1273 425.6L1276.6 429L1278.7 427.1L1280.8 425.3L1277.2 422L1273.6 418.7L1271.5 420.5Z" color="#56c667"/>
<path d="M1178.8 339.7L1182.3 339.9L1185.9 340.9L1188 339L1190.2 337.2L1186.6 336.2L1183.1 336L1180.9 337.8Z" color="#eae51a"/>
<path d="M1102.4 410.6L1105.8 406.2L1109.2 401.9L1111.4 399.3L1113.6 396.7L1110.1 400.9L1106.7 405.3L1104.6 407.9Z" color="#75d054" stroke="none"/>
<path d="M1346.4 584.4L1350 591.4L1353.6 598.3L1355.7 595.9L1357.7 593.7L1354.1 586.8L1350.6 579.8L1348.5 582.1Z" color="#365d8d"/>
<path d="M1322.9 499.2L1326.5 506L1330.1 513L1332.1 511.1L1334.2 509.1L1330.6 502.1L1327 495.3L1325 497.2Z" color="#1f958b"/>
<path d="M1071.3 451.7L1074.7 446.9L1078.1 442.2L1080.3 439.3L1082.5 436.4L1079.1 441.1L1075.7 445.9L1073.5 448.8Z" color="#3bbb75" stroke="none"/>
<path d="M1086.8 430.7L1090.2 426.1L1093.6 421.6L1095.8 418.8L1098 416L1094.6 420.5L1091.2 425.2L1089 427.9Z" color="#56c667" stroke="none"/>
<path d="M1356.7 616L1360.3 622.1L1363.9 627.9L1365.9 625.4L1368 623L1364.4 617.3L1360.8 611.2L1358.8 613.6Z" color="#404688"/>
<path d="M1276.6 429L1280.2 432.3L1283.8 435.7L1285.9 433.9L1288 432.1L1284.4 428.7L1280.8 425.3L1278.7 427.1Z" color="#4ec36b"/>
<path d="M1156 352.8L1159.5 350.7L1163 349.1L1165.2 347L1167.4 345L1163.9 346.6L1160.4 348.6L1158.2 350.7Z" color="#d8e219"/>
<path d="M1305.4 459.9L1309 464.9L1312.6 470.3L1314.7 468.5L1316.8 466.7L1313.2 461.3L1309.6 456.2L1307.5 458Z" color="#29af7f"/>
<path d="M1167.4 345L1170.9 344L1174.4 343.6L1176.6 341.6L1178.8 339.7L1175.2 340.1L1171.7 341.1L1169.5 343Z" color="#e2e418"/>
<path d="M1336.2 550.7L1339.8 558.1L1343.4 565.4L1345.4 563.2L1347.5 561.1L1343.9 553.7L1340.3 546.4L1338.3 548.5Z" color="#2b748e"/>
<path d="M1283.8 435.7L1287.4 439.2L1291 442.9L1293.1 441L1295.2 439.3L1291.6 435.6L1288 432.1L1285.9 433.9Z" color="#44bf70"/>
<path d="M1298.2 450.8L1301.8 455.2L1305.4 459.9L1307.5 458L1309.6 456.2L1306 451.6L1302.4 447.2L1300.3 449Z" color="#32b67a"/>
<path d="M1291 442.9L1294.6 446.7L1298.2 450.8L1300.3 449L1302.4 447.2L1298.8 443.1L1295.2 439.3L1293.1 441Z" color="#3bbb75"/>
<path d="M1129.1 378.7L1132.6 375.1L1136 371.8L1138.2 369.4L1140.4 367.1L1136.9 370.4L1133.5 374L1131.3 376.4Z" color="#addc30" stroke="none"/>
<path d="M1325.9 517.2L1329.5 524.3L1333.1 531.6L1335.2 529.5L1337.3 527.5L1333.7 520.2L1330.1 513L1328 515.1Z" color="#238a8d"/>
<path d="M1349.5 603.1L1353.1 609.7L1356.7 616L1358.8 613.6L1360.8 611.2L1357.2 604.9L1353.6 598.3L1351.6 600.6Z" color="#3b518b"/>
<path d="M1185.9 340.9L1189.4 342.7L1193 345.1L1195.2 343.2L1197.3 341.4L1193.7 339L1190.2 337.2L1188 339Z" color="#e7e419"/>
<path d="M1315.7 486.1L1319.3 492.5L1322.9 499.2L1325 497.2L1327 495.3L1323.4 488.6L1319.8 482.2L1317.8 484.1Z" color="#1f9f88"/>
<path d="M1229.1 388L1232.7 392.4L1236.3 396.6L1238.4 394.7L1240.6 392.9L1237 388.7L1233.4 384.3L1231.2 386.1Z" color="#8ed645"/>
<path d="M1236.3 396.6L1239.9 400.7L1243.5 404.7L1245.7 402.7L1247.8 400.9L1244.2 396.9L1240.6 392.9L1238.4 394.7Z" color="#7fd34e"/>
<path d="M1339.3 570L1342.9 577.3L1346.4 584.4L1348.5 582.1L1350.6 579.8L1347 572.7L1343.4 565.4L1341.3 567.7Z" color="#31688e"/>
<path d="M1221.9 378.8L1225.5 383.5L1229.1 388L1231.2 386.1L1233.4 384.3L1229.8 379.8L1226.1 375.1L1224 376.9Z" color="#9dd93b"/>
<path d="M1243.5 404.7L1247.1 408.5L1250.7 412.2L1252.9 410.3L1255 408.4L1251.4 404.7L1247.8 400.9L1245.7 402.7Z" color="#73d056"/>
<path d="M1036 501.1L1039.3 496.4L1042.6 491.6L1044.8 488.5L1047 485.4L1043.7 490.2L1040.4 495L1038.2 498Z" color="#1f9e89" stroke="none"/>
<path d="M1113.6 396.7L1117 392.6L1120.4 388.7L1122.6 386.2L1124.8 383.7L1121.3 387.5L1117.9 391.6L1115.7 394.1Z" color="#90d743" stroke="none"/>
<path d="M1250.7 412.2L1254.3 415.8L1258 419.3L1260.1 417.4L1262.2 415.5L1258.6 412L1255 408.4L1252.9 410.3Z" color="#67cc5c"/>
<path d="M1214.7 369.2L1218.3 374L1221.9 378.8L1224 376.9L1226.1 375.1L1222.5 370.3L1218.9 365.5L1216.8 367.3Z" color="#b0dd2f"/>
<path d="M1051.4 479.3L1054.8 474.5L1058.1 469.7L1060.3 466.6L1062.5 463.6L1059.2 468.4L1055.9 473.2L1053.7 476.2Z" color="#25ac82" stroke="none"/>
<path d="M1359.8 632.9L1363.4 638.3L1365.4 635.7L1367.5 633.3L1363.9 627.9L1361.8 630.3Z" color="#433e85"/>
<path d="M1193 345.1L1196.6 348.1L1200.2 351.6L1202.4 349.8L1204.5 347.9L1200.9 344.4L1197.3 341.4L1195.2 343.2Z" color="#dfe318"/>
<path d="M1207.4 359.9L1211 364.5L1214.7 369.2L1216.8 367.3L1218.9 365.5L1215.3 360.8L1211.7 356.2L1209.6 358Z" color="#c2df23"/>
<path d="M1140.4 367.1L1143.9 364.1L1147.3 361.6L1149.5 359.3L1151.7 357.1L1148.2 359.6L1144.7 362.6L1142.6 364.8Z" color="#c2df23" stroke="none"/>
<path d="M1258 419.3L1261.6 422.7L1265.2 426.1L1267.3 424.2L1269.4 422.3L1265.8 418.9L1262.2 415.5L1260.1 417.4Z" color="#5ec962"/>
<path d="M1329 536L1332.6 543.3L1336.2 550.7L1338.3 548.5L1340.3 546.4L1336.7 539L1333.1 531.6L1331.1 533.8Z" color="#277f8e"/>
<path d="M1098 416L1101.4 411.6L1104.8 407.3L1107 404.6L1109.2 401.9L1105.8 406.2L1102.4 410.6L1100.2 413.3Z" color="#70cf57" stroke="none"/>
<path d="M1066.9 457.6L1070.3 452.8L1073.7 448.1L1075.9 445.2L1078.1 442.2L1074.7 446.9L1071.3 451.7L1069.1 454.6Z" color="#38b977" stroke="none"/>
<path d="M1200.2 351.6L1203.8 355.6L1207.4 359.9L1209.6 358L1211.7 356.2L1208.1 351.9L1204.5 347.9L1202.4 349.8Z" color="#d2e21b"/>
<path d="M1082.5 436.4L1085.8 431.8L1089.2 427.2L1091.4 424.4L1093.6 421.6L1090.2 426.1L1086.8 430.7L1084.7 433.5Z" color="#52c569" stroke="none"/>
<path d="M1308.5 474.2L1312.1 480L1315.7 486.1L1317.8 484.1L1319.8 482.2L1316.2 476.1L1312.6 470.3L1310.5 472.2Z" color="#22a884"/>
<path d="M1342.3 589.2L1345.9 596.2L1349.5 603.1L1351.6 600.6L1353.6 598.3L1350 591.4L1346.4 584.4L1344.4 586.8Z" color="#365c8d"/>
<path d="M1174.4 343.6L1178 343.8L1181.5 344.8L1183.7 342.8L1185.9 340.9L1182.3 339.9L1178.8 339.7L1176.6 341.6Z" color="#e7e419"/>
<path d="M1265.2 426.1L1268.8 429.5L1272.4 432.8L1274.5 430.8L1276.6 429L1273 425.6L1269.4 422.3L1267.3 424.2Z" color="#56c667"/>
<path d="M1352.6 621L1356.2 627.1L1359.8 632.9L1361.8 630.3L1363.9 627.9L1360.3 622.1L1356.7 616L1354.7 618.5Z" color="#404588"/>
<path d="M1318.7 503.3L1322.3 510.1L1325.9 517.2L1328 515.1L1330.1 513L1326.5 506L1322.9 499.2L1320.8 501.2Z" color="#1f948c"/>
<path d="M1151.7 357.1L1155.2 355L1158.7 353.4L1160.9 351.2L1163 349.1L1159.5 350.7L1156 352.8L1153.9 354.9Z" color="#d5e21a"/>
<path d="M1272.4 432.8L1276 436.1L1279.6 439.5L1281.7 437.6L1283.8 435.7L1280.2 432.3L1276.6 429L1274.5 430.8Z" color="#4cc26c"/>
<path d="M1163 349.1L1166.6 348.1L1170.1 347.7L1172.3 345.6L1174.4 343.6L1170.9 344L1167.4 345L1165.2 347Z" color="#e2e418"/>
<path d="M1332.1 555.3L1335.7 562.7L1339.3 570L1341.3 567.7L1343.4 565.4L1339.8 558.1L1336.2 550.7L1334.1 553Z" color="#2c738e"/>
<path d="M1301.2 463.7L1304.9 468.8L1308.5 474.2L1310.5 472.2L1312.6 470.3L1309 464.9L1305.4 459.9L1303.3 461.8Z" color="#29af7f"/>
<path d="M1279.6 439.5L1283.2 443L1286.8 446.7L1288.9 444.8L1291 442.9L1287.4 439.2L1283.8 435.7L1281.7 437.6Z" color="#44bf70"/>
<path d="M1124.8 383.7L1128.2 380L1131.7 376.7L1133.9 374.2L1136 371.8L1132.6 375.1L1129.1 378.7L1127 381.2Z" color="#aadc32" stroke="none"/>
<path d="M1294 454.7L1297.6 459L1301.2 463.7L1303.3 461.8L1305.4 459.9L1301.8 455.2L1298.2 450.8L1296.1 452.7Z" color="#32b67a"/>
<path d="M1286.8 446.7L1290.4 450.6L1294 454.7L1296.1 452.7L1298.2 450.8L1294.6 446.7L1291 442.9L1288.9 444.8Z" color="#3bbb75"/>
<path d="M1345.4 608L1349 614.7L1352.6 621L1354.7 618.5L1356.7 616L1353.1 609.7L1349.5 603.1L1347.5 605.5Z" color="#3c508b"/>
<path d="M1031.5 507.3L1034.9 502.6L1038.2 497.8L1040.4 494.7L1042.6 491.6L1039.3 496.4L1036 501.1L1033.7 504.2Z" color="#1e9b8a" stroke="none"/>
<path d="M1321.8 521.5L1325.4 528.7L1329 536L1331.1 533.8L1333.1 531.6L1329.5 524.3L1325.9 517.2L1323.9 519.3Z" color="#238a8d"/>
<path d="M1181.5 344.8L1185.1 346.6L1188.7 349L1190.9 347L1193 345.1L1189.4 342.7L1185.9 340.9L1183.7 342.8Z" color="#e7e419"/>
<path d="M1311.5 490.2L1315.1 496.6L1318.7 503.3L1320.8 501.2L1322.9 499.2L1319.3 492.5L1315.7 486.1L1313.6 488.1Z" color="#1f9f88"/>
<path d="M1335.1 574.8L1338.7 582L1342.3 589.2L1344.4 586.8L1346.4 584.4L1342.9 577.3L1339.3 570L1337.2 572.4Z" color="#31688e"/>
<path d="M1047 485.4L1050.4 480.6L1053.7 475.8L1055.9 472.7L1058.1 469.7L1054.8 474.5L1051.4 479.3L1049.2 482.3Z" color="#24aa83" stroke="none"/>
<path d="M1224.8 392L1228.5 396.4L1232.1 400.6L1234.2 398.6L1236.3 396.6L1232.7 392.4L1229.1 388L1227 390Z" color="#8ed645"/>
<path d="M1232.1 400.6L1235.7 404.7L1239.3 408.6L1241.4 406.6L1243.5 404.7L1239.9 400.7L1236.3 396.6L1234.2 398.6Z" color="#7fd34e"/>
<path d="M1109.2 401.9L1112.6 397.9L1116 394L1118.2 391.3L1120.4 388.7L1117 392.6L1113.6 396.7L1111.4 399.3Z" color="#8bd646" stroke="none"/>
<path d="M1217.6 382.8L1221.2 387.5L1224.8 392L1227 390L1229.1 388L1225.5 383.5L1221.9 378.8L1219.7 380.8Z" color="#9dd93b"/>
<path d="M1239.3 408.6L1242.9 412.5L1246.5 416.2L1248.6 414.2L1250.7 412.2L1247.1 408.5L1243.5 404.7L1241.4 406.6Z" color="#73d056"/>
<path d="M1062.5 463.6L1065.9 458.8L1069.3 454.1L1071.5 451.1L1073.7 448.1L1070.3 452.8L1066.9 457.6L1064.7 460.6Z" color="#35b779" stroke="none"/>
<path d="M1355.7 638.1L1359.3 643.5L1361.3 640.8L1363.4 638.3L1359.8 632.9L1357.7 635.4Z" color="#433d84"/>
<path d="M1093.6 421.6L1097 417.1L1100.4 412.9L1102.6 410.1L1104.8 407.3L1101.4 411.6L1098 416L1095.8 418.8Z" color="#6ccd5a" stroke="none"/>
<path d="M1246.5 416.2L1250.1 419.8L1253.7 423.3L1255.8 421.3L1258 419.3L1254.3 415.8L1250.7 412.2L1248.6 414.2Z" color="#67cc5c"/>
<path d="M1210.4 373.1L1214 378L1217.6 382.8L1219.7 380.8L1221.9 378.8L1218.3 374L1214.7 369.2L1212.5 371.1Z" color="#b0dd2f"/>
<path d="M1078.1 442.2L1081.4 437.6L1084.8 433L1087 430.1L1089.2 427.2L1085.8 431.8L1082.5 436.4L1080.3 439.3Z" color="#50c46a" stroke="none"/>
<path d="M1136 371.8L1139.5 368.9L1143 366.3L1145.2 363.9L1147.3 361.6L1143.9 364.1L1140.4 367.1L1138.2 369.4Z" color="#c0df25"/>
<path d="M1188.7 349L1192.3 352L1195.9 355.6L1198.1 353.6L1200.2 351.6L1196.6 348.1L1193 345.1L1190.9 347Z" color="#dfe318"/>
<path d="M1324.9 540.5L1328.5 547.9L1332.1 555.3L1334.1 553L1336.2 550.7L1332.6 543.3L1329 536L1326.9 538.2Z" color="#277f8e"/>
<path d="M1203.1 363.9L1206.8 368.4L1210.4 373.1L1212.5 371.1L1214.7 369.2L1211 364.5L1207.4 359.9L1205.3 361.9Z" color="#c2df23"/>
<path d="M1253.7 423.3L1257.3 426.8L1260.9 430.1L1263.1 428.1L1265.2 426.1L1261.6 422.7L1258 419.3L1255.8 421.3Z" color="#5ec962"/>
<path d="M1195.9 355.6L1199.5 359.5L1203.1 363.9L1205.3 361.9L1207.4 359.9L1203.8 355.6L1200.2 351.6L1198.1 353.6Z" color="#d2e21b"/>
<path d="M1338.2 594.2L1341.8 601.2L1345.4 608L1347.5 605.5L1349.5 603.1L1345.9 596.2L1342.3 589.2L1340.3 591.7Z" color="#365c8d"/>
<path d="M1348.5 626.2L1352.1 632.3L1355.7 638.1L1357.7 635.4L1359.8 632.9L1356.2 627.1L1352.6 621L1350.5 623.6Z" color="#414487"/>
<path d="M1304.3 478.3L1307.9 484.1L1311.5 490.2L1313.6 488.1L1315.7 486.1L1312.1 480L1308.5 474.2L1306.4 476.2Z" color="#22a785"/>
<path d="M1170.1 347.7L1173.7 347.9L1177.2 348.9L1179.4 346.9L1181.5 344.8L1178 343.8L1174.4 343.6L1172.3 345.6Z" color="#e7e419"/>
<path d="M1260.9 430.1L1264.5 433.5L1268.2 436.8L1270.3 434.8L1272.4 432.8L1268.8 429.5L1265.2 426.1L1263.1 428.1Z" color="#54c568"/>
<path d="M1314.6 507.6L1318.2 514.4L1321.8 521.5L1323.9 519.3L1325.9 517.2L1322.3 510.1L1318.7 503.3L1316.7 505.4Z" color="#1f948c"/>
<path d="M1147.3 361.6L1150.8 359.5L1154.4 357.9L1156.5 355.6L1158.7 353.4L1155.2 355L1151.7 357.1L1149.5 359.3Z" color="#d2e21b"/>
<path d="M1158.7 353.4L1162.2 352.4L1165.8 352L1167.9 349.8L1170.1 347.7L1166.6 348.1L1163 349.1L1160.9 351.2Z" color="#dfe318"/>
<path d="M1327.9 560L1331.5 567.4L1335.1 574.8L1337.2 572.4L1339.3 570L1335.7 562.7L1332.1 555.3L1330 557.6Z" color="#2c728e"/>
<path d="M1268.2 436.8L1271.8 440.1L1275.4 443.5L1277.5 441.5L1279.6 439.5L1276 436.1L1272.4 432.8L1270.3 434.8Z" color="#4cc26c"/>
<path d="M1120.4 388.7L1123.8 385.1L1127.3 381.8L1129.5 379.2L1131.7 376.7L1128.2 380L1124.8 383.7L1122.6 386.2Z" color="#a5db36" stroke="none"/>
<path d="M1297.1 467.8L1300.7 472.8L1304.3 478.3L1306.4 476.2L1308.5 474.2L1304.9 468.8L1301.2 463.7L1299.2 465.7Z" color="#29af7f"/>
<path d="M1275.4 443.5L1279 447.1L1282.6 450.8L1284.7 448.7L1286.8 446.7L1283.2 443L1279.6 439.5L1277.5 441.5Z" color="#44bf70"/>
<path d="M1341.3 613.2L1344.9 619.8L1348.5 626.2L1350.5 623.6L1352.6 621L1349 614.7L1345.4 608L1343.3 610.6Z" color="#3c4f8a"/>
<path d="M1289.8 458.7L1293.5 463.1L1297.1 467.8L1299.2 465.7L1301.2 463.7L1297.6 459L1294 454.7L1291.9 456.7Z" color="#32b67a"/>
<path d="M1042.6 491.6L1045.9 486.8L1049.3 482L1051.5 478.9L1053.7 475.8L1050.4 480.6L1047 485.4L1044.8 488.5Z" color="#22a785" stroke="none"/>
<path d="M1282.6 450.8L1286.2 454.6L1289.8 458.7L1291.9 456.7L1294 454.7L1290.4 450.6L1286.8 446.7L1284.7 448.7Z" color="#3bbb75"/>
<path d="M1317.6 526L1321.3 533.2L1324.9 540.5L1326.9 538.2L1329 536L1325.4 528.7L1321.8 521.5L1319.7 523.7Z" color="#23898e"/>
<path d="M1104.8 407.3L1108.2 403.3L1111.7 399.4L1113.8 396.7L1116 394L1112.6 397.9L1109.2 401.9L1107 404.6Z" color="#89d548" stroke="none"/>
<path d="M1331 579.7L1334.6 587L1338.2 594.2L1340.3 591.7L1342.3 589.2L1338.7 582L1335.1 574.8L1333.1 577.2Z" color="#31678e"/>
<path d="M1058.1 469.7L1061.5 464.9L1064.8 460.2L1067 457.2L1069.3 454.1L1065.9 458.8L1062.5 463.6L1060.3 466.6Z" color="#32b67a" stroke="none"/>
<path d="M1177.2 348.9L1180.8 350.7L1184.4 353.1L1186.6 351L1188.7 349L1185.1 346.6L1181.5 344.8L1179.4 346.9Z" color="#e5e419"/>
<path d="M1307.4 494.5L1311 500.9L1314.6 507.6L1316.7 505.4L1318.7 503.3L1315.1 496.6L1311.5 490.2L1309.4 492.3Z" color="#1f9e89"/>
<path d="M1089.2 427.2L1092.6 422.8L1096 418.6L1098.2 415.7L1100.4 412.9L1097 417.1L1093.6 421.6L1091.4 424.4Z" color="#69cd5b" stroke="none"/>
<path d="M1220.6 396.2L1224.2 400.6L1227.8 404.8L1229.9 402.7L1232.1 400.6L1228.5 396.4L1224.8 392L1222.7 394.1Z" color="#8bd646"/>
<path d="M1073.7 448.1L1077 443.5L1080.4 439L1082.6 436L1084.8 433L1081.4 437.6L1078.1 442.2L1075.9 445.2Z" color="#4cc26c" stroke="none"/>
<path d="M1227.8 404.8L1231.4 408.9L1235 412.8L1237.2 410.7L1239.3 408.6L1235.7 404.7L1232.1 400.6L1229.9 402.7Z" color="#7fd34e"/>
<path d="M1351.6 643.4L1355.2 648.8L1357.2 646.1L1359.3 643.5L1355.7 638.1L1353.6 640.7Z" color="#443b84"/>
<path d="M1213.3 386.9L1217 391.6L1220.6 396.2L1222.7 394.1L1224.8 392L1221.2 387.5L1217.6 382.8L1215.5 384.8Z" color="#9dd93b"/>
<path d="M1235 412.8L1238.6 416.7L1242.3 420.4L1244.4 418.3L1246.5 416.2L1242.9 412.5L1239.3 408.6L1237.2 410.7Z" color="#70cf57"/>
<path d="M1131.7 376.7L1135.1 373.8L1138.6 371.2L1140.8 368.7L1143 366.3L1139.5 368.9L1136 371.8L1133.9 374.2Z" color="#bddf26"/>
<path d="M1242.3 420.4L1245.9 424L1249.5 427.5L1251.6 425.4L1253.7 423.3L1250.1 419.8L1246.5 416.2L1244.4 418.3Z" color="#67cc5c"/>
<path d="M1206.1 377.3L1209.7 382.1L1213.3 386.9L1215.5 384.8L1217.6 382.8L1214 378L1210.4 373.1L1208.2 375.2Z" color="#addc30"/>
<path d="M1320.7 545.3L1324.3 552.6L1327.9 560L1330 557.6L1332.1 555.3L1328.5 547.9L1324.9 540.5L1322.8 542.9Z" color="#277e8e"/>
<path d="M1184.4 353.1L1188 356.2L1191.6 359.7L1193.8 357.6L1195.9 355.6L1192.3 352L1188.7 349L1186.6 351Z" color="#dde318"/>
<path d="M1334.1 599.3L1337.7 606.4L1341.3 613.2L1343.3 610.6L1345.4 608L1341.8 601.2L1338.2 594.2L1336.1 596.7Z" color="#375a8c"/>
<path d="M1198.8 368L1202.5 372.6L1206.1 377.3L1208.2 375.2L1210.4 373.1L1206.8 368.4L1203.1 363.9L1201 365.9Z" color="#c0df25"/>
<path d="M1344.4 631.6L1348 637.7L1351.6 643.4L1353.6 640.7L1355.7 638.1L1352.1 632.3L1348.5 626.2L1346.4 628.9Z" color="#414287"/>
<path d="M1249.5 427.5L1253.1 431L1256.7 434.4L1258.8 432.2L1260.9 430.1L1257.3 426.8L1253.7 423.3L1251.6 425.4Z" color="#5cc863"/>
<path d="M1191.6 359.7L1195.2 363.7L1198.8 368L1201 365.9L1203.1 363.9L1199.5 359.5L1195.9 355.6L1193.8 357.6Z" color="#d0e11c"/>
<path d="M1300.1 482.6L1303.7 488.4L1307.4 494.5L1309.4 492.3L1311.5 490.2L1307.9 484.1L1304.3 478.3L1302.2 480.4Z" color="#22a785"/>
<path d="M1165.8 352L1169.3 352.3L1172.9 353.3L1175.1 351.1L1177.2 348.9L1173.7 347.9L1170.1 347.7L1167.9 349.8Z" color="#e5e419"/>
<path d="M1256.7 434.4L1260.3 437.7L1263.9 441L1266 438.9L1268.2 436.8L1264.5 433.5L1260.9 430.1L1258.8 432.2Z" color="#54c568"/>
<path d="M1143 366.3L1146.5 364.2L1150 362.6L1152.2 360.3L1154.4 357.9L1150.8 359.5L1147.3 361.6L1145.2 363.9Z" color="#d0e11c"/>
<path d="M1310.4 512.1L1314 519L1317.6 526L1319.7 523.7L1321.8 521.5L1318.2 514.4L1314.6 507.6L1312.5 509.8Z" color="#20938c"/>
<path d="M1116 394L1119.5 390.4L1122.9 387L1125.1 384.4L1127.3 381.8L1123.8 385.1L1120.4 388.7L1118.2 391.3Z" color="#a2da37" stroke="none"/>
<path d="M1323.8 565L1327.4 572.4L1331 579.7L1333.1 577.2L1335.1 574.8L1331.5 567.4L1327.9 560L1325.9 562.5Z" color="#2c718e"/>
<path d="M1154.4 357.9L1157.9 356.9L1161.4 356.5L1163.6 354.2L1165.8 352L1162.2 352.4L1158.7 353.4L1156.5 355.6Z" color="#dde318"/>
<path d="M1263.9 441L1267.6 444.4L1271.2 447.8L1273.3 445.6L1275.4 443.5L1271.8 440.1L1268.2 436.8L1266 438.9Z" color="#4cc26c"/>
<path d="M1038.2 497.8L1041.5 493L1044.8 488.2L1047.1 485.1L1049.3 482L1045.9 486.8L1042.6 491.6L1040.4 494.7Z" color="#21a585" stroke="none"/>
<path d="M1292.9 472.1L1296.5 477.1L1300.1 482.6L1302.2 480.4L1304.3 478.3L1300.7 472.8L1297.1 467.8L1295 469.9Z" color="#28ae80"/>
<path d="M1337.1 618.6L1340.7 625.2L1344.4 631.6L1346.4 628.9L1348.5 626.2L1344.9 619.8L1341.3 613.2L1339.2 615.9Z" color="#3d4e8a"/>
<path d="M1271.2 447.8L1274.8 451.3L1278.4 455L1280.5 452.9L1282.6 450.8L1279 447.1L1275.4 443.5L1273.3 445.6Z" color="#42be71"/>
<path d="M1053.7 475.8L1057.1 471.1L1060.4 466.3L1062.6 463.3L1064.8 460.2L1061.5 464.9L1058.1 469.7L1055.9 472.7Z" color="#2eb37c" stroke="none"/>
<path d="M1100.4 412.9L1103.8 408.8L1107.3 404.9L1109.5 402.2L1111.7 399.4L1108.2 403.3L1104.8 407.3L1102.6 410.1Z" color="#84d44b" stroke="none"/>
<path d="M1285.6 463L1289.3 467.4L1292.9 472.1L1295 469.9L1297.1 467.8L1293.5 463.1L1289.8 458.7L1287.7 460.8Z" color="#31b57b"/>
<path d="M1278.4 455L1282 458.9L1285.6 463L1287.7 460.8L1289.8 458.7L1286.2 454.6L1282.6 450.8L1280.5 452.9Z" color="#3aba76"/>
<path d="M1069.3 454.1L1072.6 449.5L1076 445L1078.2 442L1080.4 439L1077 443.5L1073.7 448.1L1071.5 451.1Z" color="#46c06f" stroke="none"/>
<path d="M1313.5 530.7L1317.1 537.9L1320.7 545.3L1322.8 542.9L1324.9 540.5L1321.3 533.2L1317.6 526L1315.6 528.4Z" color="#23888e"/>
<path d="M1084.8 433L1088.2 428.6L1091.6 424.4L1093.8 421.5L1096 418.6L1092.6 422.8L1089.2 427.2L1087 430.1Z" color="#65cb5e" stroke="none"/>
<path d="M1326.8 584.9L1330.5 592.2L1334.1 599.3L1336.1 596.7L1338.2 594.2L1334.6 587L1331 579.7L1328.9 582.3Z" color="#31668e"/>
<path d="M1172.9 353.3L1176.5 355L1180.1 357.5L1182.2 355.3L1184.4 353.1L1180.8 350.7L1177.2 348.9L1175.1 351.1Z" color="#e5e419"/>
<path d="M1347.4 649L1351.1 654.4L1353.1 651.6L1355.2 648.8L1351.6 643.4L1349.5 646.2Z" color="#443983"/>
<path d="M1303.2 499L1306.8 505.4L1310.4 512.1L1312.5 509.8L1314.6 507.6L1311 500.9L1307.4 494.5L1305.3 496.7Z" color="#1f9e89"/>
<path d="M1216.3 400.6L1219.9 405L1223.5 409.2L1225.7 407L1227.8 404.8L1224.2 400.6L1220.6 396.2L1218.4 398.4Z" color="#8bd646"/>
<path d="M1223.5 409.2L1227.2 413.3L1230.8 417.2L1232.9 415L1235 412.8L1231.4 408.9L1227.8 404.8L1225.7 407Z" color="#7cd250"/>
<path d="M1209 391.3L1212.7 396L1216.3 400.6L1218.4 398.4L1220.6 396.2L1217 391.6L1213.3 386.9L1211.2 389.1Z" color="#9bd93c"/>
<path d="M1230.8 417.2L1234.4 421.1L1238 424.8L1240.1 422.6L1242.3 420.4L1238.6 416.7L1235 412.8L1232.9 415Z" color="#70cf57"/>
<path d="M1127.3 381.8L1130.8 378.8L1134.3 376.3L1136.4 373.7L1138.6 371.2L1135.1 373.8L1131.7 376.7L1129.5 379.2Z" color="#bade28"/>
<path d="M1238 424.8L1241.6 428.4L1245.2 432L1247.4 429.7L1249.5 427.5L1245.9 424L1242.3 420.4L1240.1 422.6Z" color="#65cb5e"/>
<path d="M1201.8 381.7L1205.4 386.5L1209 391.3L1211.2 389.1L1213.3 386.9L1209.7 382.1L1206.1 377.3L1203.9 379.5Z" color="#addc30"/>
<path d="M1316.5 550.2L1320.2 557.6L1323.8 565L1325.9 562.5L1327.9 560L1324.3 552.6L1320.7 545.3L1318.6 547.7Z" color="#287d8e"/>
<path d="M1340.2 637.1L1343.8 643.2L1347.4 649L1349.5 646.2L1351.6 643.4L1348 637.7L1344.4 631.6L1342.3 634.3Z" color="#424186"/>
<path d="M1329.9 604.7L1333.5 611.7L1337.1 618.6L1339.2 615.9L1341.3 613.2L1337.7 606.4L1334.1 599.3L1332 602Z" color="#38598c"/>
<path d="M1180.1 357.5L1183.7 360.5L1187.3 364.1L1189.4 361.9L1191.6 359.7L1188 356.2L1184.4 353.1L1182.2 355.3Z" color="#dde318"/>
<path d="M1194.5 372.4L1198.2 376.9L1201.8 381.7L1203.9 379.5L1206.1 377.3L1202.5 372.6L1198.8 368L1196.7 370.1Z" color="#bddf26"/>
<path d="M1245.2 432L1248.9 435.4L1252.5 438.8L1254.6 436.6L1256.7 434.4L1253.1 431L1249.5 427.5L1247.4 429.7Z" color="#5cc863"/>
<path d="M1187.3 364.1L1190.9 368L1194.5 372.4L1196.7 370.1L1198.8 368L1195.2 363.7L1191.6 359.7L1189.4 361.9Z" color="#d0e11c"/>
<path d="M1161.4 356.5L1165 356.8L1168.6 357.8L1170.7 355.5L1172.9 353.3L1169.3 352.3L1165.8 352L1163.6 354.2Z" color="#e2e418"/>
<path d="M1295.9 487.1L1299.6 492.9L1303.2 499L1305.3 496.7L1307.4 494.5L1303.7 488.4L1300.1 482.6L1298 484.8Z" color="#21a685"/>
<path d="M1138.6 371.2L1142.1 369.1L1145.6 367.5L1147.8 365.1L1150 362.6L1146.5 364.2L1143 366.3L1140.8 368.7Z" color="#cde11d"/>
<path d="M1111.7 399.4L1115.1 395.8L1118.6 392.5L1120.7 389.7L1122.9 387L1119.5 390.4L1116 394L1113.8 396.7Z" color="#9dd93b" stroke="none"/>
<path d="M1306.2 516.8L1309.9 523.7L1313.5 530.7L1315.6 528.4L1317.6 526L1314 519L1310.4 512.1L1308.3 514.4Z" color="#20938c"/>
<path d="M1252.5 438.8L1256.1 442.1L1259.7 445.5L1261.8 443.2L1263.9 441L1260.3 437.7L1256.7 434.4L1254.6 436.6Z" color="#52c569"/>
<path d="M1319.6 570.1L1323.2 577.5L1326.8 584.9L1328.9 582.3L1331 579.7L1327.4 572.4L1323.8 565L1321.7 567.5Z" color="#2d718e"/>
<path d="M1150 362.6L1153.5 361.6L1157.1 361.2L1159.3 358.9L1161.4 356.5L1157.9 356.9L1154.4 357.9L1152.2 360.3Z" color="#dde318"/>
<path d="M1049.3 482L1052.6 477.2L1056 472.5L1058.2 469.4L1060.4 466.3L1057.1 471.1L1053.7 475.8L1051.5 478.9Z" color="#2cb17e" stroke="none"/>
<path d="M1333 624.1L1336.6 630.7L1340.2 637.1L1342.3 634.3L1344.4 631.6L1340.7 625.2L1337.1 618.6L1335.1 621.3Z" color="#3e4c8a"/>
<path d="M1259.7 445.5L1263.3 448.8L1266.9 452.2L1269.1 450L1271.2 447.8L1267.6 444.4L1263.9 441L1261.8 443.2Z" color="#4ac16d"/>
<path d="M1096 418.6L1099.4 414.5L1102.9 410.6L1105.1 407.8L1107.3 404.9L1103.8 408.8L1100.4 412.9L1098.2 415.7Z" color="#7fd34e" stroke="none"/>
<path d="M1288.7 476.6L1292.3 481.6L1295.9 487.1L1298 484.8L1300.1 482.6L1296.5 477.1L1292.9 472.1L1290.8 474.3Z" color="#28ae80"/>
<path d="M1064.8 460.2L1068.2 455.6L1071.6 451.1L1073.8 448L1076 445L1072.6 449.5L1069.3 454.1L1067 457.2Z" color="#42be71" stroke="none"/>
<path d="M1080.4 439L1083.8 434.6L1087.2 430.3L1089.4 427.3L1091.6 424.4L1088.2 428.6L1084.8 433L1082.6 436Z" color="#60ca60" stroke="none"/>
<path d="M1266.9 452.2L1270.6 455.8L1274.2 459.5L1276.3 457.2L1278.4 455L1274.8 451.3L1271.2 447.8L1269.1 450Z" color="#42be71"/>
<path d="M1322.7 590.2L1326.3 597.5L1329.9 604.7L1332 602L1334.1 599.3L1330.5 592.2L1326.8 584.9L1324.8 587.5Z" color="#32648e"/>
<path d="M1281.4 467.5L1285.1 471.8L1288.7 476.6L1290.8 474.3L1292.9 472.1L1289.3 467.4L1285.6 463L1283.5 465.2Z" color="#31b57b"/>
<path d="M1309.3 535.7L1312.9 542.9L1316.5 550.2L1318.6 547.7L1320.7 545.3L1317.1 537.9L1313.5 530.7L1311.4 533.2Z" color="#24878e"/>
<path d="M1274.2 459.5L1277.8 463.3L1281.4 467.5L1283.5 465.2L1285.6 463L1282 458.9L1278.4 455L1276.3 457.2Z" color="#3aba76"/>
<path d="M1343.3 654.7L1346.9 660.1L1349 657.2L1351.1 654.4L1347.4 649L1345.4 651.8Z" color="#453882"/>
<path d="M1168.6 357.8L1172.1 359.6L1175.7 362L1177.9 359.7L1180.1 357.5L1176.5 355L1172.9 353.3L1170.7 355.5Z" color="#e2e418"/>
<path d="M1299 503.7L1302.6 510.1L1306.2 516.8L1308.3 514.4L1310.4 512.1L1306.8 505.4L1303.2 499L1301.1 501.3Z" color="#1e9d89"/>
<path d="M1122.9 387L1126.4 384.1L1129.9 381.5L1132.1 378.9L1134.3 376.3L1130.8 378.8L1127.3 381.8L1125.1 384.4Z" color="#b5de2b"/>
<path d="M1212 405.2L1215.6 409.6L1219.3 413.8L1221.4 411.5L1223.5 409.2L1219.9 405L1216.3 400.6L1214.1 402.8Z" color="#89d548"/>
<path d="M1219.3 413.8L1222.9 417.9L1226.5 421.8L1228.6 419.5L1230.8 417.2L1227.2 413.3L1223.5 409.2L1221.4 411.5Z" color="#7ad151"/>
<path d="M1204.7 395.9L1208.4 400.6L1212 405.2L1214.1 402.8L1216.3 400.6L1212.7 396L1209 391.3L1206.9 393.6Z" color="#98d83e"/>
<path d="M1226.5 421.8L1230.1 425.7L1233.7 429.4L1235.9 427.1L1238 424.8L1234.4 421.1L1230.8 417.2L1228.6 419.5Z" color="#6ece58"/>
<path d="M1336.1 642.8L1339.7 648.9L1343.3 654.7L1345.4 651.8L1347.4 649L1343.8 643.2L1340.2 637.1L1338.1 639.9Z" color="#423f85"/>
<path d="M1325.8 610.2L1329.4 617.2L1333 624.1L1335.1 621.3L1337.1 618.6L1333.5 611.7L1329.9 604.7L1327.8 607.4Z" color="#38588c"/>
<path d="M1312.4 555.3L1316 562.7L1319.6 570.1L1321.7 567.5L1323.8 565L1320.2 557.6L1316.5 550.2L1314.5 552.7Z" color="#287c8e"/>
<path d="M1233.7 429.4L1237.4 433L1241 436.6L1243.1 434.2L1245.2 432L1241.6 428.4L1238 424.8L1235.9 427.1Z" color="#63cb5f"/>
<path d="M1197.5 386.2L1201.1 391.1L1204.7 395.9L1206.9 393.6L1209 391.3L1205.4 386.5L1201.8 381.7L1199.6 383.9Z" color="#aadc32"/>
<path d="M1175.7 362L1179.3 365L1183 368.6L1185.1 366.3L1187.3 364.1L1183.7 360.5L1180.1 357.5L1177.9 359.7Z" color="#dae319"/>
<path d="M1190.2 376.9L1193.8 381.5L1197.5 386.2L1199.6 383.9L1201.8 381.7L1198.2 376.9L1194.5 372.4L1192.4 374.6Z" color="#bddf26"/>
<path d="M1241 436.6L1244.6 440L1248.2 443.4L1250.3 441.1L1252.5 438.8L1248.9 435.4L1245.2 432L1243.1 434.2Z" color="#5ac864"/>
<path d="M1183 368.6L1186.6 372.6L1190.2 376.9L1192.4 374.6L1194.5 372.4L1190.9 368L1187.3 364.1L1185.1 366.3Z" color="#cde11d"/>
<path d="M1107.3 404.9L1110.7 401.3L1114.2 398L1116.4 395.2L1118.6 392.5L1115.1 395.8L1111.7 399.4L1109.5 402.2Z" color="#9bd93c" stroke="none"/>
<path d="M1134.3 376.3L1137.8 374.2L1141.3 372.6L1143.5 370.1L1145.6 367.5L1142.1 369.1L1138.6 371.2L1136.4 373.7Z" color="#cae11f"/>
<path d="M1157.1 361.2L1160.6 361.5L1164.2 362.5L1166.4 360.1L1168.6 357.8L1165 356.8L1161.4 356.5L1159.3 358.9Z" color="#dfe318"/>
<path d="M1291.7 491.8L1295.4 497.6L1299 503.7L1301.1 501.3L1303.2 499L1299.6 492.9L1295.9 487.1L1293.8 489.4Z" color="#21a685"/>
<path d="M1044.8 488.2L1048.2 483.5L1051.6 478.7L1053.8 475.6L1056 472.5L1052.6 477.2L1049.3 482L1047.1 485.1Z" color="#29af7f" stroke="none"/>
<path d="M1302.1 521.7L1305.7 528.6L1309.3 535.7L1311.4 533.2L1313.5 530.7L1309.9 523.7L1306.2 516.8L1304.1 519.2Z" color="#20928c"/>
<path d="M1315.4 575.4L1319.1 582.8L1322.7 590.2L1324.8 587.5L1326.8 584.9L1323.2 577.5L1319.6 570.1L1317.5 572.7Z" color="#2d708e"/>
<path d="M1248.2 443.4L1251.8 446.8L1255.5 450.1L1257.6 447.8L1259.7 445.5L1256.1 442.1L1252.5 438.8L1250.3 441.1Z" color="#52c569"/>
<path d="M1145.6 367.5L1149.2 366.5L1152.7 366.1L1154.9 363.7L1157.1 361.2L1153.5 361.6L1150 362.6L1147.8 365.1Z" color="#d8e219"/>
<path d="M1091.6 424.4L1095 420.3L1098.5 416.5L1100.7 413.5L1102.9 410.6L1099.4 414.5L1096 418.6L1093.8 421.5Z" color="#7ad151" stroke="none"/>
<path d="M1328.8 629.7L1332.4 636.4L1336.1 642.8L1338.1 639.9L1340.2 637.1L1336.6 630.7L1333 624.1L1330.9 626.9Z" color="#3e4a89"/>
<path d="M1060.4 466.3L1063.8 461.7L1067.2 457.2L1069.4 454.1L1071.6 451.1L1068.2 455.6L1064.8 460.2L1062.6 463.3Z" color="#3fbc73" stroke="none"/>
<path d="M1076 445L1079.4 440.6L1082.8 436.3L1085 433.3L1087.2 430.3L1083.8 434.6L1080.4 439L1078.2 442Z" color="#5ac864" stroke="none"/>
<path d="M1255.5 450.1L1259.1 453.5L1262.7 456.9L1264.8 454.5L1266.9 452.2L1263.3 448.8L1259.7 445.5L1257.6 447.8Z" color="#48c16e"/>
<path d="M1284.5 481.2L1288.1 486.3L1291.7 491.8L1293.8 489.4L1295.9 487.1L1292.3 481.6L1288.7 476.6L1286.6 478.9Z" color="#27ad81"/>
<path d="M1318.5 595.7L1322.1 603L1325.8 610.2L1327.8 607.4L1329.9 604.7L1326.3 597.5L1322.7 590.2L1320.6 592.9Z" color="#33638d"/>
<path d="M1262.7 456.9L1266.3 460.4L1270 464.1L1272.1 461.8L1274.2 459.5L1270.6 455.8L1266.9 452.2L1264.8 454.5Z" color="#40bd72"/>
<path d="M1339.2 660.5L1342.8 665.9L1344.8 663L1346.9 660.1L1343.3 654.7L1341.2 657.6Z" color="#453581"/>
<path d="M1305.1 540.8L1308.7 548L1312.4 555.3L1314.5 552.7L1316.5 550.2L1312.9 542.9L1309.3 535.7L1307.2 538.2Z" color="#24868e"/>
<path d="M1277.2 472.1L1280.8 476.5L1284.5 481.2L1286.6 478.9L1288.7 476.6L1285.1 471.8L1281.4 467.5L1279.3 469.8Z" color="#2fb47c"/>
<path d="M1270 464.1L1273.6 468L1277.2 472.1L1279.3 469.8L1281.4 467.5L1277.8 463.3L1274.2 459.5L1272.1 461.8Z" color="#38b977"/>
<path d="M1118.6 392.5L1122 389.5L1125.5 387L1127.7 384.2L1129.9 381.5L1126.4 384.1L1122.9 387L1120.7 389.7Z" color="#b2dd2d"/>
<path d="M1164.2 362.5L1167.8 364.3L1171.4 366.7L1173.6 364.3L1175.7 362L1172.1 359.6L1168.6 357.8L1166.4 360.1Z" color="#dfe318"/>
<path d="M1294.8 508.6L1298.4 515L1302.1 521.7L1304.1 519.2L1306.2 516.8L1302.6 510.1L1299 503.7L1296.9 506.1Z" color="#1e9c89"/>
<path d="M1207.7 409.9L1211.3 414.3L1215 418.6L1217.1 416.2L1219.3 413.8L1215.6 409.6L1212 405.2L1209.9 407.5Z" color="#86d549"/>
<path d="M1215 418.6L1218.6 422.7L1222.2 426.7L1224.4 424.2L1226.5 421.8L1222.9 417.9L1219.3 413.8L1217.1 416.2Z" color="#77d153"/>
<path d="M1331.9 648.6L1335.5 654.7L1339.2 660.5L1341.2 657.6L1343.3 654.7L1339.7 648.9L1336.1 642.8L1334 645.7Z" color="#433d84"/>
<path d="M1200.4 400.6L1204.1 405.4L1207.7 409.9L1209.9 407.5L1212 405.2L1208.4 400.6L1204.7 395.9L1202.6 398.2Z" color="#95d840"/>
<path d="M1222.2 426.7L1225.8 430.5L1229.5 434.2L1231.6 431.8L1233.7 429.4L1230.1 425.7L1226.5 421.8L1224.4 424.2Z" color="#6ccd5a"/>
<path d="M1321.6 615.8L1325.2 622.9L1328.8 629.7L1330.9 626.9L1333 624.1L1329.4 617.2L1325.8 610.2L1323.7 613Z" color="#39558c"/>
<path d="M1308.2 560.6L1311.8 568L1315.4 575.4L1317.5 572.7L1319.6 570.1L1316 562.7L1312.4 555.3L1310.3 557.9Z" color="#297a8e"/>
<path d="M1229.5 434.2L1233.1 437.9L1236.7 441.4L1238.9 439L1241 436.6L1237.4 433L1233.7 429.4L1231.6 431.8Z" color="#60ca60"/>
<path d="M1193.2 391L1196.8 395.8L1200.4 400.6L1202.6 398.2L1204.7 395.9L1201.1 391.1L1197.5 386.2L1195.3 388.6Z" color="#a8db34"/>
<path d="M1171.4 366.7L1175 369.8L1178.6 373.3L1180.8 370.9L1183 368.6L1179.3 365L1175.7 362L1173.6 364.3Z" color="#d8e219"/>
<path d="M1102.9 410.6L1106.3 407L1109.8 403.7L1112 400.9L1114.2 398L1110.7 401.3L1107.3 404.9L1105.1 407.8Z" color="#95d840" stroke="none"/>
<path d="M1185.9 381.7L1189.5 386.2L1193.2 391L1195.3 388.6L1197.5 386.2L1193.8 381.5L1190.2 376.9L1188.1 379.3Z" color="#bade28"/>
<path d="M1236.7 441.4L1240.3 444.9L1244 448.3L1246.1 445.8L1248.2 443.4L1244.6 440L1241 436.6L1238.9 439Z" color="#58c765"/>
<path d="M1129.9 381.5L1133.4 379.5L1136.9 377.9L1139.1 375.2L1141.3 372.6L1137.8 374.2L1134.3 376.3L1132.1 378.9Z" color="#c5e021"/>
<path d="M1178.6 373.3L1182.3 377.3L1185.9 381.7L1188.1 379.3L1190.2 376.9L1186.6 372.6L1183 368.6L1180.8 370.9Z" color="#cae11f"/>
<path d="M1152.7 366.1L1156.3 366.4L1159.9 367.4L1162 365L1164.2 362.5L1160.6 361.5L1157.1 361.2L1154.9 363.7Z" color="#dde318"/>
<path d="M1056 472.5L1059.4 467.9L1062.7 463.4L1065 460.3L1067.2 457.2L1063.8 461.7L1060.4 466.3L1058.2 469.4Z" color="#3bbb75" stroke="none"/>
<path d="M1287.5 496.6L1291.2 502.5L1294.8 508.6L1296.9 506.1L1299 503.7L1295.4 497.6L1291.7 491.8L1289.6 494.2Z" color="#21a585"/>
<path d="M1311.3 580.9L1314.9 588.3L1318.5 595.7L1320.6 592.9L1322.7 590.2L1319.1 582.8L1315.4 575.4L1313.4 578.1Z" color="#2e6e8e"/>
<path d="M1087.2 430.3L1090.6 426.2L1094.1 422.4L1096.3 419.4L1098.5 416.5L1095 420.3L1091.6 424.4L1089.4 427.3Z" color="#75d054" stroke="none"/>
<path d="M1297.9 526.8L1301.5 533.7L1305.1 540.8L1307.2 538.2L1309.3 535.7L1305.7 528.6L1302.1 521.7L1300 524.2Z" color="#21918c"/>
<path d="M1071.6 451.1L1075 446.7L1078.4 442.4L1080.6 439.4L1082.8 436.3L1079.4 440.6L1076 445L1073.8 448Z" color="#56c667" stroke="none"/>
<path d="M1324.7 635.6L1328.3 642.2L1331.9 648.6L1334 645.7L1336.1 642.8L1332.4 636.4L1328.8 629.7L1326.7 632.6Z" color="#3f4889"/>
<path d="M1141.3 372.6L1144.8 371.6L1148.4 371.2L1150.5 368.7L1152.7 366.1L1149.2 366.5L1145.6 367.5L1143.5 370.1Z" color="#d5e21a"/>
<path d="M1244 448.3L1247.6 451.6L1251.2 454.9L1253.3 452.5L1255.5 450.1L1251.8 446.8L1248.2 443.4L1246.1 445.8Z" color="#50c46a"/>
<path d="M1251.2 454.9L1254.8 458.3L1258.5 461.7L1260.6 459.3L1262.7 456.9L1259.1 453.5L1255.5 450.1L1253.3 452.5Z" color="#46c06f"/>
<path d="M1314.3 601.3L1318 608.6L1321.6 615.8L1323.7 613L1325.8 610.2L1322.1 603L1318.5 595.7L1316.4 598.5Z" color="#34618d"/>
<path d="M1335 666.5L1338.6 671.9L1340.7 668.9L1342.8 665.9L1339.2 660.5L1337.1 663.5Z" color="#46337f"/>
<path d="M1280.3 486.1L1283.9 491.2L1287.5 496.6L1289.6 494.2L1291.7 491.8L1288.1 486.3L1284.5 481.2L1282.4 483.6Z" color="#26ad81"/>
<path d="M1300.9 546.1L1304.6 553.3L1308.2 560.6L1310.3 557.9L1312.4 555.3L1308.7 548L1305.1 540.8L1303 543.4Z" color="#25858e"/>
<path d="M1258.5 461.7L1262.1 465.3L1265.7 469L1267.8 466.5L1270 464.1L1266.3 460.4L1262.7 456.9L1260.6 459.3Z" color="#3fbc73"/>
<path d="M1114.2 398L1117.6 395.1L1121.1 392.5L1123.3 389.7L1125.5 387L1122 389.5L1118.6 392.5L1116.4 395.2Z" color="#addc30"/>
<path d="M1273 477L1276.6 481.4L1280.3 486.1L1282.4 483.6L1284.5 481.2L1280.8 476.5L1277.2 472.1L1275.1 474.5Z" color="#2eb37c"/>
<path d="M1265.7 469L1269.4 472.9L1273 477L1275.1 474.5L1277.2 472.1L1273.6 468L1270 464.1L1267.8 466.5Z" color="#37b878"/>
<path d="M1159.9 367.4L1163.4 369.2L1167 371.7L1169.2 369.2L1171.4 366.7L1167.8 364.3L1164.2 362.5L1162 365Z" color="#dde318"/>
<path d="M1327.7 654.6L1331.4 660.7L1335 666.5L1337.1 663.5L1339.2 660.5L1335.5 654.7L1331.9 648.6L1329.8 651.6Z" color="#443a83"/>
<path d="M1290.6 513.7L1294.2 520.1L1297.9 526.8L1300 524.2L1302.1 521.7L1298.4 515L1294.8 508.6L1292.7 511.1Z" color="#1e9b8a"/>
<path d="M1203.4 414.9L1207 419.3L1210.7 423.6L1212.8 421.1L1215 418.6L1211.3 414.3L1207.7 409.9L1205.6 412.4Z" color="#84d44b"/>
<path d="M1210.7 423.6L1214.3 427.7L1217.9 431.6L1220.1 429.1L1222.2 426.7L1218.6 422.7L1215 418.6L1212.8 421.1Z" color="#75d054"/>
<path d="M1317.4 621.6L1321 628.7L1324.7 635.6L1326.7 632.6L1328.8 629.7L1325.2 622.9L1321.6 615.8L1319.5 618.7Z" color="#3a538b"/>
<path d="M1196.1 405.6L1199.8 410.3L1203.4 414.9L1205.6 412.4L1207.7 409.9L1204.1 405.4L1200.4 400.6L1198.3 403.1Z" color="#93d741"/>
<path d="M1217.9 431.6L1221.6 435.5L1225.2 439.2L1227.3 436.7L1229.5 434.2L1225.8 430.5L1222.2 426.7L1220.1 429.1Z" color="#69cd5b"/>
<path d="M1304 566.1L1307.6 573.5L1311.3 580.9L1313.4 578.1L1315.4 575.4L1311.8 568L1308.2 560.6L1306.1 563.3Z" color="#29798e"/>
<path d="M1225.2 439.2L1228.8 442.9L1232.4 446.4L1234.6 443.9L1236.7 441.4L1233.1 437.9L1229.5 434.2L1227.3 436.7Z" color="#5ec962"/>
<path d="M1098.5 416.5L1101.9 412.8L1105.4 409.5L1107.6 406.6L1109.8 403.7L1106.3 407L1102.9 410.6L1100.7 413.5Z" color="#90d743"/>
<path d="M1188.8 395.9L1192.5 400.8L1196.1 405.6L1198.3 403.1L1200.4 400.6L1196.8 395.8L1193.2 391L1191 393.4Z" color="#a5db36"/>
<path d="M1167 371.7L1170.7 374.7L1174.3 378.3L1176.5 375.8L1178.6 373.3L1175 369.8L1171.4 366.7L1169.2 369.2Z" color="#d5e21a"/>
<path d="M1125.5 387L1129 384.9L1132.5 383.3L1134.7 380.6L1136.9 377.9L1133.4 379.5L1129.9 381.5L1127.7 384.2Z" color="#c2df23"/>
<path d="M1051.6 478.7L1054.9 474.1L1058.3 469.6L1060.5 466.5L1062.7 463.4L1059.4 467.9L1056 472.5L1053.8 475.6Z" color="#37b878" stroke="none"/>
<path d="M1181.6 386.6L1185.2 391.2L1188.8 395.9L1191 393.4L1193.2 391L1189.5 386.2L1185.9 381.7L1183.7 384.1Z" color="#b8de29"/>
<path d="M1232.4 446.4L1236.1 449.9L1239.7 453.3L1241.8 450.7L1244 448.3L1240.3 444.9L1236.7 441.4L1234.6 443.9Z" color="#56c667"/>
<path d="M1082.8 436.3L1086.2 432.3L1089.6 428.4L1091.9 425.4L1094.1 422.4L1090.6 426.2L1087.2 430.3L1085 433.3Z" color="#70cf57" stroke="none"/>
<path d="M1067.2 457.2L1070.6 452.8L1074 448.6L1076.2 445.5L1078.4 442.4L1075 446.7L1071.6 451.1L1069.4 454.1Z" color="#52c569" stroke="none"/>
<path d="M1174.3 378.3L1177.9 382.3L1181.6 386.6L1183.7 384.1L1185.9 381.7L1182.3 377.3L1178.6 373.3L1176.5 375.8Z" color="#c8e020"/>
<path d="M1148.4 371.2L1151.9 371.5L1155.5 372.5L1157.7 370L1159.9 367.4L1156.3 366.4L1152.7 366.1L1150.5 368.7Z" color="#dae319"/>
<path d="M1307.1 586.5L1310.7 594L1314.3 601.3L1316.4 598.5L1318.5 595.7L1314.9 588.3L1311.3 580.9L1309.2 583.7Z" color="#2e6d8e"/>
<path d="M1320.5 641.5L1324.1 648.2L1327.7 654.6L1329.8 651.6L1331.9 648.6L1328.3 642.2L1324.7 635.6L1322.6 638.5Z" color="#404688"/>
<path d="M1283.3 501.7L1286.9 507.5L1290.6 513.7L1292.7 511.1L1294.8 508.6L1291.2 502.5L1287.5 496.6L1285.4 499.2Z" color="#20a386"/>
<path d="M1293.7 532.1L1297.3 539L1300.9 546.1L1303 543.4L1305.1 540.8L1301.5 533.7L1297.9 526.8L1295.8 529.4Z" color="#21908d"/>
<path d="M1136.9 377.9L1140.4 376.9L1144 376.5L1146.2 373.9L1148.4 371.2L1144.8 371.6L1141.3 372.6L1139.1 375.2Z" color="#d2e21b"/>
<path d="M1239.7 453.3L1243.3 456.6L1247 460L1249.1 457.4L1251.2 454.9L1247.6 451.6L1244 448.3L1241.8 450.7Z" color="#4cc26c"/>
<path d="M1330.8 672.6L1334.5 678L1336.5 674.9L1338.6 671.9L1335 666.5L1332.9 669.5Z" color="#46307e"/>
<path d="M1310.1 607.1L1313.8 614.4L1317.4 621.6L1319.5 618.7L1321.6 615.8L1318 608.6L1314.3 601.3L1312.2 604.2Z" color="#355f8d"/>
<path d="M1247 460L1250.6 463.3L1254.2 466.8L1256.3 464.2L1258.5 461.7L1254.8 458.3L1251.2 454.9L1249.1 457.4Z" color="#44bf70"/>
<path d="M1276 491.2L1279.7 496.2L1283.3 501.7L1285.4 499.2L1287.5 496.6L1283.9 491.2L1280.3 486.1L1278.1 488.6Z" color="#25ac82"/>
<path d="M1296.7 551.5L1300.4 558.7L1304 566.1L1306.1 563.3L1308.2 560.6L1304.6 553.3L1300.9 546.1L1298.8 548.8Z" color="#25848e"/>
<path d="M1109.8 403.7L1113.2 400.8L1116.7 398.2L1118.9 395.4L1121.1 392.5L1117.6 395.1L1114.2 398L1112 400.9Z" color="#a8db34"/>
<path d="M1254.2 466.8L1257.9 470.3L1261.5 474L1263.6 471.5L1265.7 469L1262.1 465.3L1258.5 461.7L1256.3 464.2Z" color="#3dbc74"/>
<path d="M1323.6 660.6L1327.2 666.8L1330.8 672.6L1332.9 669.5L1335 666.5L1331.4 660.7L1327.7 654.6L1325.7 657.6Z" color="#453882"/>
<path d="M1268.8 482L1272.4 486.4L1276 491.2L1278.1 488.6L1280.3 486.1L1276.6 481.4L1273 477L1270.9 479.5Z" color="#2db27d"/>
<path d="M1261.5 474L1265.1 477.9L1268.8 482L1270.9 479.5L1273 477L1269.4 472.9L1265.7 469L1263.6 471.5Z" color="#35b779"/>
<path d="M1155.5 372.5L1159.1 374.3L1162.7 376.8L1164.9 374.2L1167 371.7L1163.4 369.2L1159.9 367.4L1157.7 370Z" color="#d8e219"/>
<path d="M1313.2 627.6L1316.9 634.6L1320.5 641.5L1322.6 638.5L1324.7 635.6L1321 628.7L1317.4 621.6L1315.3 624.6Z" color="#3b518b"/>
<path d="M1286.4 519L1290 525.4L1293.7 532.1L1295.8 529.4L1297.9 526.8L1294.2 520.1L1290.6 513.7L1288.5 516.3Z" color="#1f9a8a"/>
<path d="M1199.1 420.1L1202.7 424.5L1206.4 428.7L1208.5 426.1L1210.7 423.6L1207 419.3L1203.4 414.9L1201.2 417.5Z" color="#81d34d"/>
<path d="M1206.4 428.7L1210 432.8L1213.6 436.8L1215.8 434.2L1217.9 431.6L1214.3 427.7L1210.7 423.6L1208.5 426.1Z" color="#73d056"/>
<path d="M1299.8 571.7L1303.4 579.1L1307.1 586.5L1309.2 583.7L1311.3 580.9L1307.6 573.5L1304 566.1L1301.9 568.9Z" color="#2a778e"/>
<path d="M1191.8 410.8L1195.4 415.5L1199.1 420.1L1201.2 417.5L1203.4 414.9L1199.8 410.3L1196.1 405.6L1194 408.2Z" color="#90d743"/>
<path d="M1213.6 436.8L1217.3 440.7L1220.9 444.4L1223 441.8L1225.2 439.2L1221.6 435.5L1217.9 431.6L1215.8 434.2Z" color="#67cc5c"/>
<path d="M1094.1 422.4L1097.5 418.8L1101 415.5L1103.2 412.5L1105.4 409.5L1101.9 412.8L1098.5 416.5L1096.3 419.4Z" color="#8bd646"/>
<path d="M1220.9 444.4L1224.5 448L1228.2 451.6L1230.3 449L1232.4 446.4L1228.8 442.9L1225.2 439.2L1223 441.8Z" color="#5cc863"/>
<path d="M1184.5 401.1L1188.2 405.9L1191.8 410.8L1194 408.2L1196.1 405.6L1192.5 400.8L1188.8 395.9L1186.7 398.5Z" color="#a2da37"/>
<path d="M1078.4 442.4L1081.8 438.3L1085.2 434.5L1087.4 431.4L1089.6 428.4L1086.2 432.3L1082.8 436.3L1080.6 439.4Z" color="#6ccd5a" stroke="none"/>
<path d="M1121.1 392.5L1124.6 390.4L1128.1 388.9L1130.3 386.1L1132.5 383.3L1129 384.9L1125.5 387L1123.3 389.7Z" color="#bddf26"/>
<path d="M1062.7 463.4L1066.1 459L1069.5 454.8L1071.7 451.7L1074 448.6L1070.6 452.8L1067.2 457.2L1065 460.3Z" color="#4ec36b" stroke="none"/>
<path d="M1162.7 376.8L1166.3 379.8L1169.9 383.4L1172.1 380.8L1174.3 378.3L1170.7 374.7L1167 371.7L1164.9 374.2Z" color="#d0e11c"/>
<path d="M1177.2 391.7L1180.9 396.3L1184.5 401.1L1186.7 398.5L1188.8 395.9L1185.2 391.2L1181.6 386.6L1179.4 389.1Z" color="#b2dd2d"/>
<path d="M1228.2 451.6L1231.8 455.1L1235.4 458.5L1237.6 455.9L1239.7 453.3L1236.1 449.9L1232.4 446.4L1230.3 449Z" color="#52c569"/>
<path d="M1302.9 592.3L1306.5 599.7L1310.1 607.1L1312.2 604.2L1314.3 601.3L1310.7 594L1307.1 586.5L1305 589.4Z" color="#2f6b8e"/>
<path d="M1316.3 647.6L1319.9 654.2L1323.6 660.6L1325.7 657.6L1327.7 654.6L1324.1 648.2L1320.5 641.5L1318.4 644.5Z" color="#414487"/>
<path d="M1144 376.5L1147.5 376.8L1151.1 377.8L1153.3 375.2L1155.5 372.5L1151.9 371.5L1148.4 371.2L1146.2 373.9Z" color="#d8e219"/>
<path d="M1169.9 383.4L1173.6 387.4L1177.2 391.7L1179.4 389.1L1181.6 386.6L1177.9 382.3L1174.3 378.3L1172.1 380.8Z" color="#c2df23"/>
<path d="M1289.4 537.5L1293.1 544.4L1296.7 551.5L1298.8 548.8L1300.9 546.1L1297.3 539L1293.7 532.1L1291.5 534.8Z" color="#218f8d"/>
<path d="M1132.5 383.3L1136.1 382.3L1139.6 381.9L1141.8 379.2L1144 376.5L1140.4 376.9L1136.9 377.9L1134.7 380.6Z" color="#cde11d"/>
<path d="M1279.1 507L1282.7 512.8L1286.4 519L1288.5 516.3L1290.6 513.7L1286.9 507.5L1283.3 501.7L1281.2 504.3Z" color="#1fa287"/>
<path d="M1235.4 458.5L1239.1 461.8L1242.7 465.2L1244.8 462.6L1247 460L1243.3 456.6L1239.7 453.3L1237.6 455.9Z" color="#4ac16d"/>
<path d="M1326.7 678.7L1330.3 684.2L1332.4 681.1L1334.5 678L1330.8 672.6L1328.7 675.6Z" color="#472e7c"/>
<path d="M1305.9 613.1L1309.6 620.4L1313.2 627.6L1315.3 624.6L1317.4 621.6L1313.8 614.4L1310.1 607.1L1308 610.1Z" color="#355e8d"/>
<path d="M1242.7 465.2L1246.3 468.5L1250 472L1252.1 469.4L1254.2 466.8L1250.6 463.3L1247 460L1244.8 462.6Z" color="#42be71"/>
<path d="M1105.4 409.5L1108.8 406.6L1112.3 404L1114.5 401.1L1116.7 398.2L1113.2 400.8L1109.8 403.7L1107.6 406.6Z" color="#a2da37"/>
<path d="M1271.8 496.4L1275.4 501.5L1279.1 507L1281.2 504.3L1283.3 501.7L1279.7 496.2L1276 491.2L1273.9 493.8Z" color="#25ab82"/>
<path d="M1292.5 557.1L1296.2 564.4L1299.8 571.7L1301.9 568.9L1304 566.1L1300.4 558.7L1296.7 551.5L1294.6 554.3Z" color="#26828e"/>
<path d="M1319.4 666.8L1323 672.9L1326.7 678.7L1328.7 675.6L1330.8 672.6L1327.2 666.8L1323.6 660.6L1321.5 663.7Z" color="#453581"/>
<path d="M1250 472L1253.6 475.5L1257.2 479.2L1259.4 476.6L1261.5 474L1257.9 470.3L1254.2 466.8L1252.1 469.4Z" color="#3aba76"/>
<path d="M1309 633.6L1312.7 640.7L1316.3 647.6L1318.4 644.5L1320.5 641.5L1316.9 634.6L1313.2 627.6L1311.1 630.6Z" color="#3c508b"/>
<path d="M1264.5 487.3L1268.2 491.7L1271.8 496.4L1273.9 493.8L1276 491.2L1272.4 486.4L1268.8 482L1266.6 484.6Z" color="#2cb17e"/>
<path d="M1257.2 479.2L1260.9 483.1L1264.5 487.3L1266.6 484.6L1268.8 482L1265.1 477.9L1261.5 474L1259.4 476.6Z" color="#32b67a"/>
<path d="M1151.1 377.8L1154.7 379.6L1158.3 382L1160.5 379.4L1162.7 376.8L1159.1 374.3L1155.5 372.5L1153.3 375.2Z" color="#d5e21a"/>
<path d="M1282.1 524.4L1285.8 530.8L1289.4 537.5L1291.5 534.8L1293.7 532.1L1290 525.4L1286.4 519L1284.3 521.6Z" color="#1f988b"/>
<path d="M1194.8 425.4L1198.4 429.8L1202.1 434.1L1204.2 431.4L1206.4 428.7L1202.7 424.5L1199.1 420.1L1196.9 422.7Z" color="#7cd250"/>
<path d="M1202.1 434.1L1205.7 438.2L1209.3 442.2L1211.5 439.5L1213.6 436.8L1210 432.8L1206.4 428.7L1204.2 431.4Z" color="#6ece58"/>
<path d="M1089.6 428.4L1093.1 424.8L1096.5 421.5L1098.8 418.5L1101 415.5L1097.5 418.8L1094.1 422.4L1091.9 425.4Z" color="#86d549"/>
<path d="M1295.6 577.5L1299.2 584.9L1302.9 592.3L1305 589.4L1307.1 586.5L1303.4 579.1L1299.8 571.7L1297.7 574.6Z" color="#2a768e"/>
<path d="M1187.5 416.1L1191.1 420.8L1194.8 425.4L1196.9 422.7L1199.1 420.1L1195.4 415.5L1191.8 410.8L1189.6 413.4Z" color="#8bd646"/>
<path d="M1209.3 442.2L1213 446L1216.6 449.8L1218.8 447.1L1220.9 444.4L1217.3 440.7L1213.6 436.8L1211.5 439.5Z" color="#63cb5f"/>
<path d="M1074 448.6L1077.4 444.5L1080.8 440.6L1083 437.6L1085.2 434.5L1081.8 438.3L1078.4 442.4L1076.2 445.5Z" color="#67cc5c" stroke="none"/>
<path d="M1058.3 469.6L1061.7 465.2L1065.1 461L1067.3 457.9L1069.5 454.8L1066.1 459L1062.7 463.4L1060.5 466.5Z" color="#48c16e" stroke="none"/>
<path d="M1216.6 449.8L1220.2 453.4L1223.9 457L1226 454.3L1228.2 451.6L1224.5 448L1220.9 444.4L1218.8 447.1Z" color="#58c765"/>
<path d="M1116.7 398.2L1120.2 396.1L1123.7 394.6L1125.9 391.7L1128.1 388.9L1124.6 390.4L1121.1 392.5L1118.9 395.4Z" color="#b8de29"/>
<path d="M1180.2 406.4L1183.8 411.2L1187.5 416.1L1189.6 413.4L1191.8 410.8L1188.2 405.9L1184.5 401.1L1182.3 403.7Z" color="#9dd93b"/>
<path d="M1312.1 653.8L1315.7 660.4L1319.4 666.8L1321.5 663.7L1323.6 660.6L1319.9 654.2L1316.3 647.6L1314.2 650.7Z" color="#424186"/>
<path d="M1158.3 382L1162 385.1L1165.6 388.7L1167.8 386L1169.9 383.4L1166.3 379.8L1162.7 376.8L1160.5 379.4Z" color="#cde11d"/>
<path d="M1298.7 598.2L1302.3 605.7L1305.9 613.1L1308 610.1L1310.1 607.1L1306.5 599.7L1302.9 592.3L1300.8 595.3Z" color="#30698e"/>
<path d="M1172.9 397L1176.5 401.6L1180.2 406.4L1182.3 403.7L1184.5 401.1L1180.9 396.3L1177.2 391.7L1175 394.3Z" color="#b0dd2f"/>
<path d="M1223.9 457L1227.5 460.4L1231.1 463.8L1233.3 461.1L1235.4 458.5L1231.8 455.1L1228.2 451.6L1226 454.3Z" color="#50c46a"/>
<path d="M1139.6 381.9L1143.2 382.2L1146.8 383.2L1148.9 380.5L1151.1 377.8L1147.5 376.8L1144 376.5L1141.8 379.2Z" color="#d2e21b"/>
<path d="M1165.6 388.7L1169.2 392.7L1172.9 397L1175 394.3L1177.2 391.7L1173.6 387.4L1169.9 383.4L1167.8 386Z" color="#c0df25"/>
<path d="M1128.1 388.9L1131.7 387.9L1135.2 387.5L1137.4 384.7L1139.6 381.9L1136.1 382.3L1132.5 383.3L1130.3 386.1Z" color="#c8e020"/>
<path d="M1285.2 543.1L1288.9 550L1292.5 557.1L1294.6 554.3L1296.7 551.5L1293.1 544.4L1289.4 537.5L1287.3 540.3Z" color="#228d8d"/>
<path d="M1274.8 512.4L1278.5 518.2L1282.1 524.4L1284.3 521.6L1286.4 519L1282.7 512.8L1279.1 507L1277 509.7Z" color="#1fa187"/>
<path d="M1322.5 685L1326.1 690.5L1328.2 687.3L1330.3 684.2L1326.7 678.7L1324.6 681.9Z" color="#472c7a"/>
<path d="M1231.1 463.8L1234.8 467.2L1238.4 470.6L1240.6 467.8L1242.7 465.2L1239.1 461.8L1235.4 458.5L1233.3 461.1Z" color="#48c16e"/>
<path d="M1301.7 619.1L1305.4 626.4L1309 633.6L1311.1 630.6L1313.2 627.6L1309.6 620.4L1305.9 613.1L1303.8 616.1Z" color="#365c8d"/>
<path d="M1101 415.5L1104.4 412.5L1107.9 410L1110.1 407L1112.3 404L1108.8 406.6L1105.4 409.5L1103.2 412.5Z" color="#9dd93b"/>
<path d="M1238.4 470.6L1242.1 473.9L1245.7 477.4L1247.8 474.7L1250 472L1246.3 468.5L1242.7 465.2L1240.6 467.8Z" color="#3fbc73"/>
<path d="M1288.3 562.9L1291.9 570.1L1295.6 577.5L1297.7 574.6L1299.8 571.7L1296.2 564.4L1292.5 557.1L1290.4 560Z" color="#26818e"/>
<path d="M1315.2 673.1L1318.8 679.2L1322.5 685L1324.6 681.9L1326.7 678.7L1323 672.9L1319.4 666.8L1317.3 670Z" color="#46337f"/>
<path d="M1267.6 501.8L1271.2 506.9L1274.8 512.4L1277 509.7L1279.1 507L1275.4 501.5L1271.8 496.4L1269.7 499.1Z" color="#23a983"/>
<path d="M1304.8 639.8L1308.5 646.9L1312.1 653.8L1314.2 650.7L1316.3 647.6L1312.7 640.7L1309 633.6L1306.9 636.7Z" color="#3d4d8a"/>
<path d="M1245.7 477.4L1249.3 480.9L1253 484.6L1255.1 481.9L1257.2 479.2L1253.6 475.5L1250 472L1247.8 474.7Z" color="#38b977"/>
<path d="M1260.3 492.7L1263.9 497.1L1267.6 501.8L1269.7 499.1L1271.8 496.4L1268.2 491.7L1264.5 487.3L1262.4 490Z" color="#29af7f"/>
<path d="M1253 484.6L1256.6 488.5L1260.3 492.7L1262.4 490L1264.5 487.3L1260.9 483.1L1257.2 479.2L1255.1 481.9Z" color="#31b57b"/>
<path d="M1085.2 434.5L1088.7 430.9L1092.1 427.6L1094.3 424.5L1096.5 421.5L1093.1 424.8L1089.6 428.4L1087.4 431.4Z" color="#7fd34e"/>
<path d="M1146.8 383.2L1150.4 385L1154 387.5L1156.2 384.7L1158.3 382L1154.7 379.6L1151.1 377.8L1148.9 380.5Z" color="#d0e11c"/>
<path d="M1277.9 530L1281.6 536.4L1285.2 543.1L1287.3 540.3L1289.4 537.5L1285.8 530.8L1282.1 524.4L1280 527.2Z" color="#1f978b"/>
<path d="M1291.4 583.4L1295 590.8L1298.7 598.2L1300.8 595.3L1302.9 592.3L1299.2 584.9L1295.6 577.5L1293.5 580.4Z" color="#2b748e"/>
<path d="M1190.4 430.9L1194.1 435.3L1197.7 439.6L1199.9 436.8L1202.1 434.1L1198.4 429.8L1194.8 425.4L1192.6 428.1Z" color="#77d153"/>
<path d="M1197.7 439.6L1201.4 443.7L1205 447.7L1207.2 444.9L1209.3 442.2L1205.7 438.2L1202.1 434.1L1199.9 436.8Z" color="#6ccd5a"/>
<path d="M1069.5 454.8L1072.9 450.7L1076.4 446.8L1078.6 443.7L1080.8 440.6L1077.4 444.5L1074 448.6L1071.7 451.7Z" color="#60ca60" stroke="none"/>
<path d="M1183.1 421.5L1186.8 426.3L1190.4 430.9L1192.6 428.1L1194.8 425.4L1191.1 420.8L1187.5 416.1L1185.3 418.8Z" color="#89d548"/>
<path d="M1205 447.7L1208.7 451.5L1212.3 455.3L1214.5 452.5L1216.6 449.8L1213 446L1209.3 442.2L1207.2 444.9Z" color="#60ca60"/>
<path d="M1112.3 404L1115.8 402L1119.3 400.4L1121.5 397.5L1123.7 394.6L1120.2 396.1L1116.7 398.2L1114.5 401.1Z" color="#b2dd2d"/>
<path d="M1212.3 455.3L1215.9 458.9L1219.6 462.5L1221.7 459.7L1223.9 457L1220.2 453.4L1216.6 449.8L1214.5 452.5Z" color="#56c667"/>
<path d="M1175.8 411.8L1179.5 416.7L1183.1 421.5L1185.3 418.8L1187.5 416.1L1183.8 411.2L1180.2 406.4L1178 409.1Z" color="#98d83e"/>
<path d="M1307.9 660L1311.5 666.7L1315.2 673.1L1317.3 670L1319.4 666.8L1315.7 660.4L1312.1 653.8L1310 656.9Z" color="#423f85"/>
<path d="M1294.4 604.3L1298.1 611.7L1301.7 619.1L1303.8 616.1L1305.9 613.1L1302.3 605.7L1298.7 598.2L1296.6 601.2Z" color="#31678e"/>
<path d="M1154 387.5L1157.6 390.5L1161.2 394.1L1163.4 391.4L1165.6 388.7L1162 385.1L1158.3 382L1156.2 384.7Z" color="#c8e020"/>
<path d="M1168.5 402.5L1172.2 407.1L1175.8 411.8L1178 409.1L1180.2 406.4L1176.5 401.6L1172.9 397L1170.7 399.7Z" color="#aadc32"/>
<path d="M1135.2 387.5L1138.8 387.8L1142.4 388.8L1144.6 386L1146.8 383.2L1143.2 382.2L1139.6 381.9L1137.4 384.7Z" color="#cde11d"/>
<path d="M1219.6 462.5L1223.2 466L1226.9 469.4L1229 466.6L1231.1 463.8L1227.5 460.4L1223.9 457L1221.7 459.7Z" color="#4cc26c"/>
<path d="M1161.2 394.1L1164.9 398.1L1168.5 402.5L1170.7 399.7L1172.9 397L1169.2 392.7L1165.6 388.7L1163.4 391.4Z" color="#bade28"/>
<path d="M1123.7 394.6L1127.3 393.6L1130.8 393.2L1133 390.3L1135.2 387.5L1131.7 387.9L1128.1 388.9L1125.9 391.7Z" color="#c2df23"/>
<path d="M1281 548.9L1284.6 555.8L1288.3 562.9L1290.4 560L1292.5 557.1L1288.9 550L1285.2 543.1L1283.1 546Z" color="#228b8d"/>
<path d="M1318.3 691.4L1321.9 696.8L1324 693.7L1326.1 690.5L1322.5 685L1320.4 688.2Z" color="#482979"/>
<path d="M1270.6 518L1274.3 523.8L1277.9 530L1280 527.2L1282.1 524.4L1278.5 518.2L1274.8 512.4L1272.7 515.2Z" color="#1fa088"/>
<path d="M1297.5 625.3L1301.2 632.6L1304.8 639.8L1306.9 636.7L1309 633.6L1305.4 626.4L1301.7 619.1L1299.6 622.2Z" color="#375a8c"/>
<path d="M1226.9 469.4L1230.5 472.7L1234.1 476.1L1236.3 473.3L1238.4 470.6L1234.8 467.2L1231.1 463.8L1229 466.6Z" color="#44bf70"/>
<path d="M1096.5 421.5L1100 418.5L1103.5 416L1105.7 413L1107.9 410L1104.4 412.5L1101 415.5L1098.8 418.5Z" color="#98d83e"/>
<path d="M1311 679.5L1314.6 685.6L1318.3 691.4L1320.4 688.2L1322.5 685L1318.8 679.2L1315.2 673.1L1313.1 676.3Z" color="#46307e"/>
<path d="M1234.1 476.1L1237.8 479.5L1241.4 482.9L1243.6 480.1L1245.7 477.4L1242.1 473.9L1238.4 470.6L1236.3 473.3Z" color="#3dbc74"/>
<path d="M1284.1 568.8L1287.7 576L1291.4 583.4L1293.5 580.4L1295.6 577.5L1291.9 570.1L1288.3 562.9L1286.2 565.8Z" color="#277f8e"/>
<path d="M1263.3 507.4L1267 512.5L1270.6 518L1272.7 515.2L1274.8 512.4L1271.2 506.9L1267.6 501.8L1265.4 504.6Z" color="#22a785"/>
<path d="M1300.6 646.1L1304.3 653.1L1307.9 660L1310 656.9L1312.1 653.8L1308.5 646.9L1304.8 639.8L1302.7 642.9Z" color="#3e4a89"/>
<path d="M1241.4 482.9L1245.1 486.5L1248.7 490.2L1250.8 487.4L1253 484.6L1249.3 480.9L1245.7 477.4L1243.6 480.1Z" color="#35b779"/>
<path d="M1080.8 440.6L1084.2 437L1087.7 433.7L1089.9 430.6L1092.1 427.6L1088.7 430.9L1085.2 434.5L1083 437.6Z" color="#7ad151"/>
<path d="M1256 498.2L1259.6 502.7L1263.3 507.4L1265.4 504.6L1267.6 501.8L1263.9 497.1L1260.3 492.7L1258.1 495.4Z" color="#28ae80"/>
<path d="M1248.7 490.2L1252.4 494.1L1256 498.2L1258.1 495.4L1260.3 492.7L1256.6 488.5L1253 484.6L1250.8 487.4Z" color="#2eb37c"/>
<path d="M1142.4 388.8L1146 390.6L1149.6 393.1L1151.8 390.2L1154 387.5L1150.4 385L1146.8 383.2L1144.6 386Z" color="#cde11d"/>
<path d="M1273.7 535.7L1277.3 542.2L1281 548.9L1283.1 546L1285.2 543.1L1281.6 536.4L1277.9 530L1275.8 532.8Z" color="#1f958b"/>
<path d="M1287.1 589.4L1290.8 596.8L1294.4 604.3L1296.6 601.2L1298.7 598.2L1295 590.8L1291.4 583.4L1289.3 586.4Z" color="#2c728e"/>
<path d="M1065.1 461L1068.5 456.9L1071.9 453.1L1074.1 449.9L1076.4 446.8L1072.9 450.7L1069.5 454.8L1067.3 457.9Z" color="#5cc863" stroke="none"/>
<path d="M1186.1 436.5L1189.8 440.9L1193.4 445.2L1195.6 442.4L1197.7 439.6L1194.1 435.3L1190.4 430.9L1188.3 433.7Z" color="#75d054"/>
<path d="M1193.4 445.2L1197.1 449.3L1200.7 453.3L1202.9 450.5L1205 447.7L1201.4 443.7L1197.7 439.6L1195.6 442.4Z" color="#67cc5c"/>
<path d="M1178.8 427.2L1182.5 431.9L1186.1 436.5L1188.3 433.7L1190.4 430.9L1186.8 426.3L1183.1 421.5L1181 424.3Z" color="#84d44b"/>
<path d="M1200.7 453.3L1204.3 457.2L1208 460.9L1210.1 458.1L1212.3 455.3L1208.7 451.5L1205 447.7L1202.9 450.5Z" color="#5cc863"/>
<path d="M1107.9 410L1111.4 407.9L1114.9 406.3L1117.1 403.4L1119.3 400.4L1115.8 402L1112.3 404L1110.1 407Z" color="#addc30"/>
<path d="M1303.7 666.4L1307.3 673L1311 679.5L1313.1 676.3L1315.2 673.1L1311.5 666.7L1307.9 660L1305.8 663.2Z" color="#433d84"/>
<path d="M1208 460.9L1211.6 464.6L1215.3 468.1L1217.4 465.3L1219.6 462.5L1215.9 458.9L1212.3 455.3L1210.1 458.1Z" color="#52c569"/>
<path d="M1171.5 417.5L1175.1 422.3L1178.8 427.2L1181 424.3L1183.1 421.5L1179.5 416.7L1175.8 411.8L1173.7 414.6Z" color="#95d840"/>
<path d="M1290.2 610.4L1293.9 617.9L1297.5 625.3L1299.6 622.2L1301.7 619.1L1298.1 611.7L1294.4 604.3L1292.3 607.3Z" color="#32658e"/>
<path d="M1149.6 393.1L1153.2 396.1L1156.9 399.7L1159 396.9L1161.2 394.1L1157.6 390.5L1154 387.5L1151.8 390.2Z" color="#c5e021"/>
<path d="M1130.8 393.2L1134.4 393.5L1138 394.5L1140.2 391.7L1142.4 388.8L1138.8 387.8L1135.2 387.5L1133 390.3Z" color="#c8e020"/>
<path d="M1164.2 408.1L1167.8 412.7L1171.5 417.5L1173.7 414.6L1175.8 411.8L1172.2 407.1L1168.5 402.5L1166.3 405.3Z" color="#a5db36"/>
<path d="M1215.3 468.1L1218.9 471.6L1222.6 475L1224.7 472.2L1226.9 469.4L1223.2 466L1219.6 462.5L1217.4 465.3Z" color="#4ac16d"/>
<path d="M1314.1 697.8L1317.7 703.3L1319.8 700L1321.9 696.8L1318.3 691.4L1316.2 694.6Z" color="#482576"/>
<path d="M1119.3 400.4L1122.9 399.4L1126.4 399L1128.6 396.1L1130.8 393.2L1127.3 393.6L1123.7 394.6L1121.5 397.5Z" color="#c0df25"/>
<path d="M1156.9 399.7L1160.5 403.7L1164.2 408.1L1166.3 405.3L1168.5 402.5L1164.9 398.1L1161.2 394.1L1159 396.9Z" color="#b8de29"/>
<path d="M1276.7 554.8L1280.4 561.7L1284.1 568.8L1286.2 565.8L1288.3 562.9L1284.6 555.8L1281 548.9L1278.9 551.8Z" color="#238a8d"/>
<path d="M1266.4 523.7L1270 529.5L1273.7 535.7L1275.8 532.8L1277.9 530L1274.3 523.8L1270.6 518L1268.5 520.8Z" color="#1f9e89"/>
<path d="M1293.3 631.5L1297 638.8L1300.6 646.1L1302.7 642.9L1304.8 639.8L1301.2 632.6L1297.5 625.3L1295.4 628.4Z" color="#38588c"/>
<path d="M1222.6 475L1226.2 478.4L1229.8 481.8L1232 478.9L1234.1 476.1L1230.5 472.7L1226.9 469.4L1224.7 472.2Z" color="#40bd72"/>
<path d="M1092.1 427.6L1095.6 424.6L1099.1 422.1L1101.3 419L1103.5 416L1100 418.5L1096.5 421.5L1094.3 424.5Z" color="#93d741"/>
<path d="M1306.8 685.9L1310.4 692L1314.1 697.8L1316.2 694.6L1318.3 691.4L1314.6 685.6L1311 679.5L1308.9 682.7Z" color="#472e7c"/>
<path d="M1279.8 574.8L1283.5 582.1L1287.1 589.4L1289.3 586.4L1291.4 583.4L1287.7 576L1284.1 568.8L1281.9 571.8Z" color="#287d8e"/>
<path d="M1229.8 481.8L1233.5 485.2L1237.1 488.6L1239.3 485.7L1241.4 482.9L1237.8 479.5L1234.1 476.1L1232 478.9Z" color="#3aba76"/>
<path d="M1296.4 652.4L1300 659.5L1303.7 666.4L1305.8 663.2L1307.9 660L1304.3 653.1L1300.6 646.1L1298.5 649.2Z" color="#3f4889"/>
<path d="M1259 513.1L1262.7 518.2L1266.4 523.7L1268.5 520.8L1270.6 518L1267 512.5L1263.3 507.4L1261.2 510.2Z" color="#21a685"/>
<path d="M1076.4 446.8L1079.8 443.2L1083.3 439.9L1085.5 436.8L1087.7 433.7L1084.2 437L1080.8 440.6L1078.6 443.7Z" color="#75d054"/>
<path d="M1237.1 488.6L1240.8 492.2L1244.4 495.9L1246.6 493L1248.7 490.2L1245.1 486.5L1241.4 482.9L1239.3 485.7Z" color="#34b679"/>
<path d="M1251.7 503.9L1255.4 508.4L1259 513.1L1261.2 510.2L1263.3 507.4L1259.6 502.7L1256 498.2L1253.9 501.1Z" color="#26ad81"/>
<path d="M1138 394.5L1141.6 396.3L1145.2 398.8L1147.4 395.9L1149.6 393.1L1146 390.6L1142.4 388.8L1140.2 391.7Z" color="#c8e020"/>
<path d="M1282.9 595.5L1286.6 603L1290.2 610.4L1292.3 607.3L1294.4 604.3L1290.8 596.8L1287.1 589.4L1285 592.5Z" color="#2d718e"/>
<path d="M1244.4 495.9L1248.1 499.8L1251.7 503.9L1253.9 501.1L1256 498.2L1252.4 494.1L1248.7 490.2L1246.6 493Z" color="#2db27d"/>
<path d="M1269.4 541.6L1273.1 548L1276.7 554.8L1278.9 551.8L1281 548.9L1277.3 542.2L1273.7 535.7L1271.5 538.6Z" color="#20938c"/>
<path d="M1181.8 442.3L1185.4 446.7L1189.1 451L1191.2 448.1L1193.4 445.2L1189.8 440.9L1186.1 436.5L1183.9 439.4Z" color="#70cf57"/>
<path d="M1189.1 451L1192.7 455.1L1196.4 459.1L1198.5 456.2L1200.7 453.3L1197.1 449.3L1193.4 445.2L1191.2 448.1Z" color="#63cb5f"/>
<path d="M1103.5 416L1107 413.9L1110.5 412.4L1112.7 409.3L1114.9 406.3L1111.4 407.9L1107.9 410L1105.7 413Z" color="#a8db34"/>
<path d="M1174.4 432.9L1178.1 437.7L1181.8 442.3L1183.9 439.4L1186.1 436.5L1182.5 431.9L1178.8 427.2L1176.6 430Z" color="#7fd34e"/>
<path d="M1196.4 459.1L1200 463L1203.7 466.7L1205.8 463.8L1208 460.9L1204.3 457.2L1200.7 453.3L1198.5 456.2Z" color="#58c765"/>
<path d="M1299.5 672.8L1303.1 679.4L1306.8 685.9L1308.9 682.7L1311 679.5L1307.3 673L1303.7 666.4L1301.6 669.6Z" color="#443983"/>
<path d="M1286 616.6L1289.6 624.1L1293.3 631.5L1295.4 628.4L1297.5 625.3L1293.9 617.9L1290.2 610.4L1288.1 613.5Z" color="#33638d"/>
<path d="M1203.7 466.7L1207.3 470.4L1211 473.9L1213.1 471L1215.3 468.1L1211.6 464.6L1208 460.9L1205.8 463.8Z" color="#4ec36b"/>
<path d="M1167.1 423.2L1170.8 428.1L1174.4 432.9L1176.6 430L1178.8 427.2L1175.1 422.3L1171.5 417.5L1169.3 420.3Z" color="#90d743"/>
<path d="M1145.2 398.8L1148.8 401.8L1152.5 405.4L1154.7 402.6L1156.9 399.7L1153.2 396.1L1149.6 393.1L1147.4 395.9Z" color="#c0df25"/>
<path d="M1309.9 704.3L1313.5 709.7L1315.6 706.5L1317.7 703.3L1314.1 697.8L1312 701Z" color="#482374"/>
<path d="M1126.4 399L1130 399.3L1133.6 400.4L1135.8 397.4L1138 394.5L1134.4 393.5L1130.8 393.2L1128.6 396.1Z" color="#c2df23"/>
<path d="M1159.8 413.8L1163.5 418.4L1167.1 423.2L1169.3 420.3L1171.5 417.5L1167.8 412.7L1164.2 408.1L1162 410.9Z" color="#a2da37"/>
<path d="M1114.9 406.3L1118.5 405.3L1122 405L1124.2 402L1126.4 399L1122.9 399.4L1119.3 400.4L1117.1 403.4Z" color="#b8de29"/>
<path d="M1211 473.9L1214.6 477.4L1218.3 480.9L1220.4 477.9L1222.6 475L1218.9 471.6L1215.3 468.1L1213.1 471Z" color="#46c06f"/>
<path d="M1272.5 560.8L1276.2 567.7L1279.8 574.8L1281.9 571.8L1284.1 568.8L1280.4 561.7L1276.7 554.8L1274.6 557.8Z" color="#23888e"/>
<path d="M1152.5 405.4L1156.1 409.5L1159.8 413.8L1162 410.9L1164.2 408.1L1160.5 403.7L1156.9 399.7L1154.7 402.6Z" color="#b2dd2d"/>
<path d="M1289.1 637.8L1292.7 645.2L1296.4 652.4L1298.5 649.2L1300.6 646.1L1297 638.8L1293.3 631.5L1291.2 634.7Z" color="#3a548c"/>
<path d="M1262.1 529.6L1265.8 535.4L1269.4 541.6L1271.5 538.6L1273.7 535.7L1270 529.5L1266.4 523.7L1264.2 526.6Z" color="#1e9d89"/>
<path d="M1087.7 433.7L1091.2 430.8L1094.6 428.3L1096.9 425.2L1099.1 422.1L1095.6 424.6L1092.1 427.6L1089.9 430.6Z" color="#8ed645"/>
<path d="M1218.3 480.9L1221.9 484.2L1225.5 487.6L1227.7 484.7L1229.8 481.8L1226.2 478.4L1222.6 475L1220.4 477.9Z" color="#3fbc73"/>
<path d="M1302.6 692.3L1306.2 698.5L1309.9 704.3L1312 701L1314.1 697.8L1310.4 692L1306.8 685.9L1304.7 689.1Z" color="#472c7a"/>
<path d="M1275.6 580.9L1279.2 588.2L1282.9 595.5L1285 592.5L1287.1 589.4L1283.5 582.1L1279.8 574.8L1277.7 577.9Z" color="#297b8e"/>
<path d="M1292.2 658.8L1295.8 665.9L1299.5 672.8L1301.6 669.6L1303.7 666.4L1300 659.5L1296.4 652.4L1294.3 655.6Z" color="#404688"/>
<path d="M1225.5 487.6L1229.2 491L1232.8 494.4L1235 491.5L1237.1 488.6L1233.5 485.2L1229.8 481.8L1227.7 484.7Z" color="#37b878"/>
<path d="M1071.9 453.1L1075.4 449.5L1078.8 446.2L1081 443L1083.3 439.9L1079.8 443.2L1076.4 446.8L1074.1 449.9Z" color="#70cf57"/>
<path d="M1254.8 519L1258.4 524.1L1262.1 529.6L1264.2 526.6L1266.4 523.7L1262.7 518.2L1259 513.1L1256.9 516Z" color="#20a486"/>
<path d="M1232.8 494.4L1236.5 498L1240.1 501.7L1242.3 498.8L1244.4 495.9L1240.8 492.2L1237.1 488.6L1235 491.5Z" color="#31b57b"/>
<path d="M1278.7 601.8L1282.3 609.2L1286 616.6L1288.1 613.5L1290.2 610.4L1286.6 603L1282.9 595.5L1280.8 598.6Z" color="#2e6f8e"/>
<path d="M1133.6 400.4L1137.2 402.1L1140.8 404.6L1143 401.7L1145.2 398.8L1141.6 396.3L1138 394.5L1135.8 397.4Z" color="#c2df23"/>
<path d="M1247.5 509.8L1251.1 514.2L1254.8 519L1256.9 516L1259 513.1L1255.4 508.4L1251.7 503.9L1249.6 506.9Z" color="#25ab82"/>
<path d="M1240.1 501.7L1243.8 505.6L1247.5 509.8L1249.6 506.9L1251.7 503.9L1248.1 499.8L1244.4 495.9L1242.3 498.8Z" color="#2ab07f"/>
<path d="M1265.2 547.6L1268.8 554L1272.5 560.8L1274.6 557.8L1276.7 554.8L1273.1 548L1269.4 541.6L1267.3 544.6Z" color="#20928c"/>
<path d="M1177.4 448.2L1181.1 452.6L1184.7 456.9L1186.9 453.9L1189.1 451L1185.4 446.7L1181.8 442.3L1179.6 445.2Z" color="#6ccd5a"/>
<path d="M1184.7 456.9L1188.4 461L1192 465L1194.2 462L1196.4 459.1L1192.7 455.1L1189.1 451L1186.9 453.9Z" color="#5ec962"/>
<path d="M1099.1 422.1L1102.6 420L1106.1 418.5L1108.3 415.4L1110.5 412.4L1107 413.9L1103.5 416L1101.3 419Z" color="#a2da37"/>
<path d="M1295.2 679.2L1298.9 685.9L1302.6 692.3L1304.7 689.1L1306.8 685.9L1303.1 679.4L1299.5 672.8L1297.4 676Z" color="#453781"/>
<path d="M1170.1 438.8L1173.8 443.6L1177.4 448.2L1179.6 445.2L1181.8 442.3L1178.1 437.7L1174.4 432.9L1172.3 435.8Z" color="#7ad151"/>
<path d="M1192 465L1195.7 468.9L1199.3 472.6L1201.5 469.7L1203.7 466.7L1200 463L1196.4 459.1L1194.2 462Z" color="#54c568"/>
<path d="M1281.7 623L1285.4 630.4L1289.1 637.8L1291.2 634.7L1293.3 631.5L1289.6 624.1L1286 616.6L1283.9 619.8Z" color="#34618d"/>
<path d="M1199.3 472.6L1203 476.3L1206.6 479.9L1208.8 476.9L1211 473.9L1207.3 470.4L1203.7 466.7L1201.5 469.7Z" color="#4ac16d"/>
<path d="M1162.8 429.1L1166.4 433.9L1170.1 438.8L1172.3 435.8L1174.4 432.9L1170.8 428.1L1167.1 423.2L1164.9 426.1Z" color="#8bd646"/>
<path d="M1305.7 710.8L1309.3 716.2L1311.4 713L1313.5 709.7L1309.9 704.3L1307.8 707.5Z" color="#482071"/>
<path d="M1140.8 404.6L1144.5 407.7L1148.1 411.3L1150.3 408.3L1152.5 405.4L1148.8 401.8L1145.2 398.8L1143 401.7Z" color="#bade28"/>
<path d="M1122 405L1125.6 405.3L1129.2 406.3L1131.4 403.3L1133.6 400.4L1130 399.3L1126.4 399L1124.2 402Z" color="#bddf26"/>
<path d="M1110.5 412.4L1114.1 411.4L1117.6 411L1119.8 408L1122 405L1118.5 405.3L1114.9 406.3L1112.7 409.3Z" color="#b2dd2d"/>
<path d="M1155.4 419.7L1159.1 424.3L1162.8 429.1L1164.9 426.1L1167.1 423.2L1163.5 418.4L1159.8 413.8L1157.6 416.7Z" color="#9dd93b"/>
<path d="M1206.6 479.9L1210.3 483.4L1213.9 486.8L1216.1 483.8L1218.3 480.9L1214.6 477.4L1211 473.9L1208.8 476.9Z" color="#42be71"/>
<path d="M1268.2 566.9L1271.9 573.8L1275.6 580.9L1277.7 577.9L1279.8 574.8L1276.2 567.7L1272.5 560.8L1270.4 563.8Z" color="#24868e"/>
<path d="M1284.8 644.2L1288.5 651.6L1292.2 658.8L1294.3 655.6L1296.4 652.4L1292.7 645.2L1289.1 637.8L1287 641Z" color="#3b528b"/>
<path d="M1148.1 411.3L1151.8 415.3L1155.4 419.7L1157.6 416.7L1159.8 413.8L1156.1 409.5L1152.5 405.4L1150.3 408.3Z" color="#addc30"/>
<path d="M1257.8 535.5L1261.5 541.4L1265.2 547.6L1267.3 544.6L1269.4 541.6L1265.8 535.4L1262.1 529.6L1260 532.5Z" color="#1e9b8a"/>
<path d="M1083.3 439.9L1086.7 437L1090.2 434.5L1092.4 431.4L1094.6 428.3L1091.2 430.8L1087.7 433.7L1085.5 436.8Z" color="#86d549"/>
<path d="M1213.9 486.8L1217.6 490.2L1221.2 493.5L1223.4 490.5L1225.5 487.6L1221.9 484.2L1218.3 480.9L1216.1 483.8Z" color="#3bbb75"/>
<path d="M1298.3 698.8L1302 705L1305.7 710.8L1307.8 707.5L1309.9 704.3L1306.2 698.5L1302.6 692.3L1300.4 695.6Z" color="#482878"/>
<path d="M1287.9 665.2L1291.6 672.3L1295.2 679.2L1297.4 676L1299.5 672.8L1295.8 665.9L1292.2 658.8L1290 662Z" color="#414487"/>
<path d="M1271.3 587.1L1275 594.4L1278.7 601.8L1280.8 598.6L1282.9 595.5L1279.2 588.2L1275.6 580.9L1273.4 584Z" color="#29798e"/>
<path d="M1221.2 493.5L1224.9 496.9L1228.5 500.4L1230.7 497.4L1232.8 494.4L1229.2 491L1225.5 487.6L1223.4 490.5Z" color="#34b679"/>
<path d="M1250.5 524.9L1254.2 530L1257.8 535.5L1260 532.5L1262.1 529.6L1258.4 524.1L1254.8 519L1252.6 521.9Z" color="#1fa287"/>
<path d="M1228.5 500.4L1232.2 504L1235.9 507.7L1238 504.7L1240.1 501.7L1236.5 498L1232.8 494.4L1230.7 497.4Z" color="#2eb37c"/>
<path d="M1274.4 608.1L1278.1 615.5L1281.7 623L1283.9 619.8L1286 616.6L1282.3 609.2L1278.7 601.8L1276.5 604.9Z" color="#2e6d8e"/>
<path d="M1129.2 406.3L1132.8 408.1L1136.4 410.6L1138.6 407.6L1140.8 404.6L1137.2 402.1L1133.6 400.4L1131.4 403.3Z" color="#bddf26"/>
<path d="M1243.2 515.8L1246.8 520.2L1250.5 524.9L1252.6 521.9L1254.8 519L1251.1 514.2L1247.5 509.8L1245.3 512.8Z" color="#23a983"/>
<path d="M1260.9 553.7L1264.6 560.2L1268.2 566.9L1270.4 563.8L1272.5 560.8L1268.8 554L1265.2 547.6L1263 550.6Z" color="#21908d"/>
<path d="M1235.9 507.7L1239.5 511.6L1243.2 515.8L1245.3 512.8L1247.5 509.8L1243.8 505.6L1240.1 501.7L1238 504.7Z" color="#28ae80"/>
<path d="M1173.1 454.2L1176.7 458.6L1180.4 462.9L1182.6 459.9L1184.7 456.9L1181.1 452.6L1177.4 448.2L1175.2 451.1Z" color="#67cc5c"/>
<path d="M1180.4 462.9L1184 467L1187.7 471L1189.9 468L1192 465L1188.4 461L1184.7 456.9L1182.6 459.9Z" color="#5ac864"/>
<path d="M1094.6 428.3L1098.2 426.2L1101.7 424.6L1103.9 421.5L1106.1 418.5L1102.6 420L1099.1 422.1L1096.9 425.2Z" color="#9dd93b"/>
<path d="M1291 685.7L1294.7 692.4L1298.3 698.8L1300.4 695.6L1302.6 692.3L1298.9 685.9L1295.2 679.2L1293.1 682.4Z" color="#463480"/>
<path d="M1165.7 444.8L1169.4 449.6L1173.1 454.2L1175.2 451.1L1177.4 448.2L1173.8 443.6L1170.1 438.8L1167.9 441.8Z" color="#75d054"/>
<path d="M1187.7 471L1191.4 474.9L1195 478.7L1197.2 475.6L1199.3 472.6L1195.7 468.9L1192 465L1189.9 468Z" color="#50c46a"/>
<path d="M1277.5 629.3L1281.2 636.8L1284.8 644.2L1287 641L1289.1 637.8L1285.4 630.4L1281.7 623L1279.6 626.1Z" color="#355f8d"/>
<path d="M1195 478.7L1198.7 482.3L1202.3 485.9L1204.5 482.9L1206.6 479.9L1203 476.3L1199.3 472.6L1197.2 475.6Z" color="#46c06f"/>
<path d="M1158.4 435.1L1162 439.9L1165.7 444.8L1167.9 441.8L1170.1 438.8L1166.4 433.9L1162.8 429.1L1160.6 432.1Z" color="#86d549"/>
<path d="M1136.4 410.6L1140.1 413.7L1143.7 417.3L1145.9 414.3L1148.1 411.3L1144.5 407.7L1140.8 404.6L1138.6 407.6Z" color="#b5de2b"/>
<path d="M1117.6 411L1121.2 411.3L1124.8 412.4L1127 409.3L1129.2 406.3L1125.6 405.3L1122 405L1119.8 408Z" color="#b8de29"/>
<path d="M1106.1 418.5L1109.6 417.5L1113.2 417.1L1115.4 414.1L1117.6 411L1114.1 411.4L1110.5 412.4L1108.3 415.4Z" color="#addc30"/>
<path d="M1151 425.6L1154.7 430.3L1158.4 435.1L1160.6 432.1L1162.8 429.1L1159.1 424.3L1155.4 419.7L1153.2 422.6Z" color="#98d83e"/>
<path d="M1202.3 485.9L1206 489.4L1209.6 492.8L1211.8 489.8L1213.9 486.8L1210.3 483.4L1206.6 479.9L1204.5 482.9Z" color="#3fbc73"/>
<path d="M1280.6 650.6L1284.3 658L1287.9 665.2L1290 662L1292.2 658.8L1288.5 651.6L1284.8 644.2L1282.7 647.4Z" color="#3c508b"/>
<path d="M1264 573.1L1267.6 580L1271.3 587.1L1273.4 584L1275.6 580.9L1271.9 573.8L1268.2 566.9L1266.1 570Z" color="#25838e"/>
<path d="M1143.7 417.3L1147.4 421.3L1151 425.6L1153.2 422.6L1155.4 419.7L1151.8 415.3L1148.1 411.3L1145.9 414.3Z" color="#a8db34"/>
<path d="M1253.5 541.6L1257.2 547.5L1260.9 553.7L1263 550.6L1265.2 547.6L1261.5 541.4L1257.8 535.5L1255.7 538.6Z" color="#1f998a"/>
<path d="M1078.8 446.2L1082.3 443.2L1085.8 440.7L1088 437.6L1090.2 434.5L1086.7 437L1083.3 439.9L1081 443Z" color="#81d34d"/>
<path d="M1209.6 492.8L1213.3 496.2L1216.9 499.6L1219.1 496.5L1221.2 493.5L1217.6 490.2L1213.9 486.8L1211.8 489.8Z" color="#38b977"/>
<path d="M1283.7 671.7L1287.3 678.8L1291 685.7L1293.1 682.4L1295.2 679.2L1291.6 672.3L1287.9 665.2L1285.8 668.5Z" color="#424086"/>
<path d="M1267.1 593.4L1270.7 600.7L1274.4 608.1L1276.5 604.9L1278.7 601.8L1275 594.4L1271.3 587.1L1269.2 590.3Z" color="#2a778e"/>
<path d="M1216.9 499.6L1220.6 503L1224.2 506.4L1226.4 503.4L1228.5 500.4L1224.9 496.9L1221.2 493.5L1219.1 496.5Z" color="#31b57b"/>
<path d="M1246.2 531L1249.9 536.1L1253.5 541.6L1255.7 538.6L1257.8 535.5L1254.2 530L1250.5 524.9L1248.4 528Z" color="#1fa188"/>
<path d="M1270.1 614.4L1273.8 621.9L1277.5 629.3L1279.6 626.1L1281.7 623L1278.1 615.5L1274.4 608.1L1272.3 611.2Z" color="#306a8e"/>
<path d="M1224.2 506.4L1227.9 510L1231.5 513.7L1233.7 510.7L1235.9 507.7L1232.2 504L1228.5 500.4L1226.4 503.4Z" color="#2cb17e"/>
<path d="M1124.8 412.4L1128.4 414.1L1132 416.6L1134.2 413.6L1136.4 410.6L1132.8 408.1L1129.2 406.3L1127 409.3Z" color="#b8de29"/>
<path d="M1238.9 521.8L1242.5 526.3L1246.2 531L1248.4 528L1250.5 524.9L1246.8 520.2L1243.2 515.8L1241 518.8Z" color="#22a785"/>
<path d="M1256.6 559.9L1260.3 566.4L1264 573.1L1266.1 570L1268.2 566.9L1264.6 560.2L1260.9 553.7L1258.8 556.8Z" color="#218e8d"/>
<path d="M1231.5 513.7L1235.2 517.7L1238.9 521.8L1241 518.8L1243.2 515.8L1239.5 511.6L1235.9 507.7L1233.7 510.7Z" color="#26ad81"/>
<path d="M1090.2 434.5L1093.7 432.4L1097.2 430.9L1099.5 427.7L1101.7 424.6L1098.2 426.2L1094.6 428.3L1092.4 431.4Z" color="#98d83e"/>
<path d="M1168.7 460.2L1172.4 464.7L1176 469L1178.2 465.9L1180.4 462.9L1176.7 458.6L1173.1 454.2L1170.9 457.2Z" color="#63cb5f"/>
<path d="M1176 469L1179.7 473.1L1183.3 477.1L1185.5 474.1L1187.7 471L1184 467L1180.4 462.9L1178.2 465.9Z" color="#56c667"/>
<path d="M1161.3 450.9L1165 455.6L1168.7 460.2L1170.9 457.2L1173.1 454.2L1169.4 449.6L1165.7 444.8L1163.5 447.8Z" color="#70cf57"/>
<path d="M1183.3 477.1L1187 481L1190.7 484.8L1192.8 481.7L1195 478.7L1191.4 474.9L1187.7 471L1185.5 474.1Z" color="#4cc26c"/>
<path d="M1273.2 635.7L1276.9 643.2L1280.6 650.6L1282.7 647.4L1284.8 644.2L1281.2 636.8L1277.5 629.3L1275.4 632.5Z" color="#365c8d"/>
<path d="M1190.7 484.8L1194.3 488.4L1198 492L1200.1 488.9L1202.3 485.9L1198.7 482.3L1195 478.7L1192.8 481.7Z" color="#42be71"/>
<path d="M1154 441.1L1157.7 446L1161.3 450.9L1163.5 447.8L1165.7 444.8L1162 439.9L1158.4 435.1L1156.2 438.1Z" color="#81d34d"/>
<path d="M1113.2 417.1L1116.8 417.4L1120.4 418.5L1122.6 415.4L1124.8 412.4L1121.2 411.3L1117.6 411L1115.4 414.1Z" color="#b2dd2d"/>
<path d="M1101.7 424.6L1105.2 423.7L1108.8 423.3L1111 420.2L1113.2 417.1L1109.6 417.5L1106.1 418.5L1103.9 421.5Z" color="#a8db34"/>
<path d="M1132 416.6L1135.7 419.7L1139.3 423.3L1141.5 420.3L1143.7 417.3L1140.1 413.7L1136.4 410.6L1134.2 413.6Z" color="#b0dd2f"/>
<path d="M1276.3 657.1L1280 664.4L1283.7 671.7L1285.8 668.5L1287.9 665.2L1284.3 658L1280.6 650.6L1278.5 653.9Z" color="#3d4e8a"/>
<path d="M1146.6 431.7L1150.3 436.3L1154 441.1L1156.2 438.1L1158.4 435.1L1154.7 430.3L1151 425.6L1148.8 428.7Z" color="#93d741"/>
<path d="M1259.7 579.4L1263.4 586.3L1267.1 593.4L1269.2 590.3L1271.3 587.1L1267.6 580L1264 573.1L1261.8 576.2Z" color="#26828e"/>
<path d="M1198 492L1201.6 495.5L1205.3 499L1207.5 495.9L1209.6 492.8L1206 489.4L1202.3 485.9L1200.1 488.9Z" color="#3bbb75"/>
<path d="M1139.3 423.3L1143 427.3L1146.6 431.7L1148.8 428.7L1151 425.6L1147.4 421.3L1143.7 417.3L1141.5 420.3Z" color="#a2da37"/>
<path d="M1249.3 547.8L1252.9 553.7L1256.6 559.9L1258.8 556.8L1260.9 553.7L1257.2 547.5L1253.5 541.6L1251.4 544.7Z" color="#1f968b"/>
<path d="M1205.3 499L1208.9 502.3L1212.6 505.7L1214.8 502.6L1216.9 499.6L1213.3 496.2L1209.6 492.8L1207.5 495.9Z" color="#34b679"/>
<path d="M1262.8 599.8L1266.5 607.1L1270.1 614.4L1272.3 611.2L1274.4 608.1L1270.7 600.7L1267.1 593.4L1264.9 596.6Z" color="#2b758e"/>
<path d="M1212.6 505.7L1216.3 509.1L1219.9 512.6L1222.1 509.5L1224.2 506.4L1220.6 503L1216.9 499.6L1214.8 502.6Z" color="#2eb37c"/>
<path d="M1241.9 537.2L1245.6 542.3L1249.3 547.8L1251.4 544.7L1253.5 541.6L1249.9 536.1L1246.2 531L1244.1 534.1Z" color="#1f9f88"/>
<path d="M1265.9 620.8L1269.6 628.3L1273.2 635.7L1275.4 632.5L1277.5 629.3L1273.8 621.9L1270.1 614.4L1268 617.6Z" color="#31688e"/>
<path d="M1219.9 512.6L1223.6 516.2L1227.2 519.9L1229.4 516.8L1231.5 513.7L1227.9 510L1224.2 506.4L1222.1 509.5Z" color="#29af7f"/>
<path d="M1120.4 418.5L1124 420.3L1127.6 422.7L1129.8 419.7L1132 416.6L1128.4 414.1L1124.8 412.4L1122.6 415.4Z" color="#b0dd2f"/>
<path d="M1252.3 566.1L1256 572.6L1259.7 579.4L1261.8 576.2L1264 573.1L1260.3 566.4L1256.6 559.9L1254.5 563Z" color="#228c8d"/>
<path d="M1234.6 528L1238.2 532.4L1241.9 537.2L1244.1 534.1L1246.2 531L1242.5 526.3L1238.9 521.8L1236.7 524.9Z" color="#21a585"/>
<path d="M1085.8 440.7L1089.3 438.6L1092.8 437.1L1095 434L1097.2 430.9L1093.7 432.4L1090.2 434.5L1088 437.6Z" color="#90d743"/>
<path d="M1227.2 519.9L1230.9 523.8L1234.6 528L1236.7 524.9L1238.9 521.8L1235.2 517.7L1231.5 513.7L1229.4 516.8Z" color="#25ab82"/>
<path d="M1164.3 466.4L1168 470.9L1171.7 475.2L1173.8 472.1L1176 469L1172.4 464.7L1168.7 460.2L1166.5 463.3Z" color="#5ec962"/>
<path d="M1171.7 475.2L1175.3 479.3L1179 483.3L1181.2 480.2L1183.3 477.1L1179.7 473.1L1176 469L1173.8 472.1Z" color="#52c569"/>
<path d="M1157 457L1160.6 461.8L1164.3 466.4L1166.5 463.3L1168.7 460.2L1165 455.6L1161.3 450.9L1159.2 453.9Z" color="#6ccd5a"/>
<path d="M1179 483.3L1182.7 487.2L1186.3 491L1188.5 487.9L1190.7 484.8L1187 481L1183.3 477.1L1181.2 480.2Z" color="#48c16e"/>
<path d="M1269 642.2L1272.6 649.7L1276.3 657.1L1278.5 653.9L1280.6 650.6L1276.9 643.2L1273.2 635.7L1271.1 639Z" color="#375a8c"/>
<path d="M1186.3 491L1190 494.6L1193.6 498.2L1195.8 495.1L1198 492L1194.3 488.4L1190.7 484.8L1188.5 487.9Z" color="#3fbc73"/>
<path d="M1149.6 447.3L1153.3 452.2L1157 457L1159.2 453.9L1161.3 450.9L1157.7 446L1154 441.1L1151.8 444.2Z" color="#7cd250"/>
<path d="M1097.2 430.9L1100.8 429.9L1104.3 429.5L1106.6 426.4L1108.8 423.3L1105.2 423.7L1101.7 424.6L1099.5 427.7Z" color="#a2da37"/>
<path d="M1108.8 423.3L1112.3 423.6L1115.9 424.6L1118.2 421.6L1120.4 418.5L1116.8 417.4L1113.2 417.1L1111 420.2Z" color="#addc30"/>
<path d="M1127.6 422.7L1131.3 425.8L1134.9 429.4L1137.1 426.4L1139.3 423.3L1135.7 419.7L1132 416.6L1129.8 419.7Z" color="#a8db34"/>
<path d="M1142.3 437.8L1145.9 442.5L1149.6 447.3L1151.8 444.2L1154 441.1L1150.3 436.3L1146.6 431.7L1144.5 434.8Z" color="#8bd646"/>
<path d="M1255.4 585.7L1259.1 592.7L1262.8 599.8L1264.9 596.6L1267.1 593.4L1263.4 586.3L1259.7 579.4L1257.6 582.5Z" color="#27808e"/>
<path d="M1193.6 498.2L1197.3 501.7L1201 505.2L1203.1 502.1L1205.3 499L1201.6 495.5L1198 492L1195.8 495.1Z" color="#37b878"/>
<path d="M1134.9 429.4L1138.6 433.5L1142.3 437.8L1144.5 434.8L1146.6 431.7L1143 427.3L1139.3 423.3L1137.1 426.4Z" color="#9dd93b"/>
<path d="M1245 554.1L1248.6 560L1252.3 566.1L1254.5 563L1256.6 559.9L1252.9 553.7L1249.3 547.8L1247.1 550.9Z" color="#1f948c"/>
<path d="M1201 505.2L1204.6 508.6L1208.3 511.9L1210.4 508.8L1212.6 505.7L1208.9 502.3L1205.3 499L1203.1 502.1Z" color="#31b57b"/>
<path d="M1258.5 606.2L1262.2 613.5L1265.9 620.8L1268 617.6L1270.1 614.4L1266.5 607.1L1262.8 599.8L1260.6 603Z" color="#2c738e"/>
<path d="M1208.3 511.9L1211.9 515.3L1215.6 518.8L1217.8 515.7L1219.9 512.6L1216.3 509.1L1212.6 505.7L1210.4 508.8Z" color="#2cb17e"/>
<path d="M1237.6 543.4L1241.3 548.6L1245 554.1L1247.1 550.9L1249.3 547.8L1245.6 542.3L1241.9 537.2L1239.8 540.3Z" color="#1e9d89"/>
<path d="M1261.6 627.3L1265.3 634.7L1269 642.2L1271.1 639L1273.2 635.7L1269.6 628.3L1265.9 620.8L1263.7 624Z" color="#31668e"/>
<path d="M1215.6 518.8L1219.3 522.4L1222.9 526.1L1225.1 523L1227.2 519.9L1223.6 516.2L1219.9 512.6L1217.8 515.7Z" color="#27ad81"/>
<path d="M1115.9 424.6L1119.6 426.4L1123.2 428.9L1125.4 425.8L1127.6 422.7L1124 420.3L1120.4 418.5L1118.2 421.6Z" color="#aadc32"/>
<path d="M1248 572.5L1251.7 579L1255.4 585.7L1257.6 582.5L1259.7 579.4L1256 572.6L1252.3 566.1L1250.2 569.3Z" color="#238a8d"/>
<path d="M1230.3 534.2L1233.9 538.7L1237.6 543.4L1239.8 540.3L1241.9 537.2L1238.2 532.4L1234.6 528L1232.4 531.1Z" color="#20a386"/>
<path d="M1222.9 526.1L1226.6 530.1L1230.3 534.2L1232.4 531.1L1234.6 528L1230.9 523.8L1227.2 519.9L1225.1 523Z" color="#23a983"/>
<path d="M1159.9 472.6L1163.6 477.1L1167.3 481.4L1169.5 478.3L1171.7 475.2L1168 470.9L1164.3 466.4L1162.1 469.5Z" color="#58c765"/>
<path d="M1167.3 481.4L1171 485.5L1174.6 489.6L1176.8 486.4L1179 483.3L1175.3 479.3L1171.7 475.2L1169.5 478.3Z" color="#4ec36b"/>
<path d="M1152.6 463.2L1156.3 468L1159.9 472.6L1162.1 469.5L1164.3 466.4L1160.6 461.8L1157 457L1154.8 460.1Z" color="#67cc5c"/>
<path d="M1174.6 489.6L1178.3 493.4L1182 497.2L1184.1 494.1L1186.3 491L1182.7 487.2L1179 483.3L1176.8 486.4Z" color="#44bf70"/>
<path d="M1182 497.2L1185.6 500.9L1189.3 504.5L1191.5 501.3L1193.6 498.2L1190 494.6L1186.3 491L1184.1 494.1Z" color="#3bbb75"/>
<path d="M1145.2 453.5L1148.9 458.4L1152.6 463.2L1154.8 460.1L1157 457L1153.3 452.2L1149.6 447.3L1147.4 450.4Z" color="#75d054"/>
<path d="M1092.8 437.1L1096.3 436.1L1099.9 435.8L1102.1 432.6L1104.3 429.5L1100.8 429.9L1097.2 430.9L1095 434Z" color="#9bd93c"/>
<path d="M1104.3 429.5L1107.9 429.8L1111.5 430.9L1113.7 427.8L1115.9 424.6L1112.3 423.6L1108.8 423.3L1106.6 426.4Z" color="#a8db34"/>
<path d="M1123.2 428.9L1126.8 432L1130.5 435.6L1132.7 432.5L1134.9 429.4L1131.3 425.8L1127.6 422.7L1125.4 425.8Z" color="#a2da37"/>
<path d="M1137.8 444.1L1141.5 448.7L1145.2 453.5L1147.4 450.4L1149.6 447.3L1145.9 442.5L1142.3 437.8L1140.1 440.9Z" color="#86d549"/>
<path d="M1251.1 592.1L1254.8 599.1L1258.5 606.2L1260.6 603L1262.8 599.8L1259.1 592.7L1255.4 585.7L1253.3 588.9Z" color="#277e8e"/>
<path d="M1189.3 504.5L1192.9 508L1196.6 511.4L1198.8 508.3L1201 505.2L1197.3 501.7L1193.6 498.2L1191.5 501.3Z" color="#34b679"/>
<path d="M1130.5 435.6L1134.2 439.7L1137.8 444.1L1140.1 440.9L1142.3 437.8L1138.6 433.5L1134.9 429.4L1132.7 432.5Z" color="#95d840"/>
<path d="M1240.7 560.4L1244.4 566.3L1248 572.5L1250.2 569.3L1252.3 566.1L1248.6 560L1245 554.1L1242.8 557.2Z" color="#20928c"/>
<path d="M1196.6 511.4L1200.3 514.8L1203.9 518.2L1206.1 515.1L1208.3 511.9L1204.6 508.6L1201 505.2L1198.8 508.3Z" color="#2eb37c"/>
<path d="M1254.2 612.6L1257.9 619.9L1261.6 627.3L1263.7 624L1265.9 620.8L1262.2 613.5L1258.5 606.2L1256.4 609.4Z" color="#2d718e"/>
<path d="M1203.9 518.2L1207.6 521.6L1211.3 525.1L1213.4 522L1215.6 518.8L1211.9 515.3L1208.3 511.9L1206.1 515.1Z" color="#29af7f"/>
<path d="M1233.3 549.8L1237 554.9L1240.7 560.4L1242.8 557.2L1245 554.1L1241.3 548.6L1237.6 543.4L1235.5 546.6Z" color="#1f9a8a"/>
<path d="M1211.3 525.1L1214.9 528.7L1218.6 532.4L1220.8 529.3L1222.9 526.1L1219.3 522.4L1215.6 518.8L1213.4 522Z" color="#25ab82"/>
<path d="M1111.5 430.9L1115.1 432.7L1118.8 435.2L1121 432L1123.2 428.9L1119.6 426.4L1115.9 424.6L1113.7 427.8Z" color="#a5db36"/>
<path d="M1243.7 578.9L1247.4 585.4L1251.1 592.1L1253.3 588.9L1255.4 585.7L1251.7 579L1248 572.5L1245.9 575.7Z" color="#24878e"/>
<path d="M1225.9 540.5L1229.6 545L1233.3 549.8L1235.5 546.6L1237.6 543.4L1233.9 538.7L1230.3 534.2L1228.1 537.4Z" color="#1fa188"/>
<path d="M1155.5 478.9L1159.2 483.4L1162.9 487.7L1165.1 484.5L1167.3 481.4L1163.6 477.1L1159.9 472.6L1157.7 475.8Z" color="#54c568"/>
<path d="M1162.9 487.7L1166.6 491.8L1170.2 495.8L1172.4 492.7L1174.6 489.6L1171 485.5L1167.3 481.4L1165.1 484.5Z" color="#48c16e"/>
<path d="M1218.6 532.4L1222.3 536.4L1225.9 540.5L1228.1 537.4L1230.3 534.2L1226.6 530.1L1222.9 526.1L1220.8 529.3Z" color="#21a685"/>
<path d="M1148.2 469.5L1151.9 474.3L1155.5 478.9L1157.7 475.8L1159.9 472.6L1156.3 468L1152.6 463.2L1150.4 466.4Z" color="#60ca60"/>
<path d="M1170.2 495.8L1173.9 499.7L1177.6 503.5L1179.8 500.4L1182 497.2L1178.3 493.4L1174.6 489.6L1172.4 492.7Z" color="#3fbc73"/>
<path d="M1177.6 503.5L1181.3 507.2L1184.9 510.8L1187.1 507.6L1189.3 504.5L1185.6 500.9L1182 497.2L1179.8 500.4Z" color="#37b878"/>
<path d="M1140.8 459.7L1144.5 464.6L1148.2 469.5L1150.4 466.4L1152.6 463.2L1148.9 458.4L1145.2 453.5L1143 456.6Z" color="#70cf57"/>
<path d="M1099.9 435.8L1103.5 436.1L1107.1 437.1L1109.3 434L1111.5 430.9L1107.9 429.8L1104.3 429.5L1102.1 432.6Z" color="#a0da39"/>
<path d="M1118.8 435.2L1122.4 438.3L1126.1 441.9L1128.3 438.7L1130.5 435.6L1126.8 432L1123.2 428.9L1121 432Z" color="#9dd93b"/>
<path d="M1133.4 450.3L1137.1 454.9L1140.8 459.7L1143 456.6L1145.2 453.5L1141.5 448.7L1137.8 444.1L1135.6 447.2Z" color="#81d34d"/>
<path d="M1246.8 598.5L1250.5 605.5L1254.2 612.6L1256.4 609.4L1258.5 606.2L1254.8 599.1L1251.1 592.1L1249 595.3Z" color="#297b8e"/>
<path d="M1184.9 510.8L1188.6 514.3L1192.3 517.8L1194.4 514.6L1196.6 511.4L1192.9 508L1189.3 504.5L1187.1 507.6Z" color="#31b57b"/>
<path d="M1126.1 441.9L1129.8 445.9L1133.4 450.3L1135.6 447.2L1137.8 444.1L1134.2 439.7L1130.5 435.6L1128.3 438.7Z" color="#90d743"/>
<path d="M1236.4 566.8L1240 572.7L1243.7 578.9L1245.9 575.7L1248 572.5L1244.4 566.3L1240.7 560.4L1238.5 563.6Z" color="#21918c"/>
<path d="M1192.3 517.8L1195.9 521.2L1199.6 524.5L1201.8 521.4L1203.9 518.2L1200.3 514.8L1196.6 511.4L1194.4 514.6Z" color="#2cb17e"/>
<path d="M1199.6 524.5L1203.2 528L1206.9 531.4L1209.1 528.3L1211.3 525.1L1207.6 521.6L1203.9 518.2L1201.8 521.4Z" color="#27ad81"/>
<path d="M1229 556.1L1232.7 561.3L1236.4 566.8L1238.5 563.6L1240.7 560.4L1237 554.9L1233.3 549.8L1231.1 552.9Z" color="#1f988b"/>
<path d="M1206.9 531.4L1210.6 535L1214.3 538.8L1216.4 535.6L1218.6 532.4L1214.9 528.7L1211.3 525.1L1209.1 528.3Z" color="#23a983"/>
<path d="M1107.1 437.1L1110.7 438.9L1114.3 441.4L1116.6 438.3L1118.8 435.2L1115.1 432.7L1111.5 430.9L1109.3 434Z" color="#a0da39"/>
<path d="M1239.4 585.3L1243.1 591.8L1246.8 598.5L1249 595.3L1251.1 592.1L1247.4 585.4L1243.7 578.9L1241.6 582.1Z" color="#25858e"/>
<path d="M1221.6 546.9L1225.3 551.4L1229 556.1L1231.1 552.9L1233.3 549.8L1229.6 545L1225.9 540.5L1223.8 543.7Z" color="#1f9f88"/>
<path d="M1151.2 485.2L1154.8 489.7L1158.5 494L1160.7 490.8L1162.9 487.7L1159.2 483.4L1155.5 478.9L1153.4 482.1Z" color="#50c46a"/>
<path d="M1158.5 494L1162.2 498.1L1165.9 502.2L1168.1 499L1170.2 495.8L1166.6 491.8L1162.9 487.7L1160.7 490.8Z" color="#44bf70"/>
<path d="M1214.3 538.8L1217.9 542.7L1221.6 546.9L1223.8 543.7L1225.9 540.5L1222.3 536.4L1218.6 532.4L1216.4 535.6Z" color="#20a486"/>
<path d="M1143.8 475.8L1147.5 480.6L1151.2 485.2L1153.4 482.1L1155.5 478.9L1151.9 474.3L1148.2 469.5L1146 472.7Z" color="#5cc863"/>
<path d="M1165.9 502.2L1169.5 506.1L1173.2 509.9L1175.4 506.7L1177.6 503.5L1173.9 499.7L1170.2 495.8L1168.1 499Z" color="#3bbb75"/>
<path d="M1173.2 509.9L1176.9 513.5L1180.6 517.1L1182.7 514L1184.9 510.8L1181.3 507.2L1177.6 503.5L1175.4 506.7Z" color="#34b679"/>
<path d="M1136.4 466L1140.1 470.9L1143.8 475.8L1146 472.7L1148.2 469.5L1144.5 464.6L1140.8 459.7L1138.6 462.9Z" color="#6ccd5a"/>
<path d="M1114.3 441.4L1118 444.5L1121.7 448.1L1123.9 445L1126.1 441.9L1122.4 438.3L1118.8 435.2L1116.6 438.3Z" color="#98d83e"/>
<path d="M1129 456.6L1132.7 461.2L1136.4 466L1138.6 462.9L1140.8 459.7L1137.1 454.9L1133.4 450.3L1131.2 453.4Z" color="#7cd250"/>
<path d="M1180.6 517.1L1184.2 520.7L1187.9 524.1L1190.1 520.9L1192.3 517.8L1188.6 514.3L1184.9 510.8L1182.7 514Z" color="#2eb37c"/>
<path d="M1121.7 448.1L1125.3 452.2L1129 456.6L1131.2 453.4L1133.4 450.3L1129.8 445.9L1126.1 441.9L1123.9 445Z" color="#8bd646"/>
<path d="M1232 573.2L1235.7 579.1L1239.4 585.3L1241.6 582.1L1243.7 578.9L1240 572.7L1236.4 566.8L1234.2 570Z" color="#218e8d"/>
<path d="M1187.9 524.1L1191.6 527.5L1195.2 530.9L1197.4 527.7L1199.6 524.5L1195.9 521.2L1192.3 517.8L1190.1 520.9Z" color="#28ae80"/>
<path d="M1195.2 530.9L1198.9 534.3L1202.6 537.8L1204.7 534.6L1206.9 531.4L1203.2 528L1199.6 524.5L1197.4 527.7Z" color="#25ab82"/>
<path d="M1224.7 562.5L1228.3 567.6L1232 573.2L1234.2 570L1236.4 566.8L1232.7 561.3L1229 556.1L1226.8 559.3Z" color="#1f968b"/>
<path d="M1202.6 537.8L1206.2 541.4L1209.9 545.2L1212.1 542L1214.3 538.8L1210.6 535L1206.9 531.4L1204.7 534.6Z" color="#22a785"/>
<path d="M1217.3 553.3L1221 557.7L1224.7 562.5L1226.8 559.3L1229 556.1L1225.3 551.4L1221.6 546.9L1219.4 550.1Z" color="#1e9d89"/>
<path d="M1209.9 545.2L1213.6 549.1L1217.3 553.3L1219.4 550.1L1221.6 546.9L1217.9 542.7L1214.3 538.8L1212.1 542Z" color="#1fa287"/>
</g>
<g clip-path="url(#c1)" fill-opacity="0.1" stroke="#e4182c" stroke-width="1.6" stroke-linejoin="round">
<path d="M1270.9 392L1362.4 418.2L1413.6 373.1L1323.1 347.7Z" fill="#c30000"/>
<path d="M1361.9 481.8L1412.8 436L1413.6 373.1L1362.4 418.2Z" fill="#6a0000"/>
<path d="M1361.9 481.8L1362.4 418.2L1270.9 392L1271.2 455.2Z" fill="#e10000"/>
</g>
<text x="31.1" y="21.9" font-family="'Liberation Serif', serif" font-size="29" fill="#000">a)</text>
<text x="857.2" y="21.9" font-family="'Liberation Serif', serif" font-size="29" fill="#000">b)</text>
</g>
</svg>

</body>
</html>
